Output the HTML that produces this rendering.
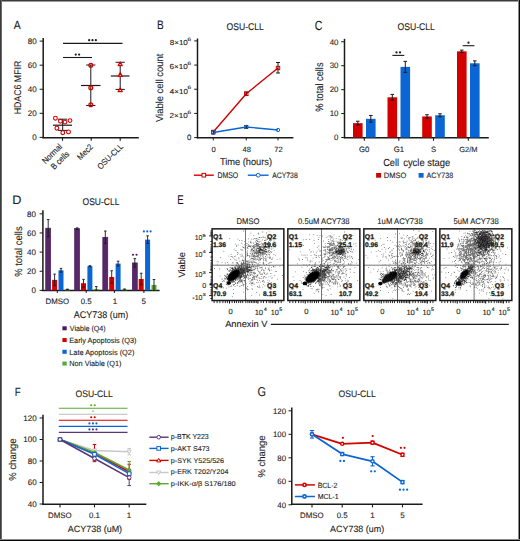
<!DOCTYPE html>
<html><head><meta charset="utf-8"><style>
html,body{margin:0;padding:0;background:#fff;}
svg{display:block;}
text{font-family:"Liberation Sans",sans-serif;text-rendering:geometricPrecision;}
</style></head><body>
<svg width="520" height="541" viewBox="0 0 520 541">
<defs><filter id="bl" x="-50%" y="-50%" width="200%" height="200%"><feGaussianBlur stdDeviation="0.7"/></filter></defs>
<rect x="0" y="0" width="520" height="541" fill="#fff"/>
<path fill="#000" fill-opacity="0.6" d="M237.4 263.0h0.8v0.8h-0.8zM264.3 276.3h0.8v0.8h-0.8zM257.0 275.0h0.8v0.8h-0.8zM256.9 264.5h0.8v0.8h-0.8zM261.6 269.2h0.8v0.8h-0.8zM262.0 274.0h0.8v0.8h-0.8zM232.4 267.9h0.8v0.8h-0.8zM263.4 272.0h0.8v0.8h-0.8zM248.1 277.4h0.8v0.8h-0.8zM247.8 271.3h0.8v0.8h-0.8zM253.1 275.8h0.8v0.8h-0.8zM267.3 272.8h0.8v0.8h-0.8zM270.9 286.0h0.8v0.8h-0.8zM269.3 280.4h0.8v0.8h-0.8zM253.4 275.7h0.8v0.8h-0.8zM250.7 269.3h0.8v0.8h-0.8zM251.4 269.9h0.8v0.8h-0.8zM268.5 276.4h0.8v0.8h-0.8zM247.6 260.5h0.8v0.8h-0.8zM251.6 271.7h0.8v0.8h-0.8zM241.2 267.7h0.8v0.8h-0.8zM229.6 282.9h0.8v0.8h-0.8zM251.4 295.2h0.8v0.8h-0.8zM251.8 273.7h0.8v0.8h-0.8zM266.5 273.6h0.8v0.8h-0.8zM253.8 271.7h0.8v0.8h-0.8zM246.0 287.6h0.8v0.8h-0.8zM262.1 286.7h0.8v0.8h-0.8zM248.6 275.6h0.8v0.8h-0.8zM243.3 283.8h0.8v0.8h-0.8zM238.2 281.5h0.8v0.8h-0.8zM263.1 284.2h0.8v0.8h-0.8zM242.7 284.9h0.8v0.8h-0.8zM245.0 270.1h0.8v0.8h-0.8zM238.9 286.0h0.8v0.8h-0.8zM268.6 267.6h0.8v0.8h-0.8zM244.5 273.4h0.8v0.8h-0.8zM277.2 278.7h0.8v0.8h-0.8zM246.7 261.7h0.8v0.8h-0.8zM245.4 285.2h0.8v0.8h-0.8zM270.8 269.8h0.8v0.8h-0.8zM245.2 272.0h0.8v0.8h-0.8zM233.2 285.0h0.8v0.8h-0.8zM241.2 284.9h0.8v0.8h-0.8zM235.0 267.6h0.8v0.8h-0.8zM255.0 268.4h0.8v0.8h-0.8zM259.9 273.7h0.8v0.8h-0.8zM240.4 281.6h0.8v0.8h-0.8zM260.5 258.5h0.8v0.8h-0.8zM270.4 275.8h0.8v0.8h-0.8zM259.7 259.1h0.8v0.8h-0.8zM244.9 273.3h0.8v0.8h-0.8zM262.9 261.7h0.8v0.8h-0.8zM243.3 260.4h0.8v0.8h-0.8zM249.7 277.9h0.8v0.8h-0.8zM235.2 272.9h0.8v0.8h-0.8zM257.2 286.5h0.8v0.8h-0.8zM258.7 271.4h0.8v0.8h-0.8zM240.3 269.4h0.8v0.8h-0.8zM245.5 277.1h0.8v0.8h-0.8zM251.6 288.0h0.8v0.8h-0.8zM255.0 266.0h0.8v0.8h-0.8zM267.5 279.8h0.8v0.8h-0.8zM253.1 269.0h0.8v0.8h-0.8zM233.4 269.8h0.8v0.8h-0.8zM261.2 267.1h0.8v0.8h-0.8zM238.9 278.5h0.8v0.8h-0.8zM254.5 279.2h0.8v0.8h-0.8zM258.7 284.8h0.8v0.8h-0.8zM243.7 283.9h0.8v0.8h-0.8zM242.2 281.9h0.8v0.8h-0.8zM253.9 276.5h0.8v0.8h-0.8zM261.8 273.2h0.8v0.8h-0.8zM263.2 279.9h0.8v0.8h-0.8zM253.5 270.2h0.8v0.8h-0.8zM244.6 271.9h0.8v0.8h-0.8zM250.1 275.0h0.8v0.8h-0.8zM281.9 275.1h0.8v0.8h-0.8zM259.8 266.9h0.8v0.8h-0.8zM245.0 273.5h0.8v0.8h-0.8zM254.0 266.4h0.8v0.8h-0.8zM268.2 267.9h0.8v0.8h-0.8zM262.9 254.8h0.8v0.8h-0.8zM252.0 277.0h0.8v0.8h-0.8zM254.0 279.3h0.8v0.8h-0.8zM254.9 275.7h0.8v0.8h-0.8zM233.2 272.3h0.8v0.8h-0.8zM228.7 283.5h0.8v0.8h-0.8zM255.2 272.8h0.8v0.8h-0.8zM243.9 271.6h0.8v0.8h-0.8zM270.6 285.5h0.8v0.8h-0.8zM251.5 285.0h0.8v0.8h-0.8zM236.2 262.2h0.8v0.8h-0.8zM247.3 268.8h0.8v0.8h-0.8zM246.5 277.2h0.8v0.8h-0.8zM282.3 264.8h0.8v0.8h-0.8zM252.6 276.9h0.8v0.8h-0.8zM251.8 282.2h0.8v0.8h-0.8zM269.9 262.3h0.8v0.8h-0.8zM253.7 272.5h0.8v0.8h-0.8zM255.7 262.3h0.8v0.8h-0.8zM234.5 259.5h0.8v0.8h-0.8zM257.4 275.5h0.8v0.8h-0.8zM252.8 256.2h0.8v0.8h-0.8zM248.4 269.5h0.8v0.8h-0.8zM238.0 269.9h0.8v0.8h-0.8zM259.1 278.0h0.8v0.8h-0.8zM251.9 278.9h0.8v0.8h-0.8zM246.1 276.4h0.8v0.8h-0.8zM252.5 279.1h0.8v0.8h-0.8zM251.4 273.8h0.8v0.8h-0.8zM250.8 270.0h0.8v0.8h-0.8zM274.4 275.3h0.8v0.8h-0.8zM256.4 292.1h0.8v0.8h-0.8zM266.1 260.4h0.8v0.8h-0.8zM259.1 280.3h0.8v0.8h-0.8zM270.9 282.1h0.8v0.8h-0.8zM259.8 264.4h0.8v0.8h-0.8zM243.4 278.4h0.8v0.8h-0.8zM257.1 266.0h0.8v0.8h-0.8zM248.3 272.3h0.8v0.8h-0.8zM252.7 277.4h0.8v0.8h-0.8zM249.2 265.6h0.8v0.8h-0.8zM264.5 285.4h0.8v0.8h-0.8zM251.0 283.1h0.8v0.8h-0.8zM256.5 279.3h0.8v0.8h-0.8zM256.9 268.1h0.8v0.8h-0.8zM257.8 281.9h0.8v0.8h-0.8zM243.1 291.7h0.8v0.8h-0.8zM273.0 285.8h0.8v0.8h-0.8zM272.0 277.5h0.8v0.8h-0.8zM248.7 270.7h0.8v0.8h-0.8zM244.0 277.1h0.8v0.8h-0.8zM251.8 280.2h0.8v0.8h-0.8zM231.9 296.2h0.8v0.8h-0.8zM274.9 271.0h0.8v0.8h-0.8zM258.9 277.5h0.8v0.8h-0.8zM254.8 272.8h0.8v0.8h-0.8zM250.9 268.6h0.8v0.8h-0.8zM253.9 274.4h0.8v0.8h-0.8zM255.3 267.6h0.8v0.8h-0.8zM252.5 275.2h0.8v0.8h-0.8zM258.1 265.5h0.8v0.8h-0.8zM256.3 281.9h0.8v0.8h-0.8zM258.1 271.0h0.8v0.8h-0.8zM247.2 273.8h0.8v0.8h-0.8zM259.4 285.9h0.8v0.8h-0.8zM250.5 270.1h0.8v0.8h-0.8zM255.9 275.9h0.8v0.8h-0.8zM243.0 270.5h0.8v0.8h-0.8zM251.1 280.3h0.8v0.8h-0.8zM240.2 268.8h0.8v0.8h-0.8zM257.1 264.5h0.8v0.8h-0.8zM253.2 277.4h0.8v0.8h-0.8zM251.0 267.0h0.8v0.8h-0.8zM251.5 272.3h0.8v0.8h-0.8zM255.5 267.7h0.8v0.8h-0.8zM263.0 260.0h0.8v0.8h-0.8zM250.3 275.2h0.8v0.8h-0.8zM261.7 268.5h0.8v0.8h-0.8zM257.6 269.5h0.8v0.8h-0.8zM259.5 287.3h0.8v0.8h-0.8zM248.1 279.0h0.8v0.8h-0.8zM242.8 284.0h0.8v0.8h-0.8zM264.2 273.2h0.8v0.8h-0.8zM240.8 279.8h0.8v0.8h-0.8zM263.6 281.6h0.8v0.8h-0.8zM260.2 259.2h0.8v0.8h-0.8zM245.3 287.1h0.8v0.8h-0.8zM239.8 285.7h0.8v0.8h-0.8zM270.9 277.8h0.8v0.8h-0.8zM263.3 270.4h0.8v0.8h-0.8zM239.8 276.0h0.8v0.8h-0.8zM250.1 274.8h0.8v0.8h-0.8zM259.1 272.6h0.8v0.8h-0.8zM254.0 277.9h0.8v0.8h-0.8zM252.0 289.3h0.8v0.8h-0.8zM256.5 274.8h0.8v0.8h-0.8zM250.0 270.3h0.8v0.8h-0.8zM265.5 273.9h0.8v0.8h-0.8zM241.3 272.2h0.8v0.8h-0.8zM250.7 271.6h0.8v0.8h-0.8zM262.9 264.0h0.8v0.8h-0.8zM257.0 275.2h0.8v0.8h-0.8zM240.3 277.1h0.8v0.8h-0.8zM251.2 278.9h0.8v0.8h-0.8zM247.6 277.9h0.8v0.8h-0.8zM235.4 269.0h0.8v0.8h-0.8zM259.9 281.8h0.8v0.8h-0.8zM252.0 270.2h0.8v0.8h-0.8zM262.9 256.7h0.8v0.8h-0.8zM244.1 281.4h0.8v0.8h-0.8zM258.6 265.7h0.8v0.8h-0.8zM233.2 289.3h0.8v0.8h-0.8zM253.6 267.6h0.8v0.8h-0.8zM252.6 281.8h0.8v0.8h-0.8zM226.2 287.7h0.8v0.8h-0.8zM259.5 257.4h0.8v0.8h-0.8zM259.8 259.7h0.8v0.8h-0.8zM263.5 276.2h0.8v0.8h-0.8zM274.6 266.5h0.8v0.8h-0.8zM252.1 283.1h0.8v0.8h-0.8zM245.7 270.3h0.8v0.8h-0.8zM248.4 274.9h0.8v0.8h-0.8zM241.3 280.4h0.8v0.8h-0.8zM257.5 274.5h0.8v0.8h-0.8zM269.1 269.6h0.8v0.8h-0.8zM265.2 268.5h0.8v0.8h-0.8zM259.7 258.5h0.8v0.8h-0.8zM254.1 273.2h0.8v0.8h-0.8zM247.1 270.9h0.8v0.8h-0.8zM248.6 269.8h0.8v0.8h-0.8zM230.2 273.7h0.8v0.8h-0.8zM246.6 271.6h0.8v0.8h-0.8zM241.5 275.5h0.8v0.8h-0.8zM259.9 271.6h0.8v0.8h-0.8zM247.2 286.3h0.8v0.8h-0.8zM261.9 280.5h0.8v0.8h-0.8zM263.7 270.4h0.8v0.8h-0.8zM250.8 283.8h0.8v0.8h-0.8zM246.6 274.8h0.8v0.8h-0.8zM255.9 277.2h0.8v0.8h-0.8zM249.3 283.0h0.8v0.8h-0.8zM250.3 280.8h0.8v0.8h-0.8zM262.8 278.3h0.8v0.8h-0.8zM259.4 264.6h0.8v0.8h-0.8zM239.0 272.1h0.8v0.8h-0.8zM256.9 285.9h0.8v0.8h-0.8zM239.9 279.2h0.8v0.8h-0.8zM243.6 270.5h0.8v0.8h-0.8zM249.3 280.7h0.8v0.8h-0.8zM254.2 283.8h0.8v0.8h-0.8zM242.2 283.4h0.8v0.8h-0.8zM261.4 273.9h0.8v0.8h-0.8zM256.9 269.7h0.8v0.8h-0.8zM241.2 273.4h0.8v0.8h-0.8zM245.7 298.5h0.8v0.8h-0.8zM247.2 288.6h0.8v0.8h-0.8zM254.1 277.0h0.8v0.8h-0.8zM259.5 267.6h0.8v0.8h-0.8zM261.3 276.3h0.8v0.8h-0.8zM236.9 282.0h0.8v0.8h-0.8zM257.6 277.5h0.8v0.8h-0.8zM267.9 269.1h0.8v0.8h-0.8zM257.2 279.9h0.8v0.8h-0.8zM243.1 285.7h0.8v0.8h-0.8zM237.6 267.0h0.8v0.8h-0.8zM257.3 265.5h0.8v0.8h-0.8zM250.9 262.1h0.8v0.8h-0.8zM252.8 265.9h0.8v0.8h-0.8zM262.0 239.4h0.8v0.8h-0.8zM262.7 247.6h0.8v0.8h-0.8zM260.0 248.9h0.8v0.8h-0.8zM260.5 240.8h0.8v0.8h-0.8zM241.6 249.6h0.8v0.8h-0.8zM253.0 246.4h0.8v0.8h-0.8zM262.6 236.4h0.8v0.8h-0.8zM254.3 245.4h0.8v0.8h-0.8zM252.2 251.5h0.8v0.8h-0.8zM258.6 244.0h0.8v0.8h-0.8zM252.7 254.6h0.8v0.8h-0.8zM255.0 253.2h0.8v0.8h-0.8zM262.7 237.0h0.8v0.8h-0.8zM252.0 249.4h0.8v0.8h-0.8zM262.0 254.4h0.8v0.8h-0.8zM265.2 256.1h0.8v0.8h-0.8zM257.0 248.0h0.8v0.8h-0.8zM265.0 246.6h0.8v0.8h-0.8zM267.0 239.0h0.8v0.8h-0.8zM264.2 248.2h0.8v0.8h-0.8zM245.8 255.7h0.8v0.8h-0.8zM261.8 249.5h0.8v0.8h-0.8zM252.1 246.3h0.8v0.8h-0.8zM270.2 244.0h0.8v0.8h-0.8zM235.3 243.8h0.8v0.8h-0.8zM251.2 248.5h0.8v0.8h-0.8zM256.8 243.4h0.8v0.8h-0.8zM253.7 256.2h0.8v0.8h-0.8zM249.5 262.1h0.8v0.8h-0.8zM255.8 242.2h0.8v0.8h-0.8zM265.1 253.0h0.8v0.8h-0.8zM252.3 254.2h0.8v0.8h-0.8zM246.7 243.3h0.8v0.8h-0.8zM267.5 247.7h0.8v0.8h-0.8zM250.5 252.7h0.8v0.8h-0.8zM266.0 249.2h0.8v0.8h-0.8zM247.0 247.1h0.8v0.8h-0.8zM262.5 254.3h0.8v0.8h-0.8zM272.6 247.7h0.8v0.8h-0.8zM256.2 249.1h0.8v0.8h-0.8zM268.0 243.2h0.8v0.8h-0.8zM268.7 231.5h0.8v0.8h-0.8zM265.2 245.0h0.8v0.8h-0.8zM262.8 253.8h0.8v0.8h-0.8zM251.3 248.8h0.8v0.8h-0.8zM261.3 253.2h0.8v0.8h-0.8zM253.1 242.9h0.8v0.8h-0.8zM246.1 265.9h0.8v0.8h-0.8zM258.3 247.9h0.8v0.8h-0.8zM249.1 255.4h0.8v0.8h-0.8zM255.9 258.7h0.8v0.8h-0.8zM265.6 249.5h0.8v0.8h-0.8zM264.7 242.1h0.8v0.8h-0.8zM257.3 245.6h0.8v0.8h-0.8zM250.7 249.5h0.8v0.8h-0.8zM258.6 258.7h0.8v0.8h-0.8zM236.1 245.0h0.8v0.8h-0.8zM253.2 246.3h0.8v0.8h-0.8zM262.6 252.0h0.8v0.8h-0.8zM259.8 246.3h0.8v0.8h-0.8zM263.1 251.7h0.8v0.8h-0.8zM246.7 247.6h0.8v0.8h-0.8zM250.0 241.7h0.8v0.8h-0.8zM260.6 249.7h0.8v0.8h-0.8zM260.4 243.7h0.8v0.8h-0.8zM258.2 243.4h0.8v0.8h-0.8zM262.3 253.8h0.8v0.8h-0.8zM271.9 257.6h0.8v0.8h-0.8zM254.0 246.4h0.8v0.8h-0.8zM253.0 251.3h0.8v0.8h-0.8zM273.5 254.0h0.8v0.8h-0.8zM244.2 241.2h0.8v0.8h-0.8zM250.6 252.7h0.8v0.8h-0.8zM259.6 251.3h0.8v0.8h-0.8zM272.1 244.0h0.8v0.8h-0.8zM253.7 262.1h0.8v0.8h-0.8zM262.0 244.3h0.8v0.8h-0.8zM245.4 239.4h0.8v0.8h-0.8zM242.5 249.8h0.8v0.8h-0.8zM259.9 255.8h0.8v0.8h-0.8zM258.6 244.8h0.8v0.8h-0.8zM254.4 261.7h0.8v0.8h-0.8zM247.2 250.5h0.8v0.8h-0.8zM259.8 253.4h0.8v0.8h-0.8zM256.8 252.6h0.8v0.8h-0.8zM265.3 248.4h0.8v0.8h-0.8zM256.4 248.1h0.8v0.8h-0.8zM252.8 248.0h0.8v0.8h-0.8zM257.5 250.7h0.8v0.8h-0.8zM269.0 257.9h0.8v0.8h-0.8zM256.5 253.3h0.8v0.8h-0.8zM261.7 254.3h0.8v0.8h-0.8zM259.8 251.1h0.8v0.8h-0.8zM256.3 244.3h0.8v0.8h-0.8zM265.7 257.8h0.8v0.8h-0.8zM264.2 252.2h0.8v0.8h-0.8zM261.5 246.4h0.8v0.8h-0.8zM247.1 253.7h0.8v0.8h-0.8zM261.0 245.7h0.8v0.8h-0.8zM252.8 257.7h0.8v0.8h-0.8zM247.0 260.8h0.8v0.8h-0.8zM264.1 264.8h0.8v0.8h-0.8zM254.6 249.2h0.8v0.8h-0.8zM256.1 250.4h0.8v0.8h-0.8zM258.1 244.5h0.8v0.8h-0.8zM267.1 244.2h0.8v0.8h-0.8zM256.0 253.0h0.8v0.8h-0.8zM255.8 246.5h0.8v0.8h-0.8zM262.1 247.0h0.8v0.8h-0.8zM250.9 248.7h0.8v0.8h-0.8zM258.1 260.4h0.8v0.8h-0.8zM251.9 255.7h0.8v0.8h-0.8zM254.1 247.0h0.8v0.8h-0.8zM257.3 251.1h0.8v0.8h-0.8zM265.6 260.7h0.8v0.8h-0.8zM255.1 258.0h0.8v0.8h-0.8zM266.6 254.6h0.8v0.8h-0.8zM254.3 255.2h0.8v0.8h-0.8zM258.8 251.6h0.8v0.8h-0.8zM257.7 253.7h0.8v0.8h-0.8zM267.4 256.7h0.8v0.8h-0.8zM258.2 255.8h0.8v0.8h-0.8zM269.8 243.3h0.8v0.8h-0.8zM269.9 240.7h0.8v0.8h-0.8zM263.4 253.2h0.8v0.8h-0.8zM270.0 251.2h0.8v0.8h-0.8zM256.2 244.2h0.8v0.8h-0.8zM250.8 254.3h0.8v0.8h-0.8zM257.9 244.7h0.8v0.8h-0.8zM263.3 244.4h0.8v0.8h-0.8zM256.5 246.4h0.8v0.8h-0.8zM271.2 258.9h0.8v0.8h-0.8zM258.5 239.1h0.8v0.8h-0.8zM261.5 249.8h0.8v0.8h-0.8zM262.0 253.0h0.8v0.8h-0.8zM257.4 255.4h0.8v0.8h-0.8zM265.5 250.7h0.8v0.8h-0.8zM256.8 246.2h0.8v0.8h-0.8zM264.4 242.2h0.8v0.8h-0.8zM258.5 244.5h0.8v0.8h-0.8zM249.8 253.3h0.8v0.8h-0.8zM259.4 249.6h0.8v0.8h-0.8zM265.7 239.6h0.8v0.8h-0.8zM259.1 251.2h0.8v0.8h-0.8zM265.4 242.3h0.8v0.8h-0.8zM264.6 250.8h0.8v0.8h-0.8zM269.1 256.8h0.8v0.8h-0.8zM263.4 263.3h0.8v0.8h-0.8zM259.6 246.6h0.8v0.8h-0.8zM257.2 243.2h0.8v0.8h-0.8zM259.4 237.1h0.8v0.8h-0.8zM259.0 252.1h0.8v0.8h-0.8zM266.5 247.1h0.8v0.8h-0.8zM269.3 245.1h0.8v0.8h-0.8zM258.7 237.1h0.8v0.8h-0.8zM254.3 244.2h0.8v0.8h-0.8zM269.8 252.7h0.8v0.8h-0.8zM252.1 252.7h0.8v0.8h-0.8zM262.9 247.9h0.8v0.8h-0.8zM259.8 247.4h0.8v0.8h-0.8zM255.9 238.1h0.8v0.8h-0.8zM259.0 257.5h0.8v0.8h-0.8zM269.4 247.6h0.8v0.8h-0.8zM254.5 248.0h0.8v0.8h-0.8zM265.7 251.6h0.8v0.8h-0.8zM255.6 251.6h0.8v0.8h-0.8zM258.2 252.6h0.8v0.8h-0.8zM256.8 240.0h0.8v0.8h-0.8zM260.0 254.2h0.8v0.8h-0.8zM252.0 248.7h0.8v0.8h-0.8zM265.6 247.0h0.8v0.8h-0.8zM255.2 262.2h0.8v0.8h-0.8zM265.3 255.9h0.8v0.8h-0.8zM253.1 259.7h0.8v0.8h-0.8zM248.3 246.1h0.8v0.8h-0.8zM264.6 257.8h0.8v0.8h-0.8zM253.3 245.1h0.8v0.8h-0.8zM260.9 237.2h0.8v0.8h-0.8zM264.0 252.9h0.8v0.8h-0.8zM256.6 252.7h0.8v0.8h-0.8zM264.9 251.3h0.8v0.8h-0.8zM263.2 258.9h0.8v0.8h-0.8zM256.4 250.4h0.8v0.8h-0.8zM256.0 255.9h0.8v0.8h-0.8zM256.8 252.3h0.8v0.8h-0.8zM260.5 249.8h0.8v0.8h-0.8zM271.2 248.8h0.8v0.8h-0.8zM269.2 254.6h0.8v0.8h-0.8zM268.5 248.3h0.8v0.8h-0.8zM265.9 254.1h0.8v0.8h-0.8zM255.4 251.0h0.8v0.8h-0.8zM258.7 249.1h0.8v0.8h-0.8zM268.4 244.8h0.8v0.8h-0.8zM248.2 238.4h0.8v0.8h-0.8zM256.5 245.3h0.8v0.8h-0.8zM259.7 252.9h0.8v0.8h-0.8zM271.5 251.3h0.8v0.8h-0.8zM262.7 244.7h0.8v0.8h-0.8zM263.5 257.9h0.8v0.8h-0.8zM268.7 237.1h0.8v0.8h-0.8zM265.6 259.3h0.8v0.8h-0.8zM265.2 240.0h0.8v0.8h-0.8zM257.5 253.0h0.8v0.8h-0.8zM262.4 244.3h0.8v0.8h-0.8zM253.6 255.4h0.8v0.8h-0.8zM250.6 258.3h0.8v0.8h-0.8zM259.7 251.2h0.8v0.8h-0.8zM250.6 245.6h0.8v0.8h-0.8zM264.2 240.1h0.8v0.8h-0.8zM273.6 240.6h0.8v0.8h-0.8zM251.4 249.6h0.8v0.8h-0.8zM262.8 253.9h0.8v0.8h-0.8zM257.1 248.1h0.8v0.8h-0.8zM258.0 245.8h0.8v0.8h-0.8zM242.2 255.4h0.8v0.8h-0.8zM261.3 250.3h0.8v0.8h-0.8zM255.4 250.9h0.8v0.8h-0.8zM259.5 248.9h0.8v0.8h-0.8zM267.0 238.6h0.8v0.8h-0.8zM261.3 242.7h0.8v0.8h-0.8zM257.5 258.7h0.8v0.8h-0.8zM252.3 248.7h0.8v0.8h-0.8zM255.6 255.3h0.8v0.8h-0.8zM253.0 238.8h0.8v0.8h-0.8zM263.1 247.1h0.8v0.8h-0.8zM257.5 256.1h0.8v0.8h-0.8zM253.6 247.0h0.8v0.8h-0.8zM260.6 251.9h0.8v0.8h-0.8zM256.1 255.8h0.8v0.8h-0.8zM274.7 246.8h0.8v0.8h-0.8zM272.2 236.2h0.8v0.8h-0.8zM269.1 247.2h0.8v0.8h-0.8zM260.5 247.2h0.8v0.8h-0.8zM255.3 241.4h0.8v0.8h-0.8zM256.9 257.4h0.8v0.8h-0.8zM267.3 247.2h0.8v0.8h-0.8zM256.1 245.0h0.8v0.8h-0.8zM251.5 260.6h0.8v0.8h-0.8zM264.1 250.1h0.8v0.8h-0.8zM256.3 243.0h0.8v0.8h-0.8zM268.4 254.2h0.8v0.8h-0.8zM253.2 255.5h0.8v0.8h-0.8zM252.2 253.4h0.8v0.8h-0.8zM253.1 246.8h0.8v0.8h-0.8zM262.9 252.0h0.8v0.8h-0.8zM266.4 244.1h0.8v0.8h-0.8zM270.2 257.7h0.8v0.8h-0.8zM259.5 252.3h0.8v0.8h-0.8zM254.4 248.4h0.8v0.8h-0.8zM250.7 249.9h0.8v0.8h-0.8zM260.9 257.7h0.8v0.8h-0.8zM266.0 254.4h0.8v0.8h-0.8zM257.2 247.9h0.8v0.8h-0.8zM257.3 250.7h0.8v0.8h-0.8zM246.6 254.2h0.8v0.8h-0.8zM249.1 246.1h0.8v0.8h-0.8zM259.7 246.1h0.8v0.8h-0.8zM270.8 248.7h0.8v0.8h-0.8zM270.2 256.7h0.8v0.8h-0.8zM256.3 251.9h0.8v0.8h-0.8zM268.3 247.3h0.8v0.8h-0.8zM260.2 245.9h0.8v0.8h-0.8zM260.0 247.1h0.8v0.8h-0.8zM260.2 255.6h0.8v0.8h-0.8zM269.0 250.2h0.8v0.8h-0.8zM261.0 254.7h0.8v0.8h-0.8zM257.7 242.7h0.8v0.8h-0.8zM267.1 243.5h0.8v0.8h-0.8zM265.9 243.3h0.8v0.8h-0.8zM271.9 242.8h0.8v0.8h-0.8zM265.3 258.7h0.8v0.8h-0.8zM253.1 258.6h0.8v0.8h-0.8zM254.1 238.3h0.8v0.8h-0.8zM264.5 253.7h0.8v0.8h-0.8zM258.2 233.6h0.8v0.8h-0.8zM259.2 247.4h0.8v0.8h-0.8zM257.1 247.5h0.8v0.8h-0.8zM247.6 245.8h0.8v0.8h-0.8zM271.7 259.0h0.8v0.8h-0.8zM257.2 244.9h0.8v0.8h-0.8zM262.3 256.0h0.8v0.8h-0.8zM264.5 242.1h0.8v0.8h-0.8zM260.7 250.2h0.8v0.8h-0.8zM269.3 256.8h0.8v0.8h-0.8zM263.1 256.9h0.8v0.8h-0.8zM256.9 258.9h0.8v0.8h-0.8zM256.7 251.8h0.8v0.8h-0.8zM265.8 243.6h0.8v0.8h-0.8zM254.9 238.4h0.8v0.8h-0.8zM260.7 249.0h0.8v0.8h-0.8zM257.4 252.5h0.8v0.8h-0.8zM245.4 249.2h0.8v0.8h-0.8zM260.2 247.7h0.8v0.8h-0.8zM264.9 260.3h0.8v0.8h-0.8zM256.6 243.5h0.8v0.8h-0.8zM255.5 249.9h0.8v0.8h-0.8zM263.5 244.0h0.8v0.8h-0.8zM266.3 243.0h0.8v0.8h-0.8zM265.2 252.0h0.8v0.8h-0.8zM262.7 262.8h0.8v0.8h-0.8zM257.8 248.3h0.8v0.8h-0.8zM262.8 254.7h0.8v0.8h-0.8zM250.6 251.1h0.8v0.8h-0.8zM254.6 253.3h0.8v0.8h-0.8zM268.8 249.7h0.8v0.8h-0.8zM258.9 250.5h0.8v0.8h-0.8zM239.7 254.2h0.8v0.8h-0.8zM263.4 250.4h0.8v0.8h-0.8zM256.9 244.8h0.8v0.8h-0.8zM258.4 256.9h0.8v0.8h-0.8zM258.9 257.8h0.8v0.8h-0.8zM242.3 246.5h0.8v0.8h-0.8zM261.4 249.3h0.8v0.8h-0.8zM248.4 245.2h0.8v0.8h-0.8zM268.0 241.3h0.8v0.8h-0.8zM252.9 242.5h0.8v0.8h-0.8zM255.9 253.4h0.8v0.8h-0.8zM263.6 236.7h0.8v0.8h-0.8zM269.4 245.7h0.8v0.8h-0.8zM255.6 259.8h0.8v0.8h-0.8zM259.1 241.6h0.8v0.8h-0.8zM255.3 244.8h0.8v0.8h-0.8zM252.8 247.3h0.8v0.8h-0.8zM265.5 251.5h0.8v0.8h-0.8zM250.3 266.7h0.8v0.8h-0.8zM252.9 250.1h0.8v0.8h-0.8zM259.8 254.1h0.8v0.8h-0.8zM257.4 252.2h0.8v0.8h-0.8zM273.8 249.9h0.8v0.8h-0.8zM252.3 251.4h0.8v0.8h-0.8zM254.2 247.0h0.8v0.8h-0.8zM260.9 251.5h0.8v0.8h-0.8zM257.7 254.6h0.8v0.8h-0.8zM258.3 241.2h0.8v0.8h-0.8zM265.5 247.1h0.8v0.8h-0.8zM267.8 245.3h0.8v0.8h-0.8zM263.4 251.3h0.8v0.8h-0.8zM241.5 240.0h0.8v0.8h-0.8zM252.1 258.1h0.8v0.8h-0.8zM246.9 255.1h0.8v0.8h-0.8zM266.9 252.4h0.8v0.8h-0.8zM264.1 246.3h0.8v0.8h-0.8zM259.5 250.8h0.8v0.8h-0.8zM262.4 253.8h0.8v0.8h-0.8zM258.2 245.0h0.8v0.8h-0.8zM255.8 251.9h0.8v0.8h-0.8zM248.4 241.5h0.8v0.8h-0.8zM256.8 245.9h0.8v0.8h-0.8zM257.8 232.7h0.8v0.8h-0.8zM257.3 247.8h0.8v0.8h-0.8zM264.8 237.0h0.8v0.8h-0.8zM257.5 252.3h0.8v0.8h-0.8zM262.9 256.8h0.8v0.8h-0.8zM266.7 242.8h0.8v0.8h-0.8zM263.9 247.3h0.8v0.8h-0.8zM254.2 258.9h0.8v0.8h-0.8zM255.4 244.0h0.8v0.8h-0.8zM256.9 244.0h0.8v0.8h-0.8zM266.4 251.7h0.8v0.8h-0.8zM269.0 251.9h0.8v0.8h-0.8zM255.5 255.9h0.8v0.8h-0.8zM255.2 246.5h0.8v0.8h-0.8zM258.5 249.6h0.8v0.8h-0.8zM267.6 245.6h0.8v0.8h-0.8zM262.0 249.2h0.8v0.8h-0.8zM251.1 242.5h0.8v0.8h-0.8zM258.1 251.9h0.8v0.8h-0.8zM261.8 252.3h0.8v0.8h-0.8zM259.9 246.5h0.8v0.8h-0.8zM262.5 243.1h0.8v0.8h-0.8zM250.5 247.3h0.8v0.8h-0.8zM250.0 246.1h0.8v0.8h-0.8zM254.6 245.9h0.8v0.8h-0.8zM259.3 244.3h0.8v0.8h-0.8zM256.7 238.6h0.8v0.8h-0.8zM260.6 243.8h0.8v0.8h-0.8zM262.3 231.6h0.8v0.8h-0.8zM254.2 250.9h0.8v0.8h-0.8zM243.1 247.1h0.8v0.8h-0.8zM260.2 250.0h0.8v0.8h-0.8zM227.0 261.9h0.8v0.8h-0.8zM252.4 245.7h0.8v0.8h-0.8zM261.6 258.2h0.8v0.8h-0.8zM250.4 252.8h0.8v0.8h-0.8zM258.6 260.2h0.8v0.8h-0.8zM267.7 265.0h0.8v0.8h-0.8zM240.6 255.8h0.8v0.8h-0.8zM264.3 253.9h0.8v0.8h-0.8zM256.0 265.9h0.8v0.8h-0.8zM252.1 261.7h0.8v0.8h-0.8zM252.2 248.6h0.8v0.8h-0.8zM268.8 257.0h0.8v0.8h-0.8zM240.5 249.1h0.8v0.8h-0.8zM255.6 244.1h0.8v0.8h-0.8zM234.6 285.9h0.8v0.8h-0.8zM270.4 273.1h0.8v0.8h-0.8zM271.2 266.9h0.8v0.8h-0.8zM224.0 275.0h0.8v0.8h-0.8zM269.3 265.5h0.8v0.8h-0.8zM219.8 275.7h0.8v0.8h-0.8zM271.2 252.2h0.8v0.8h-0.8zM252.1 269.4h0.8v0.8h-0.8zM248.8 273.7h0.8v0.8h-0.8zM251.4 268.2h0.8v0.8h-0.8zM251.4 238.8h0.8v0.8h-0.8zM254.4 276.6h0.8v0.8h-0.8zM267.7 282.1h0.8v0.8h-0.8zM258.7 250.8h0.8v0.8h-0.8zM250.4 232.8h0.8v0.8h-0.8zM247.2 271.2h0.8v0.8h-0.8zM216.6 261.5h0.8v0.8h-0.8zM262.9 276.9h0.8v0.8h-0.8zM235.7 250.0h0.8v0.8h-0.8zM221.0 245.0h0.8v0.8h-0.8zM258.4 287.0h0.8v0.8h-0.8zM232.3 277.6h0.8v0.8h-0.8zM256.7 252.1h0.8v0.8h-0.8zM249.1 261.8h0.8v0.8h-0.8zM265.3 277.4h0.8v0.8h-0.8zM258.1 263.7h0.8v0.8h-0.8zM247.2 253.3h0.8v0.8h-0.8zM231.0 285.4h0.8v0.8h-0.8zM243.2 230.6h0.8v0.8h-0.8zM254.2 258.4h0.8v0.8h-0.8zM252.8 283.5h0.8v0.8h-0.8zM248.4 255.2h0.8v0.8h-0.8zM238.5 258.5h0.8v0.8h-0.8zM243.3 261.6h0.8v0.8h-0.8zM236.8 285.1h0.8v0.8h-0.8zM263.5 270.0h0.8v0.8h-0.8zM261.2 270.0h0.8v0.8h-0.8zM260.6 278.1h0.8v0.8h-0.8zM265.8 277.2h0.8v0.8h-0.8zM242.3 258.8h0.8v0.8h-0.8zM238.7 271.9h0.8v0.8h-0.8zM263.0 252.5h0.8v0.8h-0.8zM259.2 294.6h0.8v0.8h-0.8zM269.4 243.6h0.8v0.8h-0.8zM248.7 267.5h0.8v0.8h-0.8zM249.5 264.1h0.8v0.8h-0.8zM268.5 263.3h0.8v0.8h-0.8zM233.0 268.6h0.8v0.8h-0.8zM248.6 260.4h0.8v0.8h-0.8zM241.3 240.0h0.8v0.8h-0.8zM230.7 254.0h0.8v0.8h-0.8zM268.0 243.0h0.8v0.8h-0.8zM238.8 266.1h0.8v0.8h-0.8zM238.1 267.8h0.8v0.8h-0.8zM242.6 263.0h0.8v0.8h-0.8zM251.7 258.8h0.8v0.8h-0.8zM221.6 238.8h0.8v0.8h-0.8zM249.5 278.1h0.8v0.8h-0.8zM241.6 266.1h0.8v0.8h-0.8zM252.6 265.4h0.8v0.8h-0.8zM265.6 238.4h0.8v0.8h-0.8zM254.4 256.4h0.8v0.8h-0.8zM245.2 247.2h0.8v0.8h-0.8zM237.8 244.8h0.8v0.8h-0.8zM233.0 293.1h0.8v0.8h-0.8zM276.6 259.0h0.8v0.8h-0.8zM261.7 245.5h0.8v0.8h-0.8zM252.3 278.5h0.8v0.8h-0.8zM249.4 245.2h0.8v0.8h-0.8zM246.3 245.2h0.8v0.8h-0.8zM228.4 255.7h0.8v0.8h-0.8zM243.9 247.8h0.8v0.8h-0.8zM236.3 246.2h0.8v0.8h-0.8zM253.8 277.9h0.8v0.8h-0.8zM246.8 289.4h0.8v0.8h-0.8zM224.9 262.6h0.8v0.8h-0.8zM232.1 256.7h0.8v0.8h-0.8zM251.7 266.5h0.8v0.8h-0.8zM267.7 251.3h0.8v0.8h-0.8zM230.7 256.3h0.8v0.8h-0.8zM254.7 249.3h0.8v0.8h-0.8zM264.0 281.8h0.8v0.8h-0.8zM227.9 263.8h0.8v0.8h-0.8zM266.0 232.6h0.8v0.8h-0.8zM253.3 255.8h0.8v0.8h-0.8zM227.9 276.8h0.8v0.8h-0.8zM253.5 252.3h0.8v0.8h-0.8zM257.0 267.6h0.8v0.8h-0.8zM262.1 266.8h0.8v0.8h-0.8zM256.5 242.8h0.8v0.8h-0.8zM243.5 260.6h0.8v0.8h-0.8zM244.2 244.5h0.8v0.8h-0.8zM221.7 262.2h0.8v0.8h-0.8zM250.6 250.9h0.8v0.8h-0.8zM243.6 246.7h0.8v0.8h-0.8zM238.4 257.5h0.8v0.8h-0.8zM240.1 268.1h0.8v0.8h-0.8zM247.9 260.7h0.8v0.8h-0.8zM256.4 276.2h0.8v0.8h-0.8zM259.5 262.0h0.8v0.8h-0.8zM247.6 247.9h0.8v0.8h-0.8zM244.8 268.2h0.8v0.8h-0.8zM253.6 253.6h0.8v0.8h-0.8zM229.3 237.9h0.8v0.8h-0.8zM255.1 272.9h0.8v0.8h-0.8zM255.9 240.1h0.8v0.8h-0.8zM246.8 261.9h0.8v0.8h-0.8zM235.8 263.6h0.8v0.8h-0.8zM247.0 247.5h0.8v0.8h-0.8zM230.7 269.9h0.8v0.8h-0.8zM255.7 246.7h0.8v0.8h-0.8zM234.3 271.0h0.8v0.8h-0.8zM259.4 254.7h0.8v0.8h-0.8zM274.9 254.9h0.8v0.8h-0.8zM233.6 273.7h0.8v0.8h-0.8zM247.2 263.6h0.8v0.8h-0.8zM250.7 245.2h0.8v0.8h-0.8zM231.6 256.2h0.8v0.8h-0.8zM272.0 245.2h0.8v0.8h-0.8zM271.3 261.9h0.8v0.8h-0.8zM232.8 262.5h0.8v0.8h-0.8zM258.9 246.6h0.8v0.8h-0.8zM216.9 263.7h0.8v0.8h-0.8zM232.8 264.9h0.8v0.8h-0.8zM220.3 256.9h0.8v0.8h-0.8zM237.5 238.7h0.8v0.8h-0.8zM246.3 261.2h0.8v0.8h-0.8zM241.4 242.8h0.8v0.8h-0.8zM253.4 235.0h0.8v0.8h-0.8zM258.4 265.5h0.8v0.8h-0.8zM276.2 270.9h0.8v0.8h-0.8zM255.6 262.4h0.8v0.8h-0.8zM250.5 240.8h0.8v0.8h-0.8zM272.9 266.0h0.8v0.8h-0.8zM245.6 243.3h0.8v0.8h-0.8zM273.2 266.1h0.8v0.8h-0.8zM231.7 268.0h0.8v0.8h-0.8zM279.6 258.5h0.8v0.8h-0.8zM256.3 253.2h0.8v0.8h-0.8zM240.3 273.4h0.8v0.8h-0.8zM248.2 269.6h0.8v0.8h-0.8zM245.4 268.8h0.8v0.8h-0.8zM263.0 245.0h0.8v0.8h-0.8zM233.4 257.8h0.8v0.8h-0.8zM263.0 262.6h0.8v0.8h-0.8zM269.4 240.1h0.8v0.8h-0.8zM257.8 250.4h0.8v0.8h-0.8zM251.7 263.2h0.8v0.8h-0.8zM235.0 255.7h0.8v0.8h-0.8zM232.0 262.5h0.8v0.8h-0.8zM236.9 252.1h0.8v0.8h-0.8zM253.5 250.0h0.8v0.8h-0.8zM267.9 250.2h0.8v0.8h-0.8zM263.3 262.7h0.8v0.8h-0.8zM234.0 255.9h0.8v0.8h-0.8zM237.1 253.9h0.8v0.8h-0.8zM245.9 283.5h0.8v0.8h-0.8zM243.6 280.1h0.8v0.8h-0.8zM257.0 241.1h0.8v0.8h-0.8zM214.2 268.1h0.8v0.8h-0.8zM219.2 268.6h0.8v0.8h-0.8zM266.1 264.1h0.8v0.8h-0.8zM246.9 255.4h0.8v0.8h-0.8zM254.1 254.7h0.8v0.8h-0.8zM241.8 253.8h0.8v0.8h-0.8zM268.2 250.4h0.8v0.8h-0.8zM256.0 243.2h0.8v0.8h-0.8zM239.1 240.2h0.8v0.8h-0.8zM247.0 268.1h0.8v0.8h-0.8zM254.8 252.2h0.8v0.8h-0.8zM259.6 254.1h0.8v0.8h-0.8zM255.9 262.6h0.8v0.8h-0.8zM229.9 269.3h0.8v0.8h-0.8zM248.4 289.3h0.8v0.8h-0.8zM246.5 251.4h0.8v0.8h-0.8zM273.2 266.4h0.8v0.8h-0.8zM279.5 265.8h0.8v0.8h-0.8zM246.9 268.7h0.8v0.8h-0.8zM237.9 252.8h0.8v0.8h-0.8zM241.5 255.8h0.8v0.8h-0.8zM262.2 252.3h0.8v0.8h-0.8zM255.1 252.1h0.8v0.8h-0.8zM246.9 261.1h0.8v0.8h-0.8zM233.4 272.6h0.8v0.8h-0.8zM253.4 276.2h0.8v0.8h-0.8zM265.0 267.5h0.8v0.8h-0.8zM247.8 244.1h0.8v0.8h-0.8zM246.7 252.6h0.8v0.8h-0.8zM254.0 252.6h0.8v0.8h-0.8zM268.3 252.5h0.8v0.8h-0.8zM246.4 271.4h0.8v0.8h-0.8zM250.1 242.4h0.8v0.8h-0.8zM256.5 256.2h0.8v0.8h-0.8zM218.3 261.5h0.8v0.8h-0.8zM233.8 248.8h0.8v0.8h-0.8zM257.6 262.9h0.8v0.8h-0.8zM245.6 288.2h0.8v0.8h-0.8zM256.6 250.6h0.8v0.8h-0.8zM253.8 257.2h0.8v0.8h-0.8zM216.1 237.5h0.8v0.8h-0.8zM228.6 286.8h0.8v0.8h-0.8zM247.3 255.1h0.8v0.8h-0.8zM241.4 272.1h0.8v0.8h-0.8zM250.5 281.9h0.8v0.8h-0.8zM262.3 281.1h0.8v0.8h-0.8zM248.3 263.9h0.8v0.8h-0.8zM243.4 256.6h0.8v0.8h-0.8zM223.4 251.0h0.8v0.8h-0.8zM235.4 250.0h0.8v0.8h-0.8zM268.9 262.4h0.8v0.8h-0.8zM269.0 270.4h0.8v0.8h-0.8zM264.3 272.4h0.8v0.8h-0.8zM240.8 269.7h0.8v0.8h-0.8zM245.1 251.7h0.8v0.8h-0.8zM268.5 288.1h0.8v0.8h-0.8zM235.0 282.3h0.8v0.8h-0.8zM262.9 247.4h0.8v0.8h-0.8zM254.3 263.9h0.8v0.8h-0.8zM255.9 254.0h0.8v0.8h-0.8zM230.3 259.3h0.8v0.8h-0.8zM263.4 269.4h0.8v0.8h-0.8zM260.3 273.7h0.8v0.8h-0.8z"/><path fill="#000" fill-opacity="0.75" d="M236.6 275.2h0.85v0.85h-0.85zM236.7 271.8h0.85v0.85h-0.85zM232.5 274.3h0.85v0.85h-0.85zM244.8 270.7h0.85v0.85h-0.85zM244.3 270.2h0.85v0.85h-0.85zM240.5 271.9h0.85v0.85h-0.85zM228.1 280.8h0.85v0.85h-0.85zM241.1 272.8h0.85v0.85h-0.85zM228.0 270.4h0.85v0.85h-0.85zM232.8 273.1h0.85v0.85h-0.85zM239.9 271.3h0.85v0.85h-0.85zM241.2 268.2h0.85v0.85h-0.85zM240.0 273.0h0.85v0.85h-0.85zM234.1 281.2h0.85v0.85h-0.85zM241.4 275.5h0.85v0.85h-0.85zM234.4 271.3h0.85v0.85h-0.85zM236.0 273.0h0.85v0.85h-0.85zM241.9 271.4h0.85v0.85h-0.85zM235.4 269.9h0.85v0.85h-0.85zM235.0 278.8h0.85v0.85h-0.85zM233.3 275.8h0.85v0.85h-0.85zM240.7 265.1h0.85v0.85h-0.85zM238.4 277.4h0.85v0.85h-0.85zM226.0 277.1h0.85v0.85h-0.85zM237.5 269.4h0.85v0.85h-0.85zM241.1 270.6h0.85v0.85h-0.85zM229.3 280.1h0.85v0.85h-0.85zM242.1 274.1h0.85v0.85h-0.85zM246.7 269.5h0.85v0.85h-0.85zM238.8 266.8h0.85v0.85h-0.85zM241.8 268.1h0.85v0.85h-0.85zM235.4 268.6h0.85v0.85h-0.85zM232.3 273.1h0.85v0.85h-0.85zM245.8 260.4h0.85v0.85h-0.85zM229.4 277.7h0.85v0.85h-0.85zM246.8 270.3h0.85v0.85h-0.85zM226.7 268.0h0.85v0.85h-0.85zM240.2 268.3h0.85v0.85h-0.85zM231.4 279.6h0.85v0.85h-0.85zM244.7 269.7h0.85v0.85h-0.85zM239.6 273.4h0.85v0.85h-0.85zM247.7 270.0h0.85v0.85h-0.85zM241.2 273.0h0.85v0.85h-0.85zM228.7 282.2h0.85v0.85h-0.85zM243.8 271.6h0.85v0.85h-0.85zM226.3 275.7h0.85v0.85h-0.85zM243.2 262.6h0.85v0.85h-0.85zM237.0 277.0h0.85v0.85h-0.85zM230.2 282.7h0.85v0.85h-0.85zM241.4 270.1h0.85v0.85h-0.85zM240.0 274.0h0.85v0.85h-0.85zM238.8 276.6h0.85v0.85h-0.85zM234.1 272.7h0.85v0.85h-0.85zM244.4 269.3h0.85v0.85h-0.85zM232.8 278.8h0.85v0.85h-0.85zM246.9 266.2h0.85v0.85h-0.85zM229.8 276.0h0.85v0.85h-0.85zM237.2 271.6h0.85v0.85h-0.85zM246.5 264.0h0.85v0.85h-0.85zM245.7 263.5h0.85v0.85h-0.85zM233.4 277.2h0.85v0.85h-0.85zM244.9 272.4h0.85v0.85h-0.85zM240.2 271.9h0.85v0.85h-0.85zM239.0 274.2h0.85v0.85h-0.85zM237.0 274.0h0.85v0.85h-0.85zM241.5 270.6h0.85v0.85h-0.85zM242.7 272.3h0.85v0.85h-0.85zM250.2 267.6h0.85v0.85h-0.85zM235.5 272.1h0.85v0.85h-0.85zM238.0 276.1h0.85v0.85h-0.85zM236.1 274.9h0.85v0.85h-0.85zM249.1 256.6h0.85v0.85h-0.85zM231.4 276.7h0.85v0.85h-0.85zM240.5 272.1h0.85v0.85h-0.85zM235.5 276.3h0.85v0.85h-0.85zM239.8 269.4h0.85v0.85h-0.85zM252.7 266.5h0.85v0.85h-0.85zM234.8 273.6h0.85v0.85h-0.85zM236.7 272.8h0.85v0.85h-0.85zM221.7 278.6h0.85v0.85h-0.85zM244.2 264.7h0.85v0.85h-0.85zM237.7 276.4h0.85v0.85h-0.85zM243.2 275.7h0.85v0.85h-0.85zM227.9 276.0h0.85v0.85h-0.85zM236.1 275.9h0.85v0.85h-0.85zM244.7 258.3h0.85v0.85h-0.85zM244.6 263.3h0.85v0.85h-0.85zM242.2 264.3h0.85v0.85h-0.85zM239.2 276.6h0.85v0.85h-0.85zM237.2 273.6h0.85v0.85h-0.85zM242.9 270.5h0.85v0.85h-0.85zM237.6 278.7h0.85v0.85h-0.85zM244.4 268.0h0.85v0.85h-0.85zM254.6 259.5h0.85v0.85h-0.85zM243.6 268.5h0.85v0.85h-0.85zM238.9 274.8h0.85v0.85h-0.85zM239.4 274.2h0.85v0.85h-0.85zM228.9 270.9h0.85v0.85h-0.85zM241.8 266.7h0.85v0.85h-0.85zM231.9 269.5h0.85v0.85h-0.85zM245.7 271.5h0.85v0.85h-0.85zM246.9 264.2h0.85v0.85h-0.85zM238.1 267.8h0.85v0.85h-0.85zM242.7 276.4h0.85v0.85h-0.85zM232.8 281.3h0.85v0.85h-0.85zM244.0 268.7h0.85v0.85h-0.85zM226.3 283.9h0.85v0.85h-0.85zM237.5 270.2h0.85v0.85h-0.85zM240.5 272.8h0.85v0.85h-0.85zM247.1 263.8h0.85v0.85h-0.85zM244.9 274.9h0.85v0.85h-0.85zM246.8 267.3h0.85v0.85h-0.85zM233.6 278.7h0.85v0.85h-0.85zM238.8 272.5h0.85v0.85h-0.85zM246.6 267.0h0.85v0.85h-0.85zM224.3 277.7h0.85v0.85h-0.85zM227.0 281.2h0.85v0.85h-0.85zM240.0 269.0h0.85v0.85h-0.85zM238.0 275.7h0.85v0.85h-0.85zM238.6 277.4h0.85v0.85h-0.85zM237.7 276.7h0.85v0.85h-0.85zM247.0 274.3h0.85v0.85h-0.85zM234.1 277.9h0.85v0.85h-0.85zM226.8 273.6h0.85v0.85h-0.85zM226.3 282.5h0.85v0.85h-0.85zM230.7 276.0h0.85v0.85h-0.85zM236.9 272.8h0.85v0.85h-0.85zM234.6 275.1h0.85v0.85h-0.85zM248.8 267.2h0.85v0.85h-0.85zM241.3 274.8h0.85v0.85h-0.85zM236.9 267.9h0.85v0.85h-0.85zM234.8 278.3h0.85v0.85h-0.85zM228.2 274.9h0.85v0.85h-0.85zM244.1 272.5h0.85v0.85h-0.85zM238.1 275.5h0.85v0.85h-0.85zM239.1 267.1h0.85v0.85h-0.85zM228.7 274.5h0.85v0.85h-0.85zM243.6 267.3h0.85v0.85h-0.85zM232.7 272.0h0.85v0.85h-0.85zM228.9 276.5h0.85v0.85h-0.85zM231.0 277.3h0.85v0.85h-0.85zM223.9 280.7h0.85v0.85h-0.85zM234.3 266.5h0.85v0.85h-0.85zM242.4 269.1h0.85v0.85h-0.85zM224.7 275.5h0.85v0.85h-0.85zM239.8 269.6h0.85v0.85h-0.85zM242.8 273.0h0.85v0.85h-0.85zM242.1 271.7h0.85v0.85h-0.85zM246.1 271.0h0.85v0.85h-0.85zM240.8 262.7h0.85v0.85h-0.85zM243.5 274.9h0.85v0.85h-0.85zM236.3 271.4h0.85v0.85h-0.85zM249.7 259.5h0.85v0.85h-0.85zM240.9 280.6h0.85v0.85h-0.85zM232.5 277.9h0.85v0.85h-0.85zM249.4 266.2h0.85v0.85h-0.85zM241.5 274.3h0.85v0.85h-0.85zM232.7 274.7h0.85v0.85h-0.85zM239.9 274.8h0.85v0.85h-0.85zM237.9 271.7h0.85v0.85h-0.85zM232.0 274.0h0.85v0.85h-0.85zM243.5 270.1h0.85v0.85h-0.85zM233.0 271.5h0.85v0.85h-0.85zM254.1 268.9h0.85v0.85h-0.85zM241.9 260.1h0.85v0.85h-0.85zM241.8 272.4h0.85v0.85h-0.85zM248.2 269.0h0.85v0.85h-0.85zM237.7 274.6h0.85v0.85h-0.85zM226.4 282.3h0.85v0.85h-0.85zM240.0 268.6h0.85v0.85h-0.85zM246.1 275.6h0.85v0.85h-0.85zM229.7 273.9h0.85v0.85h-0.85zM239.8 272.2h0.85v0.85h-0.85zM235.7 269.6h0.85v0.85h-0.85zM250.8 270.1h0.85v0.85h-0.85zM230.9 270.6h0.85v0.85h-0.85zM248.3 271.2h0.85v0.85h-0.85zM249.0 270.1h0.85v0.85h-0.85zM232.9 276.0h0.85v0.85h-0.85zM225.1 275.8h0.85v0.85h-0.85zM237.7 274.6h0.85v0.85h-0.85zM233.7 274.0h0.85v0.85h-0.85zM240.9 272.5h0.85v0.85h-0.85zM241.9 271.3h0.85v0.85h-0.85zM236.2 276.5h0.85v0.85h-0.85zM238.4 268.9h0.85v0.85h-0.85zM234.3 274.2h0.85v0.85h-0.85zM237.4 273.3h0.85v0.85h-0.85zM238.1 273.1h0.85v0.85h-0.85zM237.3 267.7h0.85v0.85h-0.85zM240.6 275.3h0.85v0.85h-0.85zM240.7 270.3h0.85v0.85h-0.85zM240.8 267.1h0.85v0.85h-0.85zM226.7 278.3h0.85v0.85h-0.85zM232.5 278.1h0.85v0.85h-0.85zM231.6 265.1h0.85v0.85h-0.85zM231.9 281.8h0.85v0.85h-0.85zM235.8 268.0h0.85v0.85h-0.85zM233.5 276.7h0.85v0.85h-0.85zM241.1 271.6h0.85v0.85h-0.85zM247.0 270.7h0.85v0.85h-0.85zM238.0 274.8h0.85v0.85h-0.85zM248.0 271.3h0.85v0.85h-0.85zM244.2 264.9h0.85v0.85h-0.85zM237.2 275.7h0.85v0.85h-0.85zM236.3 277.5h0.85v0.85h-0.85zM241.7 274.2h0.85v0.85h-0.85zM236.8 283.2h0.85v0.85h-0.85zM245.5 267.8h0.85v0.85h-0.85zM238.6 282.5h0.85v0.85h-0.85zM236.0 276.9h0.85v0.85h-0.85zM244.0 269.4h0.85v0.85h-0.85zM231.1 276.6h0.85v0.85h-0.85zM240.3 275.8h0.85v0.85h-0.85zM242.8 270.1h0.85v0.85h-0.85zM243.2 271.9h0.85v0.85h-0.85zM239.3 272.0h0.85v0.85h-0.85zM236.6 275.8h0.85v0.85h-0.85zM231.8 273.0h0.85v0.85h-0.85zM238.1 266.5h0.85v0.85h-0.85zM235.5 265.6h0.85v0.85h-0.85zM234.0 276.7h0.85v0.85h-0.85zM241.5 270.4h0.85v0.85h-0.85zM236.7 267.4h0.85v0.85h-0.85zM249.1 268.9h0.85v0.85h-0.85zM244.7 265.5h0.85v0.85h-0.85zM237.0 265.6h0.85v0.85h-0.85zM242.8 273.7h0.85v0.85h-0.85zM226.7 277.8h0.85v0.85h-0.85zM241.9 263.4h0.85v0.85h-0.85zM227.1 273.6h0.85v0.85h-0.85zM234.3 268.6h0.85v0.85h-0.85zM238.3 273.3h0.85v0.85h-0.85zM241.9 273.3h0.85v0.85h-0.85zM247.1 272.5h0.85v0.85h-0.85zM230.2 274.3h0.85v0.85h-0.85zM231.7 271.2h0.85v0.85h-0.85zM237.6 272.6h0.85v0.85h-0.85zM241.0 264.5h0.85v0.85h-0.85zM230.7 276.0h0.85v0.85h-0.85zM236.9 271.7h0.85v0.85h-0.85zM237.7 269.5h0.85v0.85h-0.85zM242.3 271.7h0.85v0.85h-0.85zM237.6 269.9h0.85v0.85h-0.85zM237.1 262.0h0.85v0.85h-0.85zM232.2 275.4h0.85v0.85h-0.85zM229.1 277.7h0.85v0.85h-0.85zM239.0 266.4h0.85v0.85h-0.85zM236.6 271.8h0.85v0.85h-0.85zM240.9 273.4h0.85v0.85h-0.85zM237.9 269.1h0.85v0.85h-0.85zM237.2 272.5h0.85v0.85h-0.85zM242.5 271.3h0.85v0.85h-0.85zM233.8 269.1h0.85v0.85h-0.85zM235.9 270.5h0.85v0.85h-0.85zM231.4 275.2h0.85v0.85h-0.85zM235.2 274.2h0.85v0.85h-0.85zM241.2 269.1h0.85v0.85h-0.85zM252.0 264.1h0.85v0.85h-0.85zM244.7 269.5h0.85v0.85h-0.85zM244.8 259.5h0.85v0.85h-0.85zM233.6 275.6h0.85v0.85h-0.85zM241.7 279.9h0.85v0.85h-0.85zM240.0 276.5h0.85v0.85h-0.85zM242.7 273.8h0.85v0.85h-0.85zM241.2 270.2h0.85v0.85h-0.85zM241.2 266.5h0.85v0.85h-0.85zM245.2 264.7h0.85v0.85h-0.85zM239.6 280.1h0.85v0.85h-0.85zM236.8 273.1h0.85v0.85h-0.85zM245.1 269.0h0.85v0.85h-0.85zM233.3 275.8h0.85v0.85h-0.85zM241.6 273.4h0.85v0.85h-0.85zM233.5 281.7h0.85v0.85h-0.85zM248.1 267.4h0.85v0.85h-0.85zM239.7 269.8h0.85v0.85h-0.85zM246.6 265.3h0.85v0.85h-0.85zM242.1 268.4h0.85v0.85h-0.85zM233.9 277.3h0.85v0.85h-0.85zM246.1 268.3h0.85v0.85h-0.85zM234.0 277.6h0.85v0.85h-0.85zM237.8 273.7h0.85v0.85h-0.85zM247.2 272.3h0.85v0.85h-0.85zM235.0 283.0h0.85v0.85h-0.85zM238.1 275.5h0.85v0.85h-0.85zM234.2 274.1h0.85v0.85h-0.85zM227.6 284.7h0.85v0.85h-0.85zM246.3 263.4h0.85v0.85h-0.85zM229.1 270.4h0.85v0.85h-0.85zM245.2 267.0h0.85v0.85h-0.85zM237.7 271.3h0.85v0.85h-0.85zM237.4 268.4h0.85v0.85h-0.85zM238.2 266.5h0.85v0.85h-0.85zM237.7 273.8h0.85v0.85h-0.85zM240.9 270.0h0.85v0.85h-0.85zM232.7 275.7h0.85v0.85h-0.85zM235.2 280.1h0.85v0.85h-0.85zM242.7 269.6h0.85v0.85h-0.85zM235.3 271.0h0.85v0.85h-0.85zM232.5 273.7h0.85v0.85h-0.85zM239.9 273.5h0.85v0.85h-0.85zM241.5 279.0h0.85v0.85h-0.85zM233.9 274.5h0.85v0.85h-0.85zM254.9 256.5h0.85v0.85h-0.85zM235.0 274.6h0.85v0.85h-0.85zM239.0 273.5h0.85v0.85h-0.85zM236.7 274.5h0.85v0.85h-0.85zM238.4 275.3h0.85v0.85h-0.85zM226.7 274.5h0.85v0.85h-0.85zM238.1 268.2h0.85v0.85h-0.85zM231.8 278.0h0.85v0.85h-0.85zM234.2 276.8h0.85v0.85h-0.85zM242.6 271.3h0.85v0.85h-0.85zM241.1 270.4h0.85v0.85h-0.85zM229.6 276.5h0.85v0.85h-0.85zM240.8 268.9h0.85v0.85h-0.85zM237.5 275.6h0.85v0.85h-0.85zM232.8 277.5h0.85v0.85h-0.85zM249.3 264.5h0.85v0.85h-0.85zM239.0 271.3h0.85v0.85h-0.85zM247.3 269.0h0.85v0.85h-0.85zM243.5 266.9h0.85v0.85h-0.85zM238.0 272.4h0.85v0.85h-0.85zM227.4 283.4h0.85v0.85h-0.85zM243.5 262.7h0.85v0.85h-0.85zM242.6 269.6h0.85v0.85h-0.85zM240.8 272.5h0.85v0.85h-0.85zM229.1 276.0h0.85v0.85h-0.85zM247.1 265.6h0.85v0.85h-0.85zM232.0 270.0h0.85v0.85h-0.85zM230.8 277.4h0.85v0.85h-0.85zM248.3 269.0h0.85v0.85h-0.85zM239.6 280.5h0.85v0.85h-0.85zM235.0 271.2h0.85v0.85h-0.85zM241.3 273.0h0.85v0.85h-0.85zM232.0 270.7h0.85v0.85h-0.85zM239.8 272.5h0.85v0.85h-0.85zM230.3 275.5h0.85v0.85h-0.85zM234.8 275.8h0.85v0.85h-0.85zM237.4 272.4h0.85v0.85h-0.85zM236.0 277.6h0.85v0.85h-0.85zM246.4 266.7h0.85v0.85h-0.85zM243.2 266.8h0.85v0.85h-0.85zM238.5 275.1h0.85v0.85h-0.85zM247.2 266.3h0.85v0.85h-0.85zM237.7 273.4h0.85v0.85h-0.85zM229.1 276.9h0.85v0.85h-0.85zM234.0 275.9h0.85v0.85h-0.85zM231.3 267.8h0.85v0.85h-0.85zM238.3 273.3h0.85v0.85h-0.85zM234.8 277.6h0.85v0.85h-0.85zM236.5 270.7h0.85v0.85h-0.85zM241.0 264.6h0.85v0.85h-0.85zM234.0 274.3h0.85v0.85h-0.85zM243.2 269.2h0.85v0.85h-0.85zM240.0 268.8h0.85v0.85h-0.85zM239.9 278.1h0.85v0.85h-0.85zM234.0 283.9h0.85v0.85h-0.85zM234.2 274.4h0.85v0.85h-0.85zM239.1 275.9h0.85v0.85h-0.85zM230.7 267.7h0.85v0.85h-0.85zM241.7 273.7h0.85v0.85h-0.85zM241.8 281.0h0.85v0.85h-0.85zM239.3 272.8h0.85v0.85h-0.85zM243.7 271.0h0.85v0.85h-0.85zM248.1 262.4h0.85v0.85h-0.85zM235.8 259.7h0.85v0.85h-0.85zM243.0 268.4h0.85v0.85h-0.85zM243.6 278.2h0.85v0.85h-0.85zM238.1 271.3h0.85v0.85h-0.85zM235.1 270.5h0.85v0.85h-0.85zM234.3 276.8h0.85v0.85h-0.85zM238.3 272.5h0.85v0.85h-0.85zM237.1 276.5h0.85v0.85h-0.85zM241.1 270.3h0.85v0.85h-0.85zM242.1 269.7h0.85v0.85h-0.85zM231.2 281.6h0.85v0.85h-0.85zM240.9 267.1h0.85v0.85h-0.85zM244.6 270.5h0.85v0.85h-0.85zM228.7 283.5h0.85v0.85h-0.85zM240.1 274.9h0.85v0.85h-0.85zM239.3 271.2h0.85v0.85h-0.85zM228.8 280.9h0.85v0.85h-0.85zM238.3 271.1h0.85v0.85h-0.85zM240.2 271.6h0.85v0.85h-0.85zM242.2 268.8h0.85v0.85h-0.85zM237.9 263.9h0.85v0.85h-0.85zM235.6 276.3h0.85v0.85h-0.85zM246.1 266.9h0.85v0.85h-0.85zM237.4 279.0h0.85v0.85h-0.85zM236.1 276.3h0.85v0.85h-0.85zM248.2 267.5h0.85v0.85h-0.85zM245.5 265.8h0.85v0.85h-0.85zM239.3 271.4h0.85v0.85h-0.85zM238.8 276.5h0.85v0.85h-0.85zM252.4 262.5h0.85v0.85h-0.85zM234.6 276.1h0.85v0.85h-0.85zM231.8 277.5h0.85v0.85h-0.85zM241.5 269.5h0.85v0.85h-0.85zM241.3 264.6h0.85v0.85h-0.85zM242.7 263.9h0.85v0.85h-0.85zM233.9 272.2h0.85v0.85h-0.85zM235.7 277.0h0.85v0.85h-0.85zM238.6 270.5h0.85v0.85h-0.85zM241.4 277.0h0.85v0.85h-0.85zM238.1 273.8h0.85v0.85h-0.85zM245.5 269.7h0.85v0.85h-0.85zM230.4 286.2h0.85v0.85h-0.85zM251.4 257.8h0.85v0.85h-0.85zM237.9 274.1h0.85v0.85h-0.85zM243.9 272.1h0.85v0.85h-0.85zM236.5 269.0h0.85v0.85h-0.85zM238.7 276.2h0.85v0.85h-0.85zM231.6 271.5h0.85v0.85h-0.85zM238.0 264.7h0.85v0.85h-0.85zM236.5 271.4h0.85v0.85h-0.85zM240.8 268.2h0.85v0.85h-0.85zM232.8 273.4h0.85v0.85h-0.85zM237.8 269.8h0.85v0.85h-0.85zM238.2 275.3h0.85v0.85h-0.85zM245.2 275.6h0.85v0.85h-0.85zM233.4 273.0h0.85v0.85h-0.85zM223.2 287.4h0.85v0.85h-0.85zM233.8 274.4h0.85v0.85h-0.85zM241.2 265.3h0.85v0.85h-0.85zM240.9 270.9h0.85v0.85h-0.85zM227.1 279.0h0.85v0.85h-0.85zM245.3 261.3h0.85v0.85h-0.85zM242.9 270.8h0.85v0.85h-0.85zM240.9 272.7h0.85v0.85h-0.85zM245.9 267.5h0.85v0.85h-0.85zM243.3 268.1h0.85v0.85h-0.85zM242.5 266.9h0.85v0.85h-0.85zM237.4 279.6h0.85v0.85h-0.85zM240.8 270.4h0.85v0.85h-0.85zM231.2 272.6h0.85v0.85h-0.85zM239.3 275.5h0.85v0.85h-0.85zM240.7 273.2h0.85v0.85h-0.85zM237.8 277.9h0.85v0.85h-0.85zM235.8 271.3h0.85v0.85h-0.85zM243.4 269.9h0.85v0.85h-0.85zM236.4 270.9h0.85v0.85h-0.85zM236.6 275.6h0.85v0.85h-0.85zM240.2 266.5h0.85v0.85h-0.85zM240.7 271.8h0.85v0.85h-0.85zM232.1 278.4h0.85v0.85h-0.85zM236.4 271.8h0.85v0.85h-0.85zM242.9 275.2h0.85v0.85h-0.85zM234.0 276.2h0.85v0.85h-0.85zM232.8 284.2h0.85v0.85h-0.85zM235.1 278.6h0.85v0.85h-0.85zM234.2 277.5h0.85v0.85h-0.85zM251.4 255.5h0.85v0.85h-0.85zM235.5 275.7h0.85v0.85h-0.85zM237.5 270.0h0.85v0.85h-0.85zM251.0 266.2h0.85v0.85h-0.85zM228.2 280.7h0.85v0.85h-0.85zM227.8 282.1h0.85v0.85h-0.85zM234.6 274.7h0.85v0.85h-0.85zM245.7 269.0h0.85v0.85h-0.85zM229.8 269.7h0.85v0.85h-0.85zM245.2 271.8h0.85v0.85h-0.85zM233.2 278.2h0.85v0.85h-0.85zM241.1 273.5h0.85v0.85h-0.85zM224.5 277.9h0.85v0.85h-0.85zM243.5 272.6h0.85v0.85h-0.85zM243.4 259.9h0.85v0.85h-0.85zM239.1 273.8h0.85v0.85h-0.85zM253.4 260.9h0.85v0.85h-0.85zM236.1 273.5h0.85v0.85h-0.85zM243.4 267.9h0.85v0.85h-0.85zM245.0 265.8h0.85v0.85h-0.85zM239.7 269.4h0.85v0.85h-0.85zM239.0 269.1h0.85v0.85h-0.85zM228.5 281.5h0.85v0.85h-0.85zM239.9 269.2h0.85v0.85h-0.85zM239.3 275.7h0.85v0.85h-0.85zM232.2 274.8h0.85v0.85h-0.85zM241.3 272.8h0.85v0.85h-0.85zM236.1 264.9h0.85v0.85h-0.85zM245.6 269.9h0.85v0.85h-0.85zM238.2 271.2h0.85v0.85h-0.85zM239.7 269.9h0.85v0.85h-0.85zM232.0 272.5h0.85v0.85h-0.85zM234.5 271.7h0.85v0.85h-0.85zM231.1 278.4h0.85v0.85h-0.85zM230.2 278.9h0.85v0.85h-0.85zM232.0 276.8h0.85v0.85h-0.85zM246.3 269.0h0.85v0.85h-0.85zM233.7 274.7h0.85v0.85h-0.85zM239.0 265.0h0.85v0.85h-0.85zM234.5 274.8h0.85v0.85h-0.85zM235.3 274.1h0.85v0.85h-0.85zM242.5 273.2h0.85v0.85h-0.85zM243.5 272.0h0.85v0.85h-0.85zM236.4 273.1h0.85v0.85h-0.85zM236.5 271.9h0.85v0.85h-0.85zM237.0 266.0h0.85v0.85h-0.85zM236.1 273.3h0.85v0.85h-0.85zM232.3 275.2h0.85v0.85h-0.85zM241.2 270.1h0.85v0.85h-0.85zM250.6 255.7h0.85v0.85h-0.85zM236.9 265.7h0.85v0.85h-0.85zM244.0 280.0h0.85v0.85h-0.85zM223.1 280.4h0.85v0.85h-0.85zM241.2 269.6h0.85v0.85h-0.85zM241.4 261.7h0.85v0.85h-0.85zM243.2 271.3h0.85v0.85h-0.85zM238.2 269.9h0.85v0.85h-0.85zM241.9 268.5h0.85v0.85h-0.85zM239.4 269.6h0.85v0.85h-0.85zM224.6 279.0h0.85v0.85h-0.85zM239.3 274.8h0.85v0.85h-0.85zM232.8 274.8h0.85v0.85h-0.85zM241.8 271.1h0.85v0.85h-0.85zM245.6 276.6h0.85v0.85h-0.85zM232.6 267.4h0.85v0.85h-0.85zM243.2 275.9h0.85v0.85h-0.85zM243.6 272.8h0.85v0.85h-0.85zM234.4 271.4h0.85v0.85h-0.85zM243.4 266.0h0.85v0.85h-0.85zM227.2 273.8h0.85v0.85h-0.85zM253.1 272.6h0.85v0.85h-0.85zM234.0 271.5h0.85v0.85h-0.85zM239.5 268.7h0.85v0.85h-0.85zM246.0 268.1h0.85v0.85h-0.85zM231.6 280.8h0.85v0.85h-0.85zM234.6 275.0h0.85v0.85h-0.85zM238.0 271.1h0.85v0.85h-0.85zM240.0 268.6h0.85v0.85h-0.85zM227.0 269.1h0.85v0.85h-0.85zM230.5 273.1h0.85v0.85h-0.85zM238.0 272.6h0.85v0.85h-0.85zM241.4 271.2h0.85v0.85h-0.85zM233.3 271.9h0.85v0.85h-0.85zM225.4 278.0h0.85v0.85h-0.85zM241.0 273.0h0.85v0.85h-0.85zM237.4 272.0h0.85v0.85h-0.85zM243.7 269.6h0.85v0.85h-0.85zM242.5 272.5h0.85v0.85h-0.85zM239.4 276.9h0.85v0.85h-0.85zM234.7 272.6h0.85v0.85h-0.85zM233.3 271.6h0.85v0.85h-0.85zM247.4 274.7h0.85v0.85h-0.85zM238.2 274.6h0.85v0.85h-0.85zM245.2 272.1h0.85v0.85h-0.85zM245.3 263.7h0.85v0.85h-0.85zM234.3 276.1h0.85v0.85h-0.85zM246.7 268.5h0.85v0.85h-0.85zM232.9 273.5h0.85v0.85h-0.85zM234.1 270.9h0.85v0.85h-0.85zM247.1 265.3h0.85v0.85h-0.85zM238.2 280.9h0.85v0.85h-0.85zM245.2 270.1h0.85v0.85h-0.85zM234.4 275.8h0.85v0.85h-0.85zM247.8 270.0h0.85v0.85h-0.85zM245.7 269.0h0.85v0.85h-0.85zM241.2 270.0h0.85v0.85h-0.85zM240.7 276.3h0.85v0.85h-0.85zM229.5 276.4h0.85v0.85h-0.85zM239.5 269.3h0.85v0.85h-0.85zM236.3 276.4h0.85v0.85h-0.85zM250.1 268.9h0.85v0.85h-0.85zM240.1 265.2h0.85v0.85h-0.85zM249.7 266.9h0.85v0.85h-0.85zM237.9 268.0h0.85v0.85h-0.85zM237.8 268.1h0.85v0.85h-0.85zM238.5 274.0h0.85v0.85h-0.85zM238.3 273.4h0.85v0.85h-0.85zM233.0 280.6h0.85v0.85h-0.85zM234.2 267.0h0.85v0.85h-0.85zM237.0 269.9h0.85v0.85h-0.85zM232.0 274.0h0.85v0.85h-0.85zM239.8 266.7h0.85v0.85h-0.85zM237.3 278.5h0.85v0.85h-0.85zM242.2 269.7h0.85v0.85h-0.85zM238.9 271.5h0.85v0.85h-0.85zM237.8 275.4h0.85v0.85h-0.85zM237.5 263.0h0.85v0.85h-0.85zM238.0 268.9h0.85v0.85h-0.85zM242.0 268.0h0.85v0.85h-0.85zM239.0 280.6h0.85v0.85h-0.85zM231.8 271.0h0.85v0.85h-0.85zM229.6 267.0h0.85v0.85h-0.85zM226.8 279.4h0.85v0.85h-0.85zM234.3 266.8h0.85v0.85h-0.85zM229.2 279.3h0.85v0.85h-0.85zM233.4 273.2h0.85v0.85h-0.85zM240.1 276.8h0.85v0.85h-0.85zM249.7 270.7h0.85v0.85h-0.85zM239.0 272.7h0.85v0.85h-0.85zM248.9 272.7h0.85v0.85h-0.85zM236.2 275.1h0.85v0.85h-0.85zM239.8 271.7h0.85v0.85h-0.85zM235.1 268.5h0.85v0.85h-0.85zM234.9 267.8h0.85v0.85h-0.85zM245.4 270.8h0.85v0.85h-0.85zM230.9 281.6h0.85v0.85h-0.85zM243.5 262.0h0.85v0.85h-0.85zM249.1 270.1h0.85v0.85h-0.85zM250.5 261.2h0.85v0.85h-0.85zM241.3 272.5h0.85v0.85h-0.85zM239.3 272.4h0.85v0.85h-0.85zM244.4 263.2h0.85v0.85h-0.85zM230.6 270.5h0.85v0.85h-0.85zM234.8 271.6h0.85v0.85h-0.85zM240.3 272.3h0.85v0.85h-0.85zM238.3 269.5h0.85v0.85h-0.85zM235.4 277.5h0.85v0.85h-0.85zM242.7 270.5h0.85v0.85h-0.85zM236.2 279.5h0.85v0.85h-0.85zM234.5 276.7h0.85v0.85h-0.85zM245.0 267.8h0.85v0.85h-0.85zM243.1 265.4h0.85v0.85h-0.85zM244.2 270.1h0.85v0.85h-0.85zM228.6 279.8h0.85v0.85h-0.85zM232.7 280.2h0.85v0.85h-0.85zM234.0 273.7h0.85v0.85h-0.85zM239.8 270.2h0.85v0.85h-0.85zM239.7 269.4h0.85v0.85h-0.85zM242.1 270.4h0.85v0.85h-0.85zM239.4 260.7h0.85v0.85h-0.85zM245.1 269.0h0.85v0.85h-0.85zM227.4 278.1h0.85v0.85h-0.85zM240.9 275.2h0.85v0.85h-0.85zM231.6 281.8h0.85v0.85h-0.85zM237.1 282.4h0.85v0.85h-0.85zM237.2 275.5h0.85v0.85h-0.85zM235.9 269.0h0.85v0.85h-0.85zM244.7 272.7h0.85v0.85h-0.85zM247.3 271.2h0.85v0.85h-0.85zM234.7 267.4h0.85v0.85h-0.85zM234.2 271.6h0.85v0.85h-0.85zM233.2 277.1h0.85v0.85h-0.85zM240.1 270.3h0.85v0.85h-0.85zM239.1 271.2h0.85v0.85h-0.85zM239.4 274.7h0.85v0.85h-0.85zM243.9 266.7h0.85v0.85h-0.85zM229.1 282.6h0.85v0.85h-0.85zM238.8 276.4h0.85v0.85h-0.85zM228.2 276.0h0.85v0.85h-0.85zM238.3 266.5h0.85v0.85h-0.85zM235.0 276.8h0.85v0.85h-0.85zM244.6 275.5h0.85v0.85h-0.85zM232.9 269.3h0.85v0.85h-0.85zM241.2 274.6h0.85v0.85h-0.85zM239.3 266.6h0.85v0.85h-0.85zM242.8 273.2h0.85v0.85h-0.85zM241.4 268.7h0.85v0.85h-0.85zM239.9 274.6h0.85v0.85h-0.85zM234.7 266.7h0.85v0.85h-0.85zM240.1 273.3h0.85v0.85h-0.85zM238.2 275.9h0.85v0.85h-0.85zM234.6 273.8h0.85v0.85h-0.85zM236.3 275.6h0.85v0.85h-0.85zM247.7 266.6h0.85v0.85h-0.85zM250.4 272.3h0.85v0.85h-0.85zM242.8 272.3h0.85v0.85h-0.85zM248.7 266.3h0.85v0.85h-0.85zM237.4 268.4h0.85v0.85h-0.85zM240.9 276.3h0.85v0.85h-0.85zM241.3 272.4h0.85v0.85h-0.85zM236.9 273.6h0.85v0.85h-0.85zM229.5 280.8h0.85v0.85h-0.85zM235.6 269.2h0.85v0.85h-0.85zM233.6 271.3h0.85v0.85h-0.85zM243.2 274.0h0.85v0.85h-0.85zM230.0 280.1h0.85v0.85h-0.85zM243.4 267.4h0.85v0.85h-0.85zM229.2 273.8h0.85v0.85h-0.85zM234.3 275.6h0.85v0.85h-0.85zM236.0 265.3h0.85v0.85h-0.85zM239.5 265.5h0.85v0.85h-0.85zM243.5 264.8h0.85v0.85h-0.85zM233.9 271.0h0.85v0.85h-0.85zM234.8 279.2h0.85v0.85h-0.85zM243.2 272.2h0.85v0.85h-0.85zM240.0 265.2h0.85v0.85h-0.85zM235.0 271.7h0.85v0.85h-0.85zM232.2 277.3h0.85v0.85h-0.85zM233.7 271.7h0.85v0.85h-0.85zM231.8 267.3h0.85v0.85h-0.85zM241.7 275.9h0.85v0.85h-0.85zM239.1 267.9h0.85v0.85h-0.85zM221.9 281.2h0.85v0.85h-0.85zM245.4 269.9h0.85v0.85h-0.85zM243.7 275.5h0.85v0.85h-0.85zM244.9 267.2h0.85v0.85h-0.85zM244.4 272.3h0.85v0.85h-0.85zM228.9 275.3h0.85v0.85h-0.85zM229.6 276.2h0.85v0.85h-0.85zM241.6 266.3h0.85v0.85h-0.85zM225.8 283.7h0.85v0.85h-0.85zM240.4 277.1h0.85v0.85h-0.85zM230.2 280.6h0.85v0.85h-0.85zM250.5 274.2h0.85v0.85h-0.85zM236.8 274.1h0.85v0.85h-0.85zM237.2 276.8h0.85v0.85h-0.85zM244.3 269.6h0.85v0.85h-0.85zM229.9 279.4h0.85v0.85h-0.85zM235.3 276.3h0.85v0.85h-0.85zM239.7 278.1h0.85v0.85h-0.85zM244.9 267.1h0.85v0.85h-0.85zM240.2 278.4h0.85v0.85h-0.85zM234.9 275.7h0.85v0.85h-0.85zM245.2 273.8h0.85v0.85h-0.85zM241.2 265.5h0.85v0.85h-0.85zM230.5 277.1h0.85v0.85h-0.85zM240.4 281.4h0.85v0.85h-0.85zM232.9 279.5h0.85v0.85h-0.85zM242.7 263.4h0.85v0.85h-0.85zM233.2 275.5h0.85v0.85h-0.85zM235.1 273.2h0.85v0.85h-0.85zM240.9 267.7h0.85v0.85h-0.85zM240.9 268.4h0.85v0.85h-0.85zM234.8 276.1h0.85v0.85h-0.85zM234.7 275.2h0.85v0.85h-0.85zM247.7 267.7h0.85v0.85h-0.85zM237.2 275.7h0.85v0.85h-0.85zM235.9 277.8h0.85v0.85h-0.85zM230.4 278.7h0.85v0.85h-0.85zM235.0 270.7h0.85v0.85h-0.85zM248.7 263.6h0.85v0.85h-0.85zM248.6 269.7h0.85v0.85h-0.85zM246.8 264.1h0.85v0.85h-0.85zM245.3 274.6h0.85v0.85h-0.85zM237.4 272.2h0.85v0.85h-0.85zM252.8 265.7h0.85v0.85h-0.85zM235.6 271.1h0.85v0.85h-0.85zM240.8 272.3h0.85v0.85h-0.85zM239.2 278.7h0.85v0.85h-0.85zM236.1 275.2h0.85v0.85h-0.85zM246.9 264.0h0.85v0.85h-0.85zM244.3 276.6h0.85v0.85h-0.85zM230.0 272.0h0.85v0.85h-0.85zM231.9 268.1h0.85v0.85h-0.85zM240.8 263.6h0.85v0.85h-0.85zM241.1 276.7h0.85v0.85h-0.85zM228.4 275.9h0.85v0.85h-0.85zM226.6 281.2h0.85v0.85h-0.85zM233.7 273.5h0.85v0.85h-0.85zM238.4 274.4h0.85v0.85h-0.85zM236.0 273.5h0.85v0.85h-0.85zM234.8 274.4h0.85v0.85h-0.85zM231.1 276.1h0.85v0.85h-0.85zM226.5 276.2h0.85v0.85h-0.85zM249.6 266.9h0.85v0.85h-0.85zM230.5 277.2h0.85v0.85h-0.85zM232.3 268.7h0.85v0.85h-0.85zM233.7 277.5h0.85v0.85h-0.85zM262.8 250.2h0.85v0.85h-0.85zM258.8 248.2h0.85v0.85h-0.85zM265.6 250.8h0.85v0.85h-0.85zM258.7 246.1h0.85v0.85h-0.85zM257.5 255.3h0.85v0.85h-0.85zM258.2 250.2h0.85v0.85h-0.85zM262.2 250.0h0.85v0.85h-0.85zM260.8 247.6h0.85v0.85h-0.85zM258.4 253.7h0.85v0.85h-0.85zM259.3 252.0h0.85v0.85h-0.85zM256.5 249.8h0.85v0.85h-0.85zM262.4 252.4h0.85v0.85h-0.85zM258.2 251.5h0.85v0.85h-0.85zM262.8 248.9h0.85v0.85h-0.85zM263.0 248.6h0.85v0.85h-0.85zM259.2 250.3h0.85v0.85h-0.85zM253.5 250.1h0.85v0.85h-0.85zM258.6 247.4h0.85v0.85h-0.85zM260.3 251.9h0.85v0.85h-0.85zM260.4 252.9h0.85v0.85h-0.85zM258.1 247.7h0.85v0.85h-0.85zM266.3 251.1h0.85v0.85h-0.85zM264.4 248.7h0.85v0.85h-0.85zM264.0 250.9h0.85v0.85h-0.85zM263.5 250.4h0.85v0.85h-0.85zM265.2 249.1h0.85v0.85h-0.85zM258.7 247.4h0.85v0.85h-0.85zM265.1 248.9h0.85v0.85h-0.85zM258.5 248.5h0.85v0.85h-0.85zM260.3 247.8h0.85v0.85h-0.85zM260.7 249.1h0.85v0.85h-0.85zM259.9 248.4h0.85v0.85h-0.85zM261.7 249.4h0.85v0.85h-0.85zM261.9 250.8h0.85v0.85h-0.85zM262.6 246.0h0.85v0.85h-0.85zM260.0 248.8h0.85v0.85h-0.85zM263.9 247.2h0.85v0.85h-0.85zM259.5 249.8h0.85v0.85h-0.85zM260.6 252.3h0.85v0.85h-0.85zM260.3 252.3h0.85v0.85h-0.85z"/><ellipse cx="233.6" cy="275.4" rx="7.5" ry="4.2" transform="rotate(-42 233.6 275.4)" fill="#000" fill-opacity="1.0" filter="url(#bl)"/><ellipse cx="228.9" cy="283.1" rx="2.1" ry="1.8" transform="rotate(0 228.9 283.1)" fill="#000" fill-opacity="1.0" filter="url(#bl)"/><line x1="214.1" y1="300.5" x2="214.1" y2="303.1" stroke="#111" stroke-width="0.9"/><line x1="217.1" y1="300.5" x2="217.1" y2="303.1" stroke="#111" stroke-width="0.9"/><line x1="219.9" y1="300.5" x2="219.9" y2="303.1" stroke="#111" stroke-width="0.9"/><line x1="222.9" y1="300.5" x2="222.9" y2="303.1" stroke="#111" stroke-width="0.9"/><line x1="225.29999999999998" y1="300.5" x2="225.29999999999998" y2="303.1" stroke="#111" stroke-width="0.9"/><line x1="227.4" y1="300.5" x2="227.4" y2="303.1" stroke="#111" stroke-width="0.9"/><line x1="232.1" y1="300.5" x2="232.1" y2="303.1" stroke="#111" stroke-width="0.9"/><line x1="234.5" y1="300.5" x2="234.5" y2="303.1" stroke="#111" stroke-width="0.9"/><line x1="236.4" y1="300.5" x2="236.4" y2="303.1" stroke="#111" stroke-width="0.9"/><line x1="238.7" y1="300.5" x2="238.7" y2="303.1" stroke="#111" stroke-width="0.9"/><line x1="240.7" y1="300.5" x2="240.7" y2="303.1" stroke="#111" stroke-width="0.9"/><line x1="242.7" y1="300.5" x2="242.7" y2="303.1" stroke="#111" stroke-width="0.9"/><line x1="245.8" y1="300.5" x2="245.8" y2="303.1" stroke="#111" stroke-width="0.9"/><line x1="247.89999999999998" y1="300.5" x2="247.89999999999998" y2="303.1" stroke="#111" stroke-width="0.9"/><line x1="249.7" y1="300.5" x2="249.7" y2="303.1" stroke="#111" stroke-width="0.9"/><line x1="251.39999999999998" y1="300.5" x2="251.39999999999998" y2="303.1" stroke="#111" stroke-width="0.9"/><line x1="253.1" y1="300.5" x2="253.1" y2="303.1" stroke="#111" stroke-width="0.9"/><line x1="254.7" y1="300.5" x2="254.7" y2="303.1" stroke="#111" stroke-width="0.9"/><line x1="256.3" y1="300.5" x2="256.3" y2="303.1" stroke="#111" stroke-width="0.9"/><line x1="261.1" y1="300.5" x2="261.1" y2="303.1" stroke="#111" stroke-width="0.9"/><line x1="263.5" y1="300.5" x2="263.5" y2="303.1" stroke="#111" stroke-width="0.9"/><line x1="266.5" y1="300.5" x2="266.5" y2="303.1" stroke="#111" stroke-width="0.9"/><line x1="269.1" y1="300.5" x2="269.1" y2="303.1" stroke="#111" stroke-width="0.9"/><line x1="270.9" y1="300.5" x2="270.9" y2="303.1" stroke="#111" stroke-width="0.9"/><line x1="272.6" y1="300.5" x2="272.6" y2="303.1" stroke="#111" stroke-width="0.9"/><line x1="274.1" y1="300.5" x2="274.1" y2="303.1" stroke="#111" stroke-width="0.9"/><line x1="278.6" y1="300.5" x2="278.6" y2="303.1" stroke="#111" stroke-width="0.9"/><line x1="281.2" y1="300.5" x2="281.2" y2="303.1" stroke="#111" stroke-width="0.9"/><line x1="229.5" y1="300.5" x2="229.5" y2="303.5" stroke="#111" stroke-width="1.1"/><line x1="257.9" y1="300.5" x2="257.9" y2="303.5" stroke="#111" stroke-width="1.1"/><line x1="275.6" y1="300.5" x2="275.6" y2="303.5" stroke="#111" stroke-width="1.1"/><path fill="#000" fill-opacity="0.6" d="M316.7 289.8h0.8v0.8h-0.8zM330.4 277.2h0.8v0.8h-0.8zM310.6 278.6h0.8v0.8h-0.8zM348.0 263.0h0.8v0.8h-0.8zM309.0 278.0h0.8v0.8h-0.8zM325.2 275.2h0.8v0.8h-0.8zM318.8 268.5h0.8v0.8h-0.8zM319.0 281.8h0.8v0.8h-0.8zM329.4 281.4h0.8v0.8h-0.8zM320.4 281.3h0.8v0.8h-0.8zM326.0 277.1h0.8v0.8h-0.8zM338.1 274.8h0.8v0.8h-0.8zM326.8 265.2h0.8v0.8h-0.8zM330.4 281.0h0.8v0.8h-0.8zM324.3 276.3h0.8v0.8h-0.8zM314.3 269.3h0.8v0.8h-0.8zM333.4 284.0h0.8v0.8h-0.8zM327.1 265.1h0.8v0.8h-0.8zM326.5 265.9h0.8v0.8h-0.8zM327.4 289.2h0.8v0.8h-0.8zM332.5 274.4h0.8v0.8h-0.8zM339.0 271.9h0.8v0.8h-0.8zM332.8 276.7h0.8v0.8h-0.8zM333.8 265.4h0.8v0.8h-0.8zM336.1 280.8h0.8v0.8h-0.8zM309.7 260.7h0.8v0.8h-0.8zM321.9 287.1h0.8v0.8h-0.8zM330.0 280.4h0.8v0.8h-0.8zM334.7 281.1h0.8v0.8h-0.8zM324.2 272.8h0.8v0.8h-0.8zM333.2 279.4h0.8v0.8h-0.8zM334.9 277.3h0.8v0.8h-0.8zM325.6 284.0h0.8v0.8h-0.8zM334.0 282.4h0.8v0.8h-0.8zM307.4 286.2h0.8v0.8h-0.8zM308.3 280.6h0.8v0.8h-0.8zM324.0 277.6h0.8v0.8h-0.8zM325.6 274.4h0.8v0.8h-0.8zM331.6 277.9h0.8v0.8h-0.8zM322.8 259.9h0.8v0.8h-0.8zM322.9 280.6h0.8v0.8h-0.8zM322.4 279.9h0.8v0.8h-0.8zM326.6 270.0h0.8v0.8h-0.8zM340.2 285.4h0.8v0.8h-0.8zM328.9 275.7h0.8v0.8h-0.8zM338.4 265.5h0.8v0.8h-0.8zM322.1 284.7h0.8v0.8h-0.8zM337.8 271.3h0.8v0.8h-0.8zM322.9 279.3h0.8v0.8h-0.8zM317.3 274.4h0.8v0.8h-0.8zM327.8 259.5h0.8v0.8h-0.8zM335.1 280.2h0.8v0.8h-0.8zM339.3 264.6h0.8v0.8h-0.8zM318.4 272.1h0.8v0.8h-0.8zM318.2 291.6h0.8v0.8h-0.8zM321.2 275.1h0.8v0.8h-0.8zM331.7 278.7h0.8v0.8h-0.8zM342.8 266.4h0.8v0.8h-0.8zM337.7 275.6h0.8v0.8h-0.8zM319.4 278.5h0.8v0.8h-0.8zM317.4 288.8h0.8v0.8h-0.8zM323.3 283.7h0.8v0.8h-0.8zM341.5 269.8h0.8v0.8h-0.8zM321.8 278.0h0.8v0.8h-0.8zM320.5 283.4h0.8v0.8h-0.8zM331.4 270.4h0.8v0.8h-0.8zM323.7 281.7h0.8v0.8h-0.8zM316.9 289.4h0.8v0.8h-0.8zM322.8 275.6h0.8v0.8h-0.8zM321.6 288.2h0.8v0.8h-0.8zM337.2 283.6h0.8v0.8h-0.8zM335.7 275.6h0.8v0.8h-0.8zM345.0 278.0h0.8v0.8h-0.8zM333.8 279.2h0.8v0.8h-0.8zM336.4 276.7h0.8v0.8h-0.8zM328.4 265.2h0.8v0.8h-0.8zM348.3 264.1h0.8v0.8h-0.8zM310.6 274.0h0.8v0.8h-0.8zM347.2 281.5h0.8v0.8h-0.8zM324.5 278.5h0.8v0.8h-0.8zM329.6 262.3h0.8v0.8h-0.8zM326.9 278.3h0.8v0.8h-0.8zM340.4 266.0h0.8v0.8h-0.8zM309.6 268.2h0.8v0.8h-0.8zM332.8 275.9h0.8v0.8h-0.8zM331.2 276.7h0.8v0.8h-0.8zM326.6 267.0h0.8v0.8h-0.8zM333.9 277.9h0.8v0.8h-0.8zM335.0 283.6h0.8v0.8h-0.8zM318.7 261.6h0.8v0.8h-0.8zM313.8 293.0h0.8v0.8h-0.8zM321.6 279.9h0.8v0.8h-0.8zM329.7 280.9h0.8v0.8h-0.8zM328.3 272.0h0.8v0.8h-0.8zM332.1 279.1h0.8v0.8h-0.8zM321.1 286.2h0.8v0.8h-0.8zM340.2 277.3h0.8v0.8h-0.8zM328.9 274.4h0.8v0.8h-0.8zM315.1 282.6h0.8v0.8h-0.8zM321.1 273.8h0.8v0.8h-0.8zM338.8 268.1h0.8v0.8h-0.8zM325.2 282.5h0.8v0.8h-0.8zM346.6 268.5h0.8v0.8h-0.8zM339.8 269.8h0.8v0.8h-0.8zM333.3 278.6h0.8v0.8h-0.8zM319.6 284.5h0.8v0.8h-0.8zM346.0 273.7h0.8v0.8h-0.8zM332.3 267.4h0.8v0.8h-0.8zM345.9 273.8h0.8v0.8h-0.8zM318.4 282.9h0.8v0.8h-0.8zM316.7 273.2h0.8v0.8h-0.8zM310.7 288.3h0.8v0.8h-0.8zM349.7 268.4h0.8v0.8h-0.8zM324.0 272.8h0.8v0.8h-0.8zM324.8 280.4h0.8v0.8h-0.8zM343.0 266.9h0.8v0.8h-0.8zM333.8 262.9h0.8v0.8h-0.8zM343.6 273.1h0.8v0.8h-0.8zM323.5 287.3h0.8v0.8h-0.8zM328.9 285.4h0.8v0.8h-0.8zM339.5 285.7h0.8v0.8h-0.8zM322.6 277.4h0.8v0.8h-0.8zM333.2 274.0h0.8v0.8h-0.8zM343.6 268.8h0.8v0.8h-0.8zM338.9 283.8h0.8v0.8h-0.8zM312.3 271.9h0.8v0.8h-0.8zM321.7 273.4h0.8v0.8h-0.8zM333.4 274.1h0.8v0.8h-0.8zM330.6 272.6h0.8v0.8h-0.8zM329.1 279.3h0.8v0.8h-0.8zM336.6 269.4h0.8v0.8h-0.8zM328.8 270.8h0.8v0.8h-0.8zM328.2 266.3h0.8v0.8h-0.8zM338.4 279.1h0.8v0.8h-0.8zM328.7 271.3h0.8v0.8h-0.8zM325.7 271.9h0.8v0.8h-0.8zM316.0 289.2h0.8v0.8h-0.8zM319.3 281.5h0.8v0.8h-0.8zM335.3 264.2h0.8v0.8h-0.8zM312.6 282.3h0.8v0.8h-0.8zM311.9 288.4h0.8v0.8h-0.8zM325.4 277.1h0.8v0.8h-0.8zM329.8 272.0h0.8v0.8h-0.8zM328.6 274.0h0.8v0.8h-0.8zM341.1 273.5h0.8v0.8h-0.8zM329.6 272.3h0.8v0.8h-0.8zM324.1 271.7h0.8v0.8h-0.8zM329.9 288.4h0.8v0.8h-0.8zM339.9 275.9h0.8v0.8h-0.8zM344.9 280.5h0.8v0.8h-0.8zM331.7 274.4h0.8v0.8h-0.8zM320.0 279.1h0.8v0.8h-0.8zM327.0 265.4h0.8v0.8h-0.8zM318.3 290.9h0.8v0.8h-0.8zM331.8 279.0h0.8v0.8h-0.8zM331.6 272.4h0.8v0.8h-0.8zM334.0 282.6h0.8v0.8h-0.8zM327.1 279.8h0.8v0.8h-0.8zM339.1 271.1h0.8v0.8h-0.8zM331.4 270.5h0.8v0.8h-0.8zM335.3 272.5h0.8v0.8h-0.8zM340.2 269.0h0.8v0.8h-0.8zM345.1 271.4h0.8v0.8h-0.8zM322.3 270.8h0.8v0.8h-0.8zM335.8 269.0h0.8v0.8h-0.8zM346.1 282.1h0.8v0.8h-0.8zM334.5 265.4h0.8v0.8h-0.8zM329.6 270.9h0.8v0.8h-0.8zM313.5 281.3h0.8v0.8h-0.8zM349.7 269.1h0.8v0.8h-0.8zM337.1 283.5h0.8v0.8h-0.8zM321.2 274.9h0.8v0.8h-0.8zM332.3 278.7h0.8v0.8h-0.8zM319.5 278.9h0.8v0.8h-0.8zM328.9 282.5h0.8v0.8h-0.8zM315.5 274.2h0.8v0.8h-0.8zM325.3 274.4h0.8v0.8h-0.8zM336.4 270.5h0.8v0.8h-0.8zM354.5 267.2h0.8v0.8h-0.8zM337.4 281.7h0.8v0.8h-0.8zM338.5 273.1h0.8v0.8h-0.8zM322.4 275.3h0.8v0.8h-0.8zM335.8 275.7h0.8v0.8h-0.8zM335.1 279.0h0.8v0.8h-0.8zM321.9 270.7h0.8v0.8h-0.8zM342.8 270.5h0.8v0.8h-0.8zM315.6 290.8h0.8v0.8h-0.8zM322.3 270.6h0.8v0.8h-0.8zM338.6 266.7h0.8v0.8h-0.8zM322.0 284.3h0.8v0.8h-0.8zM322.5 294.2h0.8v0.8h-0.8zM330.7 294.1h0.8v0.8h-0.8zM331.0 276.0h0.8v0.8h-0.8zM324.1 275.2h0.8v0.8h-0.8zM325.3 276.4h0.8v0.8h-0.8zM336.8 266.1h0.8v0.8h-0.8zM321.6 262.8h0.8v0.8h-0.8zM343.4 273.2h0.8v0.8h-0.8zM329.7 275.5h0.8v0.8h-0.8zM338.9 276.6h0.8v0.8h-0.8zM337.5 273.5h0.8v0.8h-0.8zM328.8 275.6h0.8v0.8h-0.8zM313.1 285.9h0.8v0.8h-0.8zM315.6 271.2h0.8v0.8h-0.8zM335.9 275.3h0.8v0.8h-0.8zM337.2 286.4h0.8v0.8h-0.8zM346.6 282.7h0.8v0.8h-0.8zM327.8 290.2h0.8v0.8h-0.8zM321.9 276.5h0.8v0.8h-0.8zM338.8 273.0h0.8v0.8h-0.8zM328.8 273.6h0.8v0.8h-0.8zM342.1 257.0h0.8v0.8h-0.8zM341.3 281.3h0.8v0.8h-0.8zM329.2 279.8h0.8v0.8h-0.8zM321.1 284.8h0.8v0.8h-0.8zM357.4 265.3h0.8v0.8h-0.8zM342.4 273.5h0.8v0.8h-0.8zM326.8 273.0h0.8v0.8h-0.8zM328.1 267.5h0.8v0.8h-0.8zM317.6 289.2h0.8v0.8h-0.8zM329.7 279.7h0.8v0.8h-0.8zM332.6 278.7h0.8v0.8h-0.8zM316.1 271.5h0.8v0.8h-0.8zM335.5 281.8h0.8v0.8h-0.8zM319.5 273.5h0.8v0.8h-0.8zM320.2 281.8h0.8v0.8h-0.8zM332.9 275.6h0.8v0.8h-0.8zM324.0 279.1h0.8v0.8h-0.8zM330.1 270.7h0.8v0.8h-0.8zM332.8 270.8h0.8v0.8h-0.8zM338.4 278.8h0.8v0.8h-0.8zM323.7 280.8h0.8v0.8h-0.8zM330.5 270.9h0.8v0.8h-0.8zM321.6 265.7h0.8v0.8h-0.8zM319.7 279.8h0.8v0.8h-0.8zM340.7 269.9h0.8v0.8h-0.8zM331.3 278.0h0.8v0.8h-0.8zM336.9 277.8h0.8v0.8h-0.8zM340.9 279.4h0.8v0.8h-0.8zM323.0 279.6h0.8v0.8h-0.8zM308.8 277.9h0.8v0.8h-0.8zM330.0 279.8h0.8v0.8h-0.8zM327.1 282.0h0.8v0.8h-0.8zM341.7 268.2h0.8v0.8h-0.8zM325.0 278.4h0.8v0.8h-0.8zM334.3 276.2h0.8v0.8h-0.8zM337.3 266.6h0.8v0.8h-0.8zM336.8 282.8h0.8v0.8h-0.8zM339.8 277.2h0.8v0.8h-0.8zM327.7 278.9h0.8v0.8h-0.8zM329.2 265.1h0.8v0.8h-0.8zM324.4 276.4h0.8v0.8h-0.8zM325.2 270.2h0.8v0.8h-0.8zM327.8 273.6h0.8v0.8h-0.8zM330.5 275.4h0.8v0.8h-0.8zM331.4 282.4h0.8v0.8h-0.8zM331.1 278.4h0.8v0.8h-0.8zM318.8 257.3h0.8v0.8h-0.8zM326.2 281.1h0.8v0.8h-0.8zM326.8 272.1h0.8v0.8h-0.8zM318.7 283.7h0.8v0.8h-0.8zM325.1 278.3h0.8v0.8h-0.8zM340.0 277.9h0.8v0.8h-0.8zM350.0 271.8h0.8v0.8h-0.8zM338.5 279.3h0.8v0.8h-0.8zM324.0 277.1h0.8v0.8h-0.8zM324.8 269.6h0.8v0.8h-0.8zM332.5 270.1h0.8v0.8h-0.8zM345.0 268.4h0.8v0.8h-0.8zM325.0 277.2h0.8v0.8h-0.8zM325.2 276.9h0.8v0.8h-0.8zM324.4 266.9h0.8v0.8h-0.8zM308.1 270.4h0.8v0.8h-0.8zM343.5 276.8h0.8v0.8h-0.8zM331.2 272.4h0.8v0.8h-0.8zM328.5 278.1h0.8v0.8h-0.8zM317.3 272.3h0.8v0.8h-0.8zM321.8 285.7h0.8v0.8h-0.8zM320.3 285.4h0.8v0.8h-0.8zM325.7 295.2h0.8v0.8h-0.8zM329.1 276.2h0.8v0.8h-0.8zM342.0 280.0h0.8v0.8h-0.8zM338.3 267.2h0.8v0.8h-0.8zM340.1 285.8h0.8v0.8h-0.8zM328.9 272.7h0.8v0.8h-0.8zM320.0 284.4h0.8v0.8h-0.8zM332.5 275.5h0.8v0.8h-0.8zM318.7 288.7h0.8v0.8h-0.8zM337.7 274.5h0.8v0.8h-0.8zM343.1 267.3h0.8v0.8h-0.8zM337.8 267.8h0.8v0.8h-0.8zM342.5 272.0h0.8v0.8h-0.8zM340.9 271.3h0.8v0.8h-0.8zM333.4 283.1h0.8v0.8h-0.8zM321.7 277.8h0.8v0.8h-0.8zM322.3 282.9h0.8v0.8h-0.8zM324.4 274.1h0.8v0.8h-0.8zM328.0 284.1h0.8v0.8h-0.8zM329.0 250.0h0.8v0.8h-0.8zM333.9 246.9h0.8v0.8h-0.8zM330.7 249.2h0.8v0.8h-0.8zM337.6 240.9h0.8v0.8h-0.8zM337.9 243.0h0.8v0.8h-0.8zM336.4 263.8h0.8v0.8h-0.8zM329.5 249.8h0.8v0.8h-0.8zM334.5 256.0h0.8v0.8h-0.8zM332.9 239.4h0.8v0.8h-0.8zM325.0 251.2h0.8v0.8h-0.8zM338.0 256.6h0.8v0.8h-0.8zM332.5 254.1h0.8v0.8h-0.8zM328.8 257.9h0.8v0.8h-0.8zM335.8 246.1h0.8v0.8h-0.8zM337.5 260.6h0.8v0.8h-0.8zM330.3 242.7h0.8v0.8h-0.8zM329.1 243.2h0.8v0.8h-0.8zM335.9 252.3h0.8v0.8h-0.8zM335.1 251.3h0.8v0.8h-0.8zM344.5 248.4h0.8v0.8h-0.8zM327.5 236.4h0.8v0.8h-0.8zM337.9 246.1h0.8v0.8h-0.8zM334.5 252.6h0.8v0.8h-0.8zM339.5 240.7h0.8v0.8h-0.8zM329.5 250.6h0.8v0.8h-0.8zM335.2 257.0h0.8v0.8h-0.8zM332.7 237.8h0.8v0.8h-0.8zM344.4 240.3h0.8v0.8h-0.8zM329.5 252.5h0.8v0.8h-0.8zM328.8 265.1h0.8v0.8h-0.8zM337.9 253.4h0.8v0.8h-0.8zM333.2 263.5h0.8v0.8h-0.8zM340.0 245.8h0.8v0.8h-0.8zM345.0 240.0h0.8v0.8h-0.8zM332.1 251.9h0.8v0.8h-0.8zM337.2 244.4h0.8v0.8h-0.8zM347.3 259.0h0.8v0.8h-0.8zM329.7 252.4h0.8v0.8h-0.8zM331.8 247.6h0.8v0.8h-0.8zM343.2 250.9h0.8v0.8h-0.8zM335.5 250.8h0.8v0.8h-0.8zM328.0 257.5h0.8v0.8h-0.8zM331.0 258.0h0.8v0.8h-0.8zM333.0 247.4h0.8v0.8h-0.8zM346.6 251.3h0.8v0.8h-0.8zM331.8 246.9h0.8v0.8h-0.8zM340.5 261.4h0.8v0.8h-0.8zM340.5 247.8h0.8v0.8h-0.8zM328.4 246.1h0.8v0.8h-0.8zM335.4 251.6h0.8v0.8h-0.8zM331.7 257.8h0.8v0.8h-0.8zM329.5 245.9h0.8v0.8h-0.8zM339.7 253.0h0.8v0.8h-0.8zM333.5 255.9h0.8v0.8h-0.8zM326.4 260.0h0.8v0.8h-0.8zM351.6 261.9h0.8v0.8h-0.8zM337.1 262.0h0.8v0.8h-0.8zM336.6 258.1h0.8v0.8h-0.8zM334.9 251.3h0.8v0.8h-0.8zM339.9 239.7h0.8v0.8h-0.8zM334.8 260.5h0.8v0.8h-0.8zM315.8 252.5h0.8v0.8h-0.8zM342.7 252.1h0.8v0.8h-0.8zM337.6 258.5h0.8v0.8h-0.8zM338.6 238.8h0.8v0.8h-0.8zM329.6 248.4h0.8v0.8h-0.8zM337.3 247.5h0.8v0.8h-0.8zM335.5 260.2h0.8v0.8h-0.8zM315.7 257.1h0.8v0.8h-0.8zM342.8 253.8h0.8v0.8h-0.8zM336.4 250.5h0.8v0.8h-0.8zM338.8 251.6h0.8v0.8h-0.8zM331.2 254.8h0.8v0.8h-0.8zM330.5 249.9h0.8v0.8h-0.8zM333.7 243.2h0.8v0.8h-0.8zM340.5 249.7h0.8v0.8h-0.8zM328.1 249.7h0.8v0.8h-0.8zM326.6 258.7h0.8v0.8h-0.8zM339.9 262.1h0.8v0.8h-0.8zM332.3 254.4h0.8v0.8h-0.8zM329.5 245.0h0.8v0.8h-0.8zM335.6 252.6h0.8v0.8h-0.8zM342.7 248.6h0.8v0.8h-0.8zM344.0 255.9h0.8v0.8h-0.8zM330.1 249.1h0.8v0.8h-0.8zM329.9 260.4h0.8v0.8h-0.8zM332.4 255.4h0.8v0.8h-0.8zM342.6 248.6h0.8v0.8h-0.8zM332.9 252.2h0.8v0.8h-0.8zM330.8 242.6h0.8v0.8h-0.8zM329.5 252.2h0.8v0.8h-0.8zM337.6 260.7h0.8v0.8h-0.8zM323.5 253.2h0.8v0.8h-0.8zM328.2 257.1h0.8v0.8h-0.8zM341.1 250.9h0.8v0.8h-0.8zM346.5 247.9h0.8v0.8h-0.8zM332.6 243.9h0.8v0.8h-0.8zM331.7 250.8h0.8v0.8h-0.8zM340.9 257.8h0.8v0.8h-0.8zM334.4 245.8h0.8v0.8h-0.8zM333.9 247.6h0.8v0.8h-0.8zM333.0 247.7h0.8v0.8h-0.8zM330.2 249.8h0.8v0.8h-0.8zM332.7 249.1h0.8v0.8h-0.8zM326.6 251.0h0.8v0.8h-0.8zM340.2 254.0h0.8v0.8h-0.8zM332.4 243.4h0.8v0.8h-0.8zM327.2 243.2h0.8v0.8h-0.8zM331.8 248.3h0.8v0.8h-0.8zM323.9 254.1h0.8v0.8h-0.8zM325.6 246.1h0.8v0.8h-0.8zM331.2 255.1h0.8v0.8h-0.8zM349.0 248.0h0.8v0.8h-0.8zM334.3 247.8h0.8v0.8h-0.8zM334.9 249.1h0.8v0.8h-0.8zM353.4 243.7h0.8v0.8h-0.8zM335.5 245.5h0.8v0.8h-0.8zM338.7 247.1h0.8v0.8h-0.8zM340.2 243.7h0.8v0.8h-0.8zM350.9 251.4h0.8v0.8h-0.8zM324.0 254.3h0.8v0.8h-0.8zM333.0 243.3h0.8v0.8h-0.8zM339.3 247.1h0.8v0.8h-0.8zM341.4 246.9h0.8v0.8h-0.8zM342.5 251.0h0.8v0.8h-0.8zM338.7 251.1h0.8v0.8h-0.8zM333.7 248.0h0.8v0.8h-0.8zM339.4 254.4h0.8v0.8h-0.8zM333.4 263.4h0.8v0.8h-0.8zM348.0 243.4h0.8v0.8h-0.8zM343.8 249.7h0.8v0.8h-0.8zM337.9 245.5h0.8v0.8h-0.8zM347.7 245.3h0.8v0.8h-0.8zM335.7 245.9h0.8v0.8h-0.8zM349.6 257.6h0.8v0.8h-0.8zM327.1 247.5h0.8v0.8h-0.8zM338.8 247.6h0.8v0.8h-0.8zM333.8 243.8h0.8v0.8h-0.8zM338.0 243.7h0.8v0.8h-0.8zM342.0 264.3h0.8v0.8h-0.8zM334.0 259.9h0.8v0.8h-0.8zM338.8 246.2h0.8v0.8h-0.8zM333.9 244.5h0.8v0.8h-0.8zM337.0 254.3h0.8v0.8h-0.8zM342.7 248.5h0.8v0.8h-0.8zM328.0 249.7h0.8v0.8h-0.8zM347.8 251.8h0.8v0.8h-0.8zM335.8 237.9h0.8v0.8h-0.8zM333.3 253.4h0.8v0.8h-0.8zM329.7 258.1h0.8v0.8h-0.8zM332.3 245.0h0.8v0.8h-0.8zM332.2 249.6h0.8v0.8h-0.8zM343.1 246.8h0.8v0.8h-0.8zM324.0 249.7h0.8v0.8h-0.8zM339.9 259.2h0.8v0.8h-0.8zM328.5 258.9h0.8v0.8h-0.8zM340.9 252.8h0.8v0.8h-0.8zM331.0 245.0h0.8v0.8h-0.8zM329.7 255.7h0.8v0.8h-0.8zM337.8 256.5h0.8v0.8h-0.8zM348.8 250.3h0.8v0.8h-0.8zM335.9 261.5h0.8v0.8h-0.8zM327.3 247.5h0.8v0.8h-0.8zM333.7 247.9h0.8v0.8h-0.8zM337.2 245.2h0.8v0.8h-0.8zM344.3 242.1h0.8v0.8h-0.8zM330.6 240.2h0.8v0.8h-0.8zM326.6 253.6h0.8v0.8h-0.8zM340.6 249.0h0.8v0.8h-0.8zM342.1 253.8h0.8v0.8h-0.8zM332.3 249.9h0.8v0.8h-0.8zM338.8 262.0h0.8v0.8h-0.8zM333.2 252.4h0.8v0.8h-0.8zM340.0 257.3h0.8v0.8h-0.8zM339.2 256.5h0.8v0.8h-0.8zM328.9 248.6h0.8v0.8h-0.8zM322.9 249.9h0.8v0.8h-0.8zM352.3 251.6h0.8v0.8h-0.8zM336.9 251.7h0.8v0.8h-0.8zM337.3 242.4h0.8v0.8h-0.8zM331.5 249.2h0.8v0.8h-0.8zM337.4 245.1h0.8v0.8h-0.8zM335.5 245.9h0.8v0.8h-0.8zM327.2 246.3h0.8v0.8h-0.8zM330.7 255.1h0.8v0.8h-0.8zM345.5 253.6h0.8v0.8h-0.8zM334.8 246.9h0.8v0.8h-0.8zM325.4 247.1h0.8v0.8h-0.8zM347.0 257.0h0.8v0.8h-0.8zM337.8 248.7h0.8v0.8h-0.8zM336.3 252.7h0.8v0.8h-0.8zM336.2 252.7h0.8v0.8h-0.8zM330.9 250.5h0.8v0.8h-0.8zM333.8 256.5h0.8v0.8h-0.8zM327.7 257.8h0.8v0.8h-0.8zM335.7 247.2h0.8v0.8h-0.8zM336.4 250.9h0.8v0.8h-0.8zM334.6 252.7h0.8v0.8h-0.8zM332.3 240.3h0.8v0.8h-0.8zM341.0 250.0h0.8v0.8h-0.8zM347.7 252.5h0.8v0.8h-0.8zM322.5 257.5h0.8v0.8h-0.8zM331.5 253.4h0.8v0.8h-0.8zM351.5 256.6h0.8v0.8h-0.8zM328.7 249.7h0.8v0.8h-0.8zM325.2 254.1h0.8v0.8h-0.8zM340.1 244.2h0.8v0.8h-0.8zM339.4 255.7h0.8v0.8h-0.8zM341.8 246.3h0.8v0.8h-0.8zM331.5 243.6h0.8v0.8h-0.8zM327.4 252.0h0.8v0.8h-0.8zM336.5 257.8h0.8v0.8h-0.8zM338.1 248.3h0.8v0.8h-0.8zM326.4 259.2h0.8v0.8h-0.8zM337.4 250.0h0.8v0.8h-0.8zM329.3 244.1h0.8v0.8h-0.8zM340.6 244.5h0.8v0.8h-0.8zM340.3 253.9h0.8v0.8h-0.8zM333.6 240.7h0.8v0.8h-0.8zM339.1 258.4h0.8v0.8h-0.8zM330.6 242.8h0.8v0.8h-0.8zM343.7 251.0h0.8v0.8h-0.8zM332.0 257.4h0.8v0.8h-0.8zM334.3 252.8h0.8v0.8h-0.8zM333.5 245.8h0.8v0.8h-0.8zM337.8 245.2h0.8v0.8h-0.8zM324.1 247.1h0.8v0.8h-0.8zM344.7 256.6h0.8v0.8h-0.8zM351.2 256.0h0.8v0.8h-0.8zM347.3 251.7h0.8v0.8h-0.8zM333.3 252.9h0.8v0.8h-0.8zM329.7 254.5h0.8v0.8h-0.8zM333.2 251.7h0.8v0.8h-0.8zM330.4 249.4h0.8v0.8h-0.8zM343.0 248.9h0.8v0.8h-0.8zM331.6 251.9h0.8v0.8h-0.8zM342.3 249.1h0.8v0.8h-0.8zM328.2 241.1h0.8v0.8h-0.8zM327.1 256.4h0.8v0.8h-0.8zM335.6 253.0h0.8v0.8h-0.8zM343.6 251.9h0.8v0.8h-0.8zM339.6 247.3h0.8v0.8h-0.8zM325.2 253.9h0.8v0.8h-0.8zM335.6 253.6h0.8v0.8h-0.8zM328.9 249.4h0.8v0.8h-0.8zM350.1 245.3h0.8v0.8h-0.8zM336.9 257.8h0.8v0.8h-0.8zM334.7 250.9h0.8v0.8h-0.8zM321.6 254.7h0.8v0.8h-0.8zM333.2 257.7h0.8v0.8h-0.8zM335.6 248.1h0.8v0.8h-0.8zM339.2 248.8h0.8v0.8h-0.8zM332.7 259.2h0.8v0.8h-0.8zM343.0 250.9h0.8v0.8h-0.8zM341.8 255.0h0.8v0.8h-0.8zM340.2 250.5h0.8v0.8h-0.8zM336.7 252.6h0.8v0.8h-0.8zM340.1 252.3h0.8v0.8h-0.8zM332.5 249.8h0.8v0.8h-0.8zM339.4 244.5h0.8v0.8h-0.8zM336.2 254.6h0.8v0.8h-0.8zM337.4 248.6h0.8v0.8h-0.8zM336.1 247.4h0.8v0.8h-0.8zM343.0 248.1h0.8v0.8h-0.8zM324.8 243.3h0.8v0.8h-0.8zM338.3 251.4h0.8v0.8h-0.8zM333.0 242.7h0.8v0.8h-0.8zM335.2 245.4h0.8v0.8h-0.8zM331.8 250.2h0.8v0.8h-0.8zM331.0 252.0h0.8v0.8h-0.8zM331.2 247.6h0.8v0.8h-0.8zM334.7 258.7h0.8v0.8h-0.8zM347.1 255.7h0.8v0.8h-0.8zM331.2 250.3h0.8v0.8h-0.8zM342.5 254.9h0.8v0.8h-0.8zM325.1 249.9h0.8v0.8h-0.8zM331.2 254.6h0.8v0.8h-0.8zM340.6 247.2h0.8v0.8h-0.8zM350.9 248.6h0.8v0.8h-0.8zM353.0 249.3h0.8v0.8h-0.8zM335.7 261.1h0.8v0.8h-0.8zM332.6 247.5h0.8v0.8h-0.8zM346.4 250.0h0.8v0.8h-0.8zM339.5 243.0h0.8v0.8h-0.8zM348.5 255.9h0.8v0.8h-0.8zM338.7 254.3h0.8v0.8h-0.8zM332.8 247.5h0.8v0.8h-0.8zM325.5 252.4h0.8v0.8h-0.8zM344.7 255.2h0.8v0.8h-0.8zM342.6 254.3h0.8v0.8h-0.8zM329.9 242.8h0.8v0.8h-0.8zM340.6 251.2h0.8v0.8h-0.8zM343.0 248.7h0.8v0.8h-0.8zM330.2 252.8h0.8v0.8h-0.8zM332.4 240.9h0.8v0.8h-0.8zM332.1 245.2h0.8v0.8h-0.8zM328.6 247.1h0.8v0.8h-0.8zM342.8 263.7h0.8v0.8h-0.8zM348.1 247.9h0.8v0.8h-0.8zM344.1 249.8h0.8v0.8h-0.8zM339.0 246.4h0.8v0.8h-0.8zM335.7 240.7h0.8v0.8h-0.8zM348.5 245.9h0.8v0.8h-0.8zM340.3 246.9h0.8v0.8h-0.8zM338.1 243.5h0.8v0.8h-0.8zM333.7 255.5h0.8v0.8h-0.8zM340.3 239.1h0.8v0.8h-0.8zM342.1 242.8h0.8v0.8h-0.8zM338.2 253.2h0.8v0.8h-0.8zM331.9 248.4h0.8v0.8h-0.8zM334.6 252.5h0.8v0.8h-0.8zM342.5 258.0h0.8v0.8h-0.8zM338.5 261.6h0.8v0.8h-0.8zM329.8 260.4h0.8v0.8h-0.8zM334.5 254.6h0.8v0.8h-0.8zM335.4 250.7h0.8v0.8h-0.8zM330.0 252.5h0.8v0.8h-0.8zM350.1 251.1h0.8v0.8h-0.8zM336.1 250.3h0.8v0.8h-0.8zM341.1 249.1h0.8v0.8h-0.8zM336.2 251.5h0.8v0.8h-0.8zM345.2 255.7h0.8v0.8h-0.8zM329.0 246.6h0.8v0.8h-0.8zM336.4 255.1h0.8v0.8h-0.8zM342.9 249.1h0.8v0.8h-0.8zM350.8 249.3h0.8v0.8h-0.8zM345.9 258.4h0.8v0.8h-0.8zM347.2 251.4h0.8v0.8h-0.8zM340.2 241.5h0.8v0.8h-0.8zM324.1 246.8h0.8v0.8h-0.8zM341.2 256.3h0.8v0.8h-0.8zM335.5 256.2h0.8v0.8h-0.8zM340.2 258.9h0.8v0.8h-0.8zM325.3 245.5h0.8v0.8h-0.8zM329.7 244.3h0.8v0.8h-0.8zM347.5 245.0h0.8v0.8h-0.8zM330.6 248.0h0.8v0.8h-0.8zM342.3 247.6h0.8v0.8h-0.8zM341.3 253.4h0.8v0.8h-0.8zM331.9 236.8h0.8v0.8h-0.8zM330.0 243.1h0.8v0.8h-0.8zM347.5 246.2h0.8v0.8h-0.8zM328.9 252.4h0.8v0.8h-0.8zM336.6 244.9h0.8v0.8h-0.8zM343.8 255.5h0.8v0.8h-0.8zM338.2 245.9h0.8v0.8h-0.8zM330.3 238.6h0.8v0.8h-0.8zM338.9 252.5h0.8v0.8h-0.8zM329.9 250.4h0.8v0.8h-0.8zM324.5 253.7h0.8v0.8h-0.8zM333.3 247.4h0.8v0.8h-0.8zM340.5 249.5h0.8v0.8h-0.8zM343.1 253.2h0.8v0.8h-0.8zM344.2 250.9h0.8v0.8h-0.8zM321.4 258.0h0.8v0.8h-0.8zM324.6 256.2h0.8v0.8h-0.8zM338.0 242.3h0.8v0.8h-0.8zM336.7 255.3h0.8v0.8h-0.8zM329.2 250.5h0.8v0.8h-0.8zM331.2 244.5h0.8v0.8h-0.8zM332.0 257.5h0.8v0.8h-0.8zM341.0 250.1h0.8v0.8h-0.8zM335.7 251.0h0.8v0.8h-0.8zM338.2 251.3h0.8v0.8h-0.8zM324.5 255.5h0.8v0.8h-0.8zM330.4 235.4h0.8v0.8h-0.8zM341.1 243.3h0.8v0.8h-0.8zM335.3 249.7h0.8v0.8h-0.8zM332.2 253.3h0.8v0.8h-0.8zM334.4 248.6h0.8v0.8h-0.8zM329.7 248.6h0.8v0.8h-0.8zM329.1 250.5h0.8v0.8h-0.8zM345.3 256.0h0.8v0.8h-0.8zM339.2 242.4h0.8v0.8h-0.8zM343.3 255.5h0.8v0.8h-0.8zM350.4 237.4h0.8v0.8h-0.8zM336.4 248.3h0.8v0.8h-0.8zM343.7 244.0h0.8v0.8h-0.8zM333.6 263.5h0.8v0.8h-0.8zM343.1 238.8h0.8v0.8h-0.8zM336.4 258.0h0.8v0.8h-0.8zM332.0 253.6h0.8v0.8h-0.8zM336.9 241.9h0.8v0.8h-0.8zM331.9 256.7h0.8v0.8h-0.8zM344.4 246.8h0.8v0.8h-0.8zM344.0 246.1h0.8v0.8h-0.8zM338.0 250.1h0.8v0.8h-0.8zM327.7 252.0h0.8v0.8h-0.8zM333.6 234.5h0.8v0.8h-0.8zM330.5 245.4h0.8v0.8h-0.8zM330.5 244.6h0.8v0.8h-0.8zM331.5 236.2h0.8v0.8h-0.8zM342.4 250.6h0.8v0.8h-0.8zM338.0 248.7h0.8v0.8h-0.8zM336.7 248.7h0.8v0.8h-0.8zM328.7 241.5h0.8v0.8h-0.8zM336.8 256.0h0.8v0.8h-0.8zM337.9 259.4h0.8v0.8h-0.8zM326.9 248.7h0.8v0.8h-0.8zM332.0 257.2h0.8v0.8h-0.8zM347.9 247.2h0.8v0.8h-0.8zM341.3 248.8h0.8v0.8h-0.8zM329.4 249.6h0.8v0.8h-0.8zM329.1 259.1h0.8v0.8h-0.8zM340.3 257.0h0.8v0.8h-0.8zM338.7 236.3h0.8v0.8h-0.8zM341.8 250.7h0.8v0.8h-0.8zM319.8 250.8h0.8v0.8h-0.8zM343.2 260.0h0.8v0.8h-0.8zM329.2 254.7h0.8v0.8h-0.8zM338.5 249.2h0.8v0.8h-0.8zM334.3 253.2h0.8v0.8h-0.8zM340.2 254.0h0.8v0.8h-0.8zM333.4 242.6h0.8v0.8h-0.8zM345.3 257.6h0.8v0.8h-0.8zM332.4 250.0h0.8v0.8h-0.8zM341.8 240.1h0.8v0.8h-0.8zM339.7 264.1h0.8v0.8h-0.8zM338.1 246.1h0.8v0.8h-0.8zM358.0 259.0h0.8v0.8h-0.8zM329.2 253.2h0.8v0.8h-0.8zM328.7 234.9h0.8v0.8h-0.8zM305.7 239.1h0.8v0.8h-0.8zM340.0 257.7h0.8v0.8h-0.8zM344.0 231.6h0.8v0.8h-0.8zM316.4 278.4h0.8v0.8h-0.8zM313.4 233.9h0.8v0.8h-0.8zM314.1 254.3h0.8v0.8h-0.8zM325.6 276.4h0.8v0.8h-0.8zM346.8 279.7h0.8v0.8h-0.8zM335.0 252.2h0.8v0.8h-0.8zM318.1 239.1h0.8v0.8h-0.8zM345.9 275.7h0.8v0.8h-0.8zM327.3 246.9h0.8v0.8h-0.8zM336.5 265.4h0.8v0.8h-0.8zM328.3 243.3h0.8v0.8h-0.8zM329.6 251.3h0.8v0.8h-0.8zM337.5 266.9h0.8v0.8h-0.8zM332.8 253.1h0.8v0.8h-0.8zM349.8 269.3h0.8v0.8h-0.8zM345.8 270.1h0.8v0.8h-0.8zM336.3 264.1h0.8v0.8h-0.8zM309.0 234.5h0.8v0.8h-0.8zM311.1 267.1h0.8v0.8h-0.8zM340.2 261.3h0.8v0.8h-0.8zM327.3 283.5h0.8v0.8h-0.8zM319.6 234.9h0.8v0.8h-0.8zM301.5 254.6h0.8v0.8h-0.8zM336.9 268.7h0.8v0.8h-0.8zM322.4 269.8h0.8v0.8h-0.8zM325.1 249.2h0.8v0.8h-0.8zM319.9 269.0h0.8v0.8h-0.8zM340.8 243.8h0.8v0.8h-0.8zM310.3 260.5h0.8v0.8h-0.8zM306.2 264.5h0.8v0.8h-0.8zM333.8 250.7h0.8v0.8h-0.8zM325.4 265.4h0.8v0.8h-0.8zM298.5 258.6h0.8v0.8h-0.8zM335.3 271.3h0.8v0.8h-0.8zM344.1 257.9h0.8v0.8h-0.8zM303.2 276.9h0.8v0.8h-0.8zM338.0 250.3h0.8v0.8h-0.8zM342.1 272.8h0.8v0.8h-0.8zM318.5 248.7h0.8v0.8h-0.8zM312.7 257.8h0.8v0.8h-0.8zM308.9 264.1h0.8v0.8h-0.8zM355.5 242.9h0.8v0.8h-0.8zM342.2 251.7h0.8v0.8h-0.8zM334.4 257.2h0.8v0.8h-0.8zM346.0 249.3h0.8v0.8h-0.8zM337.3 248.5h0.8v0.8h-0.8zM329.4 258.7h0.8v0.8h-0.8zM342.9 237.7h0.8v0.8h-0.8zM304.7 277.5h0.8v0.8h-0.8zM331.9 281.6h0.8v0.8h-0.8zM309.7 261.7h0.8v0.8h-0.8zM335.3 282.6h0.8v0.8h-0.8zM325.0 252.8h0.8v0.8h-0.8zM337.1 257.5h0.8v0.8h-0.8zM314.1 269.1h0.8v0.8h-0.8zM296.0 245.2h0.8v0.8h-0.8zM347.2 252.2h0.8v0.8h-0.8zM320.8 263.8h0.8v0.8h-0.8zM343.4 265.9h0.8v0.8h-0.8zM310.8 251.2h0.8v0.8h-0.8zM342.3 257.3h0.8v0.8h-0.8zM316.0 270.6h0.8v0.8h-0.8zM343.7 288.1h0.8v0.8h-0.8zM309.0 249.4h0.8v0.8h-0.8zM315.0 263.6h0.8v0.8h-0.8zM318.4 273.8h0.8v0.8h-0.8zM315.8 255.2h0.8v0.8h-0.8zM334.7 261.6h0.8v0.8h-0.8zM310.0 279.0h0.8v0.8h-0.8zM334.9 252.3h0.8v0.8h-0.8zM329.1 244.0h0.8v0.8h-0.8zM306.7 254.8h0.8v0.8h-0.8zM331.6 260.2h0.8v0.8h-0.8zM313.7 240.3h0.8v0.8h-0.8zM299.6 280.3h0.8v0.8h-0.8zM331.6 248.1h0.8v0.8h-0.8zM344.4 266.1h0.8v0.8h-0.8zM319.4 250.6h0.8v0.8h-0.8zM343.6 263.3h0.8v0.8h-0.8zM351.4 263.7h0.8v0.8h-0.8zM316.7 250.8h0.8v0.8h-0.8zM314.9 262.3h0.8v0.8h-0.8zM329.8 267.0h0.8v0.8h-0.8zM332.9 244.8h0.8v0.8h-0.8zM322.7 246.2h0.8v0.8h-0.8zM333.4 241.2h0.8v0.8h-0.8zM316.8 247.3h0.8v0.8h-0.8zM316.2 255.4h0.8v0.8h-0.8zM349.4 255.4h0.8v0.8h-0.8zM303.5 254.8h0.8v0.8h-0.8zM337.5 266.3h0.8v0.8h-0.8zM329.6 285.6h0.8v0.8h-0.8zM343.1 260.1h0.8v0.8h-0.8zM344.8 240.9h0.8v0.8h-0.8zM323.2 247.2h0.8v0.8h-0.8zM328.6 280.6h0.8v0.8h-0.8zM318.1 280.2h0.8v0.8h-0.8zM309.9 278.0h0.8v0.8h-0.8zM299.5 247.5h0.8v0.8h-0.8zM341.4 257.6h0.8v0.8h-0.8zM328.1 258.7h0.8v0.8h-0.8zM328.7 256.5h0.8v0.8h-0.8zM310.6 255.0h0.8v0.8h-0.8zM327.6 246.8h0.8v0.8h-0.8zM333.1 282.5h0.8v0.8h-0.8zM300.3 251.5h0.8v0.8h-0.8zM321.5 259.1h0.8v0.8h-0.8zM327.3 249.1h0.8v0.8h-0.8zM325.3 258.9h0.8v0.8h-0.8zM324.5 279.5h0.8v0.8h-0.8zM327.9 239.0h0.8v0.8h-0.8zM301.5 266.8h0.8v0.8h-0.8zM320.5 250.5h0.8v0.8h-0.8zM304.8 254.7h0.8v0.8h-0.8zM324.4 249.6h0.8v0.8h-0.8zM320.4 270.8h0.8v0.8h-0.8zM338.1 266.2h0.8v0.8h-0.8zM323.2 240.6h0.8v0.8h-0.8zM337.9 278.9h0.8v0.8h-0.8zM345.7 274.5h0.8v0.8h-0.8zM330.2 263.9h0.8v0.8h-0.8zM325.6 275.7h0.8v0.8h-0.8zM321.7 287.7h0.8v0.8h-0.8zM337.9 254.5h0.8v0.8h-0.8zM325.8 237.3h0.8v0.8h-0.8zM314.5 254.8h0.8v0.8h-0.8zM340.1 259.9h0.8v0.8h-0.8zM321.3 267.3h0.8v0.8h-0.8zM294.9 271.5h0.8v0.8h-0.8zM355.9 262.8h0.8v0.8h-0.8zM324.9 261.0h0.8v0.8h-0.8zM336.2 252.3h0.8v0.8h-0.8zM327.7 265.6h0.8v0.8h-0.8zM320.4 264.1h0.8v0.8h-0.8zM331.0 268.5h0.8v0.8h-0.8zM310.5 251.7h0.8v0.8h-0.8zM319.2 274.9h0.8v0.8h-0.8zM329.7 236.6h0.8v0.8h-0.8zM306.0 284.9h0.8v0.8h-0.8zM331.1 241.5h0.8v0.8h-0.8zM311.7 260.8h0.8v0.8h-0.8zM348.0 280.6h0.8v0.8h-0.8zM320.2 254.8h0.8v0.8h-0.8zM355.7 245.7h0.8v0.8h-0.8zM350.1 263.4h0.8v0.8h-0.8zM327.3 276.1h0.8v0.8h-0.8zM333.4 247.6h0.8v0.8h-0.8zM302.2 259.1h0.8v0.8h-0.8zM333.8 277.2h0.8v0.8h-0.8zM335.5 279.2h0.8v0.8h-0.8zM338.2 261.7h0.8v0.8h-0.8zM332.6 264.2h0.8v0.8h-0.8zM316.1 257.3h0.8v0.8h-0.8zM327.8 252.8h0.8v0.8h-0.8zM303.1 239.4h0.8v0.8h-0.8zM333.7 265.9h0.8v0.8h-0.8zM327.5 243.1h0.8v0.8h-0.8zM339.1 253.6h0.8v0.8h-0.8zM293.6 279.9h0.8v0.8h-0.8zM302.7 289.2h0.8v0.8h-0.8zM334.1 252.9h0.8v0.8h-0.8zM289.3 249.4h0.8v0.8h-0.8zM348.9 277.1h0.8v0.8h-0.8zM329.9 235.8h0.8v0.8h-0.8zM319.9 255.0h0.8v0.8h-0.8zM333.0 257.2h0.8v0.8h-0.8zM331.2 236.9h0.8v0.8h-0.8zM315.9 278.2h0.8v0.8h-0.8zM303.3 271.3h0.8v0.8h-0.8zM304.3 275.6h0.8v0.8h-0.8zM297.0 263.4h0.8v0.8h-0.8zM319.5 275.5h0.8v0.8h-0.8zM344.2 261.4h0.8v0.8h-0.8zM353.7 272.1h0.8v0.8h-0.8zM318.4 245.6h0.8v0.8h-0.8zM332.2 257.3h0.8v0.8h-0.8zM318.5 237.2h0.8v0.8h-0.8zM323.6 257.3h0.8v0.8h-0.8zM341.1 251.9h0.8v0.8h-0.8zM301.6 244.4h0.8v0.8h-0.8zM325.2 262.2h0.8v0.8h-0.8zM337.1 253.7h0.8v0.8h-0.8zM334.2 260.8h0.8v0.8h-0.8zM352.1 258.1h0.8v0.8h-0.8zM328.1 266.5h0.8v0.8h-0.8zM344.8 246.4h0.8v0.8h-0.8zM318.5 255.2h0.8v0.8h-0.8zM292.7 276.4h0.8v0.8h-0.8zM342.5 259.2h0.8v0.8h-0.8zM357.3 280.0h0.8v0.8h-0.8zM339.9 239.8h0.8v0.8h-0.8zM349.7 264.5h0.8v0.8h-0.8zM307.3 259.6h0.8v0.8h-0.8zM337.6 272.1h0.8v0.8h-0.8zM328.6 251.8h0.8v0.8h-0.8zM337.7 248.6h0.8v0.8h-0.8zM324.7 269.1h0.8v0.8h-0.8zM303.5 263.9h0.8v0.8h-0.8zM295.4 246.3h0.8v0.8h-0.8zM306.7 257.6h0.8v0.8h-0.8zM337.0 258.2h0.8v0.8h-0.8zM340.1 260.2h0.8v0.8h-0.8zM322.7 265.5h0.8v0.8h-0.8zM322.2 260.7h0.8v0.8h-0.8zM342.0 251.2h0.8v0.8h-0.8zM343.8 243.9h0.8v0.8h-0.8zM322.4 235.4h0.8v0.8h-0.8zM317.6 280.3h0.8v0.8h-0.8zM331.4 276.0h0.8v0.8h-0.8zM303.0 245.2h0.8v0.8h-0.8zM333.1 270.0h0.8v0.8h-0.8zM338.9 236.3h0.8v0.8h-0.8zM333.8 257.9h0.8v0.8h-0.8zM327.7 265.3h0.8v0.8h-0.8zM321.5 236.0h0.8v0.8h-0.8zM309.2 239.3h0.8v0.8h-0.8zM305.4 257.0h0.8v0.8h-0.8zM346.2 249.2h0.8v0.8h-0.8zM314.0 243.3h0.8v0.8h-0.8zM299.0 259.8h0.8v0.8h-0.8zM318.3 255.6h0.8v0.8h-0.8zM310.9 265.4h0.8v0.8h-0.8zM307.2 266.3h0.8v0.8h-0.8zM315.6 269.5h0.8v0.8h-0.8zM312.0 264.8h0.8v0.8h-0.8zM332.7 257.8h0.8v0.8h-0.8zM351.3 261.2h0.8v0.8h-0.8zM312.0 268.2h0.8v0.8h-0.8zM313.0 251.5h0.8v0.8h-0.8zM326.0 261.3h0.8v0.8h-0.8zM352.4 235.3h0.8v0.8h-0.8zM321.8 274.1h0.8v0.8h-0.8zM323.4 263.2h0.8v0.8h-0.8zM349.6 242.2h0.8v0.8h-0.8zM326.5 269.6h0.8v0.8h-0.8zM316.7 235.2h0.8v0.8h-0.8z"/><path fill="#000" fill-opacity="0.75" d="M312.6 275.8h0.85v0.85h-0.85zM319.7 276.9h0.85v0.85h-0.85zM318.7 275.5h0.85v0.85h-0.85zM318.6 281.4h0.85v0.85h-0.85zM306.3 278.5h0.85v0.85h-0.85zM331.0 269.4h0.85v0.85h-0.85zM308.1 278.3h0.85v0.85h-0.85zM310.3 274.4h0.85v0.85h-0.85zM319.0 279.8h0.85v0.85h-0.85zM320.3 275.4h0.85v0.85h-0.85zM323.2 272.4h0.85v0.85h-0.85zM313.3 275.3h0.85v0.85h-0.85zM319.6 272.1h0.85v0.85h-0.85zM314.3 273.9h0.85v0.85h-0.85zM309.9 273.3h0.85v0.85h-0.85zM317.4 272.7h0.85v0.85h-0.85zM318.0 279.0h0.85v0.85h-0.85zM319.4 273.1h0.85v0.85h-0.85zM311.6 272.3h0.85v0.85h-0.85zM319.8 269.8h0.85v0.85h-0.85zM320.1 268.9h0.85v0.85h-0.85zM318.6 273.3h0.85v0.85h-0.85zM323.1 270.2h0.85v0.85h-0.85zM315.9 275.6h0.85v0.85h-0.85zM318.1 280.1h0.85v0.85h-0.85zM316.5 272.4h0.85v0.85h-0.85zM316.2 276.3h0.85v0.85h-0.85zM319.1 275.9h0.85v0.85h-0.85zM310.5 286.1h0.85v0.85h-0.85zM327.6 269.7h0.85v0.85h-0.85zM311.5 277.0h0.85v0.85h-0.85zM320.0 264.6h0.85v0.85h-0.85zM317.9 268.3h0.85v0.85h-0.85zM320.3 278.0h0.85v0.85h-0.85zM323.3 266.0h0.85v0.85h-0.85zM325.2 274.3h0.85v0.85h-0.85zM315.9 276.5h0.85v0.85h-0.85zM325.9 269.3h0.85v0.85h-0.85zM317.8 271.8h0.85v0.85h-0.85zM324.0 263.3h0.85v0.85h-0.85zM325.4 267.1h0.85v0.85h-0.85zM322.8 265.7h0.85v0.85h-0.85zM312.9 273.6h0.85v0.85h-0.85zM322.2 266.0h0.85v0.85h-0.85zM321.0 270.2h0.85v0.85h-0.85zM324.4 270.0h0.85v0.85h-0.85zM320.4 272.2h0.85v0.85h-0.85zM327.3 268.6h0.85v0.85h-0.85zM317.7 281.3h0.85v0.85h-0.85zM318.3 276.3h0.85v0.85h-0.85zM313.9 276.2h0.85v0.85h-0.85zM305.8 279.2h0.85v0.85h-0.85zM314.4 269.6h0.85v0.85h-0.85zM310.4 281.2h0.85v0.85h-0.85zM320.1 267.2h0.85v0.85h-0.85zM327.4 267.3h0.85v0.85h-0.85zM315.9 275.6h0.85v0.85h-0.85zM311.8 270.2h0.85v0.85h-0.85zM313.9 279.9h0.85v0.85h-0.85zM322.9 265.9h0.85v0.85h-0.85zM324.2 271.4h0.85v0.85h-0.85zM320.5 273.0h0.85v0.85h-0.85zM320.0 269.2h0.85v0.85h-0.85zM313.0 273.2h0.85v0.85h-0.85zM315.9 277.0h0.85v0.85h-0.85zM311.4 282.5h0.85v0.85h-0.85zM314.5 273.0h0.85v0.85h-0.85zM321.6 274.0h0.85v0.85h-0.85zM316.1 270.6h0.85v0.85h-0.85zM312.6 270.0h0.85v0.85h-0.85zM323.9 275.4h0.85v0.85h-0.85zM327.7 271.7h0.85v0.85h-0.85zM319.6 276.0h0.85v0.85h-0.85zM322.9 270.8h0.85v0.85h-0.85zM319.7 281.2h0.85v0.85h-0.85zM308.9 272.2h0.85v0.85h-0.85zM312.8 278.8h0.85v0.85h-0.85zM324.1 270.0h0.85v0.85h-0.85zM321.4 272.2h0.85v0.85h-0.85zM319.4 271.2h0.85v0.85h-0.85zM317.7 273.9h0.85v0.85h-0.85zM323.8 279.8h0.85v0.85h-0.85zM308.2 279.8h0.85v0.85h-0.85zM317.8 277.5h0.85v0.85h-0.85zM323.5 274.5h0.85v0.85h-0.85zM322.1 268.5h0.85v0.85h-0.85zM308.8 283.8h0.85v0.85h-0.85zM324.3 267.7h0.85v0.85h-0.85zM324.7 273.6h0.85v0.85h-0.85zM304.9 282.5h0.85v0.85h-0.85zM312.6 280.4h0.85v0.85h-0.85zM314.2 272.5h0.85v0.85h-0.85zM309.7 276.4h0.85v0.85h-0.85zM323.2 269.1h0.85v0.85h-0.85zM308.0 285.9h0.85v0.85h-0.85zM327.6 272.4h0.85v0.85h-0.85zM315.0 270.5h0.85v0.85h-0.85zM309.2 279.5h0.85v0.85h-0.85zM324.7 267.1h0.85v0.85h-0.85zM317.8 272.8h0.85v0.85h-0.85zM316.5 276.3h0.85v0.85h-0.85zM328.9 266.9h0.85v0.85h-0.85zM322.4 276.1h0.85v0.85h-0.85zM316.3 273.9h0.85v0.85h-0.85zM310.7 280.8h0.85v0.85h-0.85zM315.0 272.5h0.85v0.85h-0.85zM318.2 270.5h0.85v0.85h-0.85zM312.3 275.0h0.85v0.85h-0.85zM325.7 269.9h0.85v0.85h-0.85zM320.6 267.2h0.85v0.85h-0.85zM307.5 284.9h0.85v0.85h-0.85zM315.7 268.9h0.85v0.85h-0.85zM317.3 276.4h0.85v0.85h-0.85zM308.7 274.3h0.85v0.85h-0.85zM319.2 269.8h0.85v0.85h-0.85zM322.1 275.7h0.85v0.85h-0.85zM320.2 271.3h0.85v0.85h-0.85zM317.6 271.6h0.85v0.85h-0.85zM317.2 275.3h0.85v0.85h-0.85zM316.3 278.2h0.85v0.85h-0.85zM331.6 266.2h0.85v0.85h-0.85zM319.7 276.2h0.85v0.85h-0.85zM321.3 271.6h0.85v0.85h-0.85zM315.3 278.7h0.85v0.85h-0.85zM321.2 274.4h0.85v0.85h-0.85zM313.6 278.0h0.85v0.85h-0.85zM322.1 271.4h0.85v0.85h-0.85zM321.3 280.6h0.85v0.85h-0.85zM307.9 280.2h0.85v0.85h-0.85zM311.6 271.3h0.85v0.85h-0.85zM316.6 276.4h0.85v0.85h-0.85zM318.1 269.3h0.85v0.85h-0.85zM310.2 274.9h0.85v0.85h-0.85zM317.9 270.7h0.85v0.85h-0.85zM309.9 283.7h0.85v0.85h-0.85zM313.4 275.1h0.85v0.85h-0.85zM314.9 272.8h0.85v0.85h-0.85zM318.1 272.6h0.85v0.85h-0.85zM321.1 268.0h0.85v0.85h-0.85zM309.9 284.4h0.85v0.85h-0.85zM317.5 276.9h0.85v0.85h-0.85zM324.1 273.4h0.85v0.85h-0.85zM318.0 267.9h0.85v0.85h-0.85zM309.3 281.0h0.85v0.85h-0.85zM321.5 274.5h0.85v0.85h-0.85zM309.0 269.4h0.85v0.85h-0.85zM312.2 271.7h0.85v0.85h-0.85zM318.7 269.6h0.85v0.85h-0.85zM326.3 268.1h0.85v0.85h-0.85zM314.9 278.3h0.85v0.85h-0.85zM319.6 269.7h0.85v0.85h-0.85zM322.2 279.3h0.85v0.85h-0.85zM311.3 275.6h0.85v0.85h-0.85zM312.1 268.9h0.85v0.85h-0.85zM321.2 275.1h0.85v0.85h-0.85zM323.0 273.3h0.85v0.85h-0.85zM307.1 278.1h0.85v0.85h-0.85zM314.3 270.9h0.85v0.85h-0.85zM311.9 279.2h0.85v0.85h-0.85zM316.3 281.9h0.85v0.85h-0.85zM320.4 265.6h0.85v0.85h-0.85zM322.6 276.6h0.85v0.85h-0.85zM318.0 269.2h0.85v0.85h-0.85zM327.3 265.0h0.85v0.85h-0.85zM317.4 266.8h0.85v0.85h-0.85zM311.1 270.2h0.85v0.85h-0.85zM323.7 275.9h0.85v0.85h-0.85zM315.7 269.6h0.85v0.85h-0.85zM317.5 275.4h0.85v0.85h-0.85zM309.7 272.8h0.85v0.85h-0.85zM317.3 276.7h0.85v0.85h-0.85zM318.2 275.4h0.85v0.85h-0.85zM311.2 267.1h0.85v0.85h-0.85zM319.5 269.7h0.85v0.85h-0.85zM317.2 272.7h0.85v0.85h-0.85zM320.4 269.9h0.85v0.85h-0.85zM325.6 270.8h0.85v0.85h-0.85zM320.7 275.1h0.85v0.85h-0.85zM323.4 273.1h0.85v0.85h-0.85zM308.5 275.3h0.85v0.85h-0.85zM327.8 271.6h0.85v0.85h-0.85zM320.9 274.4h0.85v0.85h-0.85zM314.4 272.7h0.85v0.85h-0.85zM314.4 279.7h0.85v0.85h-0.85zM319.8 279.8h0.85v0.85h-0.85zM320.5 280.0h0.85v0.85h-0.85zM320.3 268.3h0.85v0.85h-0.85zM327.2 271.3h0.85v0.85h-0.85zM324.3 272.0h0.85v0.85h-0.85zM316.1 275.2h0.85v0.85h-0.85zM311.8 271.8h0.85v0.85h-0.85zM313.1 273.8h0.85v0.85h-0.85zM310.5 276.4h0.85v0.85h-0.85zM319.5 280.9h0.85v0.85h-0.85zM327.8 269.6h0.85v0.85h-0.85zM322.6 271.1h0.85v0.85h-0.85zM320.0 272.9h0.85v0.85h-0.85zM314.9 275.3h0.85v0.85h-0.85zM309.9 278.8h0.85v0.85h-0.85zM316.3 270.3h0.85v0.85h-0.85zM315.9 276.8h0.85v0.85h-0.85zM314.2 277.2h0.85v0.85h-0.85zM320.9 278.6h0.85v0.85h-0.85zM312.0 275.8h0.85v0.85h-0.85zM320.6 278.5h0.85v0.85h-0.85zM319.3 276.2h0.85v0.85h-0.85zM309.9 274.9h0.85v0.85h-0.85zM326.8 269.1h0.85v0.85h-0.85zM329.6 266.3h0.85v0.85h-0.85zM316.3 268.3h0.85v0.85h-0.85zM321.3 273.5h0.85v0.85h-0.85zM328.8 270.0h0.85v0.85h-0.85zM316.5 269.0h0.85v0.85h-0.85zM317.4 277.7h0.85v0.85h-0.85zM321.9 276.9h0.85v0.85h-0.85zM322.5 271.8h0.85v0.85h-0.85zM321.1 273.2h0.85v0.85h-0.85zM310.6 283.4h0.85v0.85h-0.85zM319.9 269.0h0.85v0.85h-0.85zM319.9 274.1h0.85v0.85h-0.85zM323.3 277.2h0.85v0.85h-0.85zM301.3 282.7h0.85v0.85h-0.85zM326.2 266.8h0.85v0.85h-0.85zM307.7 279.1h0.85v0.85h-0.85zM319.7 274.5h0.85v0.85h-0.85zM311.8 274.5h0.85v0.85h-0.85zM318.9 276.3h0.85v0.85h-0.85zM329.8 270.1h0.85v0.85h-0.85zM314.6 266.1h0.85v0.85h-0.85zM323.7 270.9h0.85v0.85h-0.85zM317.3 270.3h0.85v0.85h-0.85zM321.9 265.3h0.85v0.85h-0.85zM318.4 274.1h0.85v0.85h-0.85zM319.5 278.2h0.85v0.85h-0.85zM317.3 274.4h0.85v0.85h-0.85zM322.5 265.9h0.85v0.85h-0.85zM316.3 274.8h0.85v0.85h-0.85zM323.1 268.6h0.85v0.85h-0.85zM322.2 273.5h0.85v0.85h-0.85zM309.7 271.4h0.85v0.85h-0.85zM310.0 277.6h0.85v0.85h-0.85zM319.0 276.2h0.85v0.85h-0.85zM322.3 269.9h0.85v0.85h-0.85zM323.7 274.6h0.85v0.85h-0.85zM320.4 274.7h0.85v0.85h-0.85zM310.8 278.1h0.85v0.85h-0.85zM312.2 271.5h0.85v0.85h-0.85zM315.9 275.2h0.85v0.85h-0.85zM317.6 272.7h0.85v0.85h-0.85zM312.4 276.8h0.85v0.85h-0.85zM313.8 270.1h0.85v0.85h-0.85zM318.4 279.3h0.85v0.85h-0.85zM315.6 270.6h0.85v0.85h-0.85zM325.4 277.4h0.85v0.85h-0.85zM316.2 273.7h0.85v0.85h-0.85zM319.0 284.8h0.85v0.85h-0.85zM318.6 277.4h0.85v0.85h-0.85zM320.3 265.8h0.85v0.85h-0.85zM311.8 271.5h0.85v0.85h-0.85zM320.2 273.3h0.85v0.85h-0.85zM327.6 268.8h0.85v0.85h-0.85zM319.5 273.5h0.85v0.85h-0.85zM318.6 282.5h0.85v0.85h-0.85zM319.4 278.9h0.85v0.85h-0.85zM325.0 268.6h0.85v0.85h-0.85zM321.6 270.8h0.85v0.85h-0.85zM318.5 274.2h0.85v0.85h-0.85zM318.0 272.0h0.85v0.85h-0.85zM326.4 269.3h0.85v0.85h-0.85zM321.7 278.8h0.85v0.85h-0.85zM321.3 276.4h0.85v0.85h-0.85zM325.5 275.0h0.85v0.85h-0.85zM327.3 264.4h0.85v0.85h-0.85zM328.6 269.6h0.85v0.85h-0.85zM308.3 275.3h0.85v0.85h-0.85zM310.2 276.9h0.85v0.85h-0.85zM309.7 273.3h0.85v0.85h-0.85zM319.5 273.8h0.85v0.85h-0.85zM313.5 274.7h0.85v0.85h-0.85zM317.3 274.4h0.85v0.85h-0.85zM317.8 273.0h0.85v0.85h-0.85zM322.7 265.6h0.85v0.85h-0.85zM315.1 275.5h0.85v0.85h-0.85zM315.6 272.6h0.85v0.85h-0.85zM315.4 275.6h0.85v0.85h-0.85zM324.7 270.3h0.85v0.85h-0.85zM316.4 275.8h0.85v0.85h-0.85zM316.5 266.9h0.85v0.85h-0.85zM319.3 271.8h0.85v0.85h-0.85zM314.7 277.6h0.85v0.85h-0.85zM318.1 271.6h0.85v0.85h-0.85zM305.9 272.0h0.85v0.85h-0.85zM317.9 273.4h0.85v0.85h-0.85zM320.3 273.7h0.85v0.85h-0.85zM315.2 270.0h0.85v0.85h-0.85zM311.8 275.8h0.85v0.85h-0.85zM311.5 279.4h0.85v0.85h-0.85zM310.6 269.9h0.85v0.85h-0.85zM316.8 267.4h0.85v0.85h-0.85zM326.8 266.3h0.85v0.85h-0.85zM317.6 273.0h0.85v0.85h-0.85zM313.3 268.8h0.85v0.85h-0.85zM307.6 281.4h0.85v0.85h-0.85zM323.5 280.0h0.85v0.85h-0.85zM309.8 279.3h0.85v0.85h-0.85zM317.8 277.2h0.85v0.85h-0.85zM315.0 277.8h0.85v0.85h-0.85zM322.8 274.2h0.85v0.85h-0.85zM325.8 269.9h0.85v0.85h-0.85zM326.3 267.6h0.85v0.85h-0.85zM327.0 259.4h0.85v0.85h-0.85zM317.9 270.7h0.85v0.85h-0.85zM317.9 277.9h0.85v0.85h-0.85zM321.8 272.6h0.85v0.85h-0.85zM327.2 264.3h0.85v0.85h-0.85zM313.4 281.6h0.85v0.85h-0.85zM319.7 265.0h0.85v0.85h-0.85zM319.7 268.5h0.85v0.85h-0.85zM326.0 275.0h0.85v0.85h-0.85zM314.8 280.1h0.85v0.85h-0.85zM313.3 279.3h0.85v0.85h-0.85zM321.0 272.1h0.85v0.85h-0.85zM310.0 276.0h0.85v0.85h-0.85zM305.3 276.8h0.85v0.85h-0.85zM307.7 282.8h0.85v0.85h-0.85zM312.5 266.5h0.85v0.85h-0.85zM321.1 274.0h0.85v0.85h-0.85zM315.1 283.2h0.85v0.85h-0.85zM322.1 272.4h0.85v0.85h-0.85zM314.3 263.8h0.85v0.85h-0.85zM320.5 276.5h0.85v0.85h-0.85zM314.6 269.7h0.85v0.85h-0.85zM317.6 267.4h0.85v0.85h-0.85zM317.9 276.8h0.85v0.85h-0.85zM326.2 271.5h0.85v0.85h-0.85zM318.9 276.3h0.85v0.85h-0.85zM325.5 269.5h0.85v0.85h-0.85zM311.1 273.5h0.85v0.85h-0.85zM310.9 273.2h0.85v0.85h-0.85zM317.2 275.5h0.85v0.85h-0.85zM318.7 273.8h0.85v0.85h-0.85zM315.9 276.3h0.85v0.85h-0.85zM322.7 274.8h0.85v0.85h-0.85zM326.1 269.4h0.85v0.85h-0.85zM316.5 281.0h0.85v0.85h-0.85zM319.0 275.0h0.85v0.85h-0.85zM316.0 278.4h0.85v0.85h-0.85zM315.6 270.8h0.85v0.85h-0.85zM317.5 272.3h0.85v0.85h-0.85zM322.4 270.5h0.85v0.85h-0.85zM318.5 272.7h0.85v0.85h-0.85zM319.7 270.6h0.85v0.85h-0.85zM323.9 265.8h0.85v0.85h-0.85zM315.7 272.0h0.85v0.85h-0.85zM321.4 272.5h0.85v0.85h-0.85zM320.5 271.5h0.85v0.85h-0.85zM313.9 271.1h0.85v0.85h-0.85zM316.0 272.5h0.85v0.85h-0.85zM319.4 274.6h0.85v0.85h-0.85zM323.2 271.2h0.85v0.85h-0.85zM313.7 271.4h0.85v0.85h-0.85zM318.2 275.1h0.85v0.85h-0.85zM328.6 270.2h0.85v0.85h-0.85zM327.5 277.2h0.85v0.85h-0.85zM312.1 280.9h0.85v0.85h-0.85zM324.1 276.5h0.85v0.85h-0.85zM317.8 277.6h0.85v0.85h-0.85zM315.2 274.7h0.85v0.85h-0.85zM318.0 280.8h0.85v0.85h-0.85zM316.7 278.1h0.85v0.85h-0.85zM318.2 270.9h0.85v0.85h-0.85zM319.2 275.9h0.85v0.85h-0.85zM313.9 277.9h0.85v0.85h-0.85zM313.9 272.0h0.85v0.85h-0.85zM319.1 272.4h0.85v0.85h-0.85zM312.4 269.7h0.85v0.85h-0.85zM318.0 274.7h0.85v0.85h-0.85zM315.3 275.6h0.85v0.85h-0.85zM309.5 278.8h0.85v0.85h-0.85zM320.1 274.0h0.85v0.85h-0.85zM314.5 275.5h0.85v0.85h-0.85zM318.6 277.7h0.85v0.85h-0.85zM319.4 274.2h0.85v0.85h-0.85zM313.9 278.8h0.85v0.85h-0.85zM324.3 269.3h0.85v0.85h-0.85zM321.4 273.6h0.85v0.85h-0.85zM317.6 268.9h0.85v0.85h-0.85zM327.5 262.6h0.85v0.85h-0.85zM319.5 271.7h0.85v0.85h-0.85zM324.1 269.6h0.85v0.85h-0.85zM318.1 276.1h0.85v0.85h-0.85zM320.4 270.8h0.85v0.85h-0.85zM321.6 273.8h0.85v0.85h-0.85zM323.3 269.6h0.85v0.85h-0.85zM317.6 272.4h0.85v0.85h-0.85zM313.2 276.7h0.85v0.85h-0.85zM320.1 278.5h0.85v0.85h-0.85zM316.1 276.1h0.85v0.85h-0.85zM324.1 270.8h0.85v0.85h-0.85zM318.2 274.2h0.85v0.85h-0.85zM314.1 271.6h0.85v0.85h-0.85zM324.0 272.0h0.85v0.85h-0.85zM317.4 269.2h0.85v0.85h-0.85zM318.5 278.1h0.85v0.85h-0.85zM311.5 273.0h0.85v0.85h-0.85zM323.9 276.9h0.85v0.85h-0.85zM326.4 268.2h0.85v0.85h-0.85zM321.1 269.6h0.85v0.85h-0.85zM320.7 271.3h0.85v0.85h-0.85zM318.9 278.6h0.85v0.85h-0.85zM319.7 272.2h0.85v0.85h-0.85zM318.2 274.8h0.85v0.85h-0.85zM315.0 275.8h0.85v0.85h-0.85zM321.1 278.6h0.85v0.85h-0.85zM306.6 273.9h0.85v0.85h-0.85zM311.1 280.0h0.85v0.85h-0.85zM331.2 269.1h0.85v0.85h-0.85zM318.5 278.0h0.85v0.85h-0.85zM304.5 278.6h0.85v0.85h-0.85zM300.8 281.4h0.85v0.85h-0.85zM315.1 273.1h0.85v0.85h-0.85zM319.7 270.8h0.85v0.85h-0.85zM323.9 271.4h0.85v0.85h-0.85zM319.9 282.8h0.85v0.85h-0.85zM315.4 278.4h0.85v0.85h-0.85zM313.3 280.5h0.85v0.85h-0.85zM323.1 272.2h0.85v0.85h-0.85zM323.3 277.9h0.85v0.85h-0.85zM325.4 270.8h0.85v0.85h-0.85zM317.6 278.3h0.85v0.85h-0.85zM309.8 274.8h0.85v0.85h-0.85zM320.5 275.0h0.85v0.85h-0.85zM328.0 276.5h0.85v0.85h-0.85zM319.6 274.8h0.85v0.85h-0.85zM310.7 276.1h0.85v0.85h-0.85zM319.3 272.4h0.85v0.85h-0.85zM318.2 276.1h0.85v0.85h-0.85zM312.7 273.8h0.85v0.85h-0.85zM308.2 282.2h0.85v0.85h-0.85zM312.1 269.6h0.85v0.85h-0.85zM322.0 271.3h0.85v0.85h-0.85zM323.1 270.3h0.85v0.85h-0.85zM329.4 271.9h0.85v0.85h-0.85zM318.7 274.0h0.85v0.85h-0.85zM316.7 277.4h0.85v0.85h-0.85zM328.7 267.8h0.85v0.85h-0.85zM311.9 278.6h0.85v0.85h-0.85zM323.7 265.7h0.85v0.85h-0.85zM314.1 271.5h0.85v0.85h-0.85zM320.9 274.5h0.85v0.85h-0.85zM313.9 271.1h0.85v0.85h-0.85zM321.6 264.4h0.85v0.85h-0.85zM321.3 271.8h0.85v0.85h-0.85zM328.3 273.4h0.85v0.85h-0.85zM314.7 274.1h0.85v0.85h-0.85zM316.3 271.7h0.85v0.85h-0.85zM318.3 277.4h0.85v0.85h-0.85zM309.7 276.3h0.85v0.85h-0.85zM325.9 273.4h0.85v0.85h-0.85zM313.4 272.6h0.85v0.85h-0.85zM313.2 269.6h0.85v0.85h-0.85zM324.1 271.6h0.85v0.85h-0.85zM314.1 269.9h0.85v0.85h-0.85zM315.8 272.7h0.85v0.85h-0.85zM327.2 268.3h0.85v0.85h-0.85zM318.5 277.7h0.85v0.85h-0.85zM321.5 271.7h0.85v0.85h-0.85zM306.0 284.1h0.85v0.85h-0.85zM321.1 270.9h0.85v0.85h-0.85zM317.4 270.4h0.85v0.85h-0.85zM313.0 270.2h0.85v0.85h-0.85zM320.6 274.7h0.85v0.85h-0.85zM318.8 276.5h0.85v0.85h-0.85zM320.7 273.1h0.85v0.85h-0.85zM313.1 278.1h0.85v0.85h-0.85zM324.3 273.6h0.85v0.85h-0.85zM324.6 269.3h0.85v0.85h-0.85zM312.6 280.8h0.85v0.85h-0.85zM314.7 276.1h0.85v0.85h-0.85zM316.8 274.4h0.85v0.85h-0.85zM316.4 272.4h0.85v0.85h-0.85zM308.2 285.1h0.85v0.85h-0.85zM318.9 266.0h0.85v0.85h-0.85zM313.0 271.5h0.85v0.85h-0.85zM313.8 265.7h0.85v0.85h-0.85zM321.0 278.8h0.85v0.85h-0.85zM316.5 277.2h0.85v0.85h-0.85zM321.1 267.8h0.85v0.85h-0.85zM324.4 264.7h0.85v0.85h-0.85zM314.7 273.7h0.85v0.85h-0.85zM324.6 271.5h0.85v0.85h-0.85zM317.2 271.1h0.85v0.85h-0.85zM318.3 273.8h0.85v0.85h-0.85zM321.8 277.6h0.85v0.85h-0.85zM321.8 272.3h0.85v0.85h-0.85zM317.0 280.3h0.85v0.85h-0.85zM318.9 273.3h0.85v0.85h-0.85zM327.5 275.9h0.85v0.85h-0.85zM320.9 272.2h0.85v0.85h-0.85zM314.4 279.3h0.85v0.85h-0.85zM315.4 278.5h0.85v0.85h-0.85zM313.6 276.0h0.85v0.85h-0.85zM320.0 273.5h0.85v0.85h-0.85zM319.1 274.8h0.85v0.85h-0.85zM311.8 272.1h0.85v0.85h-0.85zM317.1 281.1h0.85v0.85h-0.85zM317.2 270.6h0.85v0.85h-0.85zM314.3 275.4h0.85v0.85h-0.85zM324.2 269.1h0.85v0.85h-0.85zM320.9 273.3h0.85v0.85h-0.85zM315.9 271.0h0.85v0.85h-0.85zM317.0 271.4h0.85v0.85h-0.85zM320.7 266.0h0.85v0.85h-0.85zM323.9 274.3h0.85v0.85h-0.85zM321.0 278.3h0.85v0.85h-0.85zM321.1 266.0h0.85v0.85h-0.85zM318.1 275.4h0.85v0.85h-0.85zM314.2 271.0h0.85v0.85h-0.85zM320.2 274.8h0.85v0.85h-0.85zM315.6 273.9h0.85v0.85h-0.85zM315.1 272.8h0.85v0.85h-0.85zM317.5 278.1h0.85v0.85h-0.85zM309.2 276.1h0.85v0.85h-0.85zM326.5 271.5h0.85v0.85h-0.85zM318.7 276.7h0.85v0.85h-0.85zM312.5 271.5h0.85v0.85h-0.85zM308.9 272.0h0.85v0.85h-0.85zM319.2 276.5h0.85v0.85h-0.85zM315.6 272.2h0.85v0.85h-0.85zM320.0 275.3h0.85v0.85h-0.85zM319.2 266.1h0.85v0.85h-0.85zM314.9 265.4h0.85v0.85h-0.85zM319.2 270.1h0.85v0.85h-0.85zM314.3 281.0h0.85v0.85h-0.85zM324.9 272.8h0.85v0.85h-0.85zM319.3 273.9h0.85v0.85h-0.85zM314.7 274.9h0.85v0.85h-0.85zM328.1 266.3h0.85v0.85h-0.85zM314.3 275.9h0.85v0.85h-0.85zM322.6 275.1h0.85v0.85h-0.85zM312.7 275.5h0.85v0.85h-0.85zM316.4 269.8h0.85v0.85h-0.85zM318.3 271.9h0.85v0.85h-0.85zM322.8 273.5h0.85v0.85h-0.85zM313.7 275.9h0.85v0.85h-0.85zM315.9 272.2h0.85v0.85h-0.85zM315.2 278.9h0.85v0.85h-0.85zM315.6 268.3h0.85v0.85h-0.85zM313.7 278.6h0.85v0.85h-0.85zM329.4 265.1h0.85v0.85h-0.85zM339.0 250.4h0.85v0.85h-0.85zM336.4 251.4h0.85v0.85h-0.85zM339.7 251.3h0.85v0.85h-0.85zM345.3 250.5h0.85v0.85h-0.85zM341.8 252.1h0.85v0.85h-0.85zM338.3 250.0h0.85v0.85h-0.85zM343.6 251.9h0.85v0.85h-0.85zM340.2 249.3h0.85v0.85h-0.85zM342.0 251.6h0.85v0.85h-0.85zM345.2 253.0h0.85v0.85h-0.85zM341.8 251.2h0.85v0.85h-0.85zM340.0 250.0h0.85v0.85h-0.85zM340.6 251.2h0.85v0.85h-0.85zM341.4 252.4h0.85v0.85h-0.85zM340.6 250.1h0.85v0.85h-0.85zM341.8 253.1h0.85v0.85h-0.85zM337.8 251.5h0.85v0.85h-0.85zM341.2 251.6h0.85v0.85h-0.85zM341.1 250.7h0.85v0.85h-0.85zM339.6 253.3h0.85v0.85h-0.85zM344.1 248.8h0.85v0.85h-0.85zM333.7 251.5h0.85v0.85h-0.85zM338.2 250.1h0.85v0.85h-0.85zM336.0 251.4h0.85v0.85h-0.85zM339.7 250.1h0.85v0.85h-0.85zM342.0 254.4h0.85v0.85h-0.85zM343.4 252.6h0.85v0.85h-0.85zM338.9 251.8h0.85v0.85h-0.85zM339.8 252.5h0.85v0.85h-0.85zM341.3 250.8h0.85v0.85h-0.85zM341.2 249.8h0.85v0.85h-0.85zM341.8 253.0h0.85v0.85h-0.85zM339.0 251.7h0.85v0.85h-0.85zM335.8 252.2h0.85v0.85h-0.85zM342.0 249.4h0.85v0.85h-0.85zM344.1 251.0h0.85v0.85h-0.85zM335.6 248.9h0.85v0.85h-0.85zM342.0 250.5h0.85v0.85h-0.85zM342.5 248.6h0.85v0.85h-0.85zM339.6 252.3h0.85v0.85h-0.85zM338.2 251.8h0.85v0.85h-0.85zM339.0 251.4h0.85v0.85h-0.85zM340.6 254.1h0.85v0.85h-0.85zM336.8 252.0h0.85v0.85h-0.85zM343.0 249.2h0.85v0.85h-0.85zM340.0 254.2h0.85v0.85h-0.85zM342.4 246.5h0.85v0.85h-0.85zM339.3 248.4h0.85v0.85h-0.85zM340.6 249.8h0.85v0.85h-0.85zM338.5 249.6h0.85v0.85h-0.85zM340.6 250.2h0.85v0.85h-0.85zM337.7 250.5h0.85v0.85h-0.85zM340.8 249.6h0.85v0.85h-0.85zM342.5 248.4h0.85v0.85h-0.85zM340.8 250.3h0.85v0.85h-0.85zM343.7 249.9h0.85v0.85h-0.85zM338.2 248.9h0.85v0.85h-0.85zM344.7 251.8h0.85v0.85h-0.85zM337.2 250.4h0.85v0.85h-0.85zM337.5 253.1h0.85v0.85h-0.85zM340.9 247.9h0.85v0.85h-0.85zM340.4 252.2h0.85v0.85h-0.85zM339.9 251.5h0.85v0.85h-0.85zM339.6 251.2h0.85v0.85h-0.85zM340.4 249.8h0.85v0.85h-0.85zM340.7 251.1h0.85v0.85h-0.85zM339.8 249.9h0.85v0.85h-0.85zM337.4 251.2h0.85v0.85h-0.85zM341.9 247.3h0.85v0.85h-0.85zM338.6 252.8h0.85v0.85h-0.85zM342.1 249.8h0.85v0.85h-0.85zM343.1 249.4h0.85v0.85h-0.85zM337.9 253.7h0.85v0.85h-0.85zM338.8 250.5h0.85v0.85h-0.85zM335.8 249.4h0.85v0.85h-0.85zM337.0 250.6h0.85v0.85h-0.85zM335.4 252.4h0.85v0.85h-0.85zM339.0 250.0h0.85v0.85h-0.85zM338.3 251.9h0.85v0.85h-0.85zM343.6 250.3h0.85v0.85h-0.85zM343.8 253.2h0.85v0.85h-0.85zM343.1 251.3h0.85v0.85h-0.85zM336.2 251.8h0.85v0.85h-0.85zM338.9 251.1h0.85v0.85h-0.85zM335.3 250.4h0.85v0.85h-0.85zM340.4 249.5h0.85v0.85h-0.85zM340.6 253.3h0.85v0.85h-0.85zM340.4 249.9h0.85v0.85h-0.85zM345.6 247.7h0.85v0.85h-0.85zM337.6 251.4h0.85v0.85h-0.85zM338.4 247.5h0.85v0.85h-0.85zM340.5 252.1h0.85v0.85h-0.85zM337.9 253.0h0.85v0.85h-0.85zM341.1 252.6h0.85v0.85h-0.85zM336.1 250.8h0.85v0.85h-0.85zM343.7 253.8h0.85v0.85h-0.85zM343.1 250.8h0.85v0.85h-0.85zM340.3 249.9h0.85v0.85h-0.85zM342.5 249.8h0.85v0.85h-0.85zM340.2 247.8h0.85v0.85h-0.85z"/><ellipse cx="312.4" cy="277.1" rx="8" ry="4.3" transform="rotate(-36 312.4 277.1)" fill="#000" fill-opacity="1.0" filter="url(#bl)"/><ellipse cx="304.9" cy="283.4" rx="2.3" ry="1.9" transform="rotate(0 304.9 283.4)" fill="#000" fill-opacity="1.0" filter="url(#bl)"/><line x1="289.85" y1="300.5" x2="289.85" y2="303.1" stroke="#111" stroke-width="0.9"/><line x1="292.85" y1="300.5" x2="292.85" y2="303.1" stroke="#111" stroke-width="0.9"/><line x1="295.65000000000003" y1="300.5" x2="295.65000000000003" y2="303.1" stroke="#111" stroke-width="0.9"/><line x1="298.65000000000003" y1="300.5" x2="298.65000000000003" y2="303.1" stroke="#111" stroke-width="0.9"/><line x1="301.05" y1="300.5" x2="301.05" y2="303.1" stroke="#111" stroke-width="0.9"/><line x1="303.15000000000003" y1="300.5" x2="303.15000000000003" y2="303.1" stroke="#111" stroke-width="0.9"/><line x1="307.85" y1="300.5" x2="307.85" y2="303.1" stroke="#111" stroke-width="0.9"/><line x1="310.25" y1="300.5" x2="310.25" y2="303.1" stroke="#111" stroke-width="0.9"/><line x1="312.15000000000003" y1="300.5" x2="312.15000000000003" y2="303.1" stroke="#111" stroke-width="0.9"/><line x1="314.45000000000005" y1="300.5" x2="314.45000000000005" y2="303.1" stroke="#111" stroke-width="0.9"/><line x1="316.45000000000005" y1="300.5" x2="316.45000000000005" y2="303.1" stroke="#111" stroke-width="0.9"/><line x1="318.45000000000005" y1="300.5" x2="318.45000000000005" y2="303.1" stroke="#111" stroke-width="0.9"/><line x1="321.55" y1="300.5" x2="321.55" y2="303.1" stroke="#111" stroke-width="0.9"/><line x1="323.65000000000003" y1="300.5" x2="323.65000000000003" y2="303.1" stroke="#111" stroke-width="0.9"/><line x1="325.45000000000005" y1="300.5" x2="325.45000000000005" y2="303.1" stroke="#111" stroke-width="0.9"/><line x1="327.15000000000003" y1="300.5" x2="327.15000000000003" y2="303.1" stroke="#111" stroke-width="0.9"/><line x1="328.85" y1="300.5" x2="328.85" y2="303.1" stroke="#111" stroke-width="0.9"/><line x1="330.45000000000005" y1="300.5" x2="330.45000000000005" y2="303.1" stroke="#111" stroke-width="0.9"/><line x1="332.05" y1="300.5" x2="332.05" y2="303.1" stroke="#111" stroke-width="0.9"/><line x1="336.85" y1="300.5" x2="336.85" y2="303.1" stroke="#111" stroke-width="0.9"/><line x1="339.25" y1="300.5" x2="339.25" y2="303.1" stroke="#111" stroke-width="0.9"/><line x1="342.25" y1="300.5" x2="342.25" y2="303.1" stroke="#111" stroke-width="0.9"/><line x1="344.85" y1="300.5" x2="344.85" y2="303.1" stroke="#111" stroke-width="0.9"/><line x1="346.65000000000003" y1="300.5" x2="346.65000000000003" y2="303.1" stroke="#111" stroke-width="0.9"/><line x1="348.35" y1="300.5" x2="348.35" y2="303.1" stroke="#111" stroke-width="0.9"/><line x1="349.85" y1="300.5" x2="349.85" y2="303.1" stroke="#111" stroke-width="0.9"/><line x1="354.35" y1="300.5" x2="354.35" y2="303.1" stroke="#111" stroke-width="0.9"/><line x1="356.95000000000005" y1="300.5" x2="356.95000000000005" y2="303.1" stroke="#111" stroke-width="0.9"/><line x1="305.25" y1="300.5" x2="305.25" y2="303.5" stroke="#111" stroke-width="1.1"/><line x1="333.65000000000003" y1="300.5" x2="333.65000000000003" y2="303.5" stroke="#111" stroke-width="1.1"/><line x1="351.35" y1="300.5" x2="351.35" y2="303.5" stroke="#111" stroke-width="1.1"/><path fill="#000" fill-opacity="0.6" d="M394.8 286.3h0.8v0.8h-0.8zM401.8 270.8h0.8v0.8h-0.8zM410.6 275.4h0.8v0.8h-0.8zM420.0 275.9h0.8v0.8h-0.8zM424.6 282.2h0.8v0.8h-0.8zM426.4 281.8h0.8v0.8h-0.8zM409.7 280.4h0.8v0.8h-0.8zM409.2 266.5h0.8v0.8h-0.8zM397.5 283.4h0.8v0.8h-0.8zM385.8 274.6h0.8v0.8h-0.8zM396.4 278.2h0.8v0.8h-0.8zM398.8 279.9h0.8v0.8h-0.8zM407.1 274.0h0.8v0.8h-0.8zM400.7 263.3h0.8v0.8h-0.8zM409.7 268.2h0.8v0.8h-0.8zM406.1 279.7h0.8v0.8h-0.8zM419.3 280.1h0.8v0.8h-0.8zM423.5 265.4h0.8v0.8h-0.8zM415.6 286.3h0.8v0.8h-0.8zM412.9 268.9h0.8v0.8h-0.8zM412.9 272.9h0.8v0.8h-0.8zM402.7 284.8h0.8v0.8h-0.8zM407.3 269.7h0.8v0.8h-0.8zM402.4 290.8h0.8v0.8h-0.8zM400.7 282.5h0.8v0.8h-0.8zM410.7 284.4h0.8v0.8h-0.8zM406.3 271.0h0.8v0.8h-0.8zM402.7 270.9h0.8v0.8h-0.8zM434.4 274.6h0.8v0.8h-0.8zM405.9 285.6h0.8v0.8h-0.8zM415.4 274.7h0.8v0.8h-0.8zM415.1 277.8h0.8v0.8h-0.8zM420.0 286.3h0.8v0.8h-0.8zM405.9 277.0h0.8v0.8h-0.8zM407.2 285.2h0.8v0.8h-0.8zM412.8 281.5h0.8v0.8h-0.8zM417.8 271.4h0.8v0.8h-0.8zM410.3 285.9h0.8v0.8h-0.8zM418.0 281.0h0.8v0.8h-0.8zM406.3 274.8h0.8v0.8h-0.8zM400.6 276.2h0.8v0.8h-0.8zM408.4 267.4h0.8v0.8h-0.8zM420.4 270.2h0.8v0.8h-0.8zM411.5 280.5h0.8v0.8h-0.8zM403.6 265.6h0.8v0.8h-0.8zM418.4 278.2h0.8v0.8h-0.8zM406.5 284.7h0.8v0.8h-0.8zM417.8 269.3h0.8v0.8h-0.8zM408.2 265.3h0.8v0.8h-0.8zM406.4 286.6h0.8v0.8h-0.8zM400.8 283.5h0.8v0.8h-0.8zM394.3 277.0h0.8v0.8h-0.8zM418.2 286.9h0.8v0.8h-0.8zM413.4 281.2h0.8v0.8h-0.8zM425.8 258.3h0.8v0.8h-0.8zM392.3 291.7h0.8v0.8h-0.8zM433.1 277.4h0.8v0.8h-0.8zM409.7 278.5h0.8v0.8h-0.8zM409.3 272.7h0.8v0.8h-0.8zM408.9 276.0h0.8v0.8h-0.8zM415.5 280.4h0.8v0.8h-0.8zM418.6 279.4h0.8v0.8h-0.8zM399.6 287.4h0.8v0.8h-0.8zM383.0 281.3h0.8v0.8h-0.8zM412.2 272.9h0.8v0.8h-0.8zM427.3 267.0h0.8v0.8h-0.8zM397.6 275.1h0.8v0.8h-0.8zM413.1 281.5h0.8v0.8h-0.8zM410.1 281.1h0.8v0.8h-0.8zM402.2 273.8h0.8v0.8h-0.8zM410.3 267.8h0.8v0.8h-0.8zM410.8 274.0h0.8v0.8h-0.8zM415.7 269.2h0.8v0.8h-0.8zM403.9 273.8h0.8v0.8h-0.8zM405.5 270.7h0.8v0.8h-0.8zM406.5 268.2h0.8v0.8h-0.8zM414.2 280.6h0.8v0.8h-0.8zM408.9 275.6h0.8v0.8h-0.8zM400.4 271.7h0.8v0.8h-0.8zM406.9 271.1h0.8v0.8h-0.8zM397.6 279.6h0.8v0.8h-0.8zM408.8 274.2h0.8v0.8h-0.8zM401.1 277.6h0.8v0.8h-0.8zM402.3 274.9h0.8v0.8h-0.8zM410.8 281.4h0.8v0.8h-0.8zM416.4 271.8h0.8v0.8h-0.8zM420.7 267.5h0.8v0.8h-0.8zM407.3 285.7h0.8v0.8h-0.8zM432.1 274.5h0.8v0.8h-0.8zM405.5 274.9h0.8v0.8h-0.8zM397.2 277.5h0.8v0.8h-0.8zM404.9 272.4h0.8v0.8h-0.8zM420.6 270.1h0.8v0.8h-0.8zM425.4 280.1h0.8v0.8h-0.8zM415.2 272.1h0.8v0.8h-0.8zM404.1 264.3h0.8v0.8h-0.8zM411.7 274.7h0.8v0.8h-0.8zM412.8 271.9h0.8v0.8h-0.8zM413.7 266.3h0.8v0.8h-0.8zM387.8 283.0h0.8v0.8h-0.8zM419.4 254.5h0.8v0.8h-0.8zM421.5 272.8h0.8v0.8h-0.8zM407.4 266.9h0.8v0.8h-0.8zM399.3 282.9h0.8v0.8h-0.8zM401.9 277.6h0.8v0.8h-0.8zM407.5 290.2h0.8v0.8h-0.8zM417.6 266.9h0.8v0.8h-0.8zM404.4 269.9h0.8v0.8h-0.8zM395.6 274.2h0.8v0.8h-0.8zM419.7 275.7h0.8v0.8h-0.8zM415.5 275.0h0.8v0.8h-0.8zM404.9 278.0h0.8v0.8h-0.8zM408.3 289.7h0.8v0.8h-0.8zM426.4 276.9h0.8v0.8h-0.8zM414.8 262.8h0.8v0.8h-0.8zM407.8 292.9h0.8v0.8h-0.8zM401.3 283.3h0.8v0.8h-0.8zM420.8 272.6h0.8v0.8h-0.8zM406.8 274.1h0.8v0.8h-0.8zM416.7 275.9h0.8v0.8h-0.8zM423.5 282.7h0.8v0.8h-0.8zM408.9 294.1h0.8v0.8h-0.8zM406.0 273.2h0.8v0.8h-0.8zM406.7 271.3h0.8v0.8h-0.8zM404.9 276.9h0.8v0.8h-0.8zM417.6 265.2h0.8v0.8h-0.8zM395.5 273.6h0.8v0.8h-0.8zM406.1 280.3h0.8v0.8h-0.8zM401.4 287.9h0.8v0.8h-0.8zM403.9 276.1h0.8v0.8h-0.8zM409.5 284.5h0.8v0.8h-0.8zM411.9 276.6h0.8v0.8h-0.8zM403.8 278.7h0.8v0.8h-0.8zM412.9 274.0h0.8v0.8h-0.8zM408.8 264.7h0.8v0.8h-0.8zM403.9 285.4h0.8v0.8h-0.8zM422.7 274.4h0.8v0.8h-0.8zM388.1 291.9h0.8v0.8h-0.8zM407.3 294.1h0.8v0.8h-0.8zM405.0 284.1h0.8v0.8h-0.8zM403.0 286.8h0.8v0.8h-0.8zM420.1 268.2h0.8v0.8h-0.8zM421.5 294.1h0.8v0.8h-0.8zM406.8 269.1h0.8v0.8h-0.8zM411.6 273.8h0.8v0.8h-0.8zM394.5 271.9h0.8v0.8h-0.8zM411.3 266.4h0.8v0.8h-0.8zM419.4 278.4h0.8v0.8h-0.8zM407.2 286.4h0.8v0.8h-0.8zM400.1 282.6h0.8v0.8h-0.8zM395.9 276.5h0.8v0.8h-0.8zM415.1 272.4h0.8v0.8h-0.8zM407.9 281.3h0.8v0.8h-0.8zM423.6 283.4h0.8v0.8h-0.8zM413.4 274.5h0.8v0.8h-0.8zM395.0 290.2h0.8v0.8h-0.8zM427.0 260.0h0.8v0.8h-0.8zM417.3 275.4h0.8v0.8h-0.8zM415.8 278.0h0.8v0.8h-0.8zM407.1 277.1h0.8v0.8h-0.8zM408.6 284.6h0.8v0.8h-0.8zM406.4 273.6h0.8v0.8h-0.8zM415.3 280.2h0.8v0.8h-0.8zM413.1 278.1h0.8v0.8h-0.8zM423.1 282.3h0.8v0.8h-0.8zM411.0 275.2h0.8v0.8h-0.8zM415.3 263.5h0.8v0.8h-0.8zM403.9 272.8h0.8v0.8h-0.8zM410.6 274.0h0.8v0.8h-0.8zM432.7 278.4h0.8v0.8h-0.8zM412.8 291.3h0.8v0.8h-0.8zM408.9 274.7h0.8v0.8h-0.8zM420.8 280.7h0.8v0.8h-0.8zM417.9 283.7h0.8v0.8h-0.8zM405.5 272.9h0.8v0.8h-0.8zM402.0 278.5h0.8v0.8h-0.8zM418.6 268.5h0.8v0.8h-0.8zM403.8 268.6h0.8v0.8h-0.8zM428.2 279.5h0.8v0.8h-0.8zM411.1 268.4h0.8v0.8h-0.8zM399.0 273.9h0.8v0.8h-0.8zM409.3 268.3h0.8v0.8h-0.8zM406.8 285.3h0.8v0.8h-0.8zM409.1 277.5h0.8v0.8h-0.8zM388.8 277.8h0.8v0.8h-0.8zM407.5 272.4h0.8v0.8h-0.8zM395.6 278.2h0.8v0.8h-0.8zM399.1 274.6h0.8v0.8h-0.8zM393.6 278.4h0.8v0.8h-0.8zM417.7 270.0h0.8v0.8h-0.8zM412.1 266.3h0.8v0.8h-0.8zM414.5 279.7h0.8v0.8h-0.8zM405.2 283.3h0.8v0.8h-0.8zM400.5 278.3h0.8v0.8h-0.8zM425.1 274.4h0.8v0.8h-0.8zM398.1 286.1h0.8v0.8h-0.8zM414.1 274.3h0.8v0.8h-0.8zM391.5 266.7h0.8v0.8h-0.8zM394.3 288.8h0.8v0.8h-0.8zM411.8 270.8h0.8v0.8h-0.8zM420.0 285.1h0.8v0.8h-0.8zM400.8 281.2h0.8v0.8h-0.8zM393.1 281.5h0.8v0.8h-0.8zM426.4 265.0h0.8v0.8h-0.8zM409.5 272.5h0.8v0.8h-0.8zM408.0 277.6h0.8v0.8h-0.8zM411.6 282.4h0.8v0.8h-0.8zM413.9 283.1h0.8v0.8h-0.8zM418.7 282.8h0.8v0.8h-0.8zM402.5 280.5h0.8v0.8h-0.8zM405.4 271.7h0.8v0.8h-0.8zM427.7 276.2h0.8v0.8h-0.8zM409.4 262.7h0.8v0.8h-0.8zM406.7 282.3h0.8v0.8h-0.8zM407.0 273.5h0.8v0.8h-0.8zM423.1 272.8h0.8v0.8h-0.8zM405.7 276.6h0.8v0.8h-0.8zM406.7 284.2h0.8v0.8h-0.8zM414.4 275.6h0.8v0.8h-0.8zM405.5 275.8h0.8v0.8h-0.8zM425.2 272.5h0.8v0.8h-0.8zM415.2 265.4h0.8v0.8h-0.8zM412.0 281.0h0.8v0.8h-0.8zM421.1 277.3h0.8v0.8h-0.8zM414.5 278.2h0.8v0.8h-0.8zM419.2 289.1h0.8v0.8h-0.8zM410.9 271.1h0.8v0.8h-0.8zM414.6 275.3h0.8v0.8h-0.8zM415.1 281.2h0.8v0.8h-0.8zM410.4 273.7h0.8v0.8h-0.8zM411.9 268.1h0.8v0.8h-0.8zM411.6 270.5h0.8v0.8h-0.8zM413.3 277.1h0.8v0.8h-0.8zM406.9 269.1h0.8v0.8h-0.8zM409.4 272.2h0.8v0.8h-0.8zM407.6 281.7h0.8v0.8h-0.8zM418.1 266.9h0.8v0.8h-0.8zM417.9 284.7h0.8v0.8h-0.8zM419.7 277.2h0.8v0.8h-0.8zM408.1 288.6h0.8v0.8h-0.8zM405.9 267.1h0.8v0.8h-0.8zM409.8 278.6h0.8v0.8h-0.8zM399.0 270.1h0.8v0.8h-0.8zM427.9 274.9h0.8v0.8h-0.8zM416.4 271.9h0.8v0.8h-0.8zM394.4 277.7h0.8v0.8h-0.8zM421.8 270.6h0.8v0.8h-0.8zM391.8 278.1h0.8v0.8h-0.8zM406.3 277.3h0.8v0.8h-0.8zM399.0 276.2h0.8v0.8h-0.8zM403.7 283.5h0.8v0.8h-0.8zM410.4 282.5h0.8v0.8h-0.8zM408.5 262.6h0.8v0.8h-0.8zM390.2 283.0h0.8v0.8h-0.8zM417.3 281.5h0.8v0.8h-0.8zM408.2 265.0h0.8v0.8h-0.8zM404.2 280.2h0.8v0.8h-0.8zM422.1 272.7h0.8v0.8h-0.8zM403.6 272.4h0.8v0.8h-0.8zM418.7 281.3h0.8v0.8h-0.8zM391.5 287.4h0.8v0.8h-0.8zM400.1 268.2h0.8v0.8h-0.8zM393.7 274.1h0.8v0.8h-0.8zM431.1 290.8h0.8v0.8h-0.8zM397.1 274.0h0.8v0.8h-0.8zM410.5 279.4h0.8v0.8h-0.8zM404.4 266.9h0.8v0.8h-0.8zM405.0 272.8h0.8v0.8h-0.8zM391.8 280.2h0.8v0.8h-0.8zM394.9 267.2h0.8v0.8h-0.8zM423.5 281.1h0.8v0.8h-0.8zM422.8 275.7h0.8v0.8h-0.8zM405.0 276.8h0.8v0.8h-0.8zM395.9 283.6h0.8v0.8h-0.8zM411.5 274.4h0.8v0.8h-0.8zM391.1 278.6h0.8v0.8h-0.8zM424.5 284.4h0.8v0.8h-0.8zM417.3 273.3h0.8v0.8h-0.8zM410.3 280.4h0.8v0.8h-0.8zM410.8 283.6h0.8v0.8h-0.8zM402.6 262.2h0.8v0.8h-0.8zM385.8 274.0h0.8v0.8h-0.8zM395.7 283.1h0.8v0.8h-0.8zM419.3 275.4h0.8v0.8h-0.8zM414.1 276.6h0.8v0.8h-0.8zM410.6 273.4h0.8v0.8h-0.8zM405.1 285.4h0.8v0.8h-0.8zM406.4 276.9h0.8v0.8h-0.8zM420.4 281.8h0.8v0.8h-0.8zM405.2 279.1h0.8v0.8h-0.8zM399.3 279.1h0.8v0.8h-0.8zM412.0 276.4h0.8v0.8h-0.8zM410.5 279.1h0.8v0.8h-0.8zM384.7 274.7h0.8v0.8h-0.8zM409.7 273.4h0.8v0.8h-0.8zM399.7 276.5h0.8v0.8h-0.8zM424.4 273.2h0.8v0.8h-0.8zM402.7 274.5h0.8v0.8h-0.8zM397.6 281.7h0.8v0.8h-0.8zM399.5 284.3h0.8v0.8h-0.8zM417.7 279.5h0.8v0.8h-0.8zM418.9 274.9h0.8v0.8h-0.8zM392.1 278.8h0.8v0.8h-0.8zM415.1 265.6h0.8v0.8h-0.8zM397.3 285.8h0.8v0.8h-0.8zM413.2 285.3h0.8v0.8h-0.8zM415.4 276.4h0.8v0.8h-0.8zM413.1 282.0h0.8v0.8h-0.8zM408.7 275.5h0.8v0.8h-0.8zM412.0 274.3h0.8v0.8h-0.8zM432.1 268.5h0.8v0.8h-0.8zM394.4 270.2h0.8v0.8h-0.8zM419.0 272.7h0.8v0.8h-0.8zM410.5 275.2h0.8v0.8h-0.8zM411.6 266.7h0.8v0.8h-0.8zM409.8 272.9h0.8v0.8h-0.8zM419.4 279.5h0.8v0.8h-0.8zM396.9 272.0h0.8v0.8h-0.8zM414.4 284.1h0.8v0.8h-0.8zM416.3 274.8h0.8v0.8h-0.8zM419.6 259.5h0.8v0.8h-0.8zM403.8 271.0h0.8v0.8h-0.8zM399.1 282.0h0.8v0.8h-0.8zM411.6 278.4h0.8v0.8h-0.8zM407.7 281.2h0.8v0.8h-0.8zM416.5 271.9h0.8v0.8h-0.8zM418.0 269.3h0.8v0.8h-0.8zM425.9 265.7h0.8v0.8h-0.8zM406.2 270.0h0.8v0.8h-0.8zM409.4 285.6h0.8v0.8h-0.8zM401.8 289.8h0.8v0.8h-0.8zM422.6 277.5h0.8v0.8h-0.8zM403.3 283.7h0.8v0.8h-0.8zM381.4 275.6h0.8v0.8h-0.8zM418.2 275.3h0.8v0.8h-0.8zM432.9 268.9h0.8v0.8h-0.8zM396.1 277.2h0.8v0.8h-0.8zM414.6 287.5h0.8v0.8h-0.8zM392.0 280.3h0.8v0.8h-0.8zM421.2 270.6h0.8v0.8h-0.8zM404.6 269.3h0.8v0.8h-0.8zM416.4 281.4h0.8v0.8h-0.8zM414.7 277.7h0.8v0.8h-0.8zM418.6 274.7h0.8v0.8h-0.8zM415.9 281.4h0.8v0.8h-0.8zM421.6 278.5h0.8v0.8h-0.8zM409.8 281.5h0.8v0.8h-0.8zM394.0 267.1h0.8v0.8h-0.8zM424.6 275.6h0.8v0.8h-0.8zM398.8 274.4h0.8v0.8h-0.8zM407.5 277.5h0.8v0.8h-0.8zM401.6 284.6h0.8v0.8h-0.8zM392.5 298.0h0.8v0.8h-0.8zM398.5 289.5h0.8v0.8h-0.8zM415.5 264.6h0.8v0.8h-0.8zM397.1 278.9h0.8v0.8h-0.8zM411.6 273.6h0.8v0.8h-0.8zM409.1 277.9h0.8v0.8h-0.8zM397.9 278.8h0.8v0.8h-0.8zM431.1 269.4h0.8v0.8h-0.8zM399.1 282.7h0.8v0.8h-0.8zM422.1 282.0h0.8v0.8h-0.8zM402.8 277.2h0.8v0.8h-0.8zM411.0 275.1h0.8v0.8h-0.8zM412.9 283.6h0.8v0.8h-0.8zM414.3 276.0h0.8v0.8h-0.8zM407.0 289.2h0.8v0.8h-0.8zM397.0 292.0h0.8v0.8h-0.8zM416.2 276.4h0.8v0.8h-0.8zM401.7 290.2h0.8v0.8h-0.8zM420.8 281.3h0.8v0.8h-0.8zM429.3 261.9h0.8v0.8h-0.8zM410.0 274.6h0.8v0.8h-0.8zM401.9 278.3h0.8v0.8h-0.8zM414.2 279.6h0.8v0.8h-0.8zM407.6 268.1h0.8v0.8h-0.8zM414.4 280.2h0.8v0.8h-0.8zM429.7 280.2h0.8v0.8h-0.8zM409.1 269.1h0.8v0.8h-0.8zM410.9 281.6h0.8v0.8h-0.8zM413.9 285.1h0.8v0.8h-0.8zM398.9 273.6h0.8v0.8h-0.8zM410.7 268.3h0.8v0.8h-0.8zM403.0 287.0h0.8v0.8h-0.8zM411.9 275.7h0.8v0.8h-0.8zM403.4 277.9h0.8v0.8h-0.8zM408.7 269.6h0.8v0.8h-0.8zM416.7 267.1h0.8v0.8h-0.8zM421.6 272.8h0.8v0.8h-0.8zM386.5 269.5h0.8v0.8h-0.8zM411.8 270.5h0.8v0.8h-0.8zM426.8 283.7h0.8v0.8h-0.8zM429.7 280.0h0.8v0.8h-0.8zM422.3 270.9h0.8v0.8h-0.8zM421.8 272.1h0.8v0.8h-0.8zM408.5 267.7h0.8v0.8h-0.8zM409.5 279.5h0.8v0.8h-0.8zM408.4 269.4h0.8v0.8h-0.8zM417.9 281.8h0.8v0.8h-0.8zM415.4 256.8h0.8v0.8h-0.8zM423.9 244.5h0.8v0.8h-0.8zM415.8 238.5h0.8v0.8h-0.8zM407.9 254.3h0.8v0.8h-0.8zM409.1 254.1h0.8v0.8h-0.8zM418.9 237.0h0.8v0.8h-0.8zM412.2 261.9h0.8v0.8h-0.8zM416.2 252.2h0.8v0.8h-0.8zM410.5 240.2h0.8v0.8h-0.8zM403.4 271.3h0.8v0.8h-0.8zM414.6 245.3h0.8v0.8h-0.8zM416.9 237.9h0.8v0.8h-0.8zM427.2 263.3h0.8v0.8h-0.8zM410.1 253.6h0.8v0.8h-0.8zM408.9 257.3h0.8v0.8h-0.8zM409.4 250.4h0.8v0.8h-0.8zM426.4 255.0h0.8v0.8h-0.8zM413.5 240.8h0.8v0.8h-0.8zM403.4 259.7h0.8v0.8h-0.8zM420.1 251.7h0.8v0.8h-0.8zM426.1 252.4h0.8v0.8h-0.8zM410.3 250.6h0.8v0.8h-0.8zM415.3 251.3h0.8v0.8h-0.8zM418.2 249.6h0.8v0.8h-0.8zM410.6 244.4h0.8v0.8h-0.8zM401.1 248.1h0.8v0.8h-0.8zM403.9 238.4h0.8v0.8h-0.8zM408.6 237.2h0.8v0.8h-0.8zM427.0 260.0h0.8v0.8h-0.8zM408.3 265.6h0.8v0.8h-0.8zM421.3 233.7h0.8v0.8h-0.8zM416.2 244.4h0.8v0.8h-0.8zM402.1 249.5h0.8v0.8h-0.8zM425.3 254.5h0.8v0.8h-0.8zM404.4 246.7h0.8v0.8h-0.8zM410.0 259.4h0.8v0.8h-0.8zM415.3 244.5h0.8v0.8h-0.8zM408.7 237.6h0.8v0.8h-0.8zM409.3 257.6h0.8v0.8h-0.8zM400.7 252.7h0.8v0.8h-0.8zM415.1 257.1h0.8v0.8h-0.8zM406.9 257.7h0.8v0.8h-0.8zM428.5 267.4h0.8v0.8h-0.8zM403.0 251.1h0.8v0.8h-0.8zM414.3 252.2h0.8v0.8h-0.8zM408.1 257.4h0.8v0.8h-0.8zM408.4 247.3h0.8v0.8h-0.8zM421.9 252.3h0.8v0.8h-0.8zM409.9 260.0h0.8v0.8h-0.8zM420.2 258.5h0.8v0.8h-0.8zM414.6 260.3h0.8v0.8h-0.8zM412.3 243.5h0.8v0.8h-0.8zM416.0 241.6h0.8v0.8h-0.8zM426.1 256.5h0.8v0.8h-0.8zM402.5 252.5h0.8v0.8h-0.8zM422.8 248.8h0.8v0.8h-0.8zM419.4 247.3h0.8v0.8h-0.8zM415.5 250.8h0.8v0.8h-0.8zM419.9 244.6h0.8v0.8h-0.8zM406.9 253.7h0.8v0.8h-0.8zM411.9 255.0h0.8v0.8h-0.8zM412.0 242.2h0.8v0.8h-0.8zM421.9 253.2h0.8v0.8h-0.8zM421.9 249.0h0.8v0.8h-0.8zM413.1 260.2h0.8v0.8h-0.8zM402.4 263.5h0.8v0.8h-0.8zM420.1 251.0h0.8v0.8h-0.8zM416.7 255.6h0.8v0.8h-0.8zM409.8 253.3h0.8v0.8h-0.8zM408.3 238.4h0.8v0.8h-0.8zM417.6 252.0h0.8v0.8h-0.8zM421.2 255.3h0.8v0.8h-0.8zM421.6 256.9h0.8v0.8h-0.8zM407.5 259.9h0.8v0.8h-0.8zM405.9 256.2h0.8v0.8h-0.8zM423.4 258.4h0.8v0.8h-0.8zM428.3 241.6h0.8v0.8h-0.8zM419.0 254.6h0.8v0.8h-0.8zM426.0 245.1h0.8v0.8h-0.8zM416.2 248.7h0.8v0.8h-0.8zM414.7 250.3h0.8v0.8h-0.8zM414.8 238.9h0.8v0.8h-0.8zM415.7 251.8h0.8v0.8h-0.8zM410.4 246.8h0.8v0.8h-0.8zM409.0 262.6h0.8v0.8h-0.8zM423.4 250.0h0.8v0.8h-0.8zM420.8 274.5h0.8v0.8h-0.8zM408.2 254.7h0.8v0.8h-0.8zM411.2 261.8h0.8v0.8h-0.8zM424.9 250.5h0.8v0.8h-0.8zM420.9 245.8h0.8v0.8h-0.8zM403.2 257.3h0.8v0.8h-0.8zM429.1 249.2h0.8v0.8h-0.8zM411.7 238.8h0.8v0.8h-0.8zM433.3 242.9h0.8v0.8h-0.8zM408.2 250.0h0.8v0.8h-0.8zM425.7 251.7h0.8v0.8h-0.8zM415.8 251.5h0.8v0.8h-0.8zM422.8 251.1h0.8v0.8h-0.8zM417.2 250.8h0.8v0.8h-0.8zM407.0 260.8h0.8v0.8h-0.8zM410.4 242.1h0.8v0.8h-0.8zM412.5 251.6h0.8v0.8h-0.8zM422.6 241.0h0.8v0.8h-0.8zM405.8 252.6h0.8v0.8h-0.8zM419.1 243.6h0.8v0.8h-0.8zM406.8 252.6h0.8v0.8h-0.8zM414.8 240.0h0.8v0.8h-0.8zM408.9 261.8h0.8v0.8h-0.8zM407.5 258.7h0.8v0.8h-0.8zM403.6 261.8h0.8v0.8h-0.8zM428.9 246.9h0.8v0.8h-0.8zM410.5 255.8h0.8v0.8h-0.8zM406.0 255.2h0.8v0.8h-0.8zM425.8 253.2h0.8v0.8h-0.8zM418.6 250.2h0.8v0.8h-0.8zM424.0 245.6h0.8v0.8h-0.8zM428.8 251.2h0.8v0.8h-0.8zM413.3 239.9h0.8v0.8h-0.8zM412.4 253.0h0.8v0.8h-0.8zM426.0 240.0h0.8v0.8h-0.8zM414.9 246.5h0.8v0.8h-0.8zM406.3 251.4h0.8v0.8h-0.8zM409.9 257.5h0.8v0.8h-0.8zM394.3 256.5h0.8v0.8h-0.8zM400.7 237.6h0.8v0.8h-0.8zM420.1 249.0h0.8v0.8h-0.8zM417.0 244.6h0.8v0.8h-0.8zM407.5 246.2h0.8v0.8h-0.8zM415.5 245.4h0.8v0.8h-0.8zM412.6 245.3h0.8v0.8h-0.8zM417.8 243.4h0.8v0.8h-0.8zM399.2 232.9h0.8v0.8h-0.8zM415.8 252.0h0.8v0.8h-0.8zM423.7 246.1h0.8v0.8h-0.8zM406.8 240.9h0.8v0.8h-0.8zM422.1 247.0h0.8v0.8h-0.8zM423.9 250.8h0.8v0.8h-0.8zM413.7 238.3h0.8v0.8h-0.8zM410.5 256.9h0.8v0.8h-0.8zM411.1 256.1h0.8v0.8h-0.8zM402.7 258.5h0.8v0.8h-0.8zM418.5 242.7h0.8v0.8h-0.8zM411.7 246.7h0.8v0.8h-0.8zM417.4 237.2h0.8v0.8h-0.8zM409.0 256.9h0.8v0.8h-0.8zM417.1 256.6h0.8v0.8h-0.8zM422.8 243.3h0.8v0.8h-0.8zM405.1 254.6h0.8v0.8h-0.8zM416.2 251.9h0.8v0.8h-0.8zM409.4 258.5h0.8v0.8h-0.8zM419.9 259.4h0.8v0.8h-0.8zM413.1 256.2h0.8v0.8h-0.8zM415.5 244.7h0.8v0.8h-0.8zM415.3 239.7h0.8v0.8h-0.8zM414.5 252.6h0.8v0.8h-0.8zM421.5 244.0h0.8v0.8h-0.8zM405.3 246.2h0.8v0.8h-0.8zM399.3 246.8h0.8v0.8h-0.8zM409.9 246.6h0.8v0.8h-0.8zM430.1 243.2h0.8v0.8h-0.8zM415.0 250.8h0.8v0.8h-0.8zM410.1 246.3h0.8v0.8h-0.8zM402.5 245.4h0.8v0.8h-0.8zM426.4 261.3h0.8v0.8h-0.8zM413.7 256.3h0.8v0.8h-0.8zM419.6 252.1h0.8v0.8h-0.8zM414.9 259.9h0.8v0.8h-0.8zM420.5 249.8h0.8v0.8h-0.8zM414.1 257.9h0.8v0.8h-0.8zM411.2 246.3h0.8v0.8h-0.8zM413.7 247.9h0.8v0.8h-0.8zM426.1 253.9h0.8v0.8h-0.8zM415.2 247.6h0.8v0.8h-0.8zM427.3 254.4h0.8v0.8h-0.8zM432.7 257.7h0.8v0.8h-0.8zM414.2 247.5h0.8v0.8h-0.8zM413.7 252.6h0.8v0.8h-0.8zM422.3 254.8h0.8v0.8h-0.8zM428.6 240.7h0.8v0.8h-0.8zM416.2 241.4h0.8v0.8h-0.8zM407.7 247.1h0.8v0.8h-0.8zM410.7 244.5h0.8v0.8h-0.8zM403.8 259.3h0.8v0.8h-0.8zM413.4 258.1h0.8v0.8h-0.8zM407.1 235.1h0.8v0.8h-0.8zM411.2 257.5h0.8v0.8h-0.8zM411.5 254.1h0.8v0.8h-0.8zM407.3 261.1h0.8v0.8h-0.8zM419.4 258.7h0.8v0.8h-0.8zM413.7 260.3h0.8v0.8h-0.8zM416.5 247.9h0.8v0.8h-0.8zM410.8 251.7h0.8v0.8h-0.8zM408.7 243.0h0.8v0.8h-0.8zM417.0 256.3h0.8v0.8h-0.8zM413.6 257.3h0.8v0.8h-0.8zM428.7 242.5h0.8v0.8h-0.8zM418.0 244.6h0.8v0.8h-0.8zM410.8 252.6h0.8v0.8h-0.8zM396.9 255.6h0.8v0.8h-0.8zM422.7 255.2h0.8v0.8h-0.8zM421.1 264.1h0.8v0.8h-0.8zM413.0 259.0h0.8v0.8h-0.8zM427.6 254.8h0.8v0.8h-0.8zM401.6 250.2h0.8v0.8h-0.8zM413.6 240.0h0.8v0.8h-0.8zM415.5 256.7h0.8v0.8h-0.8zM413.9 250.1h0.8v0.8h-0.8zM427.7 247.0h0.8v0.8h-0.8zM408.4 251.6h0.8v0.8h-0.8zM424.9 255.5h0.8v0.8h-0.8zM416.5 247.9h0.8v0.8h-0.8zM425.8 257.6h0.8v0.8h-0.8zM402.0 253.7h0.8v0.8h-0.8zM396.7 261.8h0.8v0.8h-0.8zM420.9 246.9h0.8v0.8h-0.8zM405.6 249.2h0.8v0.8h-0.8zM401.9 255.3h0.8v0.8h-0.8zM411.8 238.9h0.8v0.8h-0.8zM415.8 259.6h0.8v0.8h-0.8zM405.8 248.8h0.8v0.8h-0.8zM430.5 252.6h0.8v0.8h-0.8zM411.5 252.7h0.8v0.8h-0.8zM422.2 244.3h0.8v0.8h-0.8zM415.2 239.9h0.8v0.8h-0.8zM403.2 240.5h0.8v0.8h-0.8zM422.7 253.5h0.8v0.8h-0.8zM421.8 259.9h0.8v0.8h-0.8zM416.3 253.0h0.8v0.8h-0.8zM419.2 254.6h0.8v0.8h-0.8zM407.4 249.4h0.8v0.8h-0.8zM414.7 251.6h0.8v0.8h-0.8zM409.9 250.4h0.8v0.8h-0.8zM418.2 252.6h0.8v0.8h-0.8zM420.7 257.1h0.8v0.8h-0.8zM420.4 258.1h0.8v0.8h-0.8zM422.7 261.1h0.8v0.8h-0.8zM421.0 247.0h0.8v0.8h-0.8zM434.6 259.3h0.8v0.8h-0.8zM426.0 256.5h0.8v0.8h-0.8zM416.3 243.3h0.8v0.8h-0.8zM419.4 248.9h0.8v0.8h-0.8zM412.7 236.4h0.8v0.8h-0.8zM428.4 243.1h0.8v0.8h-0.8zM407.1 254.6h0.8v0.8h-0.8zM420.5 245.8h0.8v0.8h-0.8zM415.9 253.1h0.8v0.8h-0.8zM417.2 255.0h0.8v0.8h-0.8zM422.2 248.8h0.8v0.8h-0.8zM402.9 266.5h0.8v0.8h-0.8zM412.9 244.4h0.8v0.8h-0.8zM422.0 255.5h0.8v0.8h-0.8zM411.0 267.8h0.8v0.8h-0.8zM397.1 260.3h0.8v0.8h-0.8zM415.6 253.5h0.8v0.8h-0.8zM418.5 249.7h0.8v0.8h-0.8zM418.5 242.2h0.8v0.8h-0.8zM412.7 264.3h0.8v0.8h-0.8zM395.3 260.0h0.8v0.8h-0.8zM398.0 245.4h0.8v0.8h-0.8zM423.0 248.5h0.8v0.8h-0.8zM411.3 240.8h0.8v0.8h-0.8zM415.0 250.1h0.8v0.8h-0.8zM410.8 240.4h0.8v0.8h-0.8zM417.2 254.3h0.8v0.8h-0.8zM425.1 255.0h0.8v0.8h-0.8zM428.1 259.8h0.8v0.8h-0.8zM393.3 263.0h0.8v0.8h-0.8zM415.1 244.0h0.8v0.8h-0.8zM419.4 258.1h0.8v0.8h-0.8zM403.5 242.7h0.8v0.8h-0.8zM421.5 247.5h0.8v0.8h-0.8zM427.6 252.9h0.8v0.8h-0.8zM411.5 242.0h0.8v0.8h-0.8zM420.7 239.3h0.8v0.8h-0.8zM405.5 242.1h0.8v0.8h-0.8zM429.6 263.3h0.8v0.8h-0.8zM414.2 248.7h0.8v0.8h-0.8zM421.6 260.1h0.8v0.8h-0.8zM409.5 266.8h0.8v0.8h-0.8zM414.3 259.3h0.8v0.8h-0.8zM397.0 251.0h0.8v0.8h-0.8zM410.3 265.3h0.8v0.8h-0.8zM414.2 242.4h0.8v0.8h-0.8zM431.6 246.5h0.8v0.8h-0.8zM415.9 242.6h0.8v0.8h-0.8zM421.4 252.7h0.8v0.8h-0.8zM413.6 248.5h0.8v0.8h-0.8zM411.4 246.3h0.8v0.8h-0.8zM404.6 259.8h0.8v0.8h-0.8zM423.1 241.6h0.8v0.8h-0.8zM406.6 254.2h0.8v0.8h-0.8zM434.1 249.9h0.8v0.8h-0.8zM413.4 249.6h0.8v0.8h-0.8zM417.9 250.1h0.8v0.8h-0.8zM424.6 258.2h0.8v0.8h-0.8zM420.4 262.4h0.8v0.8h-0.8zM414.1 247.5h0.8v0.8h-0.8zM403.4 234.8h0.8v0.8h-0.8zM418.8 243.8h0.8v0.8h-0.8zM424.5 236.6h0.8v0.8h-0.8zM414.8 248.6h0.8v0.8h-0.8zM407.3 259.2h0.8v0.8h-0.8zM412.7 254.5h0.8v0.8h-0.8zM411.7 252.4h0.8v0.8h-0.8zM412.3 251.9h0.8v0.8h-0.8zM415.1 246.6h0.8v0.8h-0.8zM419.5 250.0h0.8v0.8h-0.8zM408.2 244.0h0.8v0.8h-0.8zM419.5 260.7h0.8v0.8h-0.8zM405.4 248.4h0.8v0.8h-0.8zM419.6 258.7h0.8v0.8h-0.8zM421.7 243.0h0.8v0.8h-0.8zM416.2 257.7h0.8v0.8h-0.8zM417.9 249.8h0.8v0.8h-0.8zM406.4 252.5h0.8v0.8h-0.8zM415.4 251.6h0.8v0.8h-0.8zM428.0 259.7h0.8v0.8h-0.8zM409.6 253.0h0.8v0.8h-0.8zM413.4 252.0h0.8v0.8h-0.8zM429.1 257.8h0.8v0.8h-0.8zM416.3 246.7h0.8v0.8h-0.8zM414.6 253.9h0.8v0.8h-0.8zM411.9 259.1h0.8v0.8h-0.8zM416.1 243.0h0.8v0.8h-0.8zM432.4 231.0h0.8v0.8h-0.8zM413.8 250.5h0.8v0.8h-0.8zM423.9 259.2h0.8v0.8h-0.8zM427.7 262.3h0.8v0.8h-0.8zM418.5 252.1h0.8v0.8h-0.8zM424.1 251.2h0.8v0.8h-0.8zM405.8 248.2h0.8v0.8h-0.8zM421.3 255.6h0.8v0.8h-0.8zM407.1 259.8h0.8v0.8h-0.8zM418.4 240.8h0.8v0.8h-0.8zM419.7 258.4h0.8v0.8h-0.8zM420.2 249.2h0.8v0.8h-0.8zM409.5 259.2h0.8v0.8h-0.8zM417.8 251.3h0.8v0.8h-0.8zM412.7 244.1h0.8v0.8h-0.8zM400.9 248.9h0.8v0.8h-0.8zM424.9 256.7h0.8v0.8h-0.8zM410.5 262.1h0.8v0.8h-0.8zM414.1 244.3h0.8v0.8h-0.8zM423.8 261.1h0.8v0.8h-0.8zM412.8 242.8h0.8v0.8h-0.8zM415.4 234.3h0.8v0.8h-0.8zM416.4 262.1h0.8v0.8h-0.8zM418.1 246.2h0.8v0.8h-0.8zM421.6 247.9h0.8v0.8h-0.8zM426.1 248.8h0.8v0.8h-0.8zM432.3 248.9h0.8v0.8h-0.8zM417.5 244.7h0.8v0.8h-0.8zM405.7 253.8h0.8v0.8h-0.8zM418.8 244.5h0.8v0.8h-0.8zM420.5 248.4h0.8v0.8h-0.8zM411.5 250.8h0.8v0.8h-0.8zM419.1 256.4h0.8v0.8h-0.8zM425.9 254.0h0.8v0.8h-0.8zM410.1 246.5h0.8v0.8h-0.8zM418.9 242.9h0.8v0.8h-0.8zM414.6 248.6h0.8v0.8h-0.8zM415.2 252.6h0.8v0.8h-0.8zM424.3 262.9h0.8v0.8h-0.8zM423.0 258.4h0.8v0.8h-0.8zM407.4 258.6h0.8v0.8h-0.8zM426.4 241.8h0.8v0.8h-0.8zM396.8 263.7h0.8v0.8h-0.8zM416.5 245.7h0.8v0.8h-0.8zM411.3 258.9h0.8v0.8h-0.8zM418.0 248.7h0.8v0.8h-0.8zM425.2 244.8h0.8v0.8h-0.8zM409.1 247.4h0.8v0.8h-0.8zM409.9 256.2h0.8v0.8h-0.8zM414.1 244.0h0.8v0.8h-0.8zM412.3 237.4h0.8v0.8h-0.8zM417.3 252.1h0.8v0.8h-0.8zM420.8 249.7h0.8v0.8h-0.8zM419.1 244.8h0.8v0.8h-0.8zM416.1 252.4h0.8v0.8h-0.8zM406.2 255.5h0.8v0.8h-0.8zM417.1 251.7h0.8v0.8h-0.8zM412.1 265.4h0.8v0.8h-0.8zM416.0 246.0h0.8v0.8h-0.8zM409.1 255.5h0.8v0.8h-0.8zM414.3 245.8h0.8v0.8h-0.8zM410.1 257.9h0.8v0.8h-0.8zM416.6 258.7h0.8v0.8h-0.8zM415.8 243.1h0.8v0.8h-0.8zM422.9 253.6h0.8v0.8h-0.8zM410.7 249.2h0.8v0.8h-0.8zM408.2 257.2h0.8v0.8h-0.8zM412.6 254.7h0.8v0.8h-0.8zM418.0 249.5h0.8v0.8h-0.8zM418.9 249.6h0.8v0.8h-0.8zM406.5 248.4h0.8v0.8h-0.8zM406.5 256.6h0.8v0.8h-0.8zM421.2 247.2h0.8v0.8h-0.8zM420.9 253.1h0.8v0.8h-0.8zM423.8 244.8h0.8v0.8h-0.8zM416.2 244.4h0.8v0.8h-0.8zM410.5 260.9h0.8v0.8h-0.8zM399.8 244.9h0.8v0.8h-0.8zM419.9 256.8h0.8v0.8h-0.8zM409.7 237.1h0.8v0.8h-0.8zM402.2 253.9h0.8v0.8h-0.8zM424.8 257.7h0.8v0.8h-0.8zM410.1 260.8h0.8v0.8h-0.8zM414.4 255.7h0.8v0.8h-0.8zM414.4 262.5h0.8v0.8h-0.8zM411.8 236.3h0.8v0.8h-0.8zM413.4 252.7h0.8v0.8h-0.8zM418.2 246.3h0.8v0.8h-0.8zM414.1 243.4h0.8v0.8h-0.8zM414.1 252.0h0.8v0.8h-0.8zM417.9 262.9h0.8v0.8h-0.8zM399.9 255.0h0.8v0.8h-0.8zM419.4 243.2h0.8v0.8h-0.8zM416.5 251.3h0.8v0.8h-0.8zM407.9 256.4h0.8v0.8h-0.8zM431.2 256.1h0.8v0.8h-0.8zM422.2 258.8h0.8v0.8h-0.8zM414.9 258.2h0.8v0.8h-0.8zM409.5 252.6h0.8v0.8h-0.8zM421.6 260.5h0.8v0.8h-0.8zM413.6 249.3h0.8v0.8h-0.8zM419.7 250.8h0.8v0.8h-0.8zM417.0 257.0h0.8v0.8h-0.8zM409.8 257.5h0.8v0.8h-0.8zM419.0 249.5h0.8v0.8h-0.8zM406.0 246.9h0.8v0.8h-0.8zM415.6 257.9h0.8v0.8h-0.8zM400.2 256.3h0.8v0.8h-0.8zM417.5 243.5h0.8v0.8h-0.8zM422.8 254.1h0.8v0.8h-0.8zM419.4 244.5h0.8v0.8h-0.8zM407.1 257.7h0.8v0.8h-0.8zM427.1 253.9h0.8v0.8h-0.8zM414.4 248.2h0.8v0.8h-0.8zM402.3 258.2h0.8v0.8h-0.8zM415.2 259.9h0.8v0.8h-0.8zM410.2 258.7h0.8v0.8h-0.8zM410.3 255.4h0.8v0.8h-0.8zM426.9 246.4h0.8v0.8h-0.8zM423.2 251.3h0.8v0.8h-0.8zM408.5 252.7h0.8v0.8h-0.8zM421.1 246.4h0.8v0.8h-0.8zM413.8 247.4h0.8v0.8h-0.8zM409.8 249.9h0.8v0.8h-0.8zM422.5 247.9h0.8v0.8h-0.8zM425.8 248.7h0.8v0.8h-0.8zM410.5 258.8h0.8v0.8h-0.8zM427.1 246.8h0.8v0.8h-0.8zM420.6 243.3h0.8v0.8h-0.8zM412.7 248.7h0.8v0.8h-0.8zM421.6 242.6h0.8v0.8h-0.8zM411.9 246.6h0.8v0.8h-0.8zM416.7 242.8h0.8v0.8h-0.8zM405.3 271.0h0.8v0.8h-0.8zM417.6 240.9h0.8v0.8h-0.8zM422.6 242.2h0.8v0.8h-0.8zM401.0 262.9h0.8v0.8h-0.8zM425.9 245.5h0.8v0.8h-0.8zM407.3 254.6h0.8v0.8h-0.8zM432.0 255.5h0.8v0.8h-0.8zM421.2 243.1h0.8v0.8h-0.8zM401.8 254.0h0.8v0.8h-0.8zM424.0 252.3h0.8v0.8h-0.8zM415.9 260.9h0.8v0.8h-0.8zM409.3 258.9h0.8v0.8h-0.8zM422.5 247.0h0.8v0.8h-0.8zM416.9 252.1h0.8v0.8h-0.8zM420.5 244.6h0.8v0.8h-0.8zM414.1 252.0h0.8v0.8h-0.8zM416.2 251.5h0.8v0.8h-0.8zM417.9 250.0h0.8v0.8h-0.8zM412.0 258.5h0.8v0.8h-0.8zM410.9 249.1h0.8v0.8h-0.8zM409.0 243.4h0.8v0.8h-0.8zM419.5 251.1h0.8v0.8h-0.8zM414.9 254.5h0.8v0.8h-0.8zM414.6 256.0h0.8v0.8h-0.8zM430.2 253.8h0.8v0.8h-0.8zM413.9 262.8h0.8v0.8h-0.8zM421.5 239.9h0.8v0.8h-0.8zM426.5 252.8h0.8v0.8h-0.8zM422.7 243.4h0.8v0.8h-0.8zM409.3 246.9h0.8v0.8h-0.8zM420.3 243.6h0.8v0.8h-0.8zM410.4 257.9h0.8v0.8h-0.8zM410.9 252.2h0.8v0.8h-0.8zM408.9 239.6h0.8v0.8h-0.8zM415.3 250.5h0.8v0.8h-0.8zM404.7 258.1h0.8v0.8h-0.8zM422.4 257.4h0.8v0.8h-0.8zM411.9 243.4h0.8v0.8h-0.8zM415.2 252.5h0.8v0.8h-0.8zM414.6 247.3h0.8v0.8h-0.8zM408.1 246.3h0.8v0.8h-0.8zM415.3 248.0h0.8v0.8h-0.8zM429.1 249.4h0.8v0.8h-0.8zM419.5 248.1h0.8v0.8h-0.8zM414.5 244.6h0.8v0.8h-0.8zM412.1 241.0h0.8v0.8h-0.8zM399.6 260.6h0.8v0.8h-0.8zM407.6 254.3h0.8v0.8h-0.8zM415.0 247.4h0.8v0.8h-0.8zM421.7 247.5h0.8v0.8h-0.8zM419.4 248.8h0.8v0.8h-0.8zM423.6 257.9h0.8v0.8h-0.8zM416.5 258.9h0.8v0.8h-0.8zM419.9 262.0h0.8v0.8h-0.8zM401.9 237.6h0.8v0.8h-0.8zM407.2 262.1h0.8v0.8h-0.8zM398.1 256.0h0.8v0.8h-0.8zM399.6 241.6h0.8v0.8h-0.8zM430.8 248.2h0.8v0.8h-0.8zM387.0 237.1h0.8v0.8h-0.8zM390.6 258.3h0.8v0.8h-0.8zM427.0 267.1h0.8v0.8h-0.8zM392.4 241.8h0.8v0.8h-0.8zM386.3 257.7h0.8v0.8h-0.8zM417.4 252.2h0.8v0.8h-0.8zM428.9 285.4h0.8v0.8h-0.8zM420.9 257.5h0.8v0.8h-0.8zM414.3 272.4h0.8v0.8h-0.8zM388.0 259.7h0.8v0.8h-0.8zM406.6 248.5h0.8v0.8h-0.8zM414.7 257.1h0.8v0.8h-0.8zM397.5 284.6h0.8v0.8h-0.8zM406.4 281.2h0.8v0.8h-0.8zM401.4 273.1h0.8v0.8h-0.8zM392.0 260.8h0.8v0.8h-0.8zM412.2 255.1h0.8v0.8h-0.8zM420.9 261.3h0.8v0.8h-0.8zM402.6 241.3h0.8v0.8h-0.8zM398.7 248.9h0.8v0.8h-0.8zM399.1 261.8h0.8v0.8h-0.8zM382.9 273.3h0.8v0.8h-0.8zM399.7 267.0h0.8v0.8h-0.8zM370.8 251.7h0.8v0.8h-0.8zM399.1 253.5h0.8v0.8h-0.8zM393.4 263.1h0.8v0.8h-0.8zM410.2 245.4h0.8v0.8h-0.8zM373.1 268.8h0.8v0.8h-0.8zM398.8 273.5h0.8v0.8h-0.8zM417.4 257.4h0.8v0.8h-0.8zM381.4 253.9h0.8v0.8h-0.8zM392.4 275.8h0.8v0.8h-0.8zM377.3 271.4h0.8v0.8h-0.8zM379.7 251.0h0.8v0.8h-0.8zM381.7 249.3h0.8v0.8h-0.8zM396.9 263.9h0.8v0.8h-0.8zM394.6 268.2h0.8v0.8h-0.8zM431.1 261.0h0.8v0.8h-0.8zM385.8 256.4h0.8v0.8h-0.8zM402.2 253.9h0.8v0.8h-0.8zM421.8 274.6h0.8v0.8h-0.8zM414.2 247.8h0.8v0.8h-0.8zM394.4 271.3h0.8v0.8h-0.8zM406.0 243.4h0.8v0.8h-0.8zM403.7 242.0h0.8v0.8h-0.8zM402.9 242.5h0.8v0.8h-0.8zM389.3 251.7h0.8v0.8h-0.8zM385.2 251.4h0.8v0.8h-0.8zM420.3 269.8h0.8v0.8h-0.8zM414.6 254.4h0.8v0.8h-0.8zM405.7 248.2h0.8v0.8h-0.8zM400.9 247.7h0.8v0.8h-0.8zM381.0 245.2h0.8v0.8h-0.8zM433.9 264.3h0.8v0.8h-0.8zM392.0 257.3h0.8v0.8h-0.8zM396.7 275.5h0.8v0.8h-0.8zM403.3 250.1h0.8v0.8h-0.8zM414.3 263.2h0.8v0.8h-0.8zM393.1 248.2h0.8v0.8h-0.8zM405.9 236.4h0.8v0.8h-0.8zM389.5 272.6h0.8v0.8h-0.8zM417.2 274.1h0.8v0.8h-0.8zM396.8 250.6h0.8v0.8h-0.8zM399.5 252.2h0.8v0.8h-0.8zM423.7 255.7h0.8v0.8h-0.8zM424.8 249.1h0.8v0.8h-0.8zM409.6 281.0h0.8v0.8h-0.8zM392.1 249.8h0.8v0.8h-0.8zM394.4 236.7h0.8v0.8h-0.8zM399.1 250.0h0.8v0.8h-0.8zM370.4 271.7h0.8v0.8h-0.8zM418.5 258.3h0.8v0.8h-0.8zM408.2 268.6h0.8v0.8h-0.8zM394.9 259.4h0.8v0.8h-0.8zM405.9 281.5h0.8v0.8h-0.8zM425.7 261.1h0.8v0.8h-0.8zM382.8 270.9h0.8v0.8h-0.8zM402.8 274.8h0.8v0.8h-0.8zM404.5 261.3h0.8v0.8h-0.8zM413.9 248.8h0.8v0.8h-0.8zM393.4 290.2h0.8v0.8h-0.8zM390.2 271.6h0.8v0.8h-0.8zM414.3 270.0h0.8v0.8h-0.8zM425.0 240.4h0.8v0.8h-0.8zM418.6 230.6h0.8v0.8h-0.8zM404.5 263.4h0.8v0.8h-0.8zM419.7 273.7h0.8v0.8h-0.8zM389.1 255.0h0.8v0.8h-0.8zM401.2 249.3h0.8v0.8h-0.8zM390.9 249.7h0.8v0.8h-0.8zM421.6 277.4h0.8v0.8h-0.8zM415.4 281.9h0.8v0.8h-0.8zM405.1 243.9h0.8v0.8h-0.8zM393.5 261.6h0.8v0.8h-0.8zM419.7 275.5h0.8v0.8h-0.8zM389.7 271.9h0.8v0.8h-0.8zM395.3 267.0h0.8v0.8h-0.8zM417.9 279.1h0.8v0.8h-0.8zM395.4 262.1h0.8v0.8h-0.8zM410.3 253.1h0.8v0.8h-0.8zM405.1 267.0h0.8v0.8h-0.8zM378.0 250.0h0.8v0.8h-0.8zM395.0 233.6h0.8v0.8h-0.8zM388.7 265.9h0.8v0.8h-0.8zM414.2 264.9h0.8v0.8h-0.8zM412.9 250.5h0.8v0.8h-0.8zM428.5 243.4h0.8v0.8h-0.8zM411.6 255.2h0.8v0.8h-0.8zM377.0 271.2h0.8v0.8h-0.8zM399.3 268.6h0.8v0.8h-0.8zM423.4 261.1h0.8v0.8h-0.8zM393.4 255.9h0.8v0.8h-0.8zM402.6 278.6h0.8v0.8h-0.8zM417.0 280.6h0.8v0.8h-0.8zM415.5 248.3h0.8v0.8h-0.8zM418.1 272.1h0.8v0.8h-0.8zM401.7 265.2h0.8v0.8h-0.8zM398.7 241.5h0.8v0.8h-0.8zM402.2 269.3h0.8v0.8h-0.8zM391.2 273.8h0.8v0.8h-0.8zM407.1 274.2h0.8v0.8h-0.8zM391.9 253.1h0.8v0.8h-0.8zM388.0 248.1h0.8v0.8h-0.8zM411.6 260.7h0.8v0.8h-0.8zM396.1 262.9h0.8v0.8h-0.8zM383.3 253.5h0.8v0.8h-0.8zM380.3 238.2h0.8v0.8h-0.8zM382.5 243.7h0.8v0.8h-0.8zM428.2 277.7h0.8v0.8h-0.8zM423.2 250.8h0.8v0.8h-0.8zM413.3 243.2h0.8v0.8h-0.8zM395.2 262.2h0.8v0.8h-0.8zM378.7 261.5h0.8v0.8h-0.8zM413.2 230.3h0.8v0.8h-0.8zM365.6 255.0h0.8v0.8h-0.8zM401.7 260.8h0.8v0.8h-0.8zM386.0 266.7h0.8v0.8h-0.8zM405.5 248.7h0.8v0.8h-0.8zM429.2 262.4h0.8v0.8h-0.8zM415.1 284.4h0.8v0.8h-0.8zM395.9 255.8h0.8v0.8h-0.8zM376.6 255.7h0.8v0.8h-0.8zM410.4 293.3h0.8v0.8h-0.8zM412.4 261.6h0.8v0.8h-0.8zM383.9 247.1h0.8v0.8h-0.8zM374.8 239.8h0.8v0.8h-0.8zM405.3 262.9h0.8v0.8h-0.8zM389.4 255.8h0.8v0.8h-0.8zM391.1 267.4h0.8v0.8h-0.8zM413.5 251.1h0.8v0.8h-0.8zM396.5 241.9h0.8v0.8h-0.8zM396.3 289.0h0.8v0.8h-0.8zM403.4 270.7h0.8v0.8h-0.8zM412.6 279.2h0.8v0.8h-0.8zM398.5 246.3h0.8v0.8h-0.8zM419.8 271.5h0.8v0.8h-0.8zM393.3 274.0h0.8v0.8h-0.8zM403.4 258.2h0.8v0.8h-0.8zM432.2 266.2h0.8v0.8h-0.8zM408.5 254.4h0.8v0.8h-0.8zM406.7 273.4h0.8v0.8h-0.8zM410.7 248.4h0.8v0.8h-0.8zM410.6 257.2h0.8v0.8h-0.8zM408.4 256.2h0.8v0.8h-0.8zM369.6 236.5h0.8v0.8h-0.8zM380.1 286.9h0.8v0.8h-0.8zM414.4 252.5h0.8v0.8h-0.8zM407.5 272.4h0.8v0.8h-0.8zM406.5 240.7h0.8v0.8h-0.8zM418.7 251.5h0.8v0.8h-0.8zM394.7 261.6h0.8v0.8h-0.8zM398.9 287.1h0.8v0.8h-0.8zM401.4 288.6h0.8v0.8h-0.8zM410.6 241.7h0.8v0.8h-0.8zM403.6 259.6h0.8v0.8h-0.8zM426.0 276.6h0.8v0.8h-0.8zM396.8 291.2h0.8v0.8h-0.8zM389.6 263.8h0.8v0.8h-0.8zM428.7 244.8h0.8v0.8h-0.8zM398.2 248.5h0.8v0.8h-0.8zM411.8 264.4h0.8v0.8h-0.8zM403.0 268.0h0.8v0.8h-0.8zM391.3 253.6h0.8v0.8h-0.8zM410.9 286.8h0.8v0.8h-0.8zM403.0 259.7h0.8v0.8h-0.8zM424.1 259.9h0.8v0.8h-0.8zM423.9 262.2h0.8v0.8h-0.8zM421.6 261.4h0.8v0.8h-0.8zM389.2 247.0h0.8v0.8h-0.8zM410.3 285.0h0.8v0.8h-0.8zM432.7 254.4h0.8v0.8h-0.8zM390.3 271.8h0.8v0.8h-0.8zM379.8 271.5h0.8v0.8h-0.8zM409.5 267.6h0.8v0.8h-0.8zM384.7 264.2h0.8v0.8h-0.8zM418.3 258.1h0.8v0.8h-0.8zM419.7 259.2h0.8v0.8h-0.8zM409.0 254.5h0.8v0.8h-0.8zM382.4 256.6h0.8v0.8h-0.8zM411.4 248.3h0.8v0.8h-0.8zM373.0 237.3h0.8v0.8h-0.8zM424.2 255.7h0.8v0.8h-0.8zM391.6 276.1h0.8v0.8h-0.8zM400.9 237.9h0.8v0.8h-0.8zM396.7 246.6h0.8v0.8h-0.8zM400.7 246.1h0.8v0.8h-0.8zM404.7 265.2h0.8v0.8h-0.8zM394.6 256.0h0.8v0.8h-0.8zM401.2 270.4h0.8v0.8h-0.8zM392.3 269.3h0.8v0.8h-0.8zM423.2 256.1h0.8v0.8h-0.8zM388.4 254.5h0.8v0.8h-0.8zM375.8 251.3h0.8v0.8h-0.8zM384.9 256.5h0.8v0.8h-0.8zM397.8 266.1h0.8v0.8h-0.8zM405.4 264.7h0.8v0.8h-0.8zM402.9 262.8h0.8v0.8h-0.8zM385.8 268.1h0.8v0.8h-0.8zM424.0 274.4h0.8v0.8h-0.8zM382.5 264.7h0.8v0.8h-0.8zM378.1 269.4h0.8v0.8h-0.8zM400.4 252.4h0.8v0.8h-0.8zM391.9 255.5h0.8v0.8h-0.8zM403.5 245.4h0.8v0.8h-0.8zM404.5 262.5h0.8v0.8h-0.8zM411.9 258.2h0.8v0.8h-0.8zM403.5 291.2h0.8v0.8h-0.8zM419.5 263.4h0.8v0.8h-0.8zM381.8 267.5h0.8v0.8h-0.8zM401.0 264.2h0.8v0.8h-0.8zM404.2 260.2h0.8v0.8h-0.8zM401.2 278.2h0.8v0.8h-0.8zM409.6 254.9h0.8v0.8h-0.8zM400.0 288.0h0.8v0.8h-0.8zM390.1 251.5h0.8v0.8h-0.8zM408.7 260.9h0.8v0.8h-0.8zM408.4 277.8h0.8v0.8h-0.8zM421.5 264.7h0.8v0.8h-0.8zM404.3 258.0h0.8v0.8h-0.8zM400.0 272.9h0.8v0.8h-0.8zM383.7 244.3h0.8v0.8h-0.8zM396.4 245.4h0.8v0.8h-0.8zM392.1 275.6h0.8v0.8h-0.8zM368.2 266.9h0.8v0.8h-0.8zM383.0 255.5h0.8v0.8h-0.8zM394.6 245.0h0.8v0.8h-0.8zM380.3 259.9h0.8v0.8h-0.8zM397.5 274.2h0.8v0.8h-0.8zM432.8 254.8h0.8v0.8h-0.8zM391.0 254.9h0.8v0.8h-0.8zM411.0 271.9h0.8v0.8h-0.8zM388.6 265.5h0.8v0.8h-0.8zM403.2 274.9h0.8v0.8h-0.8zM397.2 255.9h0.8v0.8h-0.8zM390.2 240.3h0.8v0.8h-0.8zM407.9 268.8h0.8v0.8h-0.8zM421.4 262.6h0.8v0.8h-0.8zM396.4 246.0h0.8v0.8h-0.8zM385.4 248.7h0.8v0.8h-0.8zM409.0 260.1h0.8v0.8h-0.8zM367.5 257.4h0.8v0.8h-0.8zM399.1 244.2h0.8v0.8h-0.8zM403.3 266.3h0.8v0.8h-0.8zM387.3 239.9h0.8v0.8h-0.8zM398.6 262.5h0.8v0.8h-0.8zM399.6 280.5h0.8v0.8h-0.8zM406.0 244.8h0.8v0.8h-0.8zM415.9 249.8h0.8v0.8h-0.8zM414.6 260.2h0.8v0.8h-0.8zM423.1 244.9h0.8v0.8h-0.8zM415.1 264.8h0.8v0.8h-0.8zM389.4 268.7h0.8v0.8h-0.8zM391.6 256.7h0.8v0.8h-0.8zM424.3 262.4h0.8v0.8h-0.8zM427.1 249.7h0.8v0.8h-0.8zM424.4 236.8h0.8v0.8h-0.8zM401.1 254.7h0.8v0.8h-0.8zM395.9 276.0h0.8v0.8h-0.8z"/><path fill="#000" fill-opacity="0.75" d="M390.5 277.4h0.85v0.85h-0.85zM398.1 281.9h0.85v0.85h-0.85zM405.3 266.4h0.85v0.85h-0.85zM403.4 276.7h0.85v0.85h-0.85zM407.1 271.4h0.85v0.85h-0.85zM393.3 276.4h0.85v0.85h-0.85zM406.6 274.6h0.85v0.85h-0.85zM407.6 275.0h0.85v0.85h-0.85zM393.1 271.8h0.85v0.85h-0.85zM408.6 265.6h0.85v0.85h-0.85zM394.6 274.2h0.85v0.85h-0.85zM391.1 274.2h0.85v0.85h-0.85zM396.9 284.3h0.85v0.85h-0.85zM396.4 272.9h0.85v0.85h-0.85zM397.6 278.4h0.85v0.85h-0.85zM391.7 274.7h0.85v0.85h-0.85zM385.8 280.7h0.85v0.85h-0.85zM401.2 279.6h0.85v0.85h-0.85zM389.3 285.6h0.85v0.85h-0.85zM402.4 272.2h0.85v0.85h-0.85zM394.4 274.3h0.85v0.85h-0.85zM389.2 280.1h0.85v0.85h-0.85zM393.0 273.0h0.85v0.85h-0.85zM400.1 274.4h0.85v0.85h-0.85zM393.2 274.9h0.85v0.85h-0.85zM393.7 281.1h0.85v0.85h-0.85zM403.2 270.2h0.85v0.85h-0.85zM396.6 280.4h0.85v0.85h-0.85zM395.0 282.5h0.85v0.85h-0.85zM399.7 276.7h0.85v0.85h-0.85zM383.7 281.9h0.85v0.85h-0.85zM399.0 276.6h0.85v0.85h-0.85zM399.9 276.1h0.85v0.85h-0.85zM393.6 279.3h0.85v0.85h-0.85zM397.3 270.6h0.85v0.85h-0.85zM390.4 277.3h0.85v0.85h-0.85zM399.0 265.5h0.85v0.85h-0.85zM383.8 282.7h0.85v0.85h-0.85zM396.8 286.3h0.85v0.85h-0.85zM387.1 276.5h0.85v0.85h-0.85zM393.0 278.1h0.85v0.85h-0.85zM405.8 278.8h0.85v0.85h-0.85zM390.5 281.6h0.85v0.85h-0.85zM389.1 278.2h0.85v0.85h-0.85zM397.9 277.0h0.85v0.85h-0.85zM391.8 281.6h0.85v0.85h-0.85zM396.4 274.9h0.85v0.85h-0.85zM395.2 271.1h0.85v0.85h-0.85zM401.4 274.9h0.85v0.85h-0.85zM399.7 281.5h0.85v0.85h-0.85zM391.4 275.2h0.85v0.85h-0.85zM396.9 278.3h0.85v0.85h-0.85zM395.7 278.9h0.85v0.85h-0.85zM399.7 267.0h0.85v0.85h-0.85zM392.5 267.9h0.85v0.85h-0.85zM395.0 273.7h0.85v0.85h-0.85zM400.6 274.5h0.85v0.85h-0.85zM396.4 280.0h0.85v0.85h-0.85zM400.6 268.9h0.85v0.85h-0.85zM392.5 277.4h0.85v0.85h-0.85zM407.7 271.1h0.85v0.85h-0.85zM395.8 276.2h0.85v0.85h-0.85zM401.8 273.1h0.85v0.85h-0.85zM398.7 272.6h0.85v0.85h-0.85zM393.4 272.6h0.85v0.85h-0.85zM401.0 271.5h0.85v0.85h-0.85zM400.3 275.5h0.85v0.85h-0.85zM403.0 262.4h0.85v0.85h-0.85zM390.7 271.7h0.85v0.85h-0.85zM395.8 278.4h0.85v0.85h-0.85zM412.9 276.6h0.85v0.85h-0.85zM405.5 274.0h0.85v0.85h-0.85zM394.4 277.7h0.85v0.85h-0.85zM383.0 282.4h0.85v0.85h-0.85zM396.9 277.3h0.85v0.85h-0.85zM390.3 272.3h0.85v0.85h-0.85zM392.8 275.8h0.85v0.85h-0.85zM399.1 272.8h0.85v0.85h-0.85zM399.1 277.0h0.85v0.85h-0.85zM389.5 276.5h0.85v0.85h-0.85zM387.0 275.4h0.85v0.85h-0.85zM402.6 270.4h0.85v0.85h-0.85zM408.7 273.6h0.85v0.85h-0.85zM402.5 273.7h0.85v0.85h-0.85zM402.3 277.7h0.85v0.85h-0.85zM397.5 272.5h0.85v0.85h-0.85zM393.4 283.6h0.85v0.85h-0.85zM395.7 273.3h0.85v0.85h-0.85zM392.4 269.3h0.85v0.85h-0.85zM393.7 277.0h0.85v0.85h-0.85zM393.8 272.7h0.85v0.85h-0.85zM399.5 276.0h0.85v0.85h-0.85zM394.1 276.9h0.85v0.85h-0.85zM390.7 280.0h0.85v0.85h-0.85zM390.6 275.2h0.85v0.85h-0.85zM397.7 272.9h0.85v0.85h-0.85zM389.6 285.3h0.85v0.85h-0.85zM406.5 265.2h0.85v0.85h-0.85zM397.6 269.6h0.85v0.85h-0.85zM398.8 269.1h0.85v0.85h-0.85zM400.5 276.0h0.85v0.85h-0.85zM407.7 276.7h0.85v0.85h-0.85zM393.9 279.5h0.85v0.85h-0.85zM393.9 275.2h0.85v0.85h-0.85zM393.7 268.7h0.85v0.85h-0.85zM400.7 265.6h0.85v0.85h-0.85zM395.4 277.4h0.85v0.85h-0.85zM397.6 268.3h0.85v0.85h-0.85zM392.7 278.7h0.85v0.85h-0.85zM403.8 279.3h0.85v0.85h-0.85zM385.3 279.9h0.85v0.85h-0.85zM393.8 278.8h0.85v0.85h-0.85zM386.1 277.3h0.85v0.85h-0.85zM401.3 271.0h0.85v0.85h-0.85zM394.5 271.6h0.85v0.85h-0.85zM403.9 267.6h0.85v0.85h-0.85zM391.1 275.1h0.85v0.85h-0.85zM394.8 283.9h0.85v0.85h-0.85zM398.6 271.0h0.85v0.85h-0.85zM400.5 275.2h0.85v0.85h-0.85zM398.6 274.1h0.85v0.85h-0.85zM399.8 269.3h0.85v0.85h-0.85zM389.2 275.3h0.85v0.85h-0.85zM389.8 279.6h0.85v0.85h-0.85zM409.2 276.4h0.85v0.85h-0.85zM399.7 275.4h0.85v0.85h-0.85zM392.5 270.8h0.85v0.85h-0.85zM400.3 267.9h0.85v0.85h-0.85zM398.8 273.8h0.85v0.85h-0.85zM401.6 273.7h0.85v0.85h-0.85zM397.5 272.3h0.85v0.85h-0.85zM385.9 276.5h0.85v0.85h-0.85zM401.3 277.8h0.85v0.85h-0.85zM405.6 268.4h0.85v0.85h-0.85zM390.9 279.3h0.85v0.85h-0.85zM394.0 286.0h0.85v0.85h-0.85zM398.8 268.2h0.85v0.85h-0.85zM393.3 282.1h0.85v0.85h-0.85zM385.3 278.7h0.85v0.85h-0.85zM388.0 283.7h0.85v0.85h-0.85zM394.0 271.5h0.85v0.85h-0.85zM386.0 275.0h0.85v0.85h-0.85zM380.6 277.4h0.85v0.85h-0.85zM410.7 271.4h0.85v0.85h-0.85zM395.2 270.7h0.85v0.85h-0.85zM399.0 272.4h0.85v0.85h-0.85zM391.5 281.9h0.85v0.85h-0.85zM399.6 270.5h0.85v0.85h-0.85zM406.2 272.0h0.85v0.85h-0.85zM400.0 274.6h0.85v0.85h-0.85zM404.3 275.2h0.85v0.85h-0.85zM394.6 278.3h0.85v0.85h-0.85zM394.4 276.1h0.85v0.85h-0.85zM407.3 267.7h0.85v0.85h-0.85zM390.3 275.1h0.85v0.85h-0.85zM393.7 281.0h0.85v0.85h-0.85zM386.7 286.9h0.85v0.85h-0.85zM406.9 270.3h0.85v0.85h-0.85zM398.0 273.1h0.85v0.85h-0.85zM401.1 276.3h0.85v0.85h-0.85zM401.6 276.6h0.85v0.85h-0.85zM409.1 270.8h0.85v0.85h-0.85zM401.3 272.9h0.85v0.85h-0.85zM397.1 275.7h0.85v0.85h-0.85zM396.5 276.3h0.85v0.85h-0.85zM391.4 275.7h0.85v0.85h-0.85zM393.0 271.2h0.85v0.85h-0.85zM392.4 274.1h0.85v0.85h-0.85zM395.9 268.8h0.85v0.85h-0.85zM395.2 270.8h0.85v0.85h-0.85zM391.7 277.1h0.85v0.85h-0.85zM403.9 274.0h0.85v0.85h-0.85zM393.7 273.9h0.85v0.85h-0.85zM405.4 266.0h0.85v0.85h-0.85zM404.1 266.8h0.85v0.85h-0.85zM392.8 276.2h0.85v0.85h-0.85zM395.4 281.9h0.85v0.85h-0.85zM400.0 273.8h0.85v0.85h-0.85zM402.9 273.3h0.85v0.85h-0.85zM391.7 280.8h0.85v0.85h-0.85zM406.4 277.4h0.85v0.85h-0.85zM389.4 284.6h0.85v0.85h-0.85zM394.2 278.7h0.85v0.85h-0.85zM404.4 282.3h0.85v0.85h-0.85zM386.6 273.6h0.85v0.85h-0.85zM404.4 274.8h0.85v0.85h-0.85zM394.9 263.6h0.85v0.85h-0.85zM399.7 273.3h0.85v0.85h-0.85zM380.2 290.2h0.85v0.85h-0.85zM380.9 277.0h0.85v0.85h-0.85zM396.8 275.8h0.85v0.85h-0.85zM401.6 272.5h0.85v0.85h-0.85zM391.1 275.0h0.85v0.85h-0.85zM383.5 274.1h0.85v0.85h-0.85zM409.4 268.6h0.85v0.85h-0.85zM396.3 282.6h0.85v0.85h-0.85zM403.6 273.5h0.85v0.85h-0.85zM401.5 272.5h0.85v0.85h-0.85zM391.1 280.5h0.85v0.85h-0.85zM397.7 281.1h0.85v0.85h-0.85zM395.2 273.8h0.85v0.85h-0.85zM399.0 273.5h0.85v0.85h-0.85zM394.9 271.8h0.85v0.85h-0.85zM398.5 275.7h0.85v0.85h-0.85zM408.5 271.5h0.85v0.85h-0.85zM385.7 279.8h0.85v0.85h-0.85zM411.4 269.0h0.85v0.85h-0.85zM391.7 275.6h0.85v0.85h-0.85zM378.6 278.5h0.85v0.85h-0.85zM395.7 269.1h0.85v0.85h-0.85zM400.5 270.3h0.85v0.85h-0.85zM385.1 275.2h0.85v0.85h-0.85zM400.9 281.5h0.85v0.85h-0.85zM404.8 273.4h0.85v0.85h-0.85zM393.6 274.7h0.85v0.85h-0.85zM403.0 271.1h0.85v0.85h-0.85zM399.5 278.0h0.85v0.85h-0.85zM391.1 274.1h0.85v0.85h-0.85zM399.7 274.1h0.85v0.85h-0.85zM396.1 272.9h0.85v0.85h-0.85zM396.4 282.4h0.85v0.85h-0.85zM405.5 265.9h0.85v0.85h-0.85zM397.2 275.1h0.85v0.85h-0.85zM397.1 269.2h0.85v0.85h-0.85zM396.0 275.7h0.85v0.85h-0.85zM392.5 277.3h0.85v0.85h-0.85zM381.3 273.1h0.85v0.85h-0.85zM397.5 276.2h0.85v0.85h-0.85zM395.8 273.3h0.85v0.85h-0.85zM398.0 278.9h0.85v0.85h-0.85zM402.6 272.9h0.85v0.85h-0.85zM393.9 280.0h0.85v0.85h-0.85zM400.3 277.5h0.85v0.85h-0.85zM395.1 271.9h0.85v0.85h-0.85zM398.0 272.0h0.85v0.85h-0.85zM404.2 276.3h0.85v0.85h-0.85zM382.9 281.4h0.85v0.85h-0.85zM405.4 276.7h0.85v0.85h-0.85zM393.8 272.2h0.85v0.85h-0.85zM403.0 277.2h0.85v0.85h-0.85zM397.2 270.1h0.85v0.85h-0.85zM387.1 278.6h0.85v0.85h-0.85zM391.6 273.6h0.85v0.85h-0.85zM399.7 278.3h0.85v0.85h-0.85zM383.7 275.8h0.85v0.85h-0.85zM405.1 272.4h0.85v0.85h-0.85zM394.7 278.0h0.85v0.85h-0.85zM389.6 271.9h0.85v0.85h-0.85zM397.0 281.1h0.85v0.85h-0.85zM403.3 273.0h0.85v0.85h-0.85zM403.3 271.4h0.85v0.85h-0.85zM389.3 270.2h0.85v0.85h-0.85zM398.6 278.0h0.85v0.85h-0.85zM399.2 274.0h0.85v0.85h-0.85zM394.3 280.0h0.85v0.85h-0.85zM396.6 269.1h0.85v0.85h-0.85zM405.6 269.8h0.85v0.85h-0.85zM399.4 274.2h0.85v0.85h-0.85zM403.6 274.0h0.85v0.85h-0.85zM404.7 273.5h0.85v0.85h-0.85zM393.9 273.6h0.85v0.85h-0.85zM401.0 270.4h0.85v0.85h-0.85zM402.8 272.2h0.85v0.85h-0.85zM390.9 273.0h0.85v0.85h-0.85zM395.9 282.3h0.85v0.85h-0.85zM401.8 273.6h0.85v0.85h-0.85zM391.1 284.2h0.85v0.85h-0.85zM395.1 275.3h0.85v0.85h-0.85zM394.1 281.0h0.85v0.85h-0.85zM398.0 272.7h0.85v0.85h-0.85zM398.0 270.5h0.85v0.85h-0.85zM390.1 276.1h0.85v0.85h-0.85zM378.5 284.7h0.85v0.85h-0.85zM409.5 266.8h0.85v0.85h-0.85zM395.9 268.7h0.85v0.85h-0.85zM397.9 275.4h0.85v0.85h-0.85zM401.6 268.2h0.85v0.85h-0.85zM393.0 273.3h0.85v0.85h-0.85zM395.3 284.5h0.85v0.85h-0.85zM395.6 275.0h0.85v0.85h-0.85zM393.6 279.0h0.85v0.85h-0.85zM413.2 275.0h0.85v0.85h-0.85zM406.6 267.8h0.85v0.85h-0.85zM403.6 273.1h0.85v0.85h-0.85zM404.8 276.9h0.85v0.85h-0.85zM401.0 266.9h0.85v0.85h-0.85zM397.7 272.6h0.85v0.85h-0.85zM399.7 274.2h0.85v0.85h-0.85zM403.6 266.5h0.85v0.85h-0.85zM392.1 275.9h0.85v0.85h-0.85zM398.9 272.6h0.85v0.85h-0.85zM396.7 275.1h0.85v0.85h-0.85zM403.5 272.5h0.85v0.85h-0.85zM398.4 267.1h0.85v0.85h-0.85zM380.1 273.6h0.85v0.85h-0.85zM399.1 264.9h0.85v0.85h-0.85zM399.5 273.7h0.85v0.85h-0.85zM396.9 271.9h0.85v0.85h-0.85zM394.2 279.0h0.85v0.85h-0.85zM399.1 274.1h0.85v0.85h-0.85zM393.7 276.6h0.85v0.85h-0.85zM404.5 272.7h0.85v0.85h-0.85zM394.5 270.7h0.85v0.85h-0.85zM397.5 271.0h0.85v0.85h-0.85zM387.7 280.9h0.85v0.85h-0.85zM392.9 267.7h0.85v0.85h-0.85zM392.3 283.6h0.85v0.85h-0.85zM396.2 269.7h0.85v0.85h-0.85zM389.8 279.7h0.85v0.85h-0.85zM399.5 275.0h0.85v0.85h-0.85zM395.6 277.2h0.85v0.85h-0.85zM406.7 274.1h0.85v0.85h-0.85zM395.8 269.5h0.85v0.85h-0.85zM399.7 280.4h0.85v0.85h-0.85zM401.0 268.6h0.85v0.85h-0.85zM398.0 279.8h0.85v0.85h-0.85zM392.8 278.0h0.85v0.85h-0.85zM404.6 279.3h0.85v0.85h-0.85zM386.7 270.6h0.85v0.85h-0.85zM399.2 277.0h0.85v0.85h-0.85zM394.6 275.4h0.85v0.85h-0.85zM394.2 280.4h0.85v0.85h-0.85zM382.7 279.8h0.85v0.85h-0.85zM388.7 274.4h0.85v0.85h-0.85zM387.0 273.9h0.85v0.85h-0.85zM396.7 275.0h0.85v0.85h-0.85zM408.3 270.8h0.85v0.85h-0.85zM399.1 275.7h0.85v0.85h-0.85zM398.5 280.3h0.85v0.85h-0.85zM397.7 275.2h0.85v0.85h-0.85zM396.1 275.1h0.85v0.85h-0.85zM396.5 279.0h0.85v0.85h-0.85zM397.0 275.1h0.85v0.85h-0.85zM396.5 278.0h0.85v0.85h-0.85zM393.8 279.5h0.85v0.85h-0.85zM393.2 278.7h0.85v0.85h-0.85zM409.1 272.4h0.85v0.85h-0.85zM396.3 270.2h0.85v0.85h-0.85zM401.6 273.6h0.85v0.85h-0.85zM402.7 270.6h0.85v0.85h-0.85zM400.2 281.3h0.85v0.85h-0.85zM399.4 272.8h0.85v0.85h-0.85zM388.5 277.1h0.85v0.85h-0.85zM401.1 276.1h0.85v0.85h-0.85zM389.7 272.7h0.85v0.85h-0.85zM390.6 272.4h0.85v0.85h-0.85zM395.1 276.4h0.85v0.85h-0.85zM409.2 272.2h0.85v0.85h-0.85zM406.2 265.5h0.85v0.85h-0.85zM406.7 275.4h0.85v0.85h-0.85zM399.7 277.4h0.85v0.85h-0.85zM400.8 281.5h0.85v0.85h-0.85zM402.0 266.3h0.85v0.85h-0.85zM385.6 284.5h0.85v0.85h-0.85zM396.3 280.4h0.85v0.85h-0.85zM394.7 272.8h0.85v0.85h-0.85zM394.7 276.7h0.85v0.85h-0.85zM398.0 272.0h0.85v0.85h-0.85zM400.3 276.4h0.85v0.85h-0.85zM391.0 271.9h0.85v0.85h-0.85zM384.3 277.1h0.85v0.85h-0.85zM396.9 272.0h0.85v0.85h-0.85zM393.0 275.4h0.85v0.85h-0.85zM397.0 277.1h0.85v0.85h-0.85zM402.2 275.2h0.85v0.85h-0.85zM404.0 268.9h0.85v0.85h-0.85zM400.7 275.3h0.85v0.85h-0.85zM390.2 273.9h0.85v0.85h-0.85zM399.7 274.4h0.85v0.85h-0.85zM388.8 274.8h0.85v0.85h-0.85zM406.6 275.6h0.85v0.85h-0.85zM397.4 280.2h0.85v0.85h-0.85zM391.0 275.8h0.85v0.85h-0.85zM403.0 271.8h0.85v0.85h-0.85zM389.7 279.2h0.85v0.85h-0.85zM407.1 261.7h0.85v0.85h-0.85zM397.8 269.5h0.85v0.85h-0.85zM394.9 269.6h0.85v0.85h-0.85zM413.6 267.5h0.85v0.85h-0.85zM397.1 271.9h0.85v0.85h-0.85zM390.5 274.8h0.85v0.85h-0.85zM398.2 281.6h0.85v0.85h-0.85zM398.7 280.7h0.85v0.85h-0.85zM390.0 277.0h0.85v0.85h-0.85zM394.0 269.2h0.85v0.85h-0.85zM420.8 267.2h0.85v0.85h-0.85zM398.4 271.3h0.85v0.85h-0.85zM393.2 271.7h0.85v0.85h-0.85zM403.4 271.4h0.85v0.85h-0.85zM395.9 275.8h0.85v0.85h-0.85zM389.0 278.0h0.85v0.85h-0.85zM395.8 277.0h0.85v0.85h-0.85zM394.4 275.7h0.85v0.85h-0.85zM400.2 277.9h0.85v0.85h-0.85zM392.4 280.0h0.85v0.85h-0.85zM390.5 275.8h0.85v0.85h-0.85zM397.7 275.2h0.85v0.85h-0.85zM380.8 275.3h0.85v0.85h-0.85zM395.7 278.9h0.85v0.85h-0.85zM392.3 282.3h0.85v0.85h-0.85zM385.3 278.4h0.85v0.85h-0.85zM400.3 274.0h0.85v0.85h-0.85zM398.5 278.2h0.85v0.85h-0.85zM391.7 278.7h0.85v0.85h-0.85zM403.7 272.0h0.85v0.85h-0.85zM382.0 274.1h0.85v0.85h-0.85zM391.4 272.1h0.85v0.85h-0.85zM399.6 270.8h0.85v0.85h-0.85zM412.8 272.8h0.85v0.85h-0.85zM388.5 276.0h0.85v0.85h-0.85zM406.7 274.9h0.85v0.85h-0.85zM390.3 280.9h0.85v0.85h-0.85zM393.8 284.7h0.85v0.85h-0.85zM393.3 278.3h0.85v0.85h-0.85zM400.5 272.0h0.85v0.85h-0.85zM395.9 279.8h0.85v0.85h-0.85zM400.0 273.7h0.85v0.85h-0.85zM399.7 281.2h0.85v0.85h-0.85zM402.8 275.1h0.85v0.85h-0.85zM399.0 267.9h0.85v0.85h-0.85zM397.7 272.6h0.85v0.85h-0.85zM401.6 271.1h0.85v0.85h-0.85zM399.7 269.8h0.85v0.85h-0.85zM402.6 270.3h0.85v0.85h-0.85zM396.7 277.3h0.85v0.85h-0.85zM394.8 275.5h0.85v0.85h-0.85zM403.7 280.2h0.85v0.85h-0.85zM385.3 274.4h0.85v0.85h-0.85zM401.2 277.5h0.85v0.85h-0.85zM393.8 276.1h0.85v0.85h-0.85zM395.6 284.5h0.85v0.85h-0.85zM395.6 270.4h0.85v0.85h-0.85zM386.9 272.4h0.85v0.85h-0.85zM405.2 270.9h0.85v0.85h-0.85zM409.4 274.0h0.85v0.85h-0.85zM399.3 276.8h0.85v0.85h-0.85zM401.9 277.2h0.85v0.85h-0.85zM390.6 274.3h0.85v0.85h-0.85zM393.3 276.3h0.85v0.85h-0.85zM395.2 270.3h0.85v0.85h-0.85zM392.4 283.4h0.85v0.85h-0.85zM410.5 267.6h0.85v0.85h-0.85zM399.3 274.0h0.85v0.85h-0.85zM391.4 279.3h0.85v0.85h-0.85zM396.4 281.8h0.85v0.85h-0.85zM399.8 272.8h0.85v0.85h-0.85zM379.8 279.1h0.85v0.85h-0.85zM402.3 270.4h0.85v0.85h-0.85zM402.5 276.1h0.85v0.85h-0.85zM385.5 277.2h0.85v0.85h-0.85zM398.9 277.4h0.85v0.85h-0.85zM397.8 274.5h0.85v0.85h-0.85zM394.6 274.3h0.85v0.85h-0.85zM396.9 270.5h0.85v0.85h-0.85zM401.0 272.4h0.85v0.85h-0.85zM400.2 271.9h0.85v0.85h-0.85zM399.5 274.6h0.85v0.85h-0.85zM402.6 275.1h0.85v0.85h-0.85zM402.8 272.5h0.85v0.85h-0.85zM396.5 273.9h0.85v0.85h-0.85zM388.8 276.6h0.85v0.85h-0.85zM403.8 276.1h0.85v0.85h-0.85zM391.4 277.6h0.85v0.85h-0.85zM401.7 268.0h0.85v0.85h-0.85zM399.1 275.6h0.85v0.85h-0.85zM401.7 274.6h0.85v0.85h-0.85zM385.7 269.7h0.85v0.85h-0.85zM409.6 269.7h0.85v0.85h-0.85zM405.0 277.7h0.85v0.85h-0.85zM397.4 270.0h0.85v0.85h-0.85zM405.6 272.3h0.85v0.85h-0.85zM400.2 275.9h0.85v0.85h-0.85zM403.0 277.3h0.85v0.85h-0.85zM387.7 271.6h0.85v0.85h-0.85zM397.8 274.6h0.85v0.85h-0.85zM401.8 272.9h0.85v0.85h-0.85zM395.7 283.4h0.85v0.85h-0.85zM405.7 277.1h0.85v0.85h-0.85zM403.5 269.8h0.85v0.85h-0.85zM396.3 274.7h0.85v0.85h-0.85zM389.8 273.3h0.85v0.85h-0.85zM397.9 269.6h0.85v0.85h-0.85zM400.3 275.8h0.85v0.85h-0.85zM395.3 273.9h0.85v0.85h-0.85zM400.7 275.7h0.85v0.85h-0.85zM399.2 269.2h0.85v0.85h-0.85zM386.4 286.1h0.85v0.85h-0.85zM392.7 274.5h0.85v0.85h-0.85zM385.1 274.9h0.85v0.85h-0.85zM392.1 279.4h0.85v0.85h-0.85zM379.9 273.9h0.85v0.85h-0.85zM394.2 273.6h0.85v0.85h-0.85zM391.9 274.4h0.85v0.85h-0.85zM386.7 278.7h0.85v0.85h-0.85zM404.5 273.3h0.85v0.85h-0.85zM393.4 280.9h0.85v0.85h-0.85zM400.0 269.8h0.85v0.85h-0.85zM393.2 273.4h0.85v0.85h-0.85zM396.6 279.9h0.85v0.85h-0.85zM392.3 275.5h0.85v0.85h-0.85zM397.6 269.8h0.85v0.85h-0.85zM393.8 278.2h0.85v0.85h-0.85zM404.1 265.2h0.85v0.85h-0.85zM401.4 272.4h0.85v0.85h-0.85zM405.1 275.1h0.85v0.85h-0.85zM409.5 272.6h0.85v0.85h-0.85zM394.3 272.2h0.85v0.85h-0.85zM387.7 279.6h0.85v0.85h-0.85zM400.2 277.3h0.85v0.85h-0.85zM399.1 268.2h0.85v0.85h-0.85zM394.2 274.6h0.85v0.85h-0.85zM397.9 277.7h0.85v0.85h-0.85zM406.0 273.5h0.85v0.85h-0.85zM383.6 274.4h0.85v0.85h-0.85zM383.1 275.6h0.85v0.85h-0.85zM389.2 277.9h0.85v0.85h-0.85zM395.4 279.8h0.85v0.85h-0.85zM403.8 271.1h0.85v0.85h-0.85zM402.9 273.2h0.85v0.85h-0.85zM399.8 279.5h0.85v0.85h-0.85zM389.5 276.6h0.85v0.85h-0.85zM406.7 269.0h0.85v0.85h-0.85zM398.2 275.0h0.85v0.85h-0.85zM394.2 270.3h0.85v0.85h-0.85zM392.4 272.1h0.85v0.85h-0.85zM403.8 273.9h0.85v0.85h-0.85zM401.4 268.8h0.85v0.85h-0.85zM400.1 274.5h0.85v0.85h-0.85zM403.6 270.1h0.85v0.85h-0.85zM402.1 279.0h0.85v0.85h-0.85zM408.4 267.9h0.85v0.85h-0.85zM389.6 270.9h0.85v0.85h-0.85zM403.0 275.5h0.85v0.85h-0.85zM399.0 270.7h0.85v0.85h-0.85zM404.9 279.1h0.85v0.85h-0.85zM396.6 274.4h0.85v0.85h-0.85zM404.5 274.8h0.85v0.85h-0.85zM405.5 270.8h0.85v0.85h-0.85zM399.0 272.9h0.85v0.85h-0.85zM393.2 274.7h0.85v0.85h-0.85zM395.0 277.4h0.85v0.85h-0.85zM394.9 275.7h0.85v0.85h-0.85zM391.7 271.3h0.85v0.85h-0.85zM406.0 268.3h0.85v0.85h-0.85zM408.5 275.4h0.85v0.85h-0.85zM382.2 276.3h0.85v0.85h-0.85zM394.2 275.7h0.85v0.85h-0.85zM395.7 272.7h0.85v0.85h-0.85zM404.9 272.1h0.85v0.85h-0.85zM403.0 270.4h0.85v0.85h-0.85zM392.4 281.5h0.85v0.85h-0.85zM395.0 270.9h0.85v0.85h-0.85zM395.8 279.4h0.85v0.85h-0.85zM395.8 272.2h0.85v0.85h-0.85zM400.9 277.7h0.85v0.85h-0.85zM395.5 273.9h0.85v0.85h-0.85zM394.5 286.4h0.85v0.85h-0.85zM395.6 282.2h0.85v0.85h-0.85zM395.9 276.8h0.85v0.85h-0.85zM383.8 279.2h0.85v0.85h-0.85zM397.2 273.5h0.85v0.85h-0.85zM394.2 270.1h0.85v0.85h-0.85zM387.3 278.2h0.85v0.85h-0.85zM392.8 275.6h0.85v0.85h-0.85zM395.7 273.1h0.85v0.85h-0.85zM392.2 283.6h0.85v0.85h-0.85zM389.8 274.8h0.85v0.85h-0.85zM395.0 270.7h0.85v0.85h-0.85zM390.7 280.0h0.85v0.85h-0.85zM402.8 273.7h0.85v0.85h-0.85zM417.7 272.4h0.85v0.85h-0.85zM404.8 269.4h0.85v0.85h-0.85zM403.8 279.7h0.85v0.85h-0.85zM394.4 282.8h0.85v0.85h-0.85zM391.7 271.7h0.85v0.85h-0.85zM396.6 271.7h0.85v0.85h-0.85zM401.0 269.3h0.85v0.85h-0.85zM397.4 266.8h0.85v0.85h-0.85zM396.7 279.1h0.85v0.85h-0.85zM395.2 276.6h0.85v0.85h-0.85zM403.9 268.5h0.85v0.85h-0.85zM388.7 277.4h0.85v0.85h-0.85zM398.7 273.3h0.85v0.85h-0.85zM390.6 281.5h0.85v0.85h-0.85zM389.4 275.9h0.85v0.85h-0.85zM396.6 277.8h0.85v0.85h-0.85zM394.0 272.3h0.85v0.85h-0.85zM409.8 267.9h0.85v0.85h-0.85zM402.0 272.8h0.85v0.85h-0.85zM393.8 275.5h0.85v0.85h-0.85zM395.2 276.6h0.85v0.85h-0.85zM380.5 279.3h0.85v0.85h-0.85zM397.3 270.8h0.85v0.85h-0.85zM394.4 285.0h0.85v0.85h-0.85zM408.7 274.2h0.85v0.85h-0.85zM398.4 273.2h0.85v0.85h-0.85zM405.8 270.6h0.85v0.85h-0.85zM391.6 279.1h0.85v0.85h-0.85zM390.7 273.4h0.85v0.85h-0.85zM406.2 265.8h0.85v0.85h-0.85zM415.7 251.6h0.85v0.85h-0.85zM416.6 248.8h0.85v0.85h-0.85zM415.2 250.8h0.85v0.85h-0.85zM421.6 253.1h0.85v0.85h-0.85zM413.6 252.9h0.85v0.85h-0.85zM417.8 251.2h0.85v0.85h-0.85zM415.1 250.9h0.85v0.85h-0.85zM411.3 250.2h0.85v0.85h-0.85zM418.6 253.9h0.85v0.85h-0.85zM421.4 250.7h0.85v0.85h-0.85zM417.7 247.1h0.85v0.85h-0.85zM415.1 249.1h0.85v0.85h-0.85zM418.3 248.4h0.85v0.85h-0.85zM412.8 249.4h0.85v0.85h-0.85zM417.0 252.8h0.85v0.85h-0.85zM413.1 254.5h0.85v0.85h-0.85zM416.3 249.9h0.85v0.85h-0.85zM416.9 251.3h0.85v0.85h-0.85zM418.3 252.0h0.85v0.85h-0.85zM422.3 253.4h0.85v0.85h-0.85zM414.0 252.7h0.85v0.85h-0.85zM418.1 249.6h0.85v0.85h-0.85zM413.6 249.9h0.85v0.85h-0.85zM408.6 252.5h0.85v0.85h-0.85zM415.2 253.5h0.85v0.85h-0.85zM414.2 251.5h0.85v0.85h-0.85zM418.0 253.1h0.85v0.85h-0.85zM416.8 249.5h0.85v0.85h-0.85zM422.4 252.9h0.85v0.85h-0.85zM419.9 254.2h0.85v0.85h-0.85zM420.0 252.1h0.85v0.85h-0.85zM417.3 252.5h0.85v0.85h-0.85zM411.4 252.8h0.85v0.85h-0.85zM413.0 252.1h0.85v0.85h-0.85zM412.9 252.6h0.85v0.85h-0.85zM414.4 255.7h0.85v0.85h-0.85zM416.4 252.2h0.85v0.85h-0.85zM413.2 250.8h0.85v0.85h-0.85zM415.7 250.8h0.85v0.85h-0.85zM414.6 249.8h0.85v0.85h-0.85zM418.1 250.7h0.85v0.85h-0.85zM413.5 252.0h0.85v0.85h-0.85zM413.5 251.0h0.85v0.85h-0.85zM414.4 249.7h0.85v0.85h-0.85zM415.2 249.9h0.85v0.85h-0.85zM412.2 252.0h0.85v0.85h-0.85zM415.0 248.8h0.85v0.85h-0.85zM414.7 251.7h0.85v0.85h-0.85zM417.1 252.0h0.85v0.85h-0.85zM416.6 252.4h0.85v0.85h-0.85zM414.4 250.0h0.85v0.85h-0.85zM417.7 250.6h0.85v0.85h-0.85zM415.9 252.5h0.85v0.85h-0.85zM418.6 253.5h0.85v0.85h-0.85zM413.8 250.7h0.85v0.85h-0.85zM417.5 248.8h0.85v0.85h-0.85zM412.2 252.4h0.85v0.85h-0.85zM414.1 249.7h0.85v0.85h-0.85zM418.2 252.3h0.85v0.85h-0.85zM418.6 250.8h0.85v0.85h-0.85zM415.0 250.8h0.85v0.85h-0.85zM416.8 247.8h0.85v0.85h-0.85zM413.8 252.6h0.85v0.85h-0.85zM413.6 251.2h0.85v0.85h-0.85zM416.2 252.3h0.85v0.85h-0.85zM414.5 249.4h0.85v0.85h-0.85zM423.2 250.1h0.85v0.85h-0.85zM420.9 248.3h0.85v0.85h-0.85zM416.2 251.0h0.85v0.85h-0.85zM421.5 254.9h0.85v0.85h-0.85zM418.8 249.6h0.85v0.85h-0.85zM413.5 250.0h0.85v0.85h-0.85zM414.4 251.8h0.85v0.85h-0.85zM413.6 250.9h0.85v0.85h-0.85zM420.2 253.9h0.85v0.85h-0.85zM410.4 249.7h0.85v0.85h-0.85zM414.8 253.6h0.85v0.85h-0.85zM414.9 254.7h0.85v0.85h-0.85zM417.0 253.9h0.85v0.85h-0.85zM413.3 250.8h0.85v0.85h-0.85zM418.9 252.4h0.85v0.85h-0.85zM410.4 250.9h0.85v0.85h-0.85zM416.4 252.5h0.85v0.85h-0.85zM414.0 254.4h0.85v0.85h-0.85zM416.3 253.9h0.85v0.85h-0.85zM417.1 251.5h0.85v0.85h-0.85zM414.9 249.3h0.85v0.85h-0.85zM418.4 252.7h0.85v0.85h-0.85zM418.6 250.7h0.85v0.85h-0.85zM412.9 250.7h0.85v0.85h-0.85zM415.0 251.3h0.85v0.85h-0.85zM418.8 249.8h0.85v0.85h-0.85zM414.4 252.6h0.85v0.85h-0.85zM418.5 255.2h0.85v0.85h-0.85zM417.4 249.9h0.85v0.85h-0.85zM412.8 250.0h0.85v0.85h-0.85zM416.1 251.8h0.85v0.85h-0.85zM415.7 250.3h0.85v0.85h-0.85zM415.3 251.2h0.85v0.85h-0.85zM417.6 251.5h0.85v0.85h-0.85zM413.5 249.3h0.85v0.85h-0.85zM420.3 251.2h0.85v0.85h-0.85zM415.4 251.3h0.85v0.85h-0.85zM419.2 250.8h0.85v0.85h-0.85zM416.4 250.9h0.85v0.85h-0.85zM417.6 249.6h0.85v0.85h-0.85zM416.5 253.1h0.85v0.85h-0.85zM419.4 252.4h0.85v0.85h-0.85zM416.8 254.1h0.85v0.85h-0.85zM418.0 253.8h0.85v0.85h-0.85zM412.4 249.4h0.85v0.85h-0.85zM418.2 250.9h0.85v0.85h-0.85zM414.6 249.7h0.85v0.85h-0.85zM420.3 249.3h0.85v0.85h-0.85zM416.2 248.9h0.85v0.85h-0.85zM415.4 255.3h0.85v0.85h-0.85zM423.1 250.5h0.85v0.85h-0.85zM412.9 254.2h0.85v0.85h-0.85zM413.4 248.2h0.85v0.85h-0.85zM416.9 249.5h0.85v0.85h-0.85z"/><ellipse cx="389.4" cy="277.4" rx="9" ry="3.8" transform="rotate(-33 389.4 277.4)" fill="#000" fill-opacity="0.9" filter="url(#bl)"/><ellipse cx="380.4" cy="283.6" rx="2.2" ry="1.8" transform="rotate(0 380.4 283.6)" fill="#000" fill-opacity="1.0" filter="url(#bl)"/><line x1="365.85" y1="300.5" x2="365.85" y2="303.1" stroke="#111" stroke-width="0.9"/><line x1="368.85" y1="300.5" x2="368.85" y2="303.1" stroke="#111" stroke-width="0.9"/><line x1="371.65000000000003" y1="300.5" x2="371.65000000000003" y2="303.1" stroke="#111" stroke-width="0.9"/><line x1="374.65000000000003" y1="300.5" x2="374.65000000000003" y2="303.1" stroke="#111" stroke-width="0.9"/><line x1="377.05" y1="300.5" x2="377.05" y2="303.1" stroke="#111" stroke-width="0.9"/><line x1="379.15000000000003" y1="300.5" x2="379.15000000000003" y2="303.1" stroke="#111" stroke-width="0.9"/><line x1="383.85" y1="300.5" x2="383.85" y2="303.1" stroke="#111" stroke-width="0.9"/><line x1="386.25" y1="300.5" x2="386.25" y2="303.1" stroke="#111" stroke-width="0.9"/><line x1="388.15000000000003" y1="300.5" x2="388.15000000000003" y2="303.1" stroke="#111" stroke-width="0.9"/><line x1="390.45000000000005" y1="300.5" x2="390.45000000000005" y2="303.1" stroke="#111" stroke-width="0.9"/><line x1="392.45000000000005" y1="300.5" x2="392.45000000000005" y2="303.1" stroke="#111" stroke-width="0.9"/><line x1="394.45000000000005" y1="300.5" x2="394.45000000000005" y2="303.1" stroke="#111" stroke-width="0.9"/><line x1="397.55" y1="300.5" x2="397.55" y2="303.1" stroke="#111" stroke-width="0.9"/><line x1="399.65000000000003" y1="300.5" x2="399.65000000000003" y2="303.1" stroke="#111" stroke-width="0.9"/><line x1="401.45000000000005" y1="300.5" x2="401.45000000000005" y2="303.1" stroke="#111" stroke-width="0.9"/><line x1="403.15000000000003" y1="300.5" x2="403.15000000000003" y2="303.1" stroke="#111" stroke-width="0.9"/><line x1="404.85" y1="300.5" x2="404.85" y2="303.1" stroke="#111" stroke-width="0.9"/><line x1="406.45000000000005" y1="300.5" x2="406.45000000000005" y2="303.1" stroke="#111" stroke-width="0.9"/><line x1="408.05" y1="300.5" x2="408.05" y2="303.1" stroke="#111" stroke-width="0.9"/><line x1="412.85" y1="300.5" x2="412.85" y2="303.1" stroke="#111" stroke-width="0.9"/><line x1="415.25" y1="300.5" x2="415.25" y2="303.1" stroke="#111" stroke-width="0.9"/><line x1="418.25" y1="300.5" x2="418.25" y2="303.1" stroke="#111" stroke-width="0.9"/><line x1="420.85" y1="300.5" x2="420.85" y2="303.1" stroke="#111" stroke-width="0.9"/><line x1="422.65000000000003" y1="300.5" x2="422.65000000000003" y2="303.1" stroke="#111" stroke-width="0.9"/><line x1="424.35" y1="300.5" x2="424.35" y2="303.1" stroke="#111" stroke-width="0.9"/><line x1="425.85" y1="300.5" x2="425.85" y2="303.1" stroke="#111" stroke-width="0.9"/><line x1="430.35" y1="300.5" x2="430.35" y2="303.1" stroke="#111" stroke-width="0.9"/><line x1="432.95000000000005" y1="300.5" x2="432.95000000000005" y2="303.1" stroke="#111" stroke-width="0.9"/><line x1="381.25" y1="300.5" x2="381.25" y2="303.5" stroke="#111" stroke-width="1.1"/><line x1="409.65000000000003" y1="300.5" x2="409.65000000000003" y2="303.5" stroke="#111" stroke-width="1.1"/><line x1="427.35" y1="300.5" x2="427.35" y2="303.5" stroke="#111" stroke-width="1.1"/><path fill="#000" fill-opacity="0.6" d="M488.6 253.7h0.8v0.8h-0.8zM478.7 251.8h0.8v0.8h-0.8zM501.0 244.5h0.8v0.8h-0.8zM463.8 248.8h0.8v0.8h-0.8zM476.2 239.2h0.8v0.8h-0.8zM488.0 254.5h0.8v0.8h-0.8zM485.3 259.9h0.8v0.8h-0.8zM474.6 242.3h0.8v0.8h-0.8zM456.2 248.8h0.8v0.8h-0.8zM478.2 246.4h0.8v0.8h-0.8zM471.7 247.8h0.8v0.8h-0.8zM489.4 240.4h0.8v0.8h-0.8zM485.0 244.5h0.8v0.8h-0.8zM478.7 246.9h0.8v0.8h-0.8zM493.3 250.4h0.8v0.8h-0.8zM486.1 247.2h0.8v0.8h-0.8zM461.3 254.0h0.8v0.8h-0.8zM479.9 246.7h0.8v0.8h-0.8zM475.7 232.6h0.8v0.8h-0.8zM493.1 261.6h0.8v0.8h-0.8zM484.9 235.7h0.8v0.8h-0.8zM478.5 241.4h0.8v0.8h-0.8zM474.6 239.2h0.8v0.8h-0.8zM475.8 252.5h0.8v0.8h-0.8zM494.2 253.9h0.8v0.8h-0.8zM480.0 244.6h0.8v0.8h-0.8zM477.9 245.7h0.8v0.8h-0.8zM474.6 244.3h0.8v0.8h-0.8zM487.5 243.9h0.8v0.8h-0.8zM472.9 244.8h0.8v0.8h-0.8zM480.8 245.2h0.8v0.8h-0.8zM477.8 251.9h0.8v0.8h-0.8zM479.7 237.2h0.8v0.8h-0.8zM485.0 239.7h0.8v0.8h-0.8zM486.8 252.9h0.8v0.8h-0.8zM484.3 248.5h0.8v0.8h-0.8zM468.2 244.2h0.8v0.8h-0.8zM481.1 251.4h0.8v0.8h-0.8zM470.2 244.5h0.8v0.8h-0.8zM466.5 247.4h0.8v0.8h-0.8zM480.7 246.9h0.8v0.8h-0.8zM494.6 252.2h0.8v0.8h-0.8zM478.3 240.9h0.8v0.8h-0.8zM476.1 252.6h0.8v0.8h-0.8zM488.1 241.5h0.8v0.8h-0.8zM479.0 242.1h0.8v0.8h-0.8zM486.1 247.5h0.8v0.8h-0.8zM473.7 238.2h0.8v0.8h-0.8zM491.5 233.8h0.8v0.8h-0.8zM497.9 241.2h0.8v0.8h-0.8zM487.5 250.7h0.8v0.8h-0.8zM487.4 255.7h0.8v0.8h-0.8zM475.9 245.7h0.8v0.8h-0.8zM488.7 250.7h0.8v0.8h-0.8zM473.3 239.4h0.8v0.8h-0.8zM467.3 248.1h0.8v0.8h-0.8zM475.3 232.5h0.8v0.8h-0.8zM475.1 248.7h0.8v0.8h-0.8zM481.6 244.0h0.8v0.8h-0.8zM481.5 251.5h0.8v0.8h-0.8zM469.4 238.8h0.8v0.8h-0.8zM488.6 252.2h0.8v0.8h-0.8zM467.6 239.6h0.8v0.8h-0.8zM492.8 252.3h0.8v0.8h-0.8zM478.7 254.6h0.8v0.8h-0.8zM492.1 258.0h0.8v0.8h-0.8zM467.7 234.7h0.8v0.8h-0.8zM475.5 245.4h0.8v0.8h-0.8zM476.9 248.0h0.8v0.8h-0.8zM493.1 255.3h0.8v0.8h-0.8zM488.8 245.9h0.8v0.8h-0.8zM494.6 249.8h0.8v0.8h-0.8zM482.2 245.7h0.8v0.8h-0.8zM463.8 264.4h0.8v0.8h-0.8zM479.8 253.6h0.8v0.8h-0.8zM500.1 244.2h0.8v0.8h-0.8zM469.7 254.6h0.8v0.8h-0.8zM482.2 237.7h0.8v0.8h-0.8zM488.6 246.0h0.8v0.8h-0.8zM471.2 249.2h0.8v0.8h-0.8zM470.8 254.2h0.8v0.8h-0.8zM499.5 248.6h0.8v0.8h-0.8zM482.0 245.2h0.8v0.8h-0.8zM487.7 246.1h0.8v0.8h-0.8zM489.2 258.1h0.8v0.8h-0.8zM487.6 237.6h0.8v0.8h-0.8zM485.9 243.6h0.8v0.8h-0.8zM482.8 254.2h0.8v0.8h-0.8zM474.1 247.6h0.8v0.8h-0.8zM493.0 238.7h0.8v0.8h-0.8zM478.3 252.1h0.8v0.8h-0.8zM478.0 254.7h0.8v0.8h-0.8zM471.1 233.0h0.8v0.8h-0.8zM483.4 244.7h0.8v0.8h-0.8zM482.8 254.1h0.8v0.8h-0.8zM489.4 242.9h0.8v0.8h-0.8zM471.4 248.0h0.8v0.8h-0.8zM481.9 233.2h0.8v0.8h-0.8zM487.0 245.5h0.8v0.8h-0.8zM489.8 242.8h0.8v0.8h-0.8zM488.6 236.4h0.8v0.8h-0.8zM463.5 239.0h0.8v0.8h-0.8zM486.2 249.4h0.8v0.8h-0.8zM463.2 247.1h0.8v0.8h-0.8zM486.0 260.3h0.8v0.8h-0.8zM487.0 250.2h0.8v0.8h-0.8zM466.0 249.1h0.8v0.8h-0.8zM462.5 243.4h0.8v0.8h-0.8zM476.7 237.6h0.8v0.8h-0.8zM471.0 244.7h0.8v0.8h-0.8zM485.2 240.4h0.8v0.8h-0.8zM482.7 252.0h0.8v0.8h-0.8zM479.8 262.2h0.8v0.8h-0.8zM477.2 239.6h0.8v0.8h-0.8zM463.1 255.0h0.8v0.8h-0.8zM486.0 244.3h0.8v0.8h-0.8zM482.8 244.8h0.8v0.8h-0.8zM487.8 245.8h0.8v0.8h-0.8zM482.0 245.2h0.8v0.8h-0.8zM484.9 235.2h0.8v0.8h-0.8zM483.5 251.3h0.8v0.8h-0.8zM496.8 239.5h0.8v0.8h-0.8zM481.3 254.0h0.8v0.8h-0.8zM474.1 240.9h0.8v0.8h-0.8zM484.0 263.5h0.8v0.8h-0.8zM489.6 254.0h0.8v0.8h-0.8zM471.4 251.5h0.8v0.8h-0.8zM490.2 235.1h0.8v0.8h-0.8zM480.1 244.2h0.8v0.8h-0.8zM485.7 231.0h0.8v0.8h-0.8zM486.3 245.9h0.8v0.8h-0.8zM461.5 241.2h0.8v0.8h-0.8zM485.8 249.5h0.8v0.8h-0.8zM486.7 231.4h0.8v0.8h-0.8zM481.8 257.4h0.8v0.8h-0.8zM466.2 251.4h0.8v0.8h-0.8zM473.5 250.6h0.8v0.8h-0.8zM480.9 232.0h0.8v0.8h-0.8zM470.6 256.7h0.8v0.8h-0.8zM479.0 256.4h0.8v0.8h-0.8zM483.0 253.5h0.8v0.8h-0.8zM476.5 247.7h0.8v0.8h-0.8zM476.7 253.6h0.8v0.8h-0.8zM474.9 255.3h0.8v0.8h-0.8zM494.0 235.5h0.8v0.8h-0.8zM478.5 250.5h0.8v0.8h-0.8zM495.8 255.7h0.8v0.8h-0.8zM480.8 231.1h0.8v0.8h-0.8zM487.5 240.9h0.8v0.8h-0.8zM481.7 249.3h0.8v0.8h-0.8zM467.4 254.9h0.8v0.8h-0.8zM488.2 250.8h0.8v0.8h-0.8zM485.3 248.9h0.8v0.8h-0.8zM467.5 241.5h0.8v0.8h-0.8zM487.3 243.1h0.8v0.8h-0.8zM480.2 249.0h0.8v0.8h-0.8zM480.8 248.1h0.8v0.8h-0.8zM484.3 245.9h0.8v0.8h-0.8zM470.2 243.6h0.8v0.8h-0.8zM488.5 240.1h0.8v0.8h-0.8zM484.2 248.5h0.8v0.8h-0.8zM479.8 239.3h0.8v0.8h-0.8zM474.4 253.8h0.8v0.8h-0.8zM473.1 248.8h0.8v0.8h-0.8zM481.0 247.6h0.8v0.8h-0.8zM488.6 244.6h0.8v0.8h-0.8zM477.5 240.2h0.8v0.8h-0.8zM480.3 246.3h0.8v0.8h-0.8zM471.8 259.8h0.8v0.8h-0.8zM473.4 244.7h0.8v0.8h-0.8zM468.7 247.2h0.8v0.8h-0.8zM483.2 255.1h0.8v0.8h-0.8zM488.7 241.6h0.8v0.8h-0.8zM494.2 245.0h0.8v0.8h-0.8zM493.8 260.4h0.8v0.8h-0.8zM476.4 236.7h0.8v0.8h-0.8zM484.8 258.1h0.8v0.8h-0.8zM483.5 255.2h0.8v0.8h-0.8zM485.3 253.4h0.8v0.8h-0.8zM491.7 243.4h0.8v0.8h-0.8zM467.4 244.9h0.8v0.8h-0.8zM473.0 235.8h0.8v0.8h-0.8zM478.5 251.9h0.8v0.8h-0.8zM463.6 233.0h0.8v0.8h-0.8zM487.1 238.3h0.8v0.8h-0.8zM476.5 257.3h0.8v0.8h-0.8zM489.9 248.9h0.8v0.8h-0.8zM484.9 249.1h0.8v0.8h-0.8zM467.6 247.4h0.8v0.8h-0.8zM484.0 244.9h0.8v0.8h-0.8zM487.0 253.3h0.8v0.8h-0.8zM480.4 243.8h0.8v0.8h-0.8zM469.5 255.5h0.8v0.8h-0.8zM474.9 248.6h0.8v0.8h-0.8zM493.6 252.4h0.8v0.8h-0.8zM468.7 245.1h0.8v0.8h-0.8zM473.6 231.9h0.8v0.8h-0.8zM472.8 250.8h0.8v0.8h-0.8zM483.0 244.1h0.8v0.8h-0.8zM481.5 236.0h0.8v0.8h-0.8zM473.2 244.4h0.8v0.8h-0.8zM487.0 243.2h0.8v0.8h-0.8zM478.5 248.7h0.8v0.8h-0.8zM493.0 235.2h0.8v0.8h-0.8zM484.7 247.4h0.8v0.8h-0.8zM479.3 248.0h0.8v0.8h-0.8zM462.4 246.1h0.8v0.8h-0.8zM477.9 235.4h0.8v0.8h-0.8zM487.5 244.8h0.8v0.8h-0.8zM476.9 252.3h0.8v0.8h-0.8zM471.8 239.8h0.8v0.8h-0.8zM487.3 253.2h0.8v0.8h-0.8zM497.9 242.0h0.8v0.8h-0.8zM467.1 233.3h0.8v0.8h-0.8zM469.3 246.8h0.8v0.8h-0.8zM477.8 240.2h0.8v0.8h-0.8zM471.0 240.0h0.8v0.8h-0.8zM476.7 255.9h0.8v0.8h-0.8zM485.5 257.5h0.8v0.8h-0.8zM487.2 252.3h0.8v0.8h-0.8zM490.4 249.7h0.8v0.8h-0.8zM493.6 255.4h0.8v0.8h-0.8zM496.1 247.7h0.8v0.8h-0.8zM473.1 267.2h0.8v0.8h-0.8zM477.5 250.3h0.8v0.8h-0.8zM476.6 240.0h0.8v0.8h-0.8zM483.8 236.4h0.8v0.8h-0.8zM478.5 257.8h0.8v0.8h-0.8zM481.0 252.8h0.8v0.8h-0.8zM485.6 249.1h0.8v0.8h-0.8zM480.9 251.0h0.8v0.8h-0.8zM471.4 250.8h0.8v0.8h-0.8zM470.4 239.5h0.8v0.8h-0.8zM474.7 234.5h0.8v0.8h-0.8zM462.5 249.1h0.8v0.8h-0.8zM484.4 251.5h0.8v0.8h-0.8zM499.5 247.3h0.8v0.8h-0.8zM486.6 239.5h0.8v0.8h-0.8zM486.2 236.2h0.8v0.8h-0.8zM497.4 237.7h0.8v0.8h-0.8zM476.3 252.2h0.8v0.8h-0.8zM460.4 257.2h0.8v0.8h-0.8zM471.5 247.5h0.8v0.8h-0.8zM488.6 247.2h0.8v0.8h-0.8zM488.2 241.6h0.8v0.8h-0.8zM493.3 240.2h0.8v0.8h-0.8zM472.3 246.0h0.8v0.8h-0.8zM495.0 239.9h0.8v0.8h-0.8zM479.7 242.8h0.8v0.8h-0.8zM471.6 234.8h0.8v0.8h-0.8zM485.1 251.8h0.8v0.8h-0.8zM473.2 247.8h0.8v0.8h-0.8zM483.9 249.1h0.8v0.8h-0.8zM478.4 246.2h0.8v0.8h-0.8zM482.4 236.8h0.8v0.8h-0.8zM478.6 252.6h0.8v0.8h-0.8zM474.9 257.0h0.8v0.8h-0.8zM477.8 236.5h0.8v0.8h-0.8zM477.3 234.4h0.8v0.8h-0.8zM485.3 232.4h0.8v0.8h-0.8zM480.0 243.9h0.8v0.8h-0.8zM477.2 249.4h0.8v0.8h-0.8zM482.4 241.1h0.8v0.8h-0.8zM487.2 242.0h0.8v0.8h-0.8zM487.9 257.2h0.8v0.8h-0.8zM483.2 253.7h0.8v0.8h-0.8zM468.0 250.6h0.8v0.8h-0.8zM466.6 244.4h0.8v0.8h-0.8zM473.0 239.3h0.8v0.8h-0.8zM471.5 246.0h0.8v0.8h-0.8zM485.5 236.1h0.8v0.8h-0.8zM474.4 230.1h0.8v0.8h-0.8zM466.5 249.8h0.8v0.8h-0.8zM487.7 239.0h0.8v0.8h-0.8zM483.0 239.3h0.8v0.8h-0.8zM489.4 260.7h0.8v0.8h-0.8zM458.0 238.5h0.8v0.8h-0.8zM474.2 241.8h0.8v0.8h-0.8zM493.7 259.2h0.8v0.8h-0.8zM479.8 251.3h0.8v0.8h-0.8zM465.8 243.3h0.8v0.8h-0.8zM477.3 244.6h0.8v0.8h-0.8zM482.5 232.6h0.8v0.8h-0.8zM470.6 264.0h0.8v0.8h-0.8zM464.5 246.4h0.8v0.8h-0.8zM486.3 250.0h0.8v0.8h-0.8zM480.4 232.2h0.8v0.8h-0.8zM475.7 232.6h0.8v0.8h-0.8zM497.3 248.9h0.8v0.8h-0.8zM486.3 247.6h0.8v0.8h-0.8zM476.4 255.9h0.8v0.8h-0.8zM487.7 251.2h0.8v0.8h-0.8zM485.0 252.1h0.8v0.8h-0.8zM477.4 249.5h0.8v0.8h-0.8zM480.6 243.7h0.8v0.8h-0.8zM485.6 264.0h0.8v0.8h-0.8zM461.9 258.0h0.8v0.8h-0.8zM476.0 256.0h0.8v0.8h-0.8zM470.8 244.3h0.8v0.8h-0.8zM489.0 245.2h0.8v0.8h-0.8zM483.0 235.6h0.8v0.8h-0.8zM469.7 260.0h0.8v0.8h-0.8zM481.3 245.1h0.8v0.8h-0.8zM467.6 237.1h0.8v0.8h-0.8zM470.7 245.4h0.8v0.8h-0.8zM478.8 240.7h0.8v0.8h-0.8zM473.9 246.8h0.8v0.8h-0.8zM490.2 234.0h0.8v0.8h-0.8zM467.3 255.4h0.8v0.8h-0.8zM467.2 242.4h0.8v0.8h-0.8zM480.9 261.3h0.8v0.8h-0.8zM479.1 255.0h0.8v0.8h-0.8zM481.1 239.0h0.8v0.8h-0.8zM487.2 258.4h0.8v0.8h-0.8zM478.0 252.8h0.8v0.8h-0.8zM470.5 258.4h0.8v0.8h-0.8zM474.1 239.1h0.8v0.8h-0.8zM473.1 230.9h0.8v0.8h-0.8zM485.8 262.8h0.8v0.8h-0.8zM467.2 244.2h0.8v0.8h-0.8zM483.8 241.1h0.8v0.8h-0.8zM466.0 248.7h0.8v0.8h-0.8zM488.8 246.7h0.8v0.8h-0.8zM470.4 243.3h0.8v0.8h-0.8zM462.7 245.4h0.8v0.8h-0.8zM490.7 255.3h0.8v0.8h-0.8zM479.1 249.5h0.8v0.8h-0.8zM475.3 247.0h0.8v0.8h-0.8zM474.6 247.2h0.8v0.8h-0.8zM475.3 247.5h0.8v0.8h-0.8zM486.0 245.7h0.8v0.8h-0.8zM468.4 250.1h0.8v0.8h-0.8zM477.7 241.6h0.8v0.8h-0.8zM484.9 238.8h0.8v0.8h-0.8zM488.1 250.6h0.8v0.8h-0.8zM473.7 239.9h0.8v0.8h-0.8zM478.8 238.2h0.8v0.8h-0.8zM481.2 242.9h0.8v0.8h-0.8zM470.1 251.2h0.8v0.8h-0.8zM475.6 249.7h0.8v0.8h-0.8zM476.0 243.5h0.8v0.8h-0.8zM484.5 254.0h0.8v0.8h-0.8zM488.7 245.7h0.8v0.8h-0.8zM493.0 243.0h0.8v0.8h-0.8zM467.1 238.5h0.8v0.8h-0.8zM464.1 248.6h0.8v0.8h-0.8zM480.1 245.6h0.8v0.8h-0.8zM482.0 244.9h0.8v0.8h-0.8zM477.6 243.2h0.8v0.8h-0.8zM480.2 236.3h0.8v0.8h-0.8zM491.2 259.0h0.8v0.8h-0.8zM480.2 265.2h0.8v0.8h-0.8zM471.3 253.5h0.8v0.8h-0.8zM465.5 251.0h0.8v0.8h-0.8zM473.3 254.4h0.8v0.8h-0.8zM480.9 253.9h0.8v0.8h-0.8zM485.2 250.3h0.8v0.8h-0.8zM477.4 259.4h0.8v0.8h-0.8zM483.0 250.0h0.8v0.8h-0.8zM492.6 243.7h0.8v0.8h-0.8zM495.3 255.1h0.8v0.8h-0.8zM480.6 233.5h0.8v0.8h-0.8zM490.7 243.2h0.8v0.8h-0.8zM480.7 246.9h0.8v0.8h-0.8zM488.3 251.2h0.8v0.8h-0.8zM463.7 240.3h0.8v0.8h-0.8zM483.0 247.3h0.8v0.8h-0.8zM486.9 250.7h0.8v0.8h-0.8zM494.3 239.7h0.8v0.8h-0.8zM491.4 249.1h0.8v0.8h-0.8zM482.5 251.7h0.8v0.8h-0.8zM476.9 252.0h0.8v0.8h-0.8zM478.0 252.0h0.8v0.8h-0.8zM473.2 255.8h0.8v0.8h-0.8zM466.4 240.3h0.8v0.8h-0.8zM479.5 247.9h0.8v0.8h-0.8zM472.8 242.4h0.8v0.8h-0.8zM482.1 254.8h0.8v0.8h-0.8zM491.3 241.8h0.8v0.8h-0.8zM479.3 243.2h0.8v0.8h-0.8zM466.4 242.1h0.8v0.8h-0.8zM489.9 234.4h0.8v0.8h-0.8zM505.2 254.2h0.8v0.8h-0.8zM495.2 247.4h0.8v0.8h-0.8zM459.5 249.6h0.8v0.8h-0.8zM494.0 241.0h0.8v0.8h-0.8zM491.1 252.3h0.8v0.8h-0.8zM486.8 252.2h0.8v0.8h-0.8zM485.1 251.4h0.8v0.8h-0.8zM490.5 249.5h0.8v0.8h-0.8zM485.5 249.5h0.8v0.8h-0.8zM481.1 238.5h0.8v0.8h-0.8zM464.0 237.2h0.8v0.8h-0.8zM468.9 233.3h0.8v0.8h-0.8zM486.0 243.1h0.8v0.8h-0.8zM491.1 272.5h0.8v0.8h-0.8zM486.7 241.9h0.8v0.8h-0.8zM483.3 244.1h0.8v0.8h-0.8zM482.4 263.6h0.8v0.8h-0.8zM494.0 256.8h0.8v0.8h-0.8zM482.4 261.1h0.8v0.8h-0.8zM487.2 253.5h0.8v0.8h-0.8zM469.6 240.7h0.8v0.8h-0.8zM481.4 244.0h0.8v0.8h-0.8zM473.3 245.0h0.8v0.8h-0.8zM482.6 236.7h0.8v0.8h-0.8zM478.7 261.3h0.8v0.8h-0.8zM478.3 245.9h0.8v0.8h-0.8zM491.1 247.5h0.8v0.8h-0.8zM492.1 248.7h0.8v0.8h-0.8zM490.3 257.4h0.8v0.8h-0.8zM493.5 247.6h0.8v0.8h-0.8zM485.6 279.4h0.8v0.8h-0.8zM469.1 247.6h0.8v0.8h-0.8zM484.1 239.9h0.8v0.8h-0.8zM487.3 244.5h0.8v0.8h-0.8zM486.9 247.5h0.8v0.8h-0.8zM471.7 254.8h0.8v0.8h-0.8zM497.7 253.8h0.8v0.8h-0.8zM482.4 231.2h0.8v0.8h-0.8zM482.8 245.6h0.8v0.8h-0.8zM483.9 254.2h0.8v0.8h-0.8zM486.2 265.4h0.8v0.8h-0.8zM463.2 248.9h0.8v0.8h-0.8zM479.7 258.1h0.8v0.8h-0.8zM479.6 237.6h0.8v0.8h-0.8zM479.4 249.6h0.8v0.8h-0.8zM473.4 239.2h0.8v0.8h-0.8zM482.3 253.4h0.8v0.8h-0.8zM477.9 250.1h0.8v0.8h-0.8zM475.5 243.0h0.8v0.8h-0.8zM481.6 254.2h0.8v0.8h-0.8zM494.0 244.8h0.8v0.8h-0.8zM483.9 262.7h0.8v0.8h-0.8zM487.3 242.8h0.8v0.8h-0.8zM483.6 233.7h0.8v0.8h-0.8zM461.4 239.4h0.8v0.8h-0.8zM473.6 234.4h0.8v0.8h-0.8zM489.0 242.0h0.8v0.8h-0.8zM480.7 246.5h0.8v0.8h-0.8zM478.2 235.9h0.8v0.8h-0.8zM479.7 251.8h0.8v0.8h-0.8zM478.2 245.0h0.8v0.8h-0.8zM482.7 247.9h0.8v0.8h-0.8zM477.0 255.1h0.8v0.8h-0.8zM484.4 258.8h0.8v0.8h-0.8zM465.4 241.5h0.8v0.8h-0.8zM484.0 231.9h0.8v0.8h-0.8zM475.0 256.6h0.8v0.8h-0.8zM482.9 239.8h0.8v0.8h-0.8zM479.0 246.9h0.8v0.8h-0.8zM476.3 243.2h0.8v0.8h-0.8zM474.4 247.8h0.8v0.8h-0.8zM493.9 258.4h0.8v0.8h-0.8zM469.0 265.8h0.8v0.8h-0.8zM478.9 233.9h0.8v0.8h-0.8zM466.9 247.1h0.8v0.8h-0.8zM482.0 240.4h0.8v0.8h-0.8zM472.9 244.1h0.8v0.8h-0.8zM482.3 251.7h0.8v0.8h-0.8zM474.8 248.1h0.8v0.8h-0.8zM483.3 252.8h0.8v0.8h-0.8zM466.9 259.3h0.8v0.8h-0.8zM469.5 244.2h0.8v0.8h-0.8zM475.9 241.8h0.8v0.8h-0.8zM473.2 252.9h0.8v0.8h-0.8zM486.9 248.9h0.8v0.8h-0.8zM468.8 240.5h0.8v0.8h-0.8zM479.5 249.3h0.8v0.8h-0.8zM475.1 243.6h0.8v0.8h-0.8zM503.0 246.4h0.8v0.8h-0.8zM473.4 259.9h0.8v0.8h-0.8zM487.4 235.7h0.8v0.8h-0.8zM486.9 247.4h0.8v0.8h-0.8zM473.0 252.7h0.8v0.8h-0.8zM474.7 243.3h0.8v0.8h-0.8zM480.2 247.7h0.8v0.8h-0.8zM476.2 248.5h0.8v0.8h-0.8zM480.0 247.6h0.8v0.8h-0.8zM483.4 240.4h0.8v0.8h-0.8zM468.0 245.3h0.8v0.8h-0.8zM490.8 248.7h0.8v0.8h-0.8zM482.0 239.6h0.8v0.8h-0.8zM470.0 235.3h0.8v0.8h-0.8zM472.0 242.7h0.8v0.8h-0.8zM466.5 244.9h0.8v0.8h-0.8zM466.3 251.5h0.8v0.8h-0.8zM479.8 230.8h0.8v0.8h-0.8zM475.2 247.9h0.8v0.8h-0.8zM483.3 252.5h0.8v0.8h-0.8zM476.9 244.7h0.8v0.8h-0.8zM478.0 250.6h0.8v0.8h-0.8zM474.0 244.5h0.8v0.8h-0.8zM481.3 242.9h0.8v0.8h-0.8zM470.6 257.5h0.8v0.8h-0.8zM484.4 238.1h0.8v0.8h-0.8zM497.2 239.4h0.8v0.8h-0.8zM472.4 242.8h0.8v0.8h-0.8zM484.7 258.7h0.8v0.8h-0.8zM492.0 250.6h0.8v0.8h-0.8zM480.6 251.6h0.8v0.8h-0.8zM473.2 239.9h0.8v0.8h-0.8zM484.6 247.6h0.8v0.8h-0.8zM482.1 237.2h0.8v0.8h-0.8zM482.2 233.6h0.8v0.8h-0.8zM488.1 246.0h0.8v0.8h-0.8zM474.4 241.9h0.8v0.8h-0.8zM504.2 272.7h0.8v0.8h-0.8zM473.9 257.6h0.8v0.8h-0.8zM454.7 255.6h0.8v0.8h-0.8zM480.2 248.1h0.8v0.8h-0.8zM471.7 234.7h0.8v0.8h-0.8zM482.1 242.1h0.8v0.8h-0.8zM484.4 255.0h0.8v0.8h-0.8zM479.0 250.5h0.8v0.8h-0.8zM481.5 247.9h0.8v0.8h-0.8zM475.5 248.0h0.8v0.8h-0.8zM483.8 246.6h0.8v0.8h-0.8zM476.1 233.4h0.8v0.8h-0.8zM470.7 259.3h0.8v0.8h-0.8zM488.8 248.4h0.8v0.8h-0.8zM482.6 244.6h0.8v0.8h-0.8zM485.9 254.1h0.8v0.8h-0.8zM477.9 248.6h0.8v0.8h-0.8zM488.3 232.4h0.8v0.8h-0.8zM471.9 241.0h0.8v0.8h-0.8zM469.9 242.2h0.8v0.8h-0.8zM472.7 242.5h0.8v0.8h-0.8zM484.2 235.8h0.8v0.8h-0.8zM480.9 257.7h0.8v0.8h-0.8zM481.7 235.4h0.8v0.8h-0.8zM474.8 255.9h0.8v0.8h-0.8zM477.7 240.5h0.8v0.8h-0.8zM486.8 239.8h0.8v0.8h-0.8zM470.3 251.2h0.8v0.8h-0.8zM480.2 240.4h0.8v0.8h-0.8zM484.1 255.4h0.8v0.8h-0.8zM489.4 246.8h0.8v0.8h-0.8zM484.0 250.2h0.8v0.8h-0.8zM467.1 260.2h0.8v0.8h-0.8zM474.3 241.1h0.8v0.8h-0.8zM472.9 237.7h0.8v0.8h-0.8zM489.5 246.0h0.8v0.8h-0.8zM475.0 230.3h0.8v0.8h-0.8zM481.5 245.5h0.8v0.8h-0.8zM471.1 245.1h0.8v0.8h-0.8zM464.2 251.5h0.8v0.8h-0.8zM469.5 250.2h0.8v0.8h-0.8zM470.3 240.3h0.8v0.8h-0.8zM486.9 251.0h0.8v0.8h-0.8zM485.5 260.3h0.8v0.8h-0.8zM477.5 241.6h0.8v0.8h-0.8zM463.8 237.1h0.8v0.8h-0.8zM484.9 238.7h0.8v0.8h-0.8zM472.5 254.1h0.8v0.8h-0.8zM458.7 257.9h0.8v0.8h-0.8zM491.2 230.6h0.8v0.8h-0.8zM484.1 245.8h0.8v0.8h-0.8zM487.9 243.0h0.8v0.8h-0.8zM479.0 258.0h0.8v0.8h-0.8zM474.9 249.5h0.8v0.8h-0.8zM485.5 245.0h0.8v0.8h-0.8zM487.6 250.4h0.8v0.8h-0.8zM487.2 231.3h0.8v0.8h-0.8zM471.1 248.5h0.8v0.8h-0.8zM490.1 258.2h0.8v0.8h-0.8zM480.2 239.5h0.8v0.8h-0.8zM475.7 250.9h0.8v0.8h-0.8zM479.4 233.3h0.8v0.8h-0.8zM479.2 246.4h0.8v0.8h-0.8zM473.6 258.4h0.8v0.8h-0.8zM483.8 255.4h0.8v0.8h-0.8zM480.9 237.6h0.8v0.8h-0.8zM489.4 255.4h0.8v0.8h-0.8zM475.0 234.5h0.8v0.8h-0.8zM487.1 241.1h0.8v0.8h-0.8zM470.0 245.2h0.8v0.8h-0.8zM484.8 239.5h0.8v0.8h-0.8zM480.3 254.5h0.8v0.8h-0.8zM486.5 232.6h0.8v0.8h-0.8zM486.2 261.2h0.8v0.8h-0.8zM488.0 245.2h0.8v0.8h-0.8zM483.2 232.4h0.8v0.8h-0.8zM475.0 241.5h0.8v0.8h-0.8zM498.0 246.0h0.8v0.8h-0.8zM471.6 260.4h0.8v0.8h-0.8zM490.7 231.8h0.8v0.8h-0.8zM478.3 231.4h0.8v0.8h-0.8zM496.1 236.9h0.8v0.8h-0.8zM471.0 264.1h0.8v0.8h-0.8zM484.7 249.0h0.8v0.8h-0.8zM487.4 237.4h0.8v0.8h-0.8zM487.6 243.5h0.8v0.8h-0.8zM484.5 247.9h0.8v0.8h-0.8zM492.0 234.9h0.8v0.8h-0.8zM468.0 251.5h0.8v0.8h-0.8zM500.4 250.6h0.8v0.8h-0.8zM478.6 251.7h0.8v0.8h-0.8zM469.6 246.7h0.8v0.8h-0.8zM465.6 247.0h0.8v0.8h-0.8zM486.3 260.5h0.8v0.8h-0.8zM475.7 253.9h0.8v0.8h-0.8zM491.6 237.0h0.8v0.8h-0.8zM472.5 249.7h0.8v0.8h-0.8zM462.6 243.4h0.8v0.8h-0.8zM486.3 258.3h0.8v0.8h-0.8zM458.5 249.3h0.8v0.8h-0.8zM471.3 251.0h0.8v0.8h-0.8zM479.9 252.0h0.8v0.8h-0.8zM477.4 251.6h0.8v0.8h-0.8zM471.6 237.6h0.8v0.8h-0.8zM478.6 230.9h0.8v0.8h-0.8zM490.7 243.8h0.8v0.8h-0.8zM471.6 238.5h0.8v0.8h-0.8zM471.7 247.0h0.8v0.8h-0.8zM476.9 253.4h0.8v0.8h-0.8zM470.1 245.3h0.8v0.8h-0.8zM467.1 241.9h0.8v0.8h-0.8zM491.7 244.9h0.8v0.8h-0.8zM487.7 245.4h0.8v0.8h-0.8zM470.6 238.4h0.8v0.8h-0.8zM470.3 248.9h0.8v0.8h-0.8zM482.0 271.2h0.8v0.8h-0.8zM494.4 253.2h0.8v0.8h-0.8zM471.6 246.9h0.8v0.8h-0.8zM472.2 266.2h0.8v0.8h-0.8zM473.8 256.0h0.8v0.8h-0.8zM468.4 252.5h0.8v0.8h-0.8zM469.5 241.9h0.8v0.8h-0.8zM481.5 247.1h0.8v0.8h-0.8zM479.5 245.4h0.8v0.8h-0.8zM472.6 245.0h0.8v0.8h-0.8zM479.4 237.9h0.8v0.8h-0.8zM484.9 247.4h0.8v0.8h-0.8zM473.5 257.2h0.8v0.8h-0.8zM490.9 242.7h0.8v0.8h-0.8zM492.6 249.7h0.8v0.8h-0.8zM472.4 255.6h0.8v0.8h-0.8zM484.0 253.9h0.8v0.8h-0.8zM480.4 259.4h0.8v0.8h-0.8zM488.0 243.0h0.8v0.8h-0.8zM467.1 245.6h0.8v0.8h-0.8zM480.6 237.4h0.8v0.8h-0.8zM478.4 258.9h0.8v0.8h-0.8zM475.9 255.7h0.8v0.8h-0.8zM472.0 237.5h0.8v0.8h-0.8zM488.1 244.5h0.8v0.8h-0.8zM481.9 254.8h0.8v0.8h-0.8zM494.0 235.2h0.8v0.8h-0.8zM485.0 247.9h0.8v0.8h-0.8zM481.2 261.4h0.8v0.8h-0.8zM477.9 240.8h0.8v0.8h-0.8zM483.2 238.2h0.8v0.8h-0.8zM482.8 239.5h0.8v0.8h-0.8zM484.4 243.8h0.8v0.8h-0.8zM473.8 250.6h0.8v0.8h-0.8zM486.4 232.0h0.8v0.8h-0.8zM468.9 243.6h0.8v0.8h-0.8zM476.7 257.4h0.8v0.8h-0.8zM493.6 250.1h0.8v0.8h-0.8zM489.4 243.1h0.8v0.8h-0.8zM468.2 248.5h0.8v0.8h-0.8zM464.8 260.0h0.8v0.8h-0.8zM482.2 256.0h0.8v0.8h-0.8zM474.5 231.9h0.8v0.8h-0.8zM478.2 250.2h0.8v0.8h-0.8zM478.1 241.5h0.8v0.8h-0.8zM480.6 244.3h0.8v0.8h-0.8zM492.0 234.6h0.8v0.8h-0.8zM460.9 245.1h0.8v0.8h-0.8zM482.3 232.6h0.8v0.8h-0.8zM479.6 249.7h0.8v0.8h-0.8zM482.9 248.5h0.8v0.8h-0.8zM473.5 233.4h0.8v0.8h-0.8zM488.2 242.9h0.8v0.8h-0.8zM468.2 259.4h0.8v0.8h-0.8zM502.2 247.2h0.8v0.8h-0.8zM466.1 254.2h0.8v0.8h-0.8zM482.8 256.7h0.8v0.8h-0.8zM480.1 231.5h0.8v0.8h-0.8zM478.5 242.2h0.8v0.8h-0.8zM482.5 244.3h0.8v0.8h-0.8zM484.8 235.3h0.8v0.8h-0.8zM475.2 241.4h0.8v0.8h-0.8zM483.5 231.1h0.8v0.8h-0.8zM480.0 266.6h0.8v0.8h-0.8zM464.5 254.9h0.8v0.8h-0.8zM480.8 254.5h0.8v0.8h-0.8zM480.4 248.2h0.8v0.8h-0.8zM483.1 249.9h0.8v0.8h-0.8zM469.6 244.8h0.8v0.8h-0.8zM495.7 258.2h0.8v0.8h-0.8zM472.7 237.7h0.8v0.8h-0.8zM478.5 255.1h0.8v0.8h-0.8zM487.8 240.8h0.8v0.8h-0.8zM459.5 245.5h0.8v0.8h-0.8zM465.6 256.3h0.8v0.8h-0.8zM492.7 251.7h0.8v0.8h-0.8zM485.1 250.8h0.8v0.8h-0.8zM495.8 255.3h0.8v0.8h-0.8zM492.4 235.9h0.8v0.8h-0.8zM475.5 245.9h0.8v0.8h-0.8zM460.7 243.4h0.8v0.8h-0.8zM479.8 245.3h0.8v0.8h-0.8zM501.7 244.1h0.8v0.8h-0.8zM478.2 244.8h0.8v0.8h-0.8zM477.0 233.6h0.8v0.8h-0.8zM489.6 246.1h0.8v0.8h-0.8zM483.0 246.2h0.8v0.8h-0.8zM473.2 232.0h0.8v0.8h-0.8zM477.5 250.5h0.8v0.8h-0.8zM478.9 252.3h0.8v0.8h-0.8zM473.1 243.3h0.8v0.8h-0.8zM481.2 245.0h0.8v0.8h-0.8zM481.4 258.3h0.8v0.8h-0.8zM476.3 247.1h0.8v0.8h-0.8zM474.3 250.6h0.8v0.8h-0.8zM481.9 239.5h0.8v0.8h-0.8zM471.2 235.5h0.8v0.8h-0.8zM477.5 247.2h0.8v0.8h-0.8zM475.6 244.9h0.8v0.8h-0.8zM481.1 266.3h0.8v0.8h-0.8zM490.1 266.0h0.8v0.8h-0.8zM481.1 247.8h0.8v0.8h-0.8zM496.7 249.2h0.8v0.8h-0.8zM485.6 241.5h0.8v0.8h-0.8zM475.2 252.6h0.8v0.8h-0.8zM474.7 240.1h0.8v0.8h-0.8zM467.0 248.4h0.8v0.8h-0.8zM479.1 250.6h0.8v0.8h-0.8zM472.4 235.1h0.8v0.8h-0.8zM489.4 246.1h0.8v0.8h-0.8zM486.7 235.9h0.8v0.8h-0.8zM482.5 254.5h0.8v0.8h-0.8zM491.4 261.3h0.8v0.8h-0.8zM464.2 236.4h0.8v0.8h-0.8zM475.3 239.0h0.8v0.8h-0.8zM478.1 238.9h0.8v0.8h-0.8zM467.2 245.5h0.8v0.8h-0.8zM481.0 239.2h0.8v0.8h-0.8zM480.2 234.6h0.8v0.8h-0.8zM477.0 243.0h0.8v0.8h-0.8zM475.9 245.2h0.8v0.8h-0.8zM468.9 234.2h0.8v0.8h-0.8zM472.7 252.3h0.8v0.8h-0.8zM471.7 237.7h0.8v0.8h-0.8zM497.0 243.6h0.8v0.8h-0.8zM476.6 238.2h0.8v0.8h-0.8zM492.6 250.4h0.8v0.8h-0.8zM482.1 259.7h0.8v0.8h-0.8zM469.6 231.2h0.8v0.8h-0.8zM489.5 249.6h0.8v0.8h-0.8zM475.4 252.8h0.8v0.8h-0.8zM479.1 262.9h0.8v0.8h-0.8zM468.9 249.0h0.8v0.8h-0.8zM488.3 253.6h0.8v0.8h-0.8zM476.7 242.4h0.8v0.8h-0.8zM476.1 251.9h0.8v0.8h-0.8zM476.4 244.7h0.8v0.8h-0.8zM488.7 244.9h0.8v0.8h-0.8zM482.0 244.8h0.8v0.8h-0.8zM471.7 249.1h0.8v0.8h-0.8zM474.3 240.5h0.8v0.8h-0.8zM480.3 265.8h0.8v0.8h-0.8zM473.3 237.6h0.8v0.8h-0.8zM464.3 249.9h0.8v0.8h-0.8zM466.5 245.6h0.8v0.8h-0.8zM464.5 261.4h0.8v0.8h-0.8zM472.7 256.1h0.8v0.8h-0.8zM473.5 261.7h0.8v0.8h-0.8zM464.2 259.8h0.8v0.8h-0.8zM467.8 259.5h0.8v0.8h-0.8zM468.5 271.4h0.8v0.8h-0.8zM459.6 256.0h0.8v0.8h-0.8zM460.6 273.1h0.8v0.8h-0.8zM463.9 249.7h0.8v0.8h-0.8zM466.7 252.5h0.8v0.8h-0.8zM476.7 252.4h0.8v0.8h-0.8zM468.3 262.1h0.8v0.8h-0.8zM475.6 244.5h0.8v0.8h-0.8zM468.6 241.3h0.8v0.8h-0.8zM469.7 265.2h0.8v0.8h-0.8zM463.8 250.4h0.8v0.8h-0.8zM473.7 256.7h0.8v0.8h-0.8zM471.5 248.9h0.8v0.8h-0.8zM465.0 249.6h0.8v0.8h-0.8zM475.9 239.8h0.8v0.8h-0.8zM463.9 266.5h0.8v0.8h-0.8zM466.4 243.3h0.8v0.8h-0.8zM468.2 251.0h0.8v0.8h-0.8zM466.1 257.2h0.8v0.8h-0.8zM471.4 239.8h0.8v0.8h-0.8zM468.0 265.9h0.8v0.8h-0.8zM459.1 252.0h0.8v0.8h-0.8zM460.1 258.7h0.8v0.8h-0.8zM462.0 249.9h0.8v0.8h-0.8zM464.5 256.8h0.8v0.8h-0.8zM459.3 240.6h0.8v0.8h-0.8zM467.9 264.7h0.8v0.8h-0.8zM463.9 256.5h0.8v0.8h-0.8zM468.4 253.8h0.8v0.8h-0.8zM466.7 248.0h0.8v0.8h-0.8zM465.4 263.4h0.8v0.8h-0.8zM469.4 264.1h0.8v0.8h-0.8zM462.6 253.9h0.8v0.8h-0.8zM463.1 241.3h0.8v0.8h-0.8zM472.0 250.4h0.8v0.8h-0.8zM468.2 240.4h0.8v0.8h-0.8zM465.4 251.8h0.8v0.8h-0.8zM464.6 261.8h0.8v0.8h-0.8zM469.5 254.0h0.8v0.8h-0.8zM468.2 248.9h0.8v0.8h-0.8zM462.7 250.4h0.8v0.8h-0.8zM460.9 251.4h0.8v0.8h-0.8zM466.2 262.7h0.8v0.8h-0.8zM464.3 274.2h0.8v0.8h-0.8zM463.8 254.0h0.8v0.8h-0.8zM466.7 247.5h0.8v0.8h-0.8zM466.5 237.3h0.8v0.8h-0.8zM473.3 247.8h0.8v0.8h-0.8zM466.7 236.9h0.8v0.8h-0.8zM470.1 241.6h0.8v0.8h-0.8zM474.7 243.7h0.8v0.8h-0.8zM462.6 258.7h0.8v0.8h-0.8zM474.2 235.5h0.8v0.8h-0.8zM457.1 267.1h0.8v0.8h-0.8zM469.4 239.5h0.8v0.8h-0.8zM464.3 259.0h0.8v0.8h-0.8zM464.6 266.1h0.8v0.8h-0.8zM462.7 254.3h0.8v0.8h-0.8zM473.5 265.9h0.8v0.8h-0.8zM468.2 258.0h0.8v0.8h-0.8zM464.9 252.3h0.8v0.8h-0.8zM463.5 256.3h0.8v0.8h-0.8zM471.7 244.0h0.8v0.8h-0.8zM460.1 253.2h0.8v0.8h-0.8zM478.3 254.8h0.8v0.8h-0.8zM467.6 252.5h0.8v0.8h-0.8zM457.2 246.6h0.8v0.8h-0.8zM475.5 234.3h0.8v0.8h-0.8zM477.1 242.3h0.8v0.8h-0.8zM478.5 276.0h0.8v0.8h-0.8zM475.4 251.6h0.8v0.8h-0.8zM470.2 248.0h0.8v0.8h-0.8zM464.2 254.6h0.8v0.8h-0.8zM448.7 257.8h0.8v0.8h-0.8zM465.0 243.3h0.8v0.8h-0.8zM465.2 258.6h0.8v0.8h-0.8zM462.4 256.0h0.8v0.8h-0.8zM459.1 253.7h0.8v0.8h-0.8zM460.2 259.6h0.8v0.8h-0.8zM460.8 258.3h0.8v0.8h-0.8zM455.4 254.4h0.8v0.8h-0.8zM473.1 245.5h0.8v0.8h-0.8zM467.1 245.2h0.8v0.8h-0.8zM469.6 259.5h0.8v0.8h-0.8zM473.4 264.6h0.8v0.8h-0.8zM474.3 246.4h0.8v0.8h-0.8zM467.5 257.5h0.8v0.8h-0.8zM467.9 241.2h0.8v0.8h-0.8zM478.4 275.4h0.8v0.8h-0.8zM477.3 251.2h0.8v0.8h-0.8zM479.8 243.6h0.8v0.8h-0.8zM469.8 259.9h0.8v0.8h-0.8zM458.5 249.9h0.8v0.8h-0.8zM469.6 258.7h0.8v0.8h-0.8zM453.1 256.1h0.8v0.8h-0.8zM476.0 239.2h0.8v0.8h-0.8zM469.1 261.1h0.8v0.8h-0.8zM461.2 238.7h0.8v0.8h-0.8zM468.3 248.9h0.8v0.8h-0.8zM466.2 251.0h0.8v0.8h-0.8zM466.1 255.6h0.8v0.8h-0.8zM463.7 252.5h0.8v0.8h-0.8zM463.5 245.1h0.8v0.8h-0.8zM468.8 245.4h0.8v0.8h-0.8zM469.9 252.6h0.8v0.8h-0.8zM473.0 258.1h0.8v0.8h-0.8zM455.3 252.6h0.8v0.8h-0.8zM470.6 253.8h0.8v0.8h-0.8zM467.0 262.4h0.8v0.8h-0.8zM470.7 240.9h0.8v0.8h-0.8zM467.3 261.7h0.8v0.8h-0.8zM467.7 241.4h0.8v0.8h-0.8zM471.3 258.2h0.8v0.8h-0.8zM473.4 254.4h0.8v0.8h-0.8zM467.4 260.4h0.8v0.8h-0.8zM460.5 268.1h0.8v0.8h-0.8zM469.1 254.8h0.8v0.8h-0.8zM471.1 259.8h0.8v0.8h-0.8zM454.1 261.1h0.8v0.8h-0.8zM466.2 245.8h0.8v0.8h-0.8zM472.0 261.2h0.8v0.8h-0.8zM469.0 247.3h0.8v0.8h-0.8zM467.4 244.3h0.8v0.8h-0.8zM481.3 246.9h0.8v0.8h-0.8zM471.8 267.3h0.8v0.8h-0.8zM461.8 248.0h0.8v0.8h-0.8zM453.9 250.6h0.8v0.8h-0.8zM459.2 254.2h0.8v0.8h-0.8zM465.5 252.9h0.8v0.8h-0.8zM467.0 248.6h0.8v0.8h-0.8zM467.4 252.2h0.8v0.8h-0.8zM462.7 250.0h0.8v0.8h-0.8zM463.5 241.3h0.8v0.8h-0.8zM466.6 236.2h0.8v0.8h-0.8zM469.8 252.5h0.8v0.8h-0.8zM467.7 263.1h0.8v0.8h-0.8zM472.3 248.9h0.8v0.8h-0.8zM468.8 263.4h0.8v0.8h-0.8zM465.9 256.2h0.8v0.8h-0.8zM469.2 243.6h0.8v0.8h-0.8zM468.4 249.3h0.8v0.8h-0.8zM465.3 256.7h0.8v0.8h-0.8zM470.5 244.8h0.8v0.8h-0.8zM465.3 251.1h0.8v0.8h-0.8zM461.3 256.1h0.8v0.8h-0.8zM465.6 246.5h0.8v0.8h-0.8zM472.2 252.1h0.8v0.8h-0.8zM460.1 252.0h0.8v0.8h-0.8zM465.7 255.4h0.8v0.8h-0.8zM479.7 257.7h0.8v0.8h-0.8zM475.1 251.3h0.8v0.8h-0.8zM469.5 257.2h0.8v0.8h-0.8zM466.2 255.0h0.8v0.8h-0.8zM464.2 259.0h0.8v0.8h-0.8zM461.6 268.1h0.8v0.8h-0.8zM445.4 240.5h0.8v0.8h-0.8zM466.0 256.1h0.8v0.8h-0.8zM467.6 238.4h0.8v0.8h-0.8zM469.2 244.9h0.8v0.8h-0.8zM467.9 249.1h0.8v0.8h-0.8zM465.2 239.2h0.8v0.8h-0.8zM459.3 247.8h0.8v0.8h-0.8zM460.7 255.0h0.8v0.8h-0.8zM458.7 254.8h0.8v0.8h-0.8zM469.9 246.2h0.8v0.8h-0.8zM461.3 249.7h0.8v0.8h-0.8zM471.3 265.2h0.8v0.8h-0.8zM479.2 253.6h0.8v0.8h-0.8zM470.3 254.5h0.8v0.8h-0.8zM466.7 243.2h0.8v0.8h-0.8zM464.7 262.8h0.8v0.8h-0.8zM474.7 247.4h0.8v0.8h-0.8zM457.5 269.7h0.8v0.8h-0.8zM466.9 256.9h0.8v0.8h-0.8zM465.8 236.7h0.8v0.8h-0.8zM468.6 244.2h0.8v0.8h-0.8zM465.1 247.2h0.8v0.8h-0.8zM465.3 274.2h0.8v0.8h-0.8zM475.4 235.4h0.8v0.8h-0.8zM457.9 248.3h0.8v0.8h-0.8zM462.9 259.7h0.8v0.8h-0.8zM475.8 246.3h0.8v0.8h-0.8zM470.0 250.9h0.8v0.8h-0.8zM455.4 263.3h0.8v0.8h-0.8zM476.8 245.5h0.8v0.8h-0.8zM470.4 248.2h0.8v0.8h-0.8zM466.2 248.7h0.8v0.8h-0.8zM466.0 253.2h0.8v0.8h-0.8zM463.3 255.3h0.8v0.8h-0.8zM459.3 260.1h0.8v0.8h-0.8zM461.3 236.2h0.8v0.8h-0.8zM471.5 249.7h0.8v0.8h-0.8zM463.7 261.0h0.8v0.8h-0.8zM466.6 270.2h0.8v0.8h-0.8zM469.2 240.0h0.8v0.8h-0.8zM463.9 246.8h0.8v0.8h-0.8zM465.1 267.8h0.8v0.8h-0.8zM482.4 268.1h0.8v0.8h-0.8zM469.4 257.7h0.8v0.8h-0.8zM467.7 233.1h0.8v0.8h-0.8zM474.8 270.6h0.8v0.8h-0.8zM463.8 252.6h0.8v0.8h-0.8zM462.7 251.0h0.8v0.8h-0.8zM461.8 242.7h0.8v0.8h-0.8zM473.7 235.4h0.8v0.8h-0.8zM472.7 242.6h0.8v0.8h-0.8zM465.3 234.9h0.8v0.8h-0.8zM470.5 243.9h0.8v0.8h-0.8zM481.1 244.5h0.8v0.8h-0.8zM468.2 258.7h0.8v0.8h-0.8zM461.2 245.4h0.8v0.8h-0.8zM460.6 257.8h0.8v0.8h-0.8zM468.5 261.9h0.8v0.8h-0.8zM458.5 244.5h0.8v0.8h-0.8zM466.1 248.8h0.8v0.8h-0.8zM468.6 262.9h0.8v0.8h-0.8zM467.5 245.7h0.8v0.8h-0.8zM466.5 246.4h0.8v0.8h-0.8zM463.0 269.4h0.8v0.8h-0.8zM470.7 269.1h0.8v0.8h-0.8zM465.6 252.2h0.8v0.8h-0.8zM459.5 254.9h0.8v0.8h-0.8zM471.0 259.0h0.8v0.8h-0.8zM460.1 253.8h0.8v0.8h-0.8zM472.1 248.6h0.8v0.8h-0.8zM470.8 248.3h0.8v0.8h-0.8zM466.7 247.6h0.8v0.8h-0.8zM458.2 245.4h0.8v0.8h-0.8zM467.8 250.3h0.8v0.8h-0.8zM466.7 247.6h0.8v0.8h-0.8zM471.8 251.2h0.8v0.8h-0.8zM469.0 248.6h0.8v0.8h-0.8zM474.3 251.9h0.8v0.8h-0.8zM469.3 272.5h0.8v0.8h-0.8zM469.3 238.9h0.8v0.8h-0.8zM462.9 255.7h0.8v0.8h-0.8zM459.2 239.6h0.8v0.8h-0.8zM466.1 238.7h0.8v0.8h-0.8zM473.0 256.7h0.8v0.8h-0.8zM465.0 263.6h0.8v0.8h-0.8zM462.9 242.2h0.8v0.8h-0.8zM472.0 253.0h0.8v0.8h-0.8zM465.5 262.0h0.8v0.8h-0.8zM466.0 258.6h0.8v0.8h-0.8zM468.0 263.2h0.8v0.8h-0.8zM469.9 248.6h0.8v0.8h-0.8zM475.4 249.6h0.8v0.8h-0.8zM476.8 241.5h0.8v0.8h-0.8zM467.1 232.8h0.8v0.8h-0.8zM469.8 264.8h0.8v0.8h-0.8zM464.5 257.0h0.8v0.8h-0.8zM465.5 265.7h0.8v0.8h-0.8zM468.7 256.0h0.8v0.8h-0.8zM473.1 239.2h0.8v0.8h-0.8zM470.8 254.0h0.8v0.8h-0.8zM474.2 253.1h0.8v0.8h-0.8zM470.3 252.3h0.8v0.8h-0.8zM461.1 248.3h0.8v0.8h-0.8zM465.8 241.0h0.8v0.8h-0.8zM466.5 248.6h0.8v0.8h-0.8zM477.3 250.7h0.8v0.8h-0.8zM467.5 253.7h0.8v0.8h-0.8zM470.8 238.5h0.8v0.8h-0.8zM456.8 267.0h0.8v0.8h-0.8zM462.0 244.9h0.8v0.8h-0.8zM473.5 255.5h0.8v0.8h-0.8zM462.2 259.5h0.8v0.8h-0.8zM460.3 267.3h0.8v0.8h-0.8zM465.0 255.8h0.8v0.8h-0.8zM466.8 270.0h0.8v0.8h-0.8zM461.3 252.0h0.8v0.8h-0.8zM479.1 234.6h0.8v0.8h-0.8zM464.0 255.3h0.8v0.8h-0.8zM465.6 256.8h0.8v0.8h-0.8zM473.5 242.7h0.8v0.8h-0.8zM463.1 264.6h0.8v0.8h-0.8zM469.9 261.7h0.8v0.8h-0.8zM462.9 245.1h0.8v0.8h-0.8zM460.3 251.1h0.8v0.8h-0.8zM460.2 259.2h0.8v0.8h-0.8zM462.9 257.5h0.8v0.8h-0.8zM457.8 260.7h0.8v0.8h-0.8zM470.7 261.3h0.8v0.8h-0.8zM468.4 273.4h0.8v0.8h-0.8zM472.4 253.3h0.8v0.8h-0.8zM476.1 249.7h0.8v0.8h-0.8zM467.7 267.5h0.8v0.8h-0.8zM464.2 252.8h0.8v0.8h-0.8zM468.3 254.5h0.8v0.8h-0.8zM465.5 261.9h0.8v0.8h-0.8zM479.2 249.4h0.8v0.8h-0.8zM458.4 248.7h0.8v0.8h-0.8zM458.9 241.5h0.8v0.8h-0.8zM460.9 262.3h0.8v0.8h-0.8zM467.7 259.2h0.8v0.8h-0.8zM466.2 262.0h0.8v0.8h-0.8zM464.5 264.5h0.8v0.8h-0.8zM471.9 254.8h0.8v0.8h-0.8zM458.4 243.0h0.8v0.8h-0.8zM468.3 243.6h0.8v0.8h-0.8zM465.9 251.4h0.8v0.8h-0.8zM474.8 246.8h0.8v0.8h-0.8zM467.6 248.7h0.8v0.8h-0.8zM462.5 256.8h0.8v0.8h-0.8zM472.4 240.1h0.8v0.8h-0.8zM475.5 272.7h0.8v0.8h-0.8zM467.7 257.5h0.8v0.8h-0.8zM460.9 249.3h0.8v0.8h-0.8zM468.6 252.1h0.8v0.8h-0.8zM474.8 245.0h0.8v0.8h-0.8zM465.4 257.6h0.8v0.8h-0.8zM466.4 250.7h0.8v0.8h-0.8zM466.2 256.5h0.8v0.8h-0.8zM455.8 276.0h0.8v0.8h-0.8zM471.1 243.5h0.8v0.8h-0.8zM461.7 242.8h0.8v0.8h-0.8zM469.4 236.3h0.8v0.8h-0.8zM480.9 248.0h0.8v0.8h-0.8zM458.8 271.2h0.8v0.8h-0.8zM466.8 257.3h0.8v0.8h-0.8zM465.8 250.6h0.8v0.8h-0.8zM478.7 235.3h0.8v0.8h-0.8zM468.3 246.3h0.8v0.8h-0.8zM464.9 252.3h0.8v0.8h-0.8zM456.3 258.4h0.8v0.8h-0.8zM468.0 257.8h0.8v0.8h-0.8zM463.4 259.5h0.8v0.8h-0.8zM464.2 259.7h0.8v0.8h-0.8zM474.6 258.4h0.8v0.8h-0.8zM458.6 253.5h0.8v0.8h-0.8zM460.9 270.2h0.8v0.8h-0.8zM468.0 241.5h0.8v0.8h-0.8zM458.1 264.6h0.8v0.8h-0.8zM461.1 256.5h0.8v0.8h-0.8zM465.0 251.6h0.8v0.8h-0.8zM464.3 252.9h0.8v0.8h-0.8zM476.1 245.1h0.8v0.8h-0.8zM469.8 257.1h0.8v0.8h-0.8zM463.0 243.2h0.8v0.8h-0.8zM461.8 258.0h0.8v0.8h-0.8zM467.8 262.0h0.8v0.8h-0.8zM469.0 253.9h0.8v0.8h-0.8zM467.0 254.9h0.8v0.8h-0.8zM467.1 258.8h0.8v0.8h-0.8zM461.9 262.4h0.8v0.8h-0.8zM476.2 252.1h0.8v0.8h-0.8zM470.1 242.4h0.8v0.8h-0.8zM467.5 240.2h0.8v0.8h-0.8zM472.6 253.3h0.8v0.8h-0.8zM473.1 262.9h0.8v0.8h-0.8zM462.7 260.1h0.8v0.8h-0.8zM475.8 272.5h0.8v0.8h-0.8zM466.3 257.7h0.8v0.8h-0.8zM463.2 258.5h0.8v0.8h-0.8zM470.3 265.7h0.8v0.8h-0.8zM466.0 253.4h0.8v0.8h-0.8zM469.7 251.4h0.8v0.8h-0.8zM478.8 233.3h0.8v0.8h-0.8zM457.1 248.4h0.8v0.8h-0.8zM470.9 253.1h0.8v0.8h-0.8zM469.3 239.5h0.8v0.8h-0.8zM470.3 257.7h0.8v0.8h-0.8zM476.3 260.2h0.8v0.8h-0.8zM463.3 246.4h0.8v0.8h-0.8zM460.4 248.6h0.8v0.8h-0.8zM466.3 264.0h0.8v0.8h-0.8zM476.4 253.5h0.8v0.8h-0.8zM470.3 251.4h0.8v0.8h-0.8zM459.4 257.6h0.8v0.8h-0.8zM462.7 238.7h0.8v0.8h-0.8zM462.1 266.1h0.8v0.8h-0.8zM460.2 264.9h0.8v0.8h-0.8zM459.0 252.3h0.8v0.8h-0.8zM469.8 249.4h0.8v0.8h-0.8zM461.3 252.9h0.8v0.8h-0.8zM476.5 258.7h0.8v0.8h-0.8zM468.0 258.0h0.8v0.8h-0.8zM473.7 264.6h0.8v0.8h-0.8zM465.3 245.1h0.8v0.8h-0.8zM461.2 253.5h0.8v0.8h-0.8zM465.2 253.0h0.8v0.8h-0.8zM463.3 274.9h0.8v0.8h-0.8zM462.9 265.5h0.8v0.8h-0.8zM461.9 246.0h0.8v0.8h-0.8zM460.1 243.3h0.8v0.8h-0.8zM457.5 245.6h0.8v0.8h-0.8zM465.5 259.0h0.8v0.8h-0.8zM456.6 256.8h0.8v0.8h-0.8zM466.2 252.9h0.8v0.8h-0.8zM454.4 257.2h0.8v0.8h-0.8zM470.7 263.0h0.8v0.8h-0.8zM465.2 263.8h0.8v0.8h-0.8zM467.3 244.8h0.8v0.8h-0.8zM469.9 261.5h0.8v0.8h-0.8zM468.2 252.6h0.8v0.8h-0.8zM465.5 258.8h0.8v0.8h-0.8zM456.5 255.6h0.8v0.8h-0.8zM459.5 248.3h0.8v0.8h-0.8zM468.1 263.8h0.8v0.8h-0.8zM466.8 244.8h0.8v0.8h-0.8zM482.6 255.7h0.8v0.8h-0.8zM451.3 252.1h0.8v0.8h-0.8zM462.6 247.6h0.8v0.8h-0.8zM473.0 271.7h0.8v0.8h-0.8zM467.5 241.1h0.8v0.8h-0.8zM471.9 253.7h0.8v0.8h-0.8zM464.5 254.7h0.8v0.8h-0.8zM460.2 254.6h0.8v0.8h-0.8zM468.9 263.4h0.8v0.8h-0.8zM478.5 247.4h0.8v0.8h-0.8zM469.1 246.0h0.8v0.8h-0.8zM467.6 263.1h0.8v0.8h-0.8zM470.6 250.3h0.8v0.8h-0.8zM477.3 260.8h0.8v0.8h-0.8zM474.0 253.6h0.8v0.8h-0.8zM474.6 251.6h0.8v0.8h-0.8zM471.9 253.3h0.8v0.8h-0.8zM466.9 239.3h0.8v0.8h-0.8zM472.6 258.0h0.8v0.8h-0.8zM463.3 253.5h0.8v0.8h-0.8zM470.4 258.5h0.8v0.8h-0.8zM454.9 266.0h0.8v0.8h-0.8zM460.9 269.7h0.8v0.8h-0.8zM473.5 254.2h0.8v0.8h-0.8zM468.1 255.4h0.8v0.8h-0.8zM464.5 266.3h0.8v0.8h-0.8zM463.0 248.2h0.8v0.8h-0.8zM465.5 238.9h0.8v0.8h-0.8zM472.9 242.5h0.8v0.8h-0.8zM475.7 261.3h0.8v0.8h-0.8zM478.7 247.7h0.8v0.8h-0.8zM465.1 249.0h0.8v0.8h-0.8zM471.5 245.0h0.8v0.8h-0.8zM465.0 232.5h0.8v0.8h-0.8zM467.2 254.8h0.8v0.8h-0.8zM478.5 245.5h0.8v0.8h-0.8zM472.5 258.0h0.8v0.8h-0.8zM472.0 243.2h0.8v0.8h-0.8zM446.6 248.6h0.8v0.8h-0.8zM472.5 254.4h0.8v0.8h-0.8zM475.4 272.0h0.8v0.8h-0.8zM478.1 270.7h0.8v0.8h-0.8zM499.9 260.8h0.8v0.8h-0.8zM460.4 276.1h0.8v0.8h-0.8zM488.2 285.8h0.8v0.8h-0.8zM492.1 273.6h0.8v0.8h-0.8zM479.4 259.5h0.8v0.8h-0.8zM490.1 269.1h0.8v0.8h-0.8zM481.2 276.5h0.8v0.8h-0.8zM465.0 273.2h0.8v0.8h-0.8zM478.9 289.6h0.8v0.8h-0.8zM483.8 282.8h0.8v0.8h-0.8zM475.2 261.4h0.8v0.8h-0.8zM493.6 271.2h0.8v0.8h-0.8zM471.8 282.4h0.8v0.8h-0.8zM489.9 260.3h0.8v0.8h-0.8zM482.7 289.7h0.8v0.8h-0.8zM486.0 263.2h0.8v0.8h-0.8zM476.7 284.9h0.8v0.8h-0.8zM499.7 279.4h0.8v0.8h-0.8zM470.1 280.5h0.8v0.8h-0.8zM476.8 269.9h0.8v0.8h-0.8zM480.0 282.5h0.8v0.8h-0.8zM490.0 278.5h0.8v0.8h-0.8zM480.6 269.8h0.8v0.8h-0.8zM495.6 269.1h0.8v0.8h-0.8zM482.2 278.3h0.8v0.8h-0.8zM483.2 281.8h0.8v0.8h-0.8zM490.5 279.0h0.8v0.8h-0.8zM507.8 269.6h0.8v0.8h-0.8zM505.6 263.7h0.8v0.8h-0.8zM477.2 254.0h0.8v0.8h-0.8zM478.3 267.5h0.8v0.8h-0.8zM491.9 284.0h0.8v0.8h-0.8zM507.9 269.7h0.8v0.8h-0.8zM495.5 272.4h0.8v0.8h-0.8zM466.7 240.6h0.8v0.8h-0.8zM481.4 258.4h0.8v0.8h-0.8zM493.6 266.4h0.8v0.8h-0.8zM491.4 268.5h0.8v0.8h-0.8zM489.7 266.3h0.8v0.8h-0.8zM488.9 288.5h0.8v0.8h-0.8zM488.6 262.9h0.8v0.8h-0.8zM477.2 275.0h0.8v0.8h-0.8zM493.0 264.0h0.8v0.8h-0.8zM475.9 260.9h0.8v0.8h-0.8zM502.4 276.2h0.8v0.8h-0.8zM488.2 270.4h0.8v0.8h-0.8zM504.0 278.5h0.8v0.8h-0.8zM484.0 283.7h0.8v0.8h-0.8zM490.8 271.6h0.8v0.8h-0.8zM481.3 273.9h0.8v0.8h-0.8zM498.7 262.4h0.8v0.8h-0.8zM468.5 279.4h0.8v0.8h-0.8zM495.4 285.6h0.8v0.8h-0.8zM490.7 261.8h0.8v0.8h-0.8zM493.1 275.3h0.8v0.8h-0.8zM474.9 261.0h0.8v0.8h-0.8zM469.6 274.4h0.8v0.8h-0.8zM472.1 276.8h0.8v0.8h-0.8zM483.4 279.1h0.8v0.8h-0.8zM493.6 266.5h0.8v0.8h-0.8zM481.2 279.9h0.8v0.8h-0.8zM478.6 282.1h0.8v0.8h-0.8zM490.9 281.2h0.8v0.8h-0.8zM479.0 280.2h0.8v0.8h-0.8zM482.8 275.7h0.8v0.8h-0.8zM491.2 269.3h0.8v0.8h-0.8zM484.5 254.6h0.8v0.8h-0.8zM478.1 278.9h0.8v0.8h-0.8zM474.2 256.7h0.8v0.8h-0.8zM470.7 271.5h0.8v0.8h-0.8zM491.6 278.2h0.8v0.8h-0.8zM470.9 277.1h0.8v0.8h-0.8zM472.8 282.7h0.8v0.8h-0.8zM488.8 268.7h0.8v0.8h-0.8zM480.3 273.2h0.8v0.8h-0.8zM479.2 283.3h0.8v0.8h-0.8zM487.9 269.2h0.8v0.8h-0.8zM489.4 262.7h0.8v0.8h-0.8zM486.5 271.2h0.8v0.8h-0.8zM479.3 273.4h0.8v0.8h-0.8zM487.2 262.0h0.8v0.8h-0.8zM488.5 297.9h0.8v0.8h-0.8zM492.8 269.0h0.8v0.8h-0.8zM488.5 287.3h0.8v0.8h-0.8zM474.3 287.3h0.8v0.8h-0.8zM481.4 289.3h0.8v0.8h-0.8zM476.8 282.4h0.8v0.8h-0.8zM479.3 284.1h0.8v0.8h-0.8zM493.7 276.6h0.8v0.8h-0.8zM476.8 282.4h0.8v0.8h-0.8zM488.6 265.0h0.8v0.8h-0.8zM490.4 272.5h0.8v0.8h-0.8zM483.8 265.8h0.8v0.8h-0.8zM487.0 280.9h0.8v0.8h-0.8zM476.7 280.4h0.8v0.8h-0.8zM467.2 274.7h0.8v0.8h-0.8zM487.5 266.1h0.8v0.8h-0.8zM486.5 263.1h0.8v0.8h-0.8zM503.2 277.1h0.8v0.8h-0.8zM495.5 266.3h0.8v0.8h-0.8zM463.0 273.1h0.8v0.8h-0.8zM498.0 272.5h0.8v0.8h-0.8zM496.2 277.1h0.8v0.8h-0.8zM488.1 282.4h0.8v0.8h-0.8zM479.2 270.5h0.8v0.8h-0.8zM495.6 277.6h0.8v0.8h-0.8zM479.7 265.0h0.8v0.8h-0.8zM499.3 247.5h0.8v0.8h-0.8zM493.8 272.6h0.8v0.8h-0.8zM472.4 277.2h0.8v0.8h-0.8zM489.5 292.4h0.8v0.8h-0.8zM487.8 253.3h0.8v0.8h-0.8zM475.9 280.1h0.8v0.8h-0.8zM480.2 273.4h0.8v0.8h-0.8zM484.1 285.5h0.8v0.8h-0.8zM488.1 272.6h0.8v0.8h-0.8zM478.8 282.1h0.8v0.8h-0.8zM478.3 277.2h0.8v0.8h-0.8zM488.9 279.9h0.8v0.8h-0.8zM492.5 276.1h0.8v0.8h-0.8zM503.8 280.2h0.8v0.8h-0.8zM477.7 266.4h0.8v0.8h-0.8zM478.2 284.7h0.8v0.8h-0.8zM474.4 286.6h0.8v0.8h-0.8zM489.0 269.0h0.8v0.8h-0.8zM475.4 273.0h0.8v0.8h-0.8zM492.1 273.2h0.8v0.8h-0.8zM491.8 275.2h0.8v0.8h-0.8zM497.8 269.9h0.8v0.8h-0.8zM483.7 264.6h0.8v0.8h-0.8zM481.9 265.7h0.8v0.8h-0.8zM470.5 272.0h0.8v0.8h-0.8zM491.4 255.5h0.8v0.8h-0.8zM472.8 262.4h0.8v0.8h-0.8zM488.4 278.4h0.8v0.8h-0.8zM488.0 272.3h0.8v0.8h-0.8zM477.6 275.4h0.8v0.8h-0.8zM476.7 271.9h0.8v0.8h-0.8zM488.7 271.8h0.8v0.8h-0.8zM496.3 256.1h0.8v0.8h-0.8zM469.9 282.0h0.8v0.8h-0.8zM479.6 270.0h0.8v0.8h-0.8zM479.7 273.3h0.8v0.8h-0.8zM483.4 276.8h0.8v0.8h-0.8zM493.7 288.9h0.8v0.8h-0.8zM464.9 272.9h0.8v0.8h-0.8zM476.5 275.6h0.8v0.8h-0.8zM475.4 274.4h0.8v0.8h-0.8zM487.5 273.5h0.8v0.8h-0.8zM487.1 279.2h0.8v0.8h-0.8zM474.9 273.4h0.8v0.8h-0.8zM494.8 281.4h0.8v0.8h-0.8zM494.1 267.1h0.8v0.8h-0.8zM478.7 281.8h0.8v0.8h-0.8zM484.9 276.2h0.8v0.8h-0.8zM481.6 281.3h0.8v0.8h-0.8zM486.5 265.8h0.8v0.8h-0.8zM488.4 271.0h0.8v0.8h-0.8zM482.4 278.4h0.8v0.8h-0.8zM486.3 269.2h0.8v0.8h-0.8zM473.9 270.2h0.8v0.8h-0.8zM483.6 264.1h0.8v0.8h-0.8zM479.1 292.8h0.8v0.8h-0.8zM478.9 274.3h0.8v0.8h-0.8zM473.3 271.2h0.8v0.8h-0.8zM487.2 275.2h0.8v0.8h-0.8zM469.0 274.1h0.8v0.8h-0.8zM475.7 282.7h0.8v0.8h-0.8zM483.9 286.7h0.8v0.8h-0.8zM488.3 264.4h0.8v0.8h-0.8zM493.8 269.9h0.8v0.8h-0.8zM483.9 274.6h0.8v0.8h-0.8zM472.7 283.4h0.8v0.8h-0.8zM486.3 265.4h0.8v0.8h-0.8zM472.0 277.6h0.8v0.8h-0.8zM496.3 277.1h0.8v0.8h-0.8zM487.8 270.4h0.8v0.8h-0.8zM495.2 278.3h0.8v0.8h-0.8zM477.4 268.9h0.8v0.8h-0.8zM464.6 283.2h0.8v0.8h-0.8zM489.0 280.0h0.8v0.8h-0.8zM482.8 291.2h0.8v0.8h-0.8zM475.4 267.0h0.8v0.8h-0.8zM500.1 281.3h0.8v0.8h-0.8zM492.0 273.0h0.8v0.8h-0.8zM484.5 275.0h0.8v0.8h-0.8zM488.9 269.0h0.8v0.8h-0.8zM494.7 288.0h0.8v0.8h-0.8zM479.9 266.1h0.8v0.8h-0.8zM486.0 293.8h0.8v0.8h-0.8zM475.9 284.8h0.8v0.8h-0.8zM478.5 267.7h0.8v0.8h-0.8zM495.1 272.5h0.8v0.8h-0.8zM484.5 279.6h0.8v0.8h-0.8zM495.5 275.8h0.8v0.8h-0.8zM499.5 268.4h0.8v0.8h-0.8zM480.0 279.4h0.8v0.8h-0.8zM491.0 259.8h0.8v0.8h-0.8zM482.0 279.5h0.8v0.8h-0.8zM483.4 288.4h0.8v0.8h-0.8zM470.0 275.5h0.8v0.8h-0.8zM476.9 261.0h0.8v0.8h-0.8zM482.7 273.4h0.8v0.8h-0.8zM481.0 268.8h0.8v0.8h-0.8zM492.9 265.5h0.8v0.8h-0.8zM479.0 262.6h0.8v0.8h-0.8zM495.8 262.0h0.8v0.8h-0.8zM501.1 266.5h0.8v0.8h-0.8zM484.4 287.1h0.8v0.8h-0.8zM474.9 284.6h0.8v0.8h-0.8zM472.6 270.2h0.8v0.8h-0.8zM490.1 276.7h0.8v0.8h-0.8zM488.0 276.5h0.8v0.8h-0.8zM499.7 260.9h0.8v0.8h-0.8zM478.4 281.0h0.8v0.8h-0.8zM471.1 268.3h0.8v0.8h-0.8zM507.9 284.8h0.8v0.8h-0.8zM489.7 274.6h0.8v0.8h-0.8zM483.3 266.8h0.8v0.8h-0.8zM476.6 266.0h0.8v0.8h-0.8zM472.9 275.0h0.8v0.8h-0.8zM488.9 266.4h0.8v0.8h-0.8zM486.1 263.2h0.8v0.8h-0.8zM488.4 271.3h0.8v0.8h-0.8zM484.2 275.5h0.8v0.8h-0.8zM497.2 275.7h0.8v0.8h-0.8zM478.7 275.2h0.8v0.8h-0.8zM488.6 278.3h0.8v0.8h-0.8zM494.8 267.3h0.8v0.8h-0.8zM473.6 279.0h0.8v0.8h-0.8zM474.2 277.6h0.8v0.8h-0.8zM510.6 284.1h0.8v0.8h-0.8zM471.0 267.3h0.8v0.8h-0.8zM488.6 271.7h0.8v0.8h-0.8zM491.5 276.0h0.8v0.8h-0.8zM488.0 278.5h0.8v0.8h-0.8zM470.1 283.2h0.8v0.8h-0.8zM471.5 266.8h0.8v0.8h-0.8zM462.1 274.0h0.8v0.8h-0.8zM488.7 271.0h0.8v0.8h-0.8zM473.6 256.4h0.8v0.8h-0.8zM490.2 264.7h0.8v0.8h-0.8zM481.4 275.9h0.8v0.8h-0.8zM484.3 277.3h0.8v0.8h-0.8zM500.6 279.7h0.8v0.8h-0.8zM475.3 273.7h0.8v0.8h-0.8zM482.7 267.1h0.8v0.8h-0.8zM491.1 270.9h0.8v0.8h-0.8zM487.1 279.2h0.8v0.8h-0.8zM504.7 269.1h0.8v0.8h-0.8zM491.7 291.4h0.8v0.8h-0.8zM500.0 276.5h0.8v0.8h-0.8zM477.9 275.3h0.8v0.8h-0.8zM479.0 270.6h0.8v0.8h-0.8zM468.5 271.7h0.8v0.8h-0.8zM465.9 282.0h0.8v0.8h-0.8zM489.8 270.7h0.8v0.8h-0.8zM485.2 275.0h0.8v0.8h-0.8zM482.5 276.4h0.8v0.8h-0.8zM483.2 277.7h0.8v0.8h-0.8zM477.2 274.6h0.8v0.8h-0.8zM500.8 267.5h0.8v0.8h-0.8zM477.2 281.7h0.8v0.8h-0.8zM487.9 275.3h0.8v0.8h-0.8zM486.7 270.7h0.8v0.8h-0.8zM479.9 278.2h0.8v0.8h-0.8zM486.6 279.3h0.8v0.8h-0.8zM489.2 292.2h0.8v0.8h-0.8zM485.7 285.4h0.8v0.8h-0.8zM486.4 292.3h0.8v0.8h-0.8zM494.2 268.0h0.8v0.8h-0.8zM500.0 269.5h0.8v0.8h-0.8zM494.5 268.0h0.8v0.8h-0.8zM488.3 275.4h0.8v0.8h-0.8zM498.5 256.7h0.8v0.8h-0.8zM466.6 282.1h0.8v0.8h-0.8zM492.1 270.0h0.8v0.8h-0.8zM485.8 260.0h0.8v0.8h-0.8zM481.3 268.8h0.8v0.8h-0.8zM493.4 276.2h0.8v0.8h-0.8zM483.4 283.5h0.8v0.8h-0.8zM478.7 280.3h0.8v0.8h-0.8zM482.7 277.9h0.8v0.8h-0.8zM482.1 285.5h0.8v0.8h-0.8zM480.8 290.5h0.8v0.8h-0.8zM492.5 267.4h0.8v0.8h-0.8zM480.7 285.0h0.8v0.8h-0.8zM499.0 264.4h0.8v0.8h-0.8zM486.5 279.2h0.8v0.8h-0.8zM507.6 279.6h0.8v0.8h-0.8zM483.0 281.7h0.8v0.8h-0.8zM485.7 267.2h0.8v0.8h-0.8zM484.5 272.4h0.8v0.8h-0.8zM482.9 274.9h0.8v0.8h-0.8zM488.4 267.9h0.8v0.8h-0.8zM491.4 261.5h0.8v0.8h-0.8zM491.3 278.2h0.8v0.8h-0.8zM489.0 262.2h0.8v0.8h-0.8zM470.8 267.2h0.8v0.8h-0.8zM484.7 274.3h0.8v0.8h-0.8zM456.0 264.8h0.8v0.8h-0.8zM493.5 249.2h0.8v0.8h-0.8zM460.6 258.4h0.8v0.8h-0.8zM474.1 261.1h0.8v0.8h-0.8zM495.9 268.3h0.8v0.8h-0.8zM450.6 274.9h0.8v0.8h-0.8zM479.4 275.8h0.8v0.8h-0.8zM477.6 282.8h0.8v0.8h-0.8zM480.1 258.2h0.8v0.8h-0.8zM460.8 276.8h0.8v0.8h-0.8zM476.0 241.6h0.8v0.8h-0.8zM490.1 281.7h0.8v0.8h-0.8zM448.0 272.1h0.8v0.8h-0.8zM487.4 287.3h0.8v0.8h-0.8zM495.6 254.9h0.8v0.8h-0.8zM484.6 274.4h0.8v0.8h-0.8zM456.9 283.6h0.8v0.8h-0.8zM485.1 275.7h0.8v0.8h-0.8zM465.3 275.6h0.8v0.8h-0.8zM477.3 260.6h0.8v0.8h-0.8zM478.5 269.2h0.8v0.8h-0.8zM456.2 264.7h0.8v0.8h-0.8zM483.2 243.5h0.8v0.8h-0.8zM502.4 298.4h0.8v0.8h-0.8zM487.7 264.7h0.8v0.8h-0.8zM463.1 250.2h0.8v0.8h-0.8zM460.4 276.3h0.8v0.8h-0.8zM465.4 267.2h0.8v0.8h-0.8zM471.7 276.5h0.8v0.8h-0.8zM496.3 276.8h0.8v0.8h-0.8zM487.5 278.8h0.8v0.8h-0.8zM502.5 253.4h0.8v0.8h-0.8zM481.8 256.3h0.8v0.8h-0.8zM478.7 261.9h0.8v0.8h-0.8zM479.7 274.2h0.8v0.8h-0.8zM459.3 230.7h0.8v0.8h-0.8zM481.9 278.7h0.8v0.8h-0.8zM472.3 284.2h0.8v0.8h-0.8zM510.4 265.7h0.8v0.8h-0.8zM474.9 271.6h0.8v0.8h-0.8zM489.0 245.2h0.8v0.8h-0.8zM485.2 237.9h0.8v0.8h-0.8zM462.6 267.8h0.8v0.8h-0.8zM482.5 249.2h0.8v0.8h-0.8zM478.6 281.8h0.8v0.8h-0.8zM454.3 272.2h0.8v0.8h-0.8zM496.3 247.2h0.8v0.8h-0.8zM495.1 270.8h0.8v0.8h-0.8zM473.5 265.2h0.8v0.8h-0.8zM477.4 265.3h0.8v0.8h-0.8zM475.0 255.2h0.8v0.8h-0.8zM491.0 287.3h0.8v0.8h-0.8zM475.2 283.5h0.8v0.8h-0.8zM466.9 248.1h0.8v0.8h-0.8zM487.1 268.1h0.8v0.8h-0.8zM484.5 252.3h0.8v0.8h-0.8zM472.3 278.3h0.8v0.8h-0.8zM500.9 268.3h0.8v0.8h-0.8zM483.5 230.3h0.8v0.8h-0.8zM468.6 282.1h0.8v0.8h-0.8zM505.4 254.1h0.8v0.8h-0.8zM441.5 271.6h0.8v0.8h-0.8zM459.2 259.4h0.8v0.8h-0.8zM469.3 260.0h0.8v0.8h-0.8zM464.1 273.5h0.8v0.8h-0.8zM482.3 247.6h0.8v0.8h-0.8zM455.2 292.3h0.8v0.8h-0.8zM486.1 267.7h0.8v0.8h-0.8zM453.6 293.4h0.8v0.8h-0.8zM463.0 266.6h0.8v0.8h-0.8zM482.7 255.4h0.8v0.8h-0.8zM479.7 258.9h0.8v0.8h-0.8zM448.3 246.7h0.8v0.8h-0.8zM468.9 258.0h0.8v0.8h-0.8zM484.1 286.7h0.8v0.8h-0.8zM474.4 293.7h0.8v0.8h-0.8zM471.6 266.4h0.8v0.8h-0.8zM474.6 242.7h0.8v0.8h-0.8zM476.8 262.2h0.8v0.8h-0.8zM465.9 274.8h0.8v0.8h-0.8zM483.6 260.9h0.8v0.8h-0.8zM465.2 268.9h0.8v0.8h-0.8zM466.3 253.7h0.8v0.8h-0.8zM470.6 277.4h0.8v0.8h-0.8zM473.7 262.8h0.8v0.8h-0.8zM473.0 272.8h0.8v0.8h-0.8zM475.4 275.9h0.8v0.8h-0.8zM475.5 276.1h0.8v0.8h-0.8zM473.5 255.2h0.8v0.8h-0.8zM483.6 262.3h0.8v0.8h-0.8zM471.2 284.0h0.8v0.8h-0.8zM470.6 254.7h0.8v0.8h-0.8zM472.9 284.0h0.8v0.8h-0.8zM458.5 280.4h0.8v0.8h-0.8zM485.0 259.8h0.8v0.8h-0.8zM472.8 255.4h0.8v0.8h-0.8zM448.6 252.8h0.8v0.8h-0.8zM457.6 243.9h0.8v0.8h-0.8zM471.3 272.8h0.8v0.8h-0.8zM464.2 260.7h0.8v0.8h-0.8zM466.5 262.4h0.8v0.8h-0.8zM483.2 281.0h0.8v0.8h-0.8zM486.1 270.0h0.8v0.8h-0.8zM497.2 274.5h0.8v0.8h-0.8zM484.4 272.5h0.8v0.8h-0.8zM489.2 251.5h0.8v0.8h-0.8zM464.8 266.2h0.8v0.8h-0.8zM452.0 261.5h0.8v0.8h-0.8zM472.6 269.3h0.8v0.8h-0.8zM487.3 282.3h0.8v0.8h-0.8zM443.6 267.9h0.8v0.8h-0.8zM482.2 284.1h0.8v0.8h-0.8zM468.5 270.6h0.8v0.8h-0.8zM475.2 252.7h0.8v0.8h-0.8zM480.8 277.8h0.8v0.8h-0.8zM472.2 266.3h0.8v0.8h-0.8zM492.9 262.6h0.8v0.8h-0.8zM472.8 269.0h0.8v0.8h-0.8zM483.6 270.5h0.8v0.8h-0.8zM494.9 271.0h0.8v0.8h-0.8zM460.1 243.7h0.8v0.8h-0.8zM475.9 287.3h0.8v0.8h-0.8zM477.8 259.4h0.8v0.8h-0.8zM481.1 272.1h0.8v0.8h-0.8zM495.0 248.2h0.8v0.8h-0.8zM488.2 267.6h0.8v0.8h-0.8zM488.9 279.4h0.8v0.8h-0.8zM445.4 277.3h0.8v0.8h-0.8zM484.3 254.8h0.8v0.8h-0.8zM475.4 279.0h0.8v0.8h-0.8zM455.7 276.8h0.8v0.8h-0.8zM488.5 288.3h0.8v0.8h-0.8zM465.1 257.0h0.8v0.8h-0.8zM491.4 261.4h0.8v0.8h-0.8zM483.0 230.7h0.8v0.8h-0.8zM453.6 271.7h0.8v0.8h-0.8zM484.2 254.4h0.8v0.8h-0.8zM445.6 272.4h0.8v0.8h-0.8zM480.4 253.0h0.8v0.8h-0.8zM479.0 257.5h0.8v0.8h-0.8zM462.5 274.4h0.8v0.8h-0.8zM477.1 265.6h0.8v0.8h-0.8zM459.4 255.8h0.8v0.8h-0.8zM473.1 257.2h0.8v0.8h-0.8zM482.0 265.5h0.8v0.8h-0.8zM473.9 262.9h0.8v0.8h-0.8zM482.9 278.5h0.8v0.8h-0.8zM461.6 277.7h0.8v0.8h-0.8zM489.9 275.5h0.8v0.8h-0.8zM469.1 267.9h0.8v0.8h-0.8zM507.1 247.5h0.8v0.8h-0.8zM489.0 261.7h0.8v0.8h-0.8zM500.8 266.9h0.8v0.8h-0.8zM489.1 256.9h0.8v0.8h-0.8zM469.9 286.4h0.8v0.8h-0.8zM458.9 258.2h0.8v0.8h-0.8zM473.4 248.5h0.8v0.8h-0.8zM486.0 248.8h0.8v0.8h-0.8zM477.7 261.9h0.8v0.8h-0.8zM445.6 267.1h0.8v0.8h-0.8zM454.9 265.5h0.8v0.8h-0.8zM443.7 258.0h0.8v0.8h-0.8zM488.7 268.7h0.8v0.8h-0.8zM493.0 286.6h0.8v0.8h-0.8zM487.5 262.5h0.8v0.8h-0.8zM475.3 273.4h0.8v0.8h-0.8zM459.3 251.3h0.8v0.8h-0.8zM476.9 288.2h0.8v0.8h-0.8zM461.1 268.4h0.8v0.8h-0.8zM466.9 274.6h0.8v0.8h-0.8zM482.0 264.6h0.8v0.8h-0.8zM490.0 261.7h0.8v0.8h-0.8zM453.2 292.9h0.8v0.8h-0.8zM475.4 269.2h0.8v0.8h-0.8zM488.2 254.3h0.8v0.8h-0.8zM470.3 255.1h0.8v0.8h-0.8zM485.2 270.4h0.8v0.8h-0.8zM479.8 247.7h0.8v0.8h-0.8zM465.3 245.9h0.8v0.8h-0.8zM457.5 255.2h0.8v0.8h-0.8zM481.2 271.6h0.8v0.8h-0.8zM451.3 273.4h0.8v0.8h-0.8zM482.1 286.1h0.8v0.8h-0.8zM489.2 245.1h0.8v0.8h-0.8zM484.0 268.1h0.8v0.8h-0.8zM481.6 255.3h0.8v0.8h-0.8zM497.5 266.3h0.8v0.8h-0.8zM468.7 241.0h0.8v0.8h-0.8zM473.3 246.8h0.8v0.8h-0.8zM455.9 286.7h0.8v0.8h-0.8zM476.0 278.0h0.8v0.8h-0.8zM492.9 274.8h0.8v0.8h-0.8zM470.9 249.4h0.8v0.8h-0.8zM474.6 266.6h0.8v0.8h-0.8zM474.9 261.0h0.8v0.8h-0.8zM479.0 245.8h0.8v0.8h-0.8zM492.1 249.3h0.8v0.8h-0.8zM478.7 253.3h0.8v0.8h-0.8zM496.4 257.6h0.8v0.8h-0.8zM463.8 260.0h0.8v0.8h-0.8zM489.6 248.5h0.8v0.8h-0.8zM458.4 257.9h0.8v0.8h-0.8zM490.3 295.2h0.8v0.8h-0.8zM474.5 277.4h0.8v0.8h-0.8zM475.2 240.2h0.8v0.8h-0.8zM470.8 273.2h0.8v0.8h-0.8zM461.0 261.0h0.8v0.8h-0.8zM467.5 270.2h0.8v0.8h-0.8zM458.4 287.2h0.8v0.8h-0.8zM472.8 259.4h0.8v0.8h-0.8zM484.2 275.2h0.8v0.8h-0.8zM480.2 269.6h0.8v0.8h-0.8zM479.6 248.8h0.8v0.8h-0.8zM488.3 276.6h0.8v0.8h-0.8zM465.7 241.5h0.8v0.8h-0.8zM468.3 267.4h0.8v0.8h-0.8zM497.3 267.9h0.8v0.8h-0.8zM477.9 268.2h0.8v0.8h-0.8zM455.1 260.1h0.8v0.8h-0.8zM479.0 274.2h0.8v0.8h-0.8zM488.8 287.1h0.8v0.8h-0.8zM467.1 259.1h0.8v0.8h-0.8zM470.5 271.6h0.8v0.8h-0.8zM505.9 267.4h0.8v0.8h-0.8zM479.4 252.6h0.8v0.8h-0.8zM458.6 288.8h0.8v0.8h-0.8zM475.8 284.0h0.8v0.8h-0.8zM488.9 258.3h0.8v0.8h-0.8zM480.6 252.8h0.8v0.8h-0.8zM486.2 262.9h0.8v0.8h-0.8zM488.4 281.7h0.8v0.8h-0.8zM468.5 275.7h0.8v0.8h-0.8zM483.3 257.8h0.8v0.8h-0.8zM481.0 281.6h0.8v0.8h-0.8zM479.4 278.0h0.8v0.8h-0.8zM482.1 281.9h0.8v0.8h-0.8zM475.2 260.5h0.8v0.8h-0.8zM486.2 234.1h0.8v0.8h-0.8zM469.6 285.6h0.8v0.8h-0.8zM466.3 289.9h0.8v0.8h-0.8zM500.4 258.2h0.8v0.8h-0.8zM466.2 270.2h0.8v0.8h-0.8zM490.2 288.5h0.8v0.8h-0.8zM499.3 255.4h0.8v0.8h-0.8z"/><path fill="#000" fill-opacity="0.75" d="M463.3 278.2h0.85v0.85h-0.85zM468.9 267.7h0.85v0.85h-0.85zM464.8 275.5h0.85v0.85h-0.85zM466.8 278.3h0.85v0.85h-0.85zM470.9 269.7h0.85v0.85h-0.85zM463.6 277.6h0.85v0.85h-0.85zM478.1 266.4h0.85v0.85h-0.85zM467.2 268.7h0.85v0.85h-0.85zM466.0 270.6h0.85v0.85h-0.85zM468.4 272.5h0.85v0.85h-0.85zM468.1 273.9h0.85v0.85h-0.85zM463.5 284.4h0.85v0.85h-0.85zM472.9 264.5h0.85v0.85h-0.85zM467.1 269.2h0.85v0.85h-0.85zM465.8 276.7h0.85v0.85h-0.85zM460.0 281.2h0.85v0.85h-0.85zM460.8 285.0h0.85v0.85h-0.85zM472.1 269.2h0.85v0.85h-0.85zM455.6 281.7h0.85v0.85h-0.85zM469.3 272.8h0.85v0.85h-0.85zM467.3 274.4h0.85v0.85h-0.85zM466.8 269.4h0.85v0.85h-0.85zM463.4 274.2h0.85v0.85h-0.85zM457.9 279.5h0.85v0.85h-0.85zM463.9 272.9h0.85v0.85h-0.85zM469.3 267.0h0.85v0.85h-0.85zM459.7 283.3h0.85v0.85h-0.85zM468.4 269.9h0.85v0.85h-0.85zM468.7 276.2h0.85v0.85h-0.85zM460.7 280.0h0.85v0.85h-0.85zM467.8 268.8h0.85v0.85h-0.85zM469.5 275.1h0.85v0.85h-0.85zM466.2 270.9h0.85v0.85h-0.85zM470.8 264.8h0.85v0.85h-0.85zM464.1 273.5h0.85v0.85h-0.85zM462.7 275.5h0.85v0.85h-0.85zM470.3 265.1h0.85v0.85h-0.85zM461.9 274.7h0.85v0.85h-0.85zM471.0 265.7h0.85v0.85h-0.85zM464.7 280.9h0.85v0.85h-0.85zM462.7 277.6h0.85v0.85h-0.85zM465.7 274.9h0.85v0.85h-0.85zM468.2 268.2h0.85v0.85h-0.85zM465.8 277.4h0.85v0.85h-0.85zM468.2 273.8h0.85v0.85h-0.85zM464.7 276.8h0.85v0.85h-0.85zM461.2 277.7h0.85v0.85h-0.85zM461.5 279.8h0.85v0.85h-0.85zM469.4 272.8h0.85v0.85h-0.85zM461.4 277.8h0.85v0.85h-0.85zM461.6 278.8h0.85v0.85h-0.85zM459.3 279.3h0.85v0.85h-0.85zM456.6 284.6h0.85v0.85h-0.85zM470.0 268.5h0.85v0.85h-0.85zM471.0 265.0h0.85v0.85h-0.85zM463.0 278.9h0.85v0.85h-0.85zM463.3 275.5h0.85v0.85h-0.85zM465.4 278.9h0.85v0.85h-0.85zM460.1 275.3h0.85v0.85h-0.85zM462.3 278.2h0.85v0.85h-0.85zM457.1 278.3h0.85v0.85h-0.85zM463.8 281.6h0.85v0.85h-0.85zM459.1 277.5h0.85v0.85h-0.85zM459.4 281.5h0.85v0.85h-0.85zM461.5 277.2h0.85v0.85h-0.85zM456.8 283.1h0.85v0.85h-0.85zM456.0 281.3h0.85v0.85h-0.85zM461.5 275.4h0.85v0.85h-0.85zM464.7 277.1h0.85v0.85h-0.85zM453.9 283.3h0.85v0.85h-0.85zM461.0 279.2h0.85v0.85h-0.85zM461.6 276.2h0.85v0.85h-0.85zM458.8 278.9h0.85v0.85h-0.85zM458.5 279.8h0.85v0.85h-0.85zM475.7 264.5h0.85v0.85h-0.85zM463.9 282.7h0.85v0.85h-0.85zM457.9 281.6h0.85v0.85h-0.85zM468.3 272.5h0.85v0.85h-0.85zM467.5 269.0h0.85v0.85h-0.85zM471.8 265.8h0.85v0.85h-0.85zM465.6 273.8h0.85v0.85h-0.85zM461.8 281.1h0.85v0.85h-0.85zM462.6 284.1h0.85v0.85h-0.85zM458.8 276.5h0.85v0.85h-0.85zM470.0 277.2h0.85v0.85h-0.85zM471.9 266.4h0.85v0.85h-0.85zM469.0 269.5h0.85v0.85h-0.85zM461.6 275.4h0.85v0.85h-0.85zM472.1 263.7h0.85v0.85h-0.85zM468.9 271.2h0.85v0.85h-0.85zM457.2 283.9h0.85v0.85h-0.85zM463.6 276.2h0.85v0.85h-0.85zM466.8 271.9h0.85v0.85h-0.85zM460.9 277.8h0.85v0.85h-0.85zM455.3 289.5h0.85v0.85h-0.85zM460.4 282.2h0.85v0.85h-0.85zM470.9 266.9h0.85v0.85h-0.85zM467.6 273.0h0.85v0.85h-0.85zM461.6 277.3h0.85v0.85h-0.85zM458.3 283.0h0.85v0.85h-0.85zM458.4 284.3h0.85v0.85h-0.85zM458.3 278.2h0.85v0.85h-0.85zM459.2 279.5h0.85v0.85h-0.85zM467.9 276.4h0.85v0.85h-0.85zM458.2 284.1h0.85v0.85h-0.85zM466.1 277.1h0.85v0.85h-0.85zM458.4 277.1h0.85v0.85h-0.85zM471.9 269.3h0.85v0.85h-0.85zM464.0 276.4h0.85v0.85h-0.85zM465.2 275.6h0.85v0.85h-0.85zM466.7 274.1h0.85v0.85h-0.85zM460.3 277.5h0.85v0.85h-0.85zM461.3 279.3h0.85v0.85h-0.85zM459.1 282.6h0.85v0.85h-0.85zM462.5 277.2h0.85v0.85h-0.85zM472.3 273.5h0.85v0.85h-0.85zM460.8 275.5h0.85v0.85h-0.85zM454.5 283.1h0.85v0.85h-0.85zM468.4 267.3h0.85v0.85h-0.85zM456.6 284.0h0.85v0.85h-0.85zM457.6 283.1h0.85v0.85h-0.85zM465.2 276.0h0.85v0.85h-0.85zM468.5 265.3h0.85v0.85h-0.85zM461.8 272.2h0.85v0.85h-0.85zM456.7 284.8h0.85v0.85h-0.85zM461.9 277.2h0.85v0.85h-0.85zM459.8 285.5h0.85v0.85h-0.85zM465.7 272.8h0.85v0.85h-0.85zM470.0 274.5h0.85v0.85h-0.85zM460.5 280.0h0.85v0.85h-0.85zM470.9 268.0h0.85v0.85h-0.85zM462.7 279.9h0.85v0.85h-0.85zM462.1 276.8h0.85v0.85h-0.85zM459.7 278.3h0.85v0.85h-0.85zM461.1 279.5h0.85v0.85h-0.85zM457.5 281.9h0.85v0.85h-0.85zM462.3 280.9h0.85v0.85h-0.85zM472.5 268.7h0.85v0.85h-0.85zM471.0 275.5h0.85v0.85h-0.85zM456.2 283.8h0.85v0.85h-0.85zM461.7 283.1h0.85v0.85h-0.85zM473.8 266.5h0.85v0.85h-0.85zM470.0 267.9h0.85v0.85h-0.85zM469.5 274.7h0.85v0.85h-0.85zM461.0 280.9h0.85v0.85h-0.85zM465.6 277.9h0.85v0.85h-0.85zM462.5 269.0h0.85v0.85h-0.85zM465.8 274.6h0.85v0.85h-0.85zM464.2 268.9h0.85v0.85h-0.85zM458.0 279.7h0.85v0.85h-0.85zM457.7 283.3h0.85v0.85h-0.85zM466.2 273.2h0.85v0.85h-0.85zM466.9 271.9h0.85v0.85h-0.85zM465.4 281.1h0.85v0.85h-0.85zM472.0 269.8h0.85v0.85h-0.85zM452.9 285.3h0.85v0.85h-0.85zM456.2 285.9h0.85v0.85h-0.85zM458.9 284.8h0.85v0.85h-0.85zM459.4 281.9h0.85v0.85h-0.85zM461.6 283.3h0.85v0.85h-0.85zM461.0 278.6h0.85v0.85h-0.85zM461.3 278.4h0.85v0.85h-0.85zM466.0 273.3h0.85v0.85h-0.85zM458.2 281.9h0.85v0.85h-0.85zM461.7 282.5h0.85v0.85h-0.85zM459.3 282.8h0.85v0.85h-0.85zM472.3 271.3h0.85v0.85h-0.85zM466.2 271.2h0.85v0.85h-0.85zM463.2 275.8h0.85v0.85h-0.85zM457.7 282.3h0.85v0.85h-0.85zM465.1 278.5h0.85v0.85h-0.85zM466.5 271.1h0.85v0.85h-0.85zM453.0 285.4h0.85v0.85h-0.85zM462.4 272.4h0.85v0.85h-0.85zM471.6 271.6h0.85v0.85h-0.85zM468.4 270.4h0.85v0.85h-0.85zM460.1 277.3h0.85v0.85h-0.85zM470.1 267.4h0.85v0.85h-0.85zM458.8 280.9h0.85v0.85h-0.85zM463.9 278.1h0.85v0.85h-0.85zM464.6 270.8h0.85v0.85h-0.85zM460.5 281.6h0.85v0.85h-0.85zM468.0 266.5h0.85v0.85h-0.85zM470.1 265.7h0.85v0.85h-0.85zM460.9 284.7h0.85v0.85h-0.85zM468.4 270.6h0.85v0.85h-0.85zM465.5 273.8h0.85v0.85h-0.85zM459.3 283.9h0.85v0.85h-0.85zM468.0 276.0h0.85v0.85h-0.85zM463.8 279.6h0.85v0.85h-0.85zM459.3 282.0h0.85v0.85h-0.85zM462.7 277.8h0.85v0.85h-0.85zM464.5 280.6h0.85v0.85h-0.85zM466.5 273.8h0.85v0.85h-0.85zM469.3 266.6h0.85v0.85h-0.85zM463.9 272.7h0.85v0.85h-0.85zM473.4 271.6h0.85v0.85h-0.85zM464.2 272.8h0.85v0.85h-0.85zM458.9 281.5h0.85v0.85h-0.85zM471.6 271.7h0.85v0.85h-0.85zM468.3 272.1h0.85v0.85h-0.85zM470.3 270.0h0.85v0.85h-0.85zM469.0 269.6h0.85v0.85h-0.85zM466.1 277.4h0.85v0.85h-0.85zM472.1 267.1h0.85v0.85h-0.85zM461.7 283.6h0.85v0.85h-0.85zM459.7 280.1h0.85v0.85h-0.85zM463.1 278.5h0.85v0.85h-0.85zM465.0 278.0h0.85v0.85h-0.85zM457.1 282.1h0.85v0.85h-0.85zM469.7 270.5h0.85v0.85h-0.85zM460.2 283.2h0.85v0.85h-0.85zM470.5 267.6h0.85v0.85h-0.85zM466.9 272.5h0.85v0.85h-0.85zM469.2 267.1h0.85v0.85h-0.85zM457.5 282.9h0.85v0.85h-0.85zM461.7 280.9h0.85v0.85h-0.85zM467.4 277.8h0.85v0.85h-0.85zM462.1 276.4h0.85v0.85h-0.85zM465.5 272.5h0.85v0.85h-0.85zM471.7 268.7h0.85v0.85h-0.85zM461.1 282.4h0.85v0.85h-0.85zM470.7 269.0h0.85v0.85h-0.85zM468.5 276.2h0.85v0.85h-0.85zM468.4 271.3h0.85v0.85h-0.85zM471.7 265.2h0.85v0.85h-0.85zM463.0 280.2h0.85v0.85h-0.85zM460.7 283.9h0.85v0.85h-0.85zM461.9 279.7h0.85v0.85h-0.85zM467.9 273.7h0.85v0.85h-0.85zM470.2 270.7h0.85v0.85h-0.85zM456.9 283.0h0.85v0.85h-0.85zM464.9 271.9h0.85v0.85h-0.85zM472.0 268.2h0.85v0.85h-0.85zM462.9 276.4h0.85v0.85h-0.85zM469.3 270.6h0.85v0.85h-0.85zM460.4 278.5h0.85v0.85h-0.85zM462.5 273.2h0.85v0.85h-0.85zM459.7 283.7h0.85v0.85h-0.85zM466.8 267.9h0.85v0.85h-0.85zM469.2 272.9h0.85v0.85h-0.85zM455.1 287.1h0.85v0.85h-0.85zM461.2 278.7h0.85v0.85h-0.85zM462.9 275.5h0.85v0.85h-0.85zM466.2 273.3h0.85v0.85h-0.85zM456.1 279.6h0.85v0.85h-0.85zM469.2 270.1h0.85v0.85h-0.85zM470.1 268.3h0.85v0.85h-0.85zM465.7 276.7h0.85v0.85h-0.85zM459.8 284.7h0.85v0.85h-0.85zM457.4 278.0h0.85v0.85h-0.85zM464.2 277.4h0.85v0.85h-0.85zM458.5 280.6h0.85v0.85h-0.85zM458.1 285.1h0.85v0.85h-0.85zM460.9 285.4h0.85v0.85h-0.85zM470.4 268.6h0.85v0.85h-0.85zM458.5 282.8h0.85v0.85h-0.85zM461.2 276.1h0.85v0.85h-0.85zM462.4 279.8h0.85v0.85h-0.85zM468.0 271.7h0.85v0.85h-0.85zM458.5 280.6h0.85v0.85h-0.85zM462.5 276.0h0.85v0.85h-0.85zM455.1 284.7h0.85v0.85h-0.85zM455.0 281.4h0.85v0.85h-0.85zM462.5 278.7h0.85v0.85h-0.85zM470.4 270.7h0.85v0.85h-0.85zM460.1 277.4h0.85v0.85h-0.85zM463.6 272.9h0.85v0.85h-0.85zM469.5 269.7h0.85v0.85h-0.85zM459.5 282.7h0.85v0.85h-0.85zM467.8 265.9h0.85v0.85h-0.85zM462.1 276.5h0.85v0.85h-0.85zM468.2 269.9h0.85v0.85h-0.85zM473.1 265.9h0.85v0.85h-0.85zM460.4 278.1h0.85v0.85h-0.85zM464.0 279.6h0.85v0.85h-0.85zM461.3 283.1h0.85v0.85h-0.85zM460.8 277.2h0.85v0.85h-0.85zM459.3 279.1h0.85v0.85h-0.85zM466.4 271.3h0.85v0.85h-0.85zM466.3 272.5h0.85v0.85h-0.85zM464.8 273.2h0.85v0.85h-0.85zM457.9 283.5h0.85v0.85h-0.85zM457.9 282.3h0.85v0.85h-0.85zM470.7 268.5h0.85v0.85h-0.85zM460.9 281.1h0.85v0.85h-0.85zM466.3 282.3h0.85v0.85h-0.85zM464.7 274.5h0.85v0.85h-0.85zM470.7 272.2h0.85v0.85h-0.85zM459.8 282.4h0.85v0.85h-0.85zM464.3 278.0h0.85v0.85h-0.85zM467.8 273.1h0.85v0.85h-0.85zM462.6 277.0h0.85v0.85h-0.85zM462.9 279.2h0.85v0.85h-0.85zM465.5 269.3h0.85v0.85h-0.85zM465.0 273.2h0.85v0.85h-0.85zM468.2 267.9h0.85v0.85h-0.85zM456.3 284.5h0.85v0.85h-0.85zM463.3 276.5h0.85v0.85h-0.85zM465.6 275.7h0.85v0.85h-0.85zM458.9 281.3h0.85v0.85h-0.85zM463.8 276.5h0.85v0.85h-0.85zM466.1 271.0h0.85v0.85h-0.85zM462.6 282.4h0.85v0.85h-0.85zM465.9 270.8h0.85v0.85h-0.85zM471.0 271.1h0.85v0.85h-0.85zM470.3 268.9h0.85v0.85h-0.85zM472.4 265.0h0.85v0.85h-0.85zM458.8 279.8h0.85v0.85h-0.85zM460.6 282.4h0.85v0.85h-0.85zM459.5 280.5h0.85v0.85h-0.85zM465.7 277.0h0.85v0.85h-0.85zM466.8 276.5h0.85v0.85h-0.85zM467.4 264.2h0.85v0.85h-0.85zM469.3 269.4h0.85v0.85h-0.85zM454.0 281.8h0.85v0.85h-0.85zM464.3 281.6h0.85v0.85h-0.85zM463.8 275.4h0.85v0.85h-0.85zM462.1 273.3h0.85v0.85h-0.85zM474.1 270.5h0.85v0.85h-0.85zM459.9 280.1h0.85v0.85h-0.85zM468.2 270.6h0.85v0.85h-0.85zM464.2 276.6h0.85v0.85h-0.85zM455.9 285.6h0.85v0.85h-0.85zM460.0 288.4h0.85v0.85h-0.85zM467.7 274.7h0.85v0.85h-0.85zM470.4 265.6h0.85v0.85h-0.85zM459.9 287.1h0.85v0.85h-0.85zM466.4 274.2h0.85v0.85h-0.85zM468.0 272.6h0.85v0.85h-0.85zM470.3 266.6h0.85v0.85h-0.85zM458.4 276.7h0.85v0.85h-0.85zM460.0 282.4h0.85v0.85h-0.85zM460.3 283.4h0.85v0.85h-0.85zM459.6 279.2h0.85v0.85h-0.85zM459.7 280.7h0.85v0.85h-0.85zM457.8 284.0h0.85v0.85h-0.85zM469.4 273.5h0.85v0.85h-0.85zM468.8 267.6h0.85v0.85h-0.85zM461.1 278.5h0.85v0.85h-0.85zM458.3 284.9h0.85v0.85h-0.85zM459.5 282.0h0.85v0.85h-0.85zM466.9 276.3h0.85v0.85h-0.85zM463.6 272.4h0.85v0.85h-0.85zM467.1 271.3h0.85v0.85h-0.85zM456.7 282.1h0.85v0.85h-0.85zM462.4 280.3h0.85v0.85h-0.85zM466.0 269.5h0.85v0.85h-0.85zM469.5 271.2h0.85v0.85h-0.85zM470.4 271.9h0.85v0.85h-0.85zM468.6 268.5h0.85v0.85h-0.85zM474.5 263.8h0.85v0.85h-0.85zM467.6 272.8h0.85v0.85h-0.85zM459.6 283.2h0.85v0.85h-0.85zM471.7 268.5h0.85v0.85h-0.85zM471.2 268.8h0.85v0.85h-0.85zM466.1 279.8h0.85v0.85h-0.85zM458.1 279.0h0.85v0.85h-0.85zM470.6 269.1h0.85v0.85h-0.85zM455.2 280.3h0.85v0.85h-0.85zM467.1 272.8h0.85v0.85h-0.85zM466.9 274.3h0.85v0.85h-0.85zM469.6 268.3h0.85v0.85h-0.85zM466.3 270.2h0.85v0.85h-0.85zM466.3 271.3h0.85v0.85h-0.85zM469.4 269.5h0.85v0.85h-0.85zM466.1 273.6h0.85v0.85h-0.85zM463.7 280.4h0.85v0.85h-0.85zM468.6 272.1h0.85v0.85h-0.85zM455.8 280.2h0.85v0.85h-0.85zM464.6 280.1h0.85v0.85h-0.85zM464.5 274.5h0.85v0.85h-0.85zM462.5 282.6h0.85v0.85h-0.85zM461.9 275.3h0.85v0.85h-0.85zM459.7 283.9h0.85v0.85h-0.85zM470.9 268.7h0.85v0.85h-0.85zM461.9 281.0h0.85v0.85h-0.85zM461.7 273.1h0.85v0.85h-0.85zM467.0 275.9h0.85v0.85h-0.85zM458.5 285.1h0.85v0.85h-0.85zM481.3 239.2h0.85v0.85h-0.85zM482.5 250.8h0.85v0.85h-0.85zM480.0 233.8h0.85v0.85h-0.85zM482.4 243.4h0.85v0.85h-0.85zM484.1 238.3h0.85v0.85h-0.85zM483.1 238.0h0.85v0.85h-0.85zM491.6 241.3h0.85v0.85h-0.85zM485.9 244.5h0.85v0.85h-0.85zM480.2 232.5h0.85v0.85h-0.85zM482.5 247.3h0.85v0.85h-0.85zM488.3 236.1h0.85v0.85h-0.85zM478.7 244.3h0.85v0.85h-0.85zM488.7 233.3h0.85v0.85h-0.85zM490.9 235.0h0.85v0.85h-0.85zM487.3 238.1h0.85v0.85h-0.85zM482.6 235.9h0.85v0.85h-0.85zM487.0 242.6h0.85v0.85h-0.85zM487.5 237.7h0.85v0.85h-0.85zM480.4 251.0h0.85v0.85h-0.85zM491.4 238.2h0.85v0.85h-0.85zM479.1 247.4h0.85v0.85h-0.85zM484.6 239.6h0.85v0.85h-0.85zM487.7 241.2h0.85v0.85h-0.85zM484.5 250.1h0.85v0.85h-0.85zM475.9 242.8h0.85v0.85h-0.85zM479.8 239.7h0.85v0.85h-0.85zM483.3 240.7h0.85v0.85h-0.85zM473.7 243.0h0.85v0.85h-0.85zM494.1 237.0h0.85v0.85h-0.85zM487.9 242.7h0.85v0.85h-0.85zM485.3 236.5h0.85v0.85h-0.85zM486.8 240.7h0.85v0.85h-0.85zM490.3 243.8h0.85v0.85h-0.85zM490.6 241.9h0.85v0.85h-0.85zM484.8 235.9h0.85v0.85h-0.85zM494.9 246.6h0.85v0.85h-0.85zM484.5 237.2h0.85v0.85h-0.85zM486.5 246.7h0.85v0.85h-0.85zM486.3 244.4h0.85v0.85h-0.85zM485.2 241.2h0.85v0.85h-0.85zM478.6 239.9h0.85v0.85h-0.85zM484.3 238.9h0.85v0.85h-0.85zM483.0 240.9h0.85v0.85h-0.85zM481.5 238.2h0.85v0.85h-0.85zM478.4 251.9h0.85v0.85h-0.85zM480.2 232.7h0.85v0.85h-0.85zM481.7 237.0h0.85v0.85h-0.85zM491.2 244.8h0.85v0.85h-0.85zM482.4 242.3h0.85v0.85h-0.85zM479.2 230.4h0.85v0.85h-0.85zM485.5 242.4h0.85v0.85h-0.85zM481.1 239.2h0.85v0.85h-0.85zM470.7 238.5h0.85v0.85h-0.85zM488.6 240.2h0.85v0.85h-0.85zM484.8 242.4h0.85v0.85h-0.85zM475.0 232.2h0.85v0.85h-0.85zM478.5 240.6h0.85v0.85h-0.85zM487.9 238.2h0.85v0.85h-0.85zM488.4 250.3h0.85v0.85h-0.85zM476.9 232.3h0.85v0.85h-0.85zM488.7 247.0h0.85v0.85h-0.85zM485.8 241.2h0.85v0.85h-0.85zM487.1 242.8h0.85v0.85h-0.85zM478.5 243.3h0.85v0.85h-0.85zM488.4 237.0h0.85v0.85h-0.85zM480.1 236.6h0.85v0.85h-0.85zM481.5 242.1h0.85v0.85h-0.85zM487.4 239.4h0.85v0.85h-0.85zM482.2 233.8h0.85v0.85h-0.85zM481.6 241.1h0.85v0.85h-0.85zM484.8 258.5h0.85v0.85h-0.85zM480.2 236.3h0.85v0.85h-0.85zM479.0 237.8h0.85v0.85h-0.85zM482.8 244.8h0.85v0.85h-0.85zM475.5 244.2h0.85v0.85h-0.85zM486.9 236.4h0.85v0.85h-0.85zM481.1 240.3h0.85v0.85h-0.85zM486.3 238.4h0.85v0.85h-0.85zM483.4 239.3h0.85v0.85h-0.85zM479.3 240.7h0.85v0.85h-0.85zM486.6 239.5h0.85v0.85h-0.85zM479.1 239.3h0.85v0.85h-0.85zM483.6 241.0h0.85v0.85h-0.85zM482.2 243.8h0.85v0.85h-0.85zM488.8 243.8h0.85v0.85h-0.85zM485.1 245.9h0.85v0.85h-0.85zM483.9 238.3h0.85v0.85h-0.85zM477.8 239.4h0.85v0.85h-0.85zM489.4 234.1h0.85v0.85h-0.85zM487.4 232.3h0.85v0.85h-0.85zM485.3 249.2h0.85v0.85h-0.85zM484.2 232.9h0.85v0.85h-0.85zM485.3 238.5h0.85v0.85h-0.85zM487.5 236.4h0.85v0.85h-0.85zM476.5 236.7h0.85v0.85h-0.85zM486.6 244.8h0.85v0.85h-0.85zM485.2 239.4h0.85v0.85h-0.85zM487.0 238.2h0.85v0.85h-0.85zM482.1 240.5h0.85v0.85h-0.85zM488.8 236.5h0.85v0.85h-0.85zM486.2 235.8h0.85v0.85h-0.85zM480.8 240.2h0.85v0.85h-0.85zM478.2 234.6h0.85v0.85h-0.85zM478.8 236.0h0.85v0.85h-0.85zM480.0 251.9h0.85v0.85h-0.85zM486.7 239.7h0.85v0.85h-0.85zM486.0 235.9h0.85v0.85h-0.85zM488.6 237.1h0.85v0.85h-0.85zM478.3 235.8h0.85v0.85h-0.85zM477.4 231.6h0.85v0.85h-0.85zM487.1 236.4h0.85v0.85h-0.85zM487.0 236.2h0.85v0.85h-0.85zM483.0 236.3h0.85v0.85h-0.85zM481.6 235.7h0.85v0.85h-0.85zM490.6 239.0h0.85v0.85h-0.85zM475.5 248.4h0.85v0.85h-0.85zM489.5 245.3h0.85v0.85h-0.85zM483.6 238.4h0.85v0.85h-0.85zM481.9 239.9h0.85v0.85h-0.85zM486.1 239.2h0.85v0.85h-0.85zM480.4 234.1h0.85v0.85h-0.85zM491.3 248.3h0.85v0.85h-0.85zM478.6 235.8h0.85v0.85h-0.85zM483.8 242.4h0.85v0.85h-0.85zM483.5 240.5h0.85v0.85h-0.85zM485.6 245.4h0.85v0.85h-0.85zM478.3 245.2h0.85v0.85h-0.85zM485.9 242.2h0.85v0.85h-0.85zM477.4 238.0h0.85v0.85h-0.85zM482.9 242.7h0.85v0.85h-0.85zM487.0 243.0h0.85v0.85h-0.85zM478.3 246.0h0.85v0.85h-0.85zM484.3 244.3h0.85v0.85h-0.85zM484.0 235.5h0.85v0.85h-0.85zM495.5 242.8h0.85v0.85h-0.85zM487.3 236.8h0.85v0.85h-0.85zM483.0 245.2h0.85v0.85h-0.85zM486.0 248.6h0.85v0.85h-0.85zM489.3 233.5h0.85v0.85h-0.85zM477.3 245.5h0.85v0.85h-0.85zM486.6 237.9h0.85v0.85h-0.85zM482.7 236.3h0.85v0.85h-0.85zM491.9 238.4h0.85v0.85h-0.85zM477.9 244.1h0.85v0.85h-0.85zM483.6 241.2h0.85v0.85h-0.85zM482.3 239.1h0.85v0.85h-0.85zM475.7 242.1h0.85v0.85h-0.85zM481.0 237.2h0.85v0.85h-0.85zM485.4 246.1h0.85v0.85h-0.85zM474.5 238.6h0.85v0.85h-0.85zM486.4 244.7h0.85v0.85h-0.85zM480.0 241.0h0.85v0.85h-0.85zM485.7 244.2h0.85v0.85h-0.85zM481.3 238.3h0.85v0.85h-0.85zM481.7 245.3h0.85v0.85h-0.85zM488.7 236.9h0.85v0.85h-0.85zM483.4 240.4h0.85v0.85h-0.85zM480.0 238.7h0.85v0.85h-0.85zM487.8 243.4h0.85v0.85h-0.85zM481.0 235.8h0.85v0.85h-0.85zM483.5 231.5h0.85v0.85h-0.85zM485.3 239.9h0.85v0.85h-0.85zM478.1 238.1h0.85v0.85h-0.85zM481.1 237.9h0.85v0.85h-0.85zM480.1 246.5h0.85v0.85h-0.85zM479.7 243.3h0.85v0.85h-0.85zM484.9 246.9h0.85v0.85h-0.85zM483.7 239.3h0.85v0.85h-0.85zM494.5 238.2h0.85v0.85h-0.85zM482.6 233.4h0.85v0.85h-0.85zM483.4 247.8h0.85v0.85h-0.85zM480.7 241.6h0.85v0.85h-0.85zM488.5 244.3h0.85v0.85h-0.85zM482.2 230.1h0.85v0.85h-0.85zM485.8 242.3h0.85v0.85h-0.85zM482.5 237.0h0.85v0.85h-0.85zM491.7 231.0h0.85v0.85h-0.85zM481.7 236.1h0.85v0.85h-0.85zM477.1 235.7h0.85v0.85h-0.85zM480.5 245.8h0.85v0.85h-0.85zM476.3 232.1h0.85v0.85h-0.85zM485.1 231.2h0.85v0.85h-0.85zM475.2 236.0h0.85v0.85h-0.85zM478.7 234.2h0.85v0.85h-0.85zM483.3 241.7h0.85v0.85h-0.85zM481.1 237.9h0.85v0.85h-0.85zM487.1 238.5h0.85v0.85h-0.85zM487.2 236.2h0.85v0.85h-0.85zM486.1 246.0h0.85v0.85h-0.85zM477.9 255.0h0.85v0.85h-0.85zM482.5 237.5h0.85v0.85h-0.85zM483.3 241.7h0.85v0.85h-0.85zM478.7 239.5h0.85v0.85h-0.85zM481.4 246.8h0.85v0.85h-0.85zM476.4 242.7h0.85v0.85h-0.85zM482.6 235.4h0.85v0.85h-0.85zM484.6 238.1h0.85v0.85h-0.85zM484.1 240.6h0.85v0.85h-0.85zM489.2 237.2h0.85v0.85h-0.85zM492.0 245.7h0.85v0.85h-0.85zM490.8 240.4h0.85v0.85h-0.85zM485.2 234.0h0.85v0.85h-0.85zM489.8 233.3h0.85v0.85h-0.85zM480.5 239.3h0.85v0.85h-0.85zM485.0 241.1h0.85v0.85h-0.85zM478.9 237.5h0.85v0.85h-0.85zM486.1 245.5h0.85v0.85h-0.85zM487.3 241.5h0.85v0.85h-0.85zM482.8 236.5h0.85v0.85h-0.85zM481.7 238.8h0.85v0.85h-0.85zM486.3 236.7h0.85v0.85h-0.85zM493.0 234.1h0.85v0.85h-0.85zM487.5 238.3h0.85v0.85h-0.85zM483.4 237.3h0.85v0.85h-0.85zM490.7 237.8h0.85v0.85h-0.85zM486.4 239.9h0.85v0.85h-0.85zM487.3 242.4h0.85v0.85h-0.85zM491.2 235.5h0.85v0.85h-0.85zM480.4 248.1h0.85v0.85h-0.85zM489.6 239.7h0.85v0.85h-0.85zM482.7 240.6h0.85v0.85h-0.85zM489.7 235.3h0.85v0.85h-0.85zM490.3 239.0h0.85v0.85h-0.85zM482.4 237.3h0.85v0.85h-0.85zM474.8 241.0h0.85v0.85h-0.85zM478.2 236.4h0.85v0.85h-0.85zM480.0 240.5h0.85v0.85h-0.85zM487.1 239.5h0.85v0.85h-0.85zM484.8 241.5h0.85v0.85h-0.85zM491.0 242.3h0.85v0.85h-0.85zM490.9 239.0h0.85v0.85h-0.85zM485.5 236.0h0.85v0.85h-0.85zM486.6 234.9h0.85v0.85h-0.85zM486.0 236.0h0.85v0.85h-0.85zM482.4 245.7h0.85v0.85h-0.85zM484.6 243.4h0.85v0.85h-0.85zM490.4 238.4h0.85v0.85h-0.85zM481.1 244.2h0.85v0.85h-0.85zM479.0 235.5h0.85v0.85h-0.85zM489.0 235.7h0.85v0.85h-0.85zM488.9 237.7h0.85v0.85h-0.85zM483.0 239.7h0.85v0.85h-0.85zM481.8 244.9h0.85v0.85h-0.85zM488.8 239.7h0.85v0.85h-0.85zM486.6 242.1h0.85v0.85h-0.85zM491.3 231.1h0.85v0.85h-0.85zM488.5 244.1h0.85v0.85h-0.85zM482.6 239.4h0.85v0.85h-0.85zM482.5 245.8h0.85v0.85h-0.85zM479.0 242.5h0.85v0.85h-0.85zM489.6 242.3h0.85v0.85h-0.85zM481.9 237.0h0.85v0.85h-0.85zM474.7 234.0h0.85v0.85h-0.85zM488.8 234.4h0.85v0.85h-0.85zM476.8 238.1h0.85v0.85h-0.85zM477.4 241.7h0.85v0.85h-0.85zM480.1 244.3h0.85v0.85h-0.85zM483.5 232.0h0.85v0.85h-0.85zM480.6 236.0h0.85v0.85h-0.85zM480.3 245.7h0.85v0.85h-0.85zM479.6 241.2h0.85v0.85h-0.85zM481.4 242.4h0.85v0.85h-0.85zM477.7 231.2h0.85v0.85h-0.85zM486.2 246.7h0.85v0.85h-0.85zM477.9 237.7h0.85v0.85h-0.85zM481.7 234.5h0.85v0.85h-0.85zM488.2 239.6h0.85v0.85h-0.85zM477.9 238.2h0.85v0.85h-0.85zM489.8 235.7h0.85v0.85h-0.85zM481.7 235.1h0.85v0.85h-0.85zM484.7 236.5h0.85v0.85h-0.85zM487.9 235.0h0.85v0.85h-0.85zM477.6 241.7h0.85v0.85h-0.85zM470.1 234.4h0.85v0.85h-0.85zM485.2 240.6h0.85v0.85h-0.85zM481.4 237.0h0.85v0.85h-0.85zM486.3 258.6h0.85v0.85h-0.85zM480.4 238.4h0.85v0.85h-0.85zM482.0 242.2h0.85v0.85h-0.85zM484.0 242.2h0.85v0.85h-0.85zM491.1 237.9h0.85v0.85h-0.85zM482.7 241.3h0.85v0.85h-0.85zM493.2 237.5h0.85v0.85h-0.85zM491.4 245.5h0.85v0.85h-0.85zM472.0 234.2h0.85v0.85h-0.85zM479.7 241.4h0.85v0.85h-0.85zM489.8 239.6h0.85v0.85h-0.85zM484.7 250.6h0.85v0.85h-0.85zM485.5 250.5h0.85v0.85h-0.85zM480.1 247.9h0.85v0.85h-0.85zM480.3 236.9h0.85v0.85h-0.85zM483.8 243.3h0.85v0.85h-0.85zM487.0 242.0h0.85v0.85h-0.85zM480.7 248.6h0.85v0.85h-0.85zM489.2 239.5h0.85v0.85h-0.85zM481.5 239.1h0.85v0.85h-0.85zM483.0 235.7h0.85v0.85h-0.85zM483.9 235.9h0.85v0.85h-0.85zM486.8 236.0h0.85v0.85h-0.85zM486.1 241.0h0.85v0.85h-0.85zM484.7 242.1h0.85v0.85h-0.85zM479.5 252.7h0.85v0.85h-0.85zM480.9 243.1h0.85v0.85h-0.85zM484.1 237.1h0.85v0.85h-0.85zM491.6 245.1h0.85v0.85h-0.85zM482.8 242.3h0.85v0.85h-0.85zM487.0 247.5h0.85v0.85h-0.85zM488.4 238.5h0.85v0.85h-0.85zM482.9 233.3h0.85v0.85h-0.85zM485.1 243.8h0.85v0.85h-0.85zM482.3 242.8h0.85v0.85h-0.85zM484.6 236.9h0.85v0.85h-0.85zM478.6 245.1h0.85v0.85h-0.85zM495.1 242.2h0.85v0.85h-0.85zM479.3 234.0h0.85v0.85h-0.85zM485.1 242.7h0.85v0.85h-0.85zM492.1 240.2h0.85v0.85h-0.85zM484.6 241.3h0.85v0.85h-0.85zM482.4 237.8h0.85v0.85h-0.85zM488.6 230.3h0.85v0.85h-0.85zM483.5 242.2h0.85v0.85h-0.85zM476.8 238.5h0.85v0.85h-0.85zM490.7 241.3h0.85v0.85h-0.85zM487.1 243.0h0.85v0.85h-0.85zM485.0 241.2h0.85v0.85h-0.85zM480.4 238.2h0.85v0.85h-0.85zM492.1 232.9h0.85v0.85h-0.85zM483.3 232.7h0.85v0.85h-0.85zM481.7 235.3h0.85v0.85h-0.85zM478.6 240.6h0.85v0.85h-0.85zM479.9 242.1h0.85v0.85h-0.85zM483.5 241.3h0.85v0.85h-0.85zM484.9 245.6h0.85v0.85h-0.85zM484.7 230.3h0.85v0.85h-0.85zM490.6 234.4h0.85v0.85h-0.85zM483.6 241.0h0.85v0.85h-0.85zM480.1 239.8h0.85v0.85h-0.85zM490.6 230.5h0.85v0.85h-0.85zM476.7 237.0h0.85v0.85h-0.85zM483.3 232.7h0.85v0.85h-0.85zM473.9 244.1h0.85v0.85h-0.85zM485.7 232.4h0.85v0.85h-0.85zM486.5 239.0h0.85v0.85h-0.85zM484.7 232.3h0.85v0.85h-0.85zM483.1 241.8h0.85v0.85h-0.85zM476.3 233.8h0.85v0.85h-0.85zM488.3 249.8h0.85v0.85h-0.85zM486.9 239.0h0.85v0.85h-0.85zM479.3 237.2h0.85v0.85h-0.85zM482.9 241.6h0.85v0.85h-0.85zM482.9 252.3h0.85v0.85h-0.85zM478.9 239.3h0.85v0.85h-0.85zM488.3 241.4h0.85v0.85h-0.85zM471.9 230.7h0.85v0.85h-0.85zM490.0 242.4h0.85v0.85h-0.85zM495.3 243.5h0.85v0.85h-0.85zM486.1 247.3h0.85v0.85h-0.85zM482.1 236.5h0.85v0.85h-0.85zM479.6 240.6h0.85v0.85h-0.85zM486.0 244.2h0.85v0.85h-0.85zM490.4 242.6h0.85v0.85h-0.85zM489.5 238.0h0.85v0.85h-0.85zM479.8 243.2h0.85v0.85h-0.85zM488.5 246.3h0.85v0.85h-0.85zM483.3 236.8h0.85v0.85h-0.85zM482.4 241.2h0.85v0.85h-0.85zM483.8 238.3h0.85v0.85h-0.85zM485.2 237.8h0.85v0.85h-0.85zM485.5 236.2h0.85v0.85h-0.85zM477.2 237.7h0.85v0.85h-0.85zM492.4 235.0h0.85v0.85h-0.85zM488.1 246.4h0.85v0.85h-0.85zM481.6 240.7h0.85v0.85h-0.85zM474.0 242.3h0.85v0.85h-0.85zM490.8 240.3h0.85v0.85h-0.85zM475.3 236.3h0.85v0.85h-0.85zM480.8 239.9h0.85v0.85h-0.85zM485.3 237.1h0.85v0.85h-0.85zM482.7 235.0h0.85v0.85h-0.85zM486.6 240.4h0.85v0.85h-0.85zM485.6 236.7h0.85v0.85h-0.85zM486.2 237.7h0.85v0.85h-0.85zM485.4 238.5h0.85v0.85h-0.85zM481.1 233.5h0.85v0.85h-0.85zM475.8 232.1h0.85v0.85h-0.85zM486.1 256.5h0.85v0.85h-0.85zM476.8 235.0h0.85v0.85h-0.85zM484.0 258.1h0.85v0.85h-0.85zM483.1 233.1h0.85v0.85h-0.85zM485.9 250.3h0.85v0.85h-0.85zM471.7 233.1h0.85v0.85h-0.85zM489.5 233.2h0.85v0.85h-0.85zM483.6 236.0h0.85v0.85h-0.85zM487.4 231.6h0.85v0.85h-0.85zM485.4 240.4h0.85v0.85h-0.85zM486.5 241.6h0.85v0.85h-0.85zM482.6 234.3h0.85v0.85h-0.85zM486.4 238.1h0.85v0.85h-0.85zM484.7 245.1h0.85v0.85h-0.85zM483.6 248.2h0.85v0.85h-0.85zM487.7 231.4h0.85v0.85h-0.85zM481.5 245.7h0.85v0.85h-0.85zM481.8 245.6h0.85v0.85h-0.85zM481.6 238.6h0.85v0.85h-0.85zM488.6 230.9h0.85v0.85h-0.85zM484.4 236.9h0.85v0.85h-0.85zM484.8 248.4h0.85v0.85h-0.85zM486.2 232.1h0.85v0.85h-0.85zM488.3 236.9h0.85v0.85h-0.85zM484.8 245.4h0.85v0.85h-0.85zM482.7 244.4h0.85v0.85h-0.85zM484.8 234.5h0.85v0.85h-0.85zM482.7 232.1h0.85v0.85h-0.85zM489.3 240.1h0.85v0.85h-0.85zM488.3 233.4h0.85v0.85h-0.85zM487.8 232.9h0.85v0.85h-0.85zM485.3 239.2h0.85v0.85h-0.85zM481.4 240.9h0.85v0.85h-0.85zM484.2 234.7h0.85v0.85h-0.85zM480.8 232.3h0.85v0.85h-0.85zM490.1 240.1h0.85v0.85h-0.85zM482.4 242.9h0.85v0.85h-0.85zM480.3 233.1h0.85v0.85h-0.85zM485.6 247.7h0.85v0.85h-0.85zM485.4 240.1h0.85v0.85h-0.85zM491.7 231.1h0.85v0.85h-0.85zM497.5 233.4h0.85v0.85h-0.85zM483.7 232.1h0.85v0.85h-0.85zM478.7 238.0h0.85v0.85h-0.85zM494.8 234.3h0.85v0.85h-0.85zM481.3 240.7h0.85v0.85h-0.85zM479.6 237.9h0.85v0.85h-0.85zM482.7 237.7h0.85v0.85h-0.85zM481.8 238.6h0.85v0.85h-0.85zM476.1 236.9h0.85v0.85h-0.85zM481.8 233.8h0.85v0.85h-0.85zM489.6 249.9h0.85v0.85h-0.85zM487.6 234.6h0.85v0.85h-0.85zM490.3 241.9h0.85v0.85h-0.85zM480.5 242.5h0.85v0.85h-0.85zM481.5 242.3h0.85v0.85h-0.85zM488.1 245.4h0.85v0.85h-0.85zM479.4 238.6h0.85v0.85h-0.85zM484.1 232.7h0.85v0.85h-0.85zM485.9 242.9h0.85v0.85h-0.85zM478.0 236.3h0.85v0.85h-0.85zM479.2 232.5h0.85v0.85h-0.85zM479.4 246.6h0.85v0.85h-0.85zM481.1 237.2h0.85v0.85h-0.85zM488.4 244.7h0.85v0.85h-0.85zM481.3 237.0h0.85v0.85h-0.85zM481.5 249.7h0.85v0.85h-0.85zM483.3 245.5h0.85v0.85h-0.85zM483.3 238.9h0.85v0.85h-0.85zM486.3 241.6h0.85v0.85h-0.85zM486.3 241.0h0.85v0.85h-0.85zM486.7 239.0h0.85v0.85h-0.85zM485.9 232.3h0.85v0.85h-0.85zM489.0 232.8h0.85v0.85h-0.85zM490.2 244.7h0.85v0.85h-0.85zM483.8 237.7h0.85v0.85h-0.85zM487.5 237.6h0.85v0.85h-0.85zM478.8 240.7h0.85v0.85h-0.85zM478.7 236.8h0.85v0.85h-0.85zM491.9 243.6h0.85v0.85h-0.85zM482.1 238.9h0.85v0.85h-0.85zM481.2 239.2h0.85v0.85h-0.85zM477.7 242.9h0.85v0.85h-0.85zM484.1 236.0h0.85v0.85h-0.85zM481.3 253.3h0.85v0.85h-0.85zM482.1 236.7h0.85v0.85h-0.85zM481.5 236.6h0.85v0.85h-0.85zM489.8 242.9h0.85v0.85h-0.85zM485.9 241.2h0.85v0.85h-0.85zM490.7 243.1h0.85v0.85h-0.85zM485.0 240.7h0.85v0.85h-0.85zM484.9 239.4h0.85v0.85h-0.85zM486.6 239.5h0.85v0.85h-0.85zM488.4 240.9h0.85v0.85h-0.85zM482.8 242.5h0.85v0.85h-0.85zM484.9 236.9h0.85v0.85h-0.85zM482.4 237.0h0.85v0.85h-0.85zM482.7 236.9h0.85v0.85h-0.85zM488.4 254.9h0.85v0.85h-0.85zM483.6 245.2h0.85v0.85h-0.85zM482.0 238.4h0.85v0.85h-0.85zM480.8 232.0h0.85v0.85h-0.85zM480.3 236.5h0.85v0.85h-0.85zM484.7 237.5h0.85v0.85h-0.85zM478.8 237.3h0.85v0.85h-0.85zM490.7 234.5h0.85v0.85h-0.85zM484.3 244.6h0.85v0.85h-0.85zM480.5 236.2h0.85v0.85h-0.85zM496.8 245.9h0.85v0.85h-0.85zM481.7 240.1h0.85v0.85h-0.85zM484.5 240.0h0.85v0.85h-0.85zM486.1 237.6h0.85v0.85h-0.85zM474.3 234.1h0.85v0.85h-0.85zM484.7 231.9h0.85v0.85h-0.85zM482.6 247.3h0.85v0.85h-0.85zM485.1 235.7h0.85v0.85h-0.85zM484.7 244.9h0.85v0.85h-0.85zM476.5 232.6h0.85v0.85h-0.85zM481.1 236.9h0.85v0.85h-0.85zM483.7 236.1h0.85v0.85h-0.85zM484.5 239.7h0.85v0.85h-0.85zM478.9 235.9h0.85v0.85h-0.85zM478.6 240.8h0.85v0.85h-0.85zM485.2 242.7h0.85v0.85h-0.85zM480.2 236.4h0.85v0.85h-0.85zM474.3 239.3h0.85v0.85h-0.85zM476.9 241.1h0.85v0.85h-0.85zM488.8 241.6h0.85v0.85h-0.85zM486.8 240.5h0.85v0.85h-0.85zM485.7 244.3h0.85v0.85h-0.85zM489.6 250.0h0.85v0.85h-0.85zM482.9 243.7h0.85v0.85h-0.85zM487.9 241.5h0.85v0.85h-0.85zM485.2 232.5h0.85v0.85h-0.85zM488.8 234.5h0.85v0.85h-0.85zM481.2 234.7h0.85v0.85h-0.85zM486.5 234.1h0.85v0.85h-0.85zM486.1 242.3h0.85v0.85h-0.85zM484.5 237.4h0.85v0.85h-0.85zM486.7 246.2h0.85v0.85h-0.85zM482.0 233.6h0.85v0.85h-0.85zM481.4 234.6h0.85v0.85h-0.85zM483.0 238.4h0.85v0.85h-0.85zM473.9 247.0h0.85v0.85h-0.85zM480.5 237.0h0.85v0.85h-0.85zM479.6 240.5h0.85v0.85h-0.85zM485.0 247.3h0.85v0.85h-0.85zM482.8 244.1h0.85v0.85h-0.85zM485.4 234.3h0.85v0.85h-0.85zM488.4 236.0h0.85v0.85h-0.85zM485.6 237.1h0.85v0.85h-0.85zM483.1 240.1h0.85v0.85h-0.85zM489.9 230.3h0.85v0.85h-0.85zM479.1 239.8h0.85v0.85h-0.85zM488.3 238.2h0.85v0.85h-0.85zM483.2 242.1h0.85v0.85h-0.85zM491.0 234.4h0.85v0.85h-0.85zM477.0 237.7h0.85v0.85h-0.85zM487.4 232.2h0.85v0.85h-0.85zM489.0 244.3h0.85v0.85h-0.85zM487.5 234.7h0.85v0.85h-0.85zM478.4 242.7h0.85v0.85h-0.85zM485.2 242.9h0.85v0.85h-0.85zM489.0 244.6h0.85v0.85h-0.85zM482.8 239.2h0.85v0.85h-0.85zM486.0 243.2h0.85v0.85h-0.85zM483.2 236.5h0.85v0.85h-0.85zM479.8 244.7h0.85v0.85h-0.85zM485.6 236.2h0.85v0.85h-0.85zM478.5 236.5h0.85v0.85h-0.85zM478.4 236.8h0.85v0.85h-0.85zM481.6 242.0h0.85v0.85h-0.85zM481.4 231.9h0.85v0.85h-0.85zM487.3 238.1h0.85v0.85h-0.85zM476.7 234.6h0.85v0.85h-0.85zM483.9 239.0h0.85v0.85h-0.85zM476.0 238.6h0.85v0.85h-0.85zM485.3 244.5h0.85v0.85h-0.85zM488.9 238.6h0.85v0.85h-0.85zM478.3 237.3h0.85v0.85h-0.85zM486.9 234.3h0.85v0.85h-0.85zM489.6 234.1h0.85v0.85h-0.85zM479.1 243.7h0.85v0.85h-0.85zM483.6 241.0h0.85v0.85h-0.85zM482.7 239.4h0.85v0.85h-0.85zM481.5 249.3h0.85v0.85h-0.85zM486.9 238.6h0.85v0.85h-0.85zM486.1 243.7h0.85v0.85h-0.85zM481.7 240.2h0.85v0.85h-0.85zM484.9 236.2h0.85v0.85h-0.85zM480.6 238.2h0.85v0.85h-0.85zM482.7 237.1h0.85v0.85h-0.85zM475.5 239.6h0.85v0.85h-0.85zM486.9 239.6h0.85v0.85h-0.85zM491.6 243.8h0.85v0.85h-0.85zM482.5 235.7h0.85v0.85h-0.85zM486.2 237.3h0.85v0.85h-0.85zM476.9 239.9h0.85v0.85h-0.85zM482.7 238.0h0.85v0.85h-0.85zM486.7 240.3h0.85v0.85h-0.85zM492.9 235.3h0.85v0.85h-0.85zM483.6 240.9h0.85v0.85h-0.85zM482.1 236.5h0.85v0.85h-0.85zM491.7 231.5h0.85v0.85h-0.85zM478.9 245.3h0.85v0.85h-0.85zM490.8 239.9h0.85v0.85h-0.85zM472.1 244.6h0.85v0.85h-0.85zM485.1 233.4h0.85v0.85h-0.85zM482.5 232.2h0.85v0.85h-0.85zM483.6 238.8h0.85v0.85h-0.85zM484.6 243.4h0.85v0.85h-0.85zM478.9 232.6h0.85v0.85h-0.85zM482.4 236.9h0.85v0.85h-0.85zM483.9 246.5h0.85v0.85h-0.85zM484.2 233.5h0.85v0.85h-0.85zM482.7 234.6h0.85v0.85h-0.85zM483.0 242.3h0.85v0.85h-0.85zM479.1 243.0h0.85v0.85h-0.85zM491.9 247.3h0.85v0.85h-0.85zM491.2 239.7h0.85v0.85h-0.85zM478.1 249.9h0.85v0.85h-0.85zM483.8 240.5h0.85v0.85h-0.85zM482.5 234.3h0.85v0.85h-0.85zM486.8 231.8h0.85v0.85h-0.85zM478.0 242.2h0.85v0.85h-0.85zM482.4 234.8h0.85v0.85h-0.85zM486.2 246.8h0.85v0.85h-0.85zM482.8 238.5h0.85v0.85h-0.85zM486.5 244.2h0.85v0.85h-0.85zM488.6 242.8h0.85v0.85h-0.85zM481.1 242.1h0.85v0.85h-0.85zM484.1 230.2h0.85v0.85h-0.85zM489.5 242.3h0.85v0.85h-0.85zM490.1 238.9h0.85v0.85h-0.85zM487.2 238.9h0.85v0.85h-0.85zM484.8 244.1h0.85v0.85h-0.85zM484.3 242.5h0.85v0.85h-0.85zM483.9 245.7h0.85v0.85h-0.85zM486.9 230.5h0.85v0.85h-0.85zM491.3 241.6h0.85v0.85h-0.85zM481.8 236.0h0.85v0.85h-0.85zM492.8 239.7h0.85v0.85h-0.85zM486.3 242.4h0.85v0.85h-0.85zM481.4 248.5h0.85v0.85h-0.85zM493.3 235.1h0.85v0.85h-0.85zM489.0 230.6h0.85v0.85h-0.85zM482.6 239.6h0.85v0.85h-0.85zM484.3 242.3h0.85v0.85h-0.85zM485.8 241.2h0.85v0.85h-0.85zM483.5 240.9h0.85v0.85h-0.85zM481.6 249.6h0.85v0.85h-0.85zM484.3 245.8h0.85v0.85h-0.85zM484.5 238.5h0.85v0.85h-0.85zM483.3 232.4h0.85v0.85h-0.85zM493.1 241.4h0.85v0.85h-0.85zM484.6 236.8h0.85v0.85h-0.85zM489.7 237.5h0.85v0.85h-0.85zM482.0 236.4h0.85v0.85h-0.85zM490.8 240.9h0.85v0.85h-0.85zM483.4 235.9h0.85v0.85h-0.85zM489.7 240.8h0.85v0.85h-0.85zM482.6 244.0h0.85v0.85h-0.85zM487.9 234.0h0.85v0.85h-0.85zM489.1 245.0h0.85v0.85h-0.85zM483.0 232.2h0.85v0.85h-0.85zM488.8 237.5h0.85v0.85h-0.85zM483.2 237.7h0.85v0.85h-0.85zM482.9 243.7h0.85v0.85h-0.85zM479.3 242.1h0.85v0.85h-0.85zM489.1 244.8h0.85v0.85h-0.85zM487.2 240.7h0.85v0.85h-0.85zM483.2 238.6h0.85v0.85h-0.85zM480.2 248.1h0.85v0.85h-0.85zM483.6 233.9h0.85v0.85h-0.85zM487.7 247.2h0.85v0.85h-0.85zM485.3 237.6h0.85v0.85h-0.85zM479.2 242.6h0.85v0.85h-0.85zM483.0 235.8h0.85v0.85h-0.85zM486.7 232.5h0.85v0.85h-0.85zM481.4 231.8h0.85v0.85h-0.85zM483.0 243.4h0.85v0.85h-0.85zM478.4 246.4h0.85v0.85h-0.85zM481.1 236.7h0.85v0.85h-0.85zM488.4 235.4h0.85v0.85h-0.85zM490.4 238.2h0.85v0.85h-0.85zM483.7 234.2h0.85v0.85h-0.85zM489.1 238.9h0.85v0.85h-0.85zM482.0 234.3h0.85v0.85h-0.85zM481.3 238.8h0.85v0.85h-0.85zM481.0 243.4h0.85v0.85h-0.85zM483.9 236.0h0.85v0.85h-0.85zM486.1 246.7h0.85v0.85h-0.85zM475.1 241.1h0.85v0.85h-0.85zM488.8 240.0h0.85v0.85h-0.85zM487.7 231.2h0.85v0.85h-0.85zM480.9 244.5h0.85v0.85h-0.85zM483.7 239.6h0.85v0.85h-0.85zM486.8 241.2h0.85v0.85h-0.85zM486.0 236.7h0.85v0.85h-0.85zM482.8 246.1h0.85v0.85h-0.85zM482.0 231.7h0.85v0.85h-0.85zM482.6 243.9h0.85v0.85h-0.85zM491.9 240.0h0.85v0.85h-0.85zM481.4 242.4h0.85v0.85h-0.85zM485.4 245.4h0.85v0.85h-0.85zM486.3 243.2h0.85v0.85h-0.85zM486.3 241.4h0.85v0.85h-0.85zM480.2 238.4h0.85v0.85h-0.85zM491.0 246.2h0.85v0.85h-0.85zM488.3 241.3h0.85v0.85h-0.85zM483.6 241.1h0.85v0.85h-0.85zM482.7 244.9h0.85v0.85h-0.85zM482.8 235.3h0.85v0.85h-0.85zM477.2 247.4h0.85v0.85h-0.85zM480.9 234.8h0.85v0.85h-0.85zM485.9 248.6h0.85v0.85h-0.85zM487.0 237.5h0.85v0.85h-0.85zM486.6 235.0h0.85v0.85h-0.85zM483.1 239.4h0.85v0.85h-0.85zM484.2 243.3h0.85v0.85h-0.85zM486.5 249.1h0.85v0.85h-0.85zM487.7 237.8h0.85v0.85h-0.85zM485.2 234.8h0.85v0.85h-0.85zM481.5 237.5h0.85v0.85h-0.85zM488.5 235.7h0.85v0.85h-0.85zM477.5 234.0h0.85v0.85h-0.85zM479.0 238.3h0.85v0.85h-0.85zM482.9 233.2h0.85v0.85h-0.85zM480.8 237.1h0.85v0.85h-0.85zM485.8 242.4h0.85v0.85h-0.85zM489.8 237.9h0.85v0.85h-0.85zM486.9 239.7h0.85v0.85h-0.85zM479.5 236.0h0.85v0.85h-0.85zM493.5 238.4h0.85v0.85h-0.85zM491.2 243.6h0.85v0.85h-0.85zM491.3 238.3h0.85v0.85h-0.85zM488.2 237.7h0.85v0.85h-0.85zM479.4 233.2h0.85v0.85h-0.85zM486.1 230.9h0.85v0.85h-0.85zM485.8 234.7h0.85v0.85h-0.85zM485.7 232.1h0.85v0.85h-0.85zM487.8 238.1h0.85v0.85h-0.85zM477.7 231.8h0.85v0.85h-0.85zM484.5 230.8h0.85v0.85h-0.85zM485.6 241.8h0.85v0.85h-0.85zM481.4 246.5h0.85v0.85h-0.85zM490.4 240.9h0.85v0.85h-0.85zM486.2 241.7h0.85v0.85h-0.85zM483.1 246.1h0.85v0.85h-0.85zM484.3 241.6h0.85v0.85h-0.85zM487.7 233.5h0.85v0.85h-0.85zM490.1 235.0h0.85v0.85h-0.85zM486.9 243.1h0.85v0.85h-0.85zM485.0 245.2h0.85v0.85h-0.85zM482.1 249.9h0.85v0.85h-0.85zM486.3 237.1h0.85v0.85h-0.85zM495.3 239.2h0.85v0.85h-0.85zM477.3 246.6h0.85v0.85h-0.85zM490.8 236.3h0.85v0.85h-0.85zM480.0 245.1h0.85v0.85h-0.85zM484.5 234.3h0.85v0.85h-0.85zM482.2 239.6h0.85v0.85h-0.85zM488.4 247.4h0.85v0.85h-0.85zM481.6 247.2h0.85v0.85h-0.85zM477.8 243.0h0.85v0.85h-0.85zM483.6 241.5h0.85v0.85h-0.85zM482.4 235.6h0.85v0.85h-0.85zM485.4 245.1h0.85v0.85h-0.85zM474.8 239.5h0.85v0.85h-0.85zM482.5 233.7h0.85v0.85h-0.85zM478.5 242.0h0.85v0.85h-0.85zM486.6 242.6h0.85v0.85h-0.85zM475.8 231.3h0.85v0.85h-0.85zM481.6 237.0h0.85v0.85h-0.85zM491.7 237.3h0.85v0.85h-0.85zM484.8 244.4h0.85v0.85h-0.85zM491.3 241.2h0.85v0.85h-0.85zM485.7 249.3h0.85v0.85h-0.85zM481.0 237.6h0.85v0.85h-0.85zM489.8 240.9h0.85v0.85h-0.85zM489.4 239.8h0.85v0.85h-0.85zM484.4 236.3h0.85v0.85h-0.85zM479.0 241.9h0.85v0.85h-0.85zM485.8 242.2h0.85v0.85h-0.85zM482.0 237.1h0.85v0.85h-0.85zM485.8 242.4h0.85v0.85h-0.85zM492.7 234.7h0.85v0.85h-0.85zM488.4 243.9h0.85v0.85h-0.85zM483.1 240.0h0.85v0.85h-0.85zM484.0 247.2h0.85v0.85h-0.85zM495.1 240.9h0.85v0.85h-0.85zM483.1 244.2h0.85v0.85h-0.85zM486.3 238.3h0.85v0.85h-0.85zM487.4 243.8h0.85v0.85h-0.85zM482.6 243.7h0.85v0.85h-0.85zM474.7 232.6h0.85v0.85h-0.85zM482.9 240.1h0.85v0.85h-0.85zM478.0 247.0h0.85v0.85h-0.85zM482.6 240.1h0.85v0.85h-0.85zM484.1 243.2h0.85v0.85h-0.85zM481.8 243.1h0.85v0.85h-0.85zM480.7 231.5h0.85v0.85h-0.85zM486.4 240.1h0.85v0.85h-0.85zM484.7 235.9h0.85v0.85h-0.85zM483.4 237.2h0.85v0.85h-0.85zM482.6 235.8h0.85v0.85h-0.85zM488.6 230.3h0.85v0.85h-0.85zM477.1 241.1h0.85v0.85h-0.85zM492.8 235.3h0.85v0.85h-0.85zM480.4 233.2h0.85v0.85h-0.85zM479.9 245.8h0.85v0.85h-0.85zM487.1 244.0h0.85v0.85h-0.85zM485.7 240.5h0.85v0.85h-0.85zM481.8 234.2h0.85v0.85h-0.85zM486.9 252.2h0.85v0.85h-0.85zM482.7 245.9h0.85v0.85h-0.85zM481.2 239.5h0.85v0.85h-0.85zM491.5 238.9h0.85v0.85h-0.85zM486.9 236.3h0.85v0.85h-0.85zM492.2 232.8h0.85v0.85h-0.85zM486.6 238.0h0.85v0.85h-0.85zM485.1 241.2h0.85v0.85h-0.85zM489.8 243.8h0.85v0.85h-0.85zM488.7 241.2h0.85v0.85h-0.85zM479.7 246.3h0.85v0.85h-0.85zM490.8 241.8h0.85v0.85h-0.85zM487.6 238.0h0.85v0.85h-0.85zM478.1 244.4h0.85v0.85h-0.85zM481.1 249.3h0.85v0.85h-0.85zM487.2 239.2h0.85v0.85h-0.85zM481.6 239.8h0.85v0.85h-0.85zM479.9 237.3h0.85v0.85h-0.85zM491.0 237.7h0.85v0.85h-0.85zM492.1 238.8h0.85v0.85h-0.85zM486.0 234.4h0.85v0.85h-0.85zM483.0 236.9h0.85v0.85h-0.85zM478.3 249.4h0.85v0.85h-0.85zM486.7 238.8h0.85v0.85h-0.85zM479.6 239.4h0.85v0.85h-0.85zM479.7 234.2h0.85v0.85h-0.85zM483.4 250.5h0.85v0.85h-0.85zM476.8 242.2h0.85v0.85h-0.85zM478.2 238.6h0.85v0.85h-0.85zM484.5 235.3h0.85v0.85h-0.85zM491.8 242.1h0.85v0.85h-0.85zM481.5 230.7h0.85v0.85h-0.85zM485.0 235.8h0.85v0.85h-0.85zM488.6 233.8h0.85v0.85h-0.85zM489.3 236.9h0.85v0.85h-0.85zM485.0 237.8h0.85v0.85h-0.85zM486.9 245.3h0.85v0.85h-0.85zM481.9 234.5h0.85v0.85h-0.85zM492.3 244.3h0.85v0.85h-0.85zM492.4 244.3h0.85v0.85h-0.85zM484.8 247.8h0.85v0.85h-0.85zM481.4 237.0h0.85v0.85h-0.85zM482.5 242.9h0.85v0.85h-0.85zM480.6 238.3h0.85v0.85h-0.85zM480.6 238.0h0.85v0.85h-0.85zM489.0 245.1h0.85v0.85h-0.85zM483.3 252.6h0.85v0.85h-0.85zM481.2 241.7h0.85v0.85h-0.85zM479.1 245.8h0.85v0.85h-0.85zM477.1 254.6h0.85v0.85h-0.85zM483.7 240.7h0.85v0.85h-0.85zM489.6 239.4h0.85v0.85h-0.85zM481.5 236.1h0.85v0.85h-0.85zM480.2 242.1h0.85v0.85h-0.85zM482.2 241.9h0.85v0.85h-0.85zM477.8 237.0h0.85v0.85h-0.85zM493.0 241.2h0.85v0.85h-0.85zM483.8 245.5h0.85v0.85h-0.85zM485.4 247.3h0.85v0.85h-0.85zM479.2 243.3h0.85v0.85h-0.85zM479.7 242.8h0.85v0.85h-0.85zM494.7 247.3h0.85v0.85h-0.85zM480.5 241.5h0.85v0.85h-0.85zM486.1 235.5h0.85v0.85h-0.85zM485.2 233.7h0.85v0.85h-0.85z"/><ellipse cx="458.5" cy="283.4" rx="2.6" ry="2.2" transform="rotate(0 458.5 283.4)" fill="#000" fill-opacity="1.0" filter="url(#bl)"/><ellipse cx="464.2" cy="274.1" rx="5.5" ry="3" transform="rotate(-50 464.2 274.1)" fill="#000" fill-opacity="0.95" filter="url(#bl)"/><line x1="441.85" y1="300.5" x2="441.85" y2="303.1" stroke="#111" stroke-width="0.9"/><line x1="444.85" y1="300.5" x2="444.85" y2="303.1" stroke="#111" stroke-width="0.9"/><line x1="447.65000000000003" y1="300.5" x2="447.65000000000003" y2="303.1" stroke="#111" stroke-width="0.9"/><line x1="450.65000000000003" y1="300.5" x2="450.65000000000003" y2="303.1" stroke="#111" stroke-width="0.9"/><line x1="453.05" y1="300.5" x2="453.05" y2="303.1" stroke="#111" stroke-width="0.9"/><line x1="455.15000000000003" y1="300.5" x2="455.15000000000003" y2="303.1" stroke="#111" stroke-width="0.9"/><line x1="459.85" y1="300.5" x2="459.85" y2="303.1" stroke="#111" stroke-width="0.9"/><line x1="462.25" y1="300.5" x2="462.25" y2="303.1" stroke="#111" stroke-width="0.9"/><line x1="464.15000000000003" y1="300.5" x2="464.15000000000003" y2="303.1" stroke="#111" stroke-width="0.9"/><line x1="466.45000000000005" y1="300.5" x2="466.45000000000005" y2="303.1" stroke="#111" stroke-width="0.9"/><line x1="468.45000000000005" y1="300.5" x2="468.45000000000005" y2="303.1" stroke="#111" stroke-width="0.9"/><line x1="470.45000000000005" y1="300.5" x2="470.45000000000005" y2="303.1" stroke="#111" stroke-width="0.9"/><line x1="473.55" y1="300.5" x2="473.55" y2="303.1" stroke="#111" stroke-width="0.9"/><line x1="475.65000000000003" y1="300.5" x2="475.65000000000003" y2="303.1" stroke="#111" stroke-width="0.9"/><line x1="477.45000000000005" y1="300.5" x2="477.45000000000005" y2="303.1" stroke="#111" stroke-width="0.9"/><line x1="479.15000000000003" y1="300.5" x2="479.15000000000003" y2="303.1" stroke="#111" stroke-width="0.9"/><line x1="480.85" y1="300.5" x2="480.85" y2="303.1" stroke="#111" stroke-width="0.9"/><line x1="482.45000000000005" y1="300.5" x2="482.45000000000005" y2="303.1" stroke="#111" stroke-width="0.9"/><line x1="484.05" y1="300.5" x2="484.05" y2="303.1" stroke="#111" stroke-width="0.9"/><line x1="488.85" y1="300.5" x2="488.85" y2="303.1" stroke="#111" stroke-width="0.9"/><line x1="491.25" y1="300.5" x2="491.25" y2="303.1" stroke="#111" stroke-width="0.9"/><line x1="494.25" y1="300.5" x2="494.25" y2="303.1" stroke="#111" stroke-width="0.9"/><line x1="496.85" y1="300.5" x2="496.85" y2="303.1" stroke="#111" stroke-width="0.9"/><line x1="498.65000000000003" y1="300.5" x2="498.65000000000003" y2="303.1" stroke="#111" stroke-width="0.9"/><line x1="500.35" y1="300.5" x2="500.35" y2="303.1" stroke="#111" stroke-width="0.9"/><line x1="501.85" y1="300.5" x2="501.85" y2="303.1" stroke="#111" stroke-width="0.9"/><line x1="506.35" y1="300.5" x2="506.35" y2="303.1" stroke="#111" stroke-width="0.9"/><line x1="508.95000000000005" y1="300.5" x2="508.95000000000005" y2="303.1" stroke="#111" stroke-width="0.9"/><line x1="457.25" y1="300.5" x2="457.25" y2="303.5" stroke="#111" stroke-width="1.1"/><line x1="485.65000000000003" y1="300.5" x2="485.65000000000003" y2="303.5" stroke="#111" stroke-width="1.1"/><line x1="503.35" y1="300.5" x2="503.35" y2="303.5" stroke="#111" stroke-width="1.1"/><line x1="209.2" y1="235.9" x2="212.1" y2="235.9" stroke="#111" stroke-width="1"/><line x1="209.2" y1="252.5" x2="212.1" y2="252.5" stroke="#111" stroke-width="1"/><line x1="209.2" y1="272.6" x2="212.1" y2="272.6" stroke="#111" stroke-width="1"/><line x1="209.2" y1="295.6" x2="212.1" y2="295.6" stroke="#111" stroke-width="1"/><rect x="209.6" y="283.2" width="2.6" height="2.2" fill="#111"/><line x1="210.3" y1="231" x2="212.1" y2="231" stroke="#111" stroke-width="0.8"/><line x1="210.3" y1="232.6" x2="212.1" y2="232.6" stroke="#111" stroke-width="0.8"/><line x1="210.3" y1="233.8" x2="212.1" y2="233.8" stroke="#111" stroke-width="0.8"/><line x1="210.3" y1="234.9" x2="212.1" y2="234.9" stroke="#111" stroke-width="0.8"/><line x1="210.3" y1="241.5" x2="212.1" y2="241.5" stroke="#111" stroke-width="0.8"/><line x1="210.3" y1="244.8" x2="212.1" y2="244.8" stroke="#111" stroke-width="0.8"/><line x1="210.3" y1="247" x2="212.1" y2="247" stroke="#111" stroke-width="0.8"/><line x1="210.3" y1="248.8" x2="212.1" y2="248.8" stroke="#111" stroke-width="0.8"/><line x1="210.3" y1="250.2" x2="212.1" y2="250.2" stroke="#111" stroke-width="0.8"/><line x1="210.3" y1="251.4" x2="212.1" y2="251.4" stroke="#111" stroke-width="0.8"/><line x1="210.3" y1="257" x2="212.1" y2="257" stroke="#111" stroke-width="0.8"/><line x1="210.3" y1="260.5" x2="212.1" y2="260.5" stroke="#111" stroke-width="0.8"/><line x1="210.3" y1="263" x2="212.1" y2="263" stroke="#111" stroke-width="0.8"/><line x1="210.3" y1="265" x2="212.1" y2="265" stroke="#111" stroke-width="0.8"/><line x1="210.3" y1="266.7" x2="212.1" y2="266.7" stroke="#111" stroke-width="0.8"/><line x1="210.3" y1="268.2" x2="212.1" y2="268.2" stroke="#111" stroke-width="0.8"/><line x1="210.3" y1="269.5" x2="212.1" y2="269.5" stroke="#111" stroke-width="0.8"/><line x1="210.3" y1="270.7" x2="212.1" y2="270.7" stroke="#111" stroke-width="0.8"/><line x1="210.3" y1="277" x2="212.1" y2="277" stroke="#111" stroke-width="0.8"/><line x1="210.3" y1="280" x2="212.1" y2="280" stroke="#111" stroke-width="0.8"/><line x1="210.3" y1="282" x2="212.1" y2="282" stroke="#111" stroke-width="0.8"/><line x1="210.3" y1="287.5" x2="212.1" y2="287.5" stroke="#111" stroke-width="0.8"/><line x1="210.3" y1="290" x2="212.1" y2="290" stroke="#111" stroke-width="0.8"/><line x1="210.3" y1="292" x2="212.1" y2="292" stroke="#111" stroke-width="0.8"/><line x1="210.3" y1="293.8" x2="212.1" y2="293.8" stroke="#111" stroke-width="0.8"/><line x1="210.3" y1="298.5" x2="212.1" y2="298.5" stroke="#111" stroke-width="0.8"/>
<text transform="translate(13.77,28.90) scale(0.884,1)" font-size="11.78" fill="#1a1a1a" stroke="#1a1a1a" stroke-width="0.1">A</text>
<text transform="translate(157.06,29.10) scale(0.820,1)" font-size="12.36" fill="#1a1a1a" stroke="#1a1a1a" stroke-width="0.1">B</text>
<text transform="translate(314.87,29.60) scale(0.794,1)" font-size="13.33" fill="#1a1a1a" stroke="#1a1a1a" stroke-width="0.1">C</text>
<text transform="translate(12.36,203.70) scale(1.024,1)" font-size="12.36" fill="#1a1a1a" stroke="#1a1a1a" stroke-width="0.1">D</text>
<text transform="translate(177.21,203.80) scale(0.749,1)" font-size="12.80" fill="#1a1a1a" stroke="#1a1a1a" stroke-width="0.1">E</text>
<text transform="translate(14.69,395.90) scale(0.836,1)" font-size="11.78" fill="#1a1a1a" stroke="#1a1a1a" stroke-width="0.1">F</text>
<text transform="translate(257.46,396.40) scale(0.843,1)" font-size="12.90" fill="#1a1a1a" stroke="#1a1a1a" stroke-width="0.1">G</text>
<text transform="translate(226.49,29.90) scale(0.885,1)" font-size="9.75" fill="#1a1a1a" stroke="#1a1a1a" stroke-width="0.1">OSU-CLL</text>
<text transform="translate(397.49,29.90) scale(0.885,1)" font-size="9.75" fill="#1a1a1a" stroke="#1a1a1a" stroke-width="0.1">OSU-CLL</text>
<text transform="translate(82.49,204.60) scale(0.876,1)" font-size="9.75" fill="#1a1a1a" stroke="#1a1a1a" stroke-width="0.1">OSU-CLL</text>
<text transform="translate(75.49,396.60) scale(0.912,1)" font-size="9.46" fill="#1a1a1a" stroke="#1a1a1a" stroke-width="0.1">OSU-CLL</text>
<text transform="translate(338.49,396.60) scale(0.912,1)" font-size="9.46" fill="#1a1a1a" stroke="#1a1a1a" stroke-width="0.1">OSU-CLL</text>
<line x1="43.2" y1="38" x2="43.2" y2="138.2" stroke="#1a1a1a" stroke-width="1.5"/>
<line x1="42.5" y1="137.75" x2="138.8" y2="137.75" stroke="#1a1a1a" stroke-width="1.5"/>
<line x1="39.6" y1="137.4" x2="43.2" y2="137.4" stroke="#1a1a1a" stroke-width="1"/>
<text transform="translate(32.15,140.20) scale(1.000,1)" font-size="8.03" fill="#1a1a1a" stroke="#1a1a1a" stroke-width="0.1">0</text>
<line x1="39.6" y1="113.325" x2="43.2" y2="113.325" stroke="#1a1a1a" stroke-width="1"/>
<text transform="translate(27.69,116.12) scale(1.000,1)" font-size="8.03" fill="#1a1a1a" stroke="#1a1a1a" stroke-width="0.1">20</text>
<line x1="39.6" y1="89.25" x2="43.2" y2="89.25" stroke="#1a1a1a" stroke-width="1"/>
<text transform="translate(27.69,92.05) scale(1.000,1)" font-size="8.03" fill="#1a1a1a" stroke="#1a1a1a" stroke-width="0.1">40</text>
<line x1="39.6" y1="65.175" x2="43.2" y2="65.175" stroke="#1a1a1a" stroke-width="1"/>
<text transform="translate(27.69,67.97) scale(1.000,1)" font-size="8.03" fill="#1a1a1a" stroke="#1a1a1a" stroke-width="0.1">60</text>
<line x1="39.6" y1="41.099999999999994" x2="43.2" y2="41.099999999999994" stroke="#1a1a1a" stroke-width="1"/>
<text transform="translate(27.69,43.90) scale(1.000,1)" font-size="8.03" fill="#1a1a1a" stroke="#1a1a1a" stroke-width="0.1">80</text>
<text transform="translate(20.70,114.32) rotate(-90) scale(0.900,1)" font-size="9.75" fill="#1a1a1a" stroke="#1a1a1a" stroke-width="0.1">HDAC6 MFIR</text>
<line x1="62.5" y1="137.75" x2="62.5" y2="140.8" stroke="#1a1a1a" stroke-width="1.1"/>
<line x1="91.2" y1="137.75" x2="91.2" y2="140.8" stroke="#1a1a1a" stroke-width="1.1"/>
<line x1="120.2" y1="137.75" x2="120.2" y2="140.8" stroke="#1a1a1a" stroke-width="1.1"/>
<text transform="translate(62.6,147.2) rotate(-45) scale(0.88,1)" x="0" y="0" font-size="8.5" text-anchor="end" fill="#1a1a1a" stroke="#1a1a1a" stroke-width="0.1">Normal</text>
<text transform="translate(69.8,154.5) rotate(-45) scale(0.88,1)" x="0" y="0" font-size="8.5" text-anchor="end" fill="#1a1a1a" stroke="#1a1a1a" stroke-width="0.1">B cells</text>
<text transform="translate(93.5,147.5) rotate(-45) scale(0.88,1)" x="0" y="0" font-size="8.5" text-anchor="end" fill="#1a1a1a" stroke="#1a1a1a" stroke-width="0.1">Mec2</text>
<text transform="translate(123.6,147.0) rotate(-45) scale(0.88,1)" x="0" y="0" font-size="8.5" text-anchor="end" fill="#1a1a1a" stroke="#1a1a1a" stroke-width="0.1">OSU-CLL</text>
<line x1="63" y1="43.4" x2="122.5" y2="43.4" stroke="#1a1a1a" stroke-width="1.1"/>
<circle cx="89.15" cy="40.20" r="1.12" fill="#1a1a1a"/>
<circle cx="92.50" cy="40.20" r="1.12" fill="#1a1a1a"/>
<circle cx="95.85" cy="40.20" r="1.12" fill="#1a1a1a"/>
<line x1="63" y1="57.5" x2="92" y2="57.5" stroke="#1a1a1a" stroke-width="1.1"/>
<circle cx="75.78" cy="54.60" r="1.12" fill="#1a1a1a"/>
<circle cx="79.12" cy="54.60" r="1.12" fill="#1a1a1a"/>
<line x1="62.7" y1="119.2" x2="62.7" y2="130.4" stroke="#1a1a1a" stroke-width="1"/>
<line x1="58.1" y1="119.2" x2="67.3" y2="119.2" stroke="#1a1a1a" stroke-width="1"/>
<line x1="58.1" y1="130.4" x2="67.3" y2="130.4" stroke="#1a1a1a" stroke-width="1"/>
<line x1="53" y1="125.2" x2="72" y2="125.2" stroke="#1a1a1a" stroke-width="1.2"/>
<circle cx="55.4" cy="118.2" r="1.9" fill="none" stroke="#d40000" stroke-width="1.1"/>
<circle cx="60.4" cy="121.2" r="1.9" fill="none" stroke="#d40000" stroke-width="1.1"/>
<circle cx="65" cy="122.1" r="1.9" fill="none" stroke="#d40000" stroke-width="1.1"/>
<circle cx="70" cy="120.6" r="1.9" fill="none" stroke="#d40000" stroke-width="1.1"/>
<circle cx="56.9" cy="128.2" r="1.9" fill="none" stroke="#d40000" stroke-width="1.1"/>
<circle cx="62.8" cy="132.7" r="1.9" fill="none" stroke="#d40000" stroke-width="1.1"/>
<circle cx="68.5" cy="131.9" r="1.9" fill="none" stroke="#d40000" stroke-width="1.1"/>
<line x1="90.8" y1="65" x2="90.8" y2="105.5" stroke="#1a1a1a" stroke-width="1"/>
<line x1="86.2" y1="65" x2="95.39999999999999" y2="65" stroke="#1a1a1a" stroke-width="1"/>
<line x1="86.2" y1="105.5" x2="95.39999999999999" y2="105.5" stroke="#1a1a1a" stroke-width="1"/>
<line x1="81" y1="85.5" x2="100.5" y2="85.5" stroke="#1a1a1a" stroke-width="1.2"/>
<circle cx="90.8" cy="65.2" r="1.9" fill="none" stroke="#d40000" stroke-width="1.3"/>
<circle cx="90.8" cy="87.8" r="1.9" fill="none" stroke="#d40000" stroke-width="1.3"/>
<circle cx="90.8" cy="104.8" r="1.9" fill="none" stroke="#d40000" stroke-width="1.3"/>
<line x1="120.2" y1="62.3" x2="120.2" y2="89.4" stroke="#1a1a1a" stroke-width="1"/>
<line x1="115.60000000000001" y1="62.3" x2="124.8" y2="62.3" stroke="#1a1a1a" stroke-width="1"/>
<line x1="115.60000000000001" y1="89.4" x2="124.8" y2="89.4" stroke="#1a1a1a" stroke-width="1"/>
<line x1="110.8" y1="76" x2="129.5" y2="76" stroke="#1a1a1a" stroke-width="1.2"/>
<polygon points="120.2,62.0 118.2,65.6 122.2,65.6" fill="#f4d0d0" stroke="#d40000" stroke-width="1.3" stroke-linejoin="round"/>
<polygon points="120.2,72.8 118.2,76.39999999999999 122.2,76.39999999999999" fill="#f4d0d0" stroke="#d40000" stroke-width="1.3" stroke-linejoin="round"/>
<polygon points="120.2,88.0 118.2,91.6 122.2,91.6" fill="#fff" stroke="#d40000" stroke-width="1.3" stroke-linejoin="round"/>
<line x1="197.5" y1="38.5" x2="197.5" y2="138.3" stroke="#1a1a1a" stroke-width="1.5"/>
<line x1="196.8" y1="137.8" x2="293.4" y2="137.8" stroke="#1a1a1a" stroke-width="1.5"/>
<line x1="194.2" y1="137.6" x2="197.5" y2="137.6" stroke="#1a1a1a" stroke-width="1"/>
<text transform="translate(187.09,140.30) scale(1.000,1)" font-size="7.74" fill="#1a1a1a" stroke="#1a1a1a" stroke-width="0.1">0</text>
<line x1="194.2" y1="113.425" x2="197.5" y2="113.425" stroke="#1a1a1a" stroke-width="1"/>
<text transform="translate(169.59,117.72) scale(1.112,1)" font-size="7.31" fill="#1a1a1a" stroke="#1a1a1a" stroke-width="0.1">2×10</text>
<text transform="translate(187.58,113.52) scale(1.293,1)" font-size="5.02" fill="#1a1a1a" stroke="#1a1a1a" stroke-width="0.1">6</text>
<line x1="194.2" y1="89.25" x2="197.5" y2="89.25" stroke="#1a1a1a" stroke-width="1"/>
<text transform="translate(169.82,93.55) scale(1.098,1)" font-size="7.31" fill="#1a1a1a" stroke="#1a1a1a" stroke-width="0.1">4×10</text>
<text transform="translate(187.58,89.35) scale(1.293,1)" font-size="5.02" fill="#1a1a1a" stroke="#1a1a1a" stroke-width="0.1">6</text>
<line x1="194.2" y1="65.075" x2="197.5" y2="65.075" stroke="#1a1a1a" stroke-width="1"/>
<text transform="translate(169.59,69.38) scale(1.112,1)" font-size="7.31" fill="#1a1a1a" stroke="#1a1a1a" stroke-width="0.1">6×10</text>
<text transform="translate(187.58,65.17) scale(1.293,1)" font-size="5.02" fill="#1a1a1a" stroke="#1a1a1a" stroke-width="0.1">6</text>
<line x1="194.2" y1="40.900000000000006" x2="197.5" y2="40.900000000000006" stroke="#1a1a1a" stroke-width="1"/>
<text transform="translate(169.66,45.20) scale(1.108,1)" font-size="7.31" fill="#1a1a1a" stroke="#1a1a1a" stroke-width="0.1">8×10</text>
<text transform="translate(187.58,41.00) scale(1.293,1)" font-size="5.02" fill="#1a1a1a" stroke="#1a1a1a" stroke-width="0.1">6</text>
<text transform="translate(162.60,122.05) rotate(-90) scale(0.924,1)" font-size="10.21" fill="#1a1a1a" stroke="#1a1a1a" stroke-width="0.1">Viable cell count</text>
<line x1="213.25" y1="137.6" x2="213.25" y2="140.4" stroke="#1a1a1a" stroke-width="1"/>
<text transform="translate(211.53,151.55) scale(1.000,1)" font-size="7.60" fill="#1a1a1a" stroke="#1a1a1a" stroke-width="0.1">0</text>
<line x1="246.25" y1="137.6" x2="246.25" y2="140.4" stroke="#1a1a1a" stroke-width="1"/>
<text transform="translate(242.51,151.55) scale(1.000,1)" font-size="7.60" fill="#1a1a1a" stroke="#1a1a1a" stroke-width="0.1">48</text>
<line x1="278" y1="137.6" x2="278" y2="140.4" stroke="#1a1a1a" stroke-width="1"/>
<text transform="translate(274.17,151.55) scale(1.000,1)" font-size="7.60" fill="#1a1a1a" stroke="#1a1a1a" stroke-width="0.1">72</text>
<text transform="translate(219.89,165.10) scale(0.947,1)" font-size="9.79" fill="#1a1a1a" stroke="#1a1a1a" stroke-width="0.1">Time (hours)</text>
<polyline points="213.25,132.00 246.25,93.75 278.00,68.00" fill="none" stroke="#d40000" stroke-width="1.4" stroke-linejoin="round"/>
<polyline points="213.25,132.50 246.25,127.00 278.00,130.00" fill="none" stroke="#0a66d4" stroke-width="1.4" stroke-linejoin="round"/>
<line x1="246.25" y1="92" x2="246.25" y2="95.5" stroke="#1a1a1a" stroke-width="1"/>
<line x1="244.25" y1="92" x2="248.25" y2="92" stroke="#1a1a1a" stroke-width="1"/>
<line x1="244.25" y1="95.5" x2="248.25" y2="95.5" stroke="#1a1a1a" stroke-width="1"/>
<line x1="278" y1="62.5" x2="278" y2="73" stroke="#1a1a1a" stroke-width="1"/>
<line x1="276" y1="62.5" x2="280" y2="62.5" stroke="#1a1a1a" stroke-width="1"/>
<line x1="276" y1="73" x2="280" y2="73" stroke="#1a1a1a" stroke-width="1"/>
<line x1="213.25" y1="130.5" x2="213.25" y2="134" stroke="#1a1a1a" stroke-width="1"/>
<line x1="211.25" y1="130.5" x2="215.25" y2="130.5" stroke="#1a1a1a" stroke-width="1"/>
<line x1="211.25" y1="134" x2="215.25" y2="134" stroke="#1a1a1a" stroke-width="1"/>
<line x1="246.25" y1="125.5" x2="246.25" y2="128.5" stroke="#1a1a1a" stroke-width="1"/>
<line x1="244.25" y1="125.5" x2="248.25" y2="125.5" stroke="#1a1a1a" stroke-width="1"/>
<line x1="244.25" y1="128.5" x2="248.25" y2="128.5" stroke="#1a1a1a" stroke-width="1"/>
<rect x="211.55" y="130.3" width="3.4" height="3.4" fill="none" stroke="#d40000" stroke-width="1"/>
<rect x="244.55" y="92.05" width="3.4" height="3.4" fill="none" stroke="#d40000" stroke-width="1"/>
<rect x="276.3" y="66.3" width="3.4" height="3.4" fill="none" stroke="#d40000" stroke-width="1"/>
<circle cx="213.25" cy="132.5" r="1.7" fill="none" stroke="#0a66d4" stroke-width="1"/>
<circle cx="246.25" cy="127" r="1.7" fill="none" stroke="#0a66d4" stroke-width="1"/>
<circle cx="278" cy="130" r="1.7" fill="none" stroke="#0a66d4" stroke-width="1"/>
<line x1="193.8" y1="175.2" x2="213.8" y2="175.2" stroke="#d40000" stroke-width="1.4"/>
<rect x="202.0" y="173.39999999999998" width="3.6" height="3.6" fill="#fff" stroke="#d40000" stroke-width="1"/>
<text transform="translate(217.43,178.10) scale(0.834,1)" font-size="8.32" fill="#1a1a1a" stroke="#1a1a1a" stroke-width="0.1">DMSO</text>
<line x1="247.8" y1="175.2" x2="268.6" y2="175.2" stroke="#0a66d4" stroke-width="1.4"/>
<circle cx="258.2" cy="175.2" r="1.9" fill="#fff" stroke="#0a66d4" stroke-width="1"/>
<text transform="translate(272.28,177.80) scale(0.866,1)" font-size="7.89" fill="#1a1a1a" stroke="#1a1a1a" stroke-width="0.1">ACY738</text>
<line x1="344.5" y1="38.8" x2="344.5" y2="138.2" stroke="#1a1a1a" stroke-width="1.5"/>
<line x1="343.8" y1="137.7" x2="488.8" y2="137.7" stroke="#1a1a1a" stroke-width="1.5"/>
<line x1="341.2" y1="137.5" x2="344.5" y2="137.5" stroke="#1a1a1a" stroke-width="1"/>
<text transform="translate(334.02,140.25) scale(1.000,1)" font-size="7.89" fill="#1a1a1a" stroke="#1a1a1a" stroke-width="0.1">0</text>
<line x1="341.2" y1="113.5625" x2="344.5" y2="113.5625" stroke="#1a1a1a" stroke-width="1"/>
<text transform="translate(329.64,116.31) scale(1.000,1)" font-size="7.89" fill="#1a1a1a" stroke="#1a1a1a" stroke-width="0.1">10</text>
<line x1="341.2" y1="89.625" x2="344.5" y2="89.625" stroke="#1a1a1a" stroke-width="1"/>
<text transform="translate(329.64,92.38) scale(1.000,1)" font-size="7.89" fill="#1a1a1a" stroke="#1a1a1a" stroke-width="0.1">20</text>
<line x1="341.2" y1="65.6875" x2="344.5" y2="65.6875" stroke="#1a1a1a" stroke-width="1"/>
<text transform="translate(329.64,68.44) scale(1.000,1)" font-size="7.89" fill="#1a1a1a" stroke="#1a1a1a" stroke-width="0.1">30</text>
<line x1="341.2" y1="41.75" x2="344.5" y2="41.75" stroke="#1a1a1a" stroke-width="1"/>
<text transform="translate(329.64,44.50) scale(1.000,1)" font-size="7.89" fill="#1a1a1a" stroke="#1a1a1a" stroke-width="0.1">40</text>
<text transform="translate(322.60,111.82) rotate(-90) scale(0.860,1)" font-size="10.76" fill="#1a1a1a" stroke="#1a1a1a" stroke-width="0.1">% total cells</text>
<rect x="353.00" y="123.14" width="9.60" height="14.36" fill="#d40000"/>
<rect x="366.00" y="118.83" width="9.60" height="18.67" fill="#0a66d4"/>
<line x1="357.8" y1="121.2225" x2="357.8" y2="125.0525" stroke="#1a1a1a" stroke-width="1"/>
<line x1="356.0" y1="121.2225" x2="359.6" y2="121.2225" stroke="#1a1a1a" stroke-width="1"/>
<line x1="356.0" y1="125.0525" x2="359.6" y2="125.0525" stroke="#1a1a1a" stroke-width="1"/>
<line x1="370.8" y1="115.47749999999999" x2="370.8" y2="122.17999999999999" stroke="#1a1a1a" stroke-width="1"/>
<line x1="369.0" y1="115.47749999999999" x2="372.6" y2="115.47749999999999" stroke="#1a1a1a" stroke-width="1"/>
<line x1="369.0" y1="122.17999999999999" x2="372.6" y2="122.17999999999999" stroke="#1a1a1a" stroke-width="1"/>
<line x1="364.3" y1="137.7" x2="364.3" y2="140.8" stroke="#1a1a1a" stroke-width="1.1"/>
<text transform="translate(359.09,151.90) scale(1.000,1)" font-size="7.74" fill="#1a1a1a" stroke="#1a1a1a" stroke-width="0.1">G0</text>
<rect x="387.50" y="97.28" width="9.60" height="40.22" fill="#d40000"/>
<rect x="400.50" y="66.88" width="9.60" height="70.62" fill="#0a66d4"/>
<line x1="392.3" y1="94.4125" x2="392.3" y2="100.1575" stroke="#1a1a1a" stroke-width="1"/>
<line x1="390.5" y1="94.4125" x2="394.1" y2="94.4125" stroke="#1a1a1a" stroke-width="1"/>
<line x1="390.5" y1="100.1575" x2="394.1" y2="100.1575" stroke="#1a1a1a" stroke-width="1"/>
<line x1="405.3" y1="61.37875" x2="405.3" y2="72.39" stroke="#1a1a1a" stroke-width="1"/>
<line x1="403.5" y1="61.37875" x2="407.1" y2="61.37875" stroke="#1a1a1a" stroke-width="1"/>
<line x1="403.5" y1="72.39" x2="407.1" y2="72.39" stroke="#1a1a1a" stroke-width="1"/>
<line x1="398.8" y1="137.7" x2="398.8" y2="140.8" stroke="#1a1a1a" stroke-width="1.1"/>
<text transform="translate(393.63,151.90) scale(1.000,1)" font-size="7.74" fill="#1a1a1a" stroke="#1a1a1a" stroke-width="0.1">G1</text>
<rect x="422.20" y="116.44" width="9.60" height="21.06" fill="#d40000"/>
<rect x="435.20" y="115.24" width="9.60" height="22.26" fill="#0a66d4"/>
<line x1="427.0" y1="114.759375" x2="427.0" y2="118.110625" stroke="#1a1a1a" stroke-width="1"/>
<line x1="425.2" y1="114.759375" x2="428.8" y2="114.759375" stroke="#1a1a1a" stroke-width="1"/>
<line x1="425.2" y1="118.110625" x2="428.8" y2="118.110625" stroke="#1a1a1a" stroke-width="1"/>
<line x1="440.0" y1="113.801875" x2="440.0" y2="116.674375" stroke="#1a1a1a" stroke-width="1"/>
<line x1="438.2" y1="113.801875" x2="441.8" y2="113.801875" stroke="#1a1a1a" stroke-width="1"/>
<line x1="438.2" y1="116.674375" x2="441.8" y2="116.674375" stroke="#1a1a1a" stroke-width="1"/>
<line x1="433.5" y1="137.7" x2="433.5" y2="140.8" stroke="#1a1a1a" stroke-width="1.1"/>
<text transform="translate(430.93,151.90) scale(1.000,1)" font-size="7.74" fill="#1a1a1a" stroke="#1a1a1a" stroke-width="0.1">S</text>
<rect x="457.00" y="51.33" width="9.60" height="86.17" fill="#d40000"/>
<rect x="470.00" y="63.29" width="9.60" height="74.21" fill="#0a66d4"/>
<line x1="461.8" y1="50.128125" x2="461.8" y2="52.521874999999994" stroke="#1a1a1a" stroke-width="1"/>
<line x1="460.0" y1="50.128125" x2="463.6" y2="50.128125" stroke="#1a1a1a" stroke-width="1"/>
<line x1="460.0" y1="52.521874999999994" x2="463.6" y2="52.521874999999994" stroke="#1a1a1a" stroke-width="1"/>
<line x1="474.8" y1="60.900000000000006" x2="474.8" y2="65.6875" stroke="#1a1a1a" stroke-width="1"/>
<line x1="473.0" y1="60.900000000000006" x2="476.6" y2="60.900000000000006" stroke="#1a1a1a" stroke-width="1"/>
<line x1="473.0" y1="65.6875" x2="476.6" y2="65.6875" stroke="#1a1a1a" stroke-width="1"/>
<line x1="468.3" y1="137.7" x2="468.3" y2="140.8" stroke="#1a1a1a" stroke-width="1.1"/>
<text transform="translate(459.32,151.90) scale(1.000,1)" font-size="7.45" fill="#1a1a1a" stroke="#1a1a1a" stroke-width="0.1">G2/M</text>
<line x1="392.4" y1="55.4" x2="404.3" y2="55.4" stroke="#1a1a1a" stroke-width="1.1"/>
<circle cx="396.50" cy="52.40" r="1.12" fill="#1a1a1a"/>
<circle cx="400.00" cy="52.40" r="1.12" fill="#1a1a1a"/>
<line x1="462.7" y1="45.7" x2="474.4" y2="45.7" stroke="#1a1a1a" stroke-width="1.1"/>
<circle cx="468.50" cy="42.70" r="1.12" fill="#1a1a1a"/>
<text transform="translate(383.14,165.50) scale(0.910,1)" font-size="10.21" fill="#1a1a1a" stroke="#1a1a1a" stroke-width="0.1">Cell</text>
<text transform="translate(403.20,165.50) scale(0.922,1)" font-size="10.21" fill="#1a1a1a" stroke="#1a1a1a" stroke-width="0.1">cycle stage</text>
<rect x="376.10" y="173.00" width="5.00" height="4.70" fill="#d40000"/>
<text transform="translate(383.78,177.90) scale(0.968,1)" font-size="7.74" fill="#1a1a1a" stroke="#1a1a1a" stroke-width="0.1">DMSO</text>
<rect x="418.60" y="173.00" width="5.00" height="4.70" fill="#0a66d4"/>
<text transform="translate(426.48,177.90) scale(0.931,1)" font-size="7.74" fill="#1a1a1a" stroke="#1a1a1a" stroke-width="0.1">ACY738</text>
<line x1="42.9" y1="210.2" x2="42.9" y2="291.1" stroke="#1a1a1a" stroke-width="1.5"/>
<line x1="42.2" y1="290.4" x2="159.6" y2="290.4" stroke="#1a1a1a" stroke-width="1.5"/>
<line x1="39.6" y1="290.4" x2="42.9" y2="290.4" stroke="#1a1a1a" stroke-width="1"/>
<text transform="translate(31.55,293.20) scale(1.000,1)" font-size="8.03" fill="#1a1a1a" stroke="#1a1a1a" stroke-width="0.1">0</text>
<line x1="39.6" y1="271.25" x2="42.9" y2="271.25" stroke="#1a1a1a" stroke-width="1"/>
<text transform="translate(27.09,274.05) scale(1.000,1)" font-size="8.03" fill="#1a1a1a" stroke="#1a1a1a" stroke-width="0.1">20</text>
<line x1="39.6" y1="252.1" x2="42.9" y2="252.1" stroke="#1a1a1a" stroke-width="1"/>
<text transform="translate(27.09,254.90) scale(1.000,1)" font-size="8.03" fill="#1a1a1a" stroke="#1a1a1a" stroke-width="0.1">40</text>
<line x1="39.6" y1="232.95" x2="42.9" y2="232.95" stroke="#1a1a1a" stroke-width="1"/>
<text transform="translate(27.09,235.75) scale(1.000,1)" font-size="8.03" fill="#1a1a1a" stroke="#1a1a1a" stroke-width="0.1">60</text>
<line x1="39.6" y1="213.8" x2="42.9" y2="213.8" stroke="#1a1a1a" stroke-width="1"/>
<text transform="translate(27.09,216.60) scale(1.000,1)" font-size="8.03" fill="#1a1a1a" stroke="#1a1a1a" stroke-width="0.1">80</text>
<text transform="translate(21.50,276.83) rotate(-90) scale(0.916,1)" font-size="10.34" fill="#1a1a1a" stroke="#1a1a1a" stroke-width="0.1">% total cells</text>
<rect x="45.70" y="228.16" width="5" height="62.24" fill="#572767" stroke="#43155a" stroke-width="0.6"/>
<line x1="48.199999999999996" y1="219.54500000000002" x2="48.199999999999996" y2="236.78" stroke="#1a1a1a" stroke-width="0.9"/>
<line x1="46.9" y1="219.54500000000002" x2="49.49999999999999" y2="219.54500000000002" stroke="#1a1a1a" stroke-width="0.9"/>
<line x1="46.9" y1="236.78" x2="49.49999999999999" y2="236.78" stroke="#1a1a1a" stroke-width="0.9"/>
<rect x="52.10" y="279.87" width="5.00" height="10.53" fill="#d40000"/>
<line x1="54.599999999999994" y1="274.1225" x2="54.599999999999994" y2="285.61249999999995" stroke="#1a1a1a" stroke-width="0.9"/>
<line x1="53.3" y1="274.1225" x2="55.89999999999999" y2="274.1225" stroke="#1a1a1a" stroke-width="0.9"/>
<line x1="53.3" y1="285.61249999999995" x2="55.89999999999999" y2="285.61249999999995" stroke="#1a1a1a" stroke-width="0.9"/>
<rect x="58.50" y="270.29" width="5.00" height="20.11" fill="#0a66d4"/>
<line x1="61.0" y1="268.3775" x2="61.0" y2="272.2075" stroke="#1a1a1a" stroke-width="0.9"/>
<line x1="59.7" y1="268.3775" x2="62.3" y2="268.3775" stroke="#1a1a1a" stroke-width="0.9"/>
<line x1="59.7" y1="272.2075" x2="62.3" y2="272.2075" stroke="#1a1a1a" stroke-width="0.9"/>
<rect x="64.90" y="289.44" width="5.00" height="0.96" fill="#5aa832"/>
<line x1="67.4" y1="289.15524999999997" x2="67.4" y2="289.72974999999997" stroke="#1a1a1a" stroke-width="0.9"/>
<line x1="66.10000000000001" y1="289.15524999999997" x2="68.7" y2="289.15524999999997" stroke="#1a1a1a" stroke-width="0.9"/>
<line x1="66.10000000000001" y1="289.72974999999997" x2="68.7" y2="289.72974999999997" stroke="#1a1a1a" stroke-width="0.9"/>
<line x1="57.3" y1="290.4" x2="57.3" y2="293" stroke="#1a1a1a" stroke-width="1"/>
<rect x="74.60" y="228.64" width="5" height="61.76" fill="#572767" stroke="#43155a" stroke-width="0.6"/>
<line x1="77.10000000000001" y1="227.87525" x2="77.10000000000001" y2="229.40725" stroke="#1a1a1a" stroke-width="0.9"/>
<line x1="75.80000000000001" y1="227.87525" x2="78.4" y2="227.87525" stroke="#1a1a1a" stroke-width="0.9"/>
<line x1="75.80000000000001" y1="229.40725" x2="78.4" y2="229.40725" stroke="#1a1a1a" stroke-width="0.9"/>
<rect x="81.00" y="283.22" width="5.00" height="7.18" fill="#d40000"/>
<line x1="83.50000000000001" y1="279.38874999999996" x2="83.50000000000001" y2="287.04875" stroke="#1a1a1a" stroke-width="0.9"/>
<line x1="82.20000000000002" y1="279.38874999999996" x2="84.80000000000001" y2="279.38874999999996" stroke="#1a1a1a" stroke-width="0.9"/>
<line x1="82.20000000000002" y1="287.04875" x2="84.80000000000001" y2="287.04875" stroke="#1a1a1a" stroke-width="0.9"/>
<rect x="87.40" y="266.18" width="5.00" height="24.22" fill="#0a66d4"/>
<line x1="89.9" y1="265.6965" x2="89.9" y2="266.654" stroke="#1a1a1a" stroke-width="0.9"/>
<line x1="88.60000000000001" y1="265.6965" x2="91.2" y2="265.6965" stroke="#1a1a1a" stroke-width="0.9"/>
<line x1="88.60000000000001" y1="266.654" x2="91.2" y2="266.654" stroke="#1a1a1a" stroke-width="0.9"/>
<rect x="93.80" y="288.96" width="5.00" height="1.44" fill="#5aa832"/>
<line x1="96.30000000000001" y1="286.57" x2="96.30000000000001" y2="290.4" stroke="#1a1a1a" stroke-width="0.9"/>
<line x1="95.00000000000001" y1="286.57" x2="97.60000000000001" y2="286.57" stroke="#1a1a1a" stroke-width="0.9"/>
<line x1="95.00000000000001" y1="290.4" x2="97.60000000000001" y2="290.4" stroke="#1a1a1a" stroke-width="0.9"/>
<line x1="86.2" y1="290.4" x2="86.2" y2="293" stroke="#1a1a1a" stroke-width="1"/>
<rect x="102.80" y="237.26" width="5" height="53.14" fill="#572767" stroke="#43155a" stroke-width="0.6"/>
<line x1="105.30000000000001" y1="231.035" x2="105.30000000000001" y2="243.48250000000002" stroke="#1a1a1a" stroke-width="0.9"/>
<line x1="104.00000000000001" y1="231.035" x2="106.60000000000001" y2="231.035" stroke="#1a1a1a" stroke-width="0.9"/>
<line x1="104.00000000000001" y1="243.48250000000002" x2="106.60000000000001" y2="243.48250000000002" stroke="#1a1a1a" stroke-width="0.9"/>
<rect x="109.20" y="277.00" width="5.00" height="13.40" fill="#d40000"/>
<line x1="111.70000000000002" y1="270.77125" x2="111.70000000000002" y2="283.21875" stroke="#1a1a1a" stroke-width="0.9"/>
<line x1="110.40000000000002" y1="270.77125" x2="113.00000000000001" y2="270.77125" stroke="#1a1a1a" stroke-width="0.9"/>
<line x1="110.40000000000002" y1="283.21875" x2="113.00000000000001" y2="283.21875" stroke="#1a1a1a" stroke-width="0.9"/>
<rect x="115.60" y="263.59" width="5.00" height="26.81" fill="#0a66d4"/>
<line x1="118.10000000000001" y1="261.19624999999996" x2="118.10000000000001" y2="265.98375" stroke="#1a1a1a" stroke-width="0.9"/>
<line x1="116.80000000000001" y1="261.19624999999996" x2="119.4" y2="261.19624999999996" stroke="#1a1a1a" stroke-width="0.9"/>
<line x1="116.80000000000001" y1="265.98375" x2="119.4" y2="265.98375" stroke="#1a1a1a" stroke-width="0.9"/>
<rect x="122.00" y="289.44" width="5.00" height="0.96" fill="#5aa832"/>
<line x1="124.50000000000001" y1="288.96375" x2="124.50000000000001" y2="289.92125" stroke="#1a1a1a" stroke-width="0.9"/>
<line x1="123.20000000000002" y1="288.96375" x2="125.80000000000001" y2="288.96375" stroke="#1a1a1a" stroke-width="0.9"/>
<line x1="123.20000000000002" y1="289.92125" x2="125.80000000000001" y2="289.92125" stroke="#1a1a1a" stroke-width="0.9"/>
<line x1="114.4" y1="290.4" x2="114.4" y2="293" stroke="#1a1a1a" stroke-width="1"/>
<rect x="132.30" y="262.92" width="5" height="27.48" fill="#572767" stroke="#43155a" stroke-width="0.6"/>
<line x1="134.8" y1="258.611" x2="134.8" y2="267.2285" stroke="#1a1a1a" stroke-width="0.9"/>
<line x1="133.5" y1="258.611" x2="136.10000000000002" y2="258.611" stroke="#1a1a1a" stroke-width="0.9"/>
<line x1="133.5" y1="267.2285" x2="136.10000000000002" y2="267.2285" stroke="#1a1a1a" stroke-width="0.9"/>
<rect x="138.70" y="279.01" width="5.00" height="11.39" fill="#d40000"/>
<line x1="141.20000000000002" y1="273.26075" x2="141.20000000000002" y2="284.75075" stroke="#1a1a1a" stroke-width="0.9"/>
<line x1="139.9" y1="273.26075" x2="142.50000000000003" y2="273.26075" stroke="#1a1a1a" stroke-width="0.9"/>
<line x1="139.9" y1="284.75075" x2="142.50000000000003" y2="284.75075" stroke="#1a1a1a" stroke-width="0.9"/>
<rect x="145.10" y="239.65" width="5.00" height="50.75" fill="#0a66d4"/>
<line x1="147.60000000000002" y1="235.8225" x2="147.60000000000002" y2="243.48250000000002" stroke="#1a1a1a" stroke-width="0.9"/>
<line x1="146.3" y1="235.8225" x2="148.90000000000003" y2="235.8225" stroke="#1a1a1a" stroke-width="0.9"/>
<line x1="146.3" y1="243.48250000000002" x2="148.90000000000003" y2="243.48250000000002" stroke="#1a1a1a" stroke-width="0.9"/>
<rect x="151.50" y="284.94" width="5.00" height="5.46" fill="#5aa832"/>
<line x1="154.0" y1="279.48449999999997" x2="154.0" y2="290.4" stroke="#1a1a1a" stroke-width="0.9"/>
<line x1="152.7" y1="279.48449999999997" x2="155.3" y2="279.48449999999997" stroke="#1a1a1a" stroke-width="0.9"/>
<line x1="152.7" y1="290.4" x2="155.3" y2="290.4" stroke="#1a1a1a" stroke-width="0.9"/>
<line x1="143.9" y1="290.4" x2="143.9" y2="293" stroke="#1a1a1a" stroke-width="1"/>
<circle cx="133.00" cy="254.70" r="1.064" fill="#4a1a5c"/>
<circle cx="136.50" cy="254.70" r="1.064" fill="#4a1a5c"/>
<circle cx="143.90" cy="231.40" r="1.064" fill="#0a66d4"/>
<circle cx="147.25" cy="231.40" r="1.064" fill="#0a66d4"/>
<circle cx="150.60" cy="231.40" r="1.064" fill="#0a66d4"/>
<text transform="translate(45.53,304.10) scale(1.000,1)" font-size="7.89" fill="#1a1a1a" stroke="#1a1a1a" stroke-width="0.1">DMSO</text>
<text transform="translate(80.72,304.10) scale(1.000,1)" font-size="7.89" fill="#1a1a1a" stroke="#1a1a1a" stroke-width="0.1">0.5</text>
<text transform="translate(112.67,304.10) scale(1.000,1)" font-size="8.00" fill="#1a1a1a" stroke="#1a1a1a" stroke-width="0.1">1</text>
<text transform="translate(141.58,304.10) scale(1.000,1)" font-size="8.00" fill="#1a1a1a" stroke="#1a1a1a" stroke-width="0.1">5</text>
<text transform="translate(73.68,318.30) scale(0.932,1)" font-size="9.66" fill="#1a1a1a" stroke="#1a1a1a" stroke-width="0.1">ACY738 (um)</text>
<rect x="62.40" y="326.30" width="4.30" height="4.00" fill="#4a1a5c"/>
<text transform="translate(69.76,331.00) scale(0.941,1)" font-size="7.59" fill="#1a1a1a" stroke="#1a1a1a" stroke-width="0.1">Viable (Q4)</text>
<rect x="62.40" y="338.05" width="4.30" height="4.00" fill="#d40000"/>
<text transform="translate(69.19,342.75) scale(0.968,1)" font-size="7.59" fill="#1a1a1a" stroke="#1a1a1a" stroke-width="0.1">Early Apoptosis (Q3)</text>
<rect x="62.40" y="349.80" width="4.30" height="4.00" fill="#0a66d4"/>
<text transform="translate(69.19,354.50) scale(0.974,1)" font-size="7.59" fill="#1a1a1a" stroke="#1a1a1a" stroke-width="0.1">Late Apoptosis (Q2)</text>
<rect x="62.40" y="361.55" width="4.30" height="4.00" fill="#5aa832"/>
<text transform="translate(69.20,366.25) scale(0.965,1)" font-size="7.59" fill="#1a1a1a" stroke="#1a1a1a" stroke-width="0.1">Non Viable (Q1)</text>
<line x1="43" y1="414.8" x2="43" y2="504.9" stroke="#1a1a1a" stroke-width="1.5"/>
<line x1="42.3" y1="504.2" x2="146.3" y2="504.2" stroke="#1a1a1a" stroke-width="1.5"/>
<line x1="39.6" y1="504.0" x2="43" y2="504.0" stroke="#1a1a1a" stroke-width="1"/>
<text transform="translate(27.69,506.80) scale(1.000,1)" font-size="8.03" fill="#1a1a1a" stroke="#1a1a1a" stroke-width="0.1">40</text>
<line x1="39.6" y1="482.5" x2="43" y2="482.5" stroke="#1a1a1a" stroke-width="1"/>
<text transform="translate(27.69,485.30) scale(1.000,1)" font-size="8.03" fill="#1a1a1a" stroke="#1a1a1a" stroke-width="0.1">60</text>
<line x1="39.6" y1="461.0" x2="43" y2="461.0" stroke="#1a1a1a" stroke-width="1"/>
<text transform="translate(27.69,463.80) scale(1.000,1)" font-size="8.03" fill="#1a1a1a" stroke="#1a1a1a" stroke-width="0.1">80</text>
<line x1="39.6" y1="439.5" x2="43" y2="439.5" stroke="#1a1a1a" stroke-width="1"/>
<text transform="translate(23.21,442.30) scale(1.000,1)" font-size="8.03" fill="#1a1a1a" stroke="#1a1a1a" stroke-width="0.1">100</text>
<line x1="39.6" y1="418.0" x2="43" y2="418.0" stroke="#1a1a1a" stroke-width="1"/>
<text transform="translate(23.21,420.80) scale(1.000,1)" font-size="8.03" fill="#1a1a1a" stroke="#1a1a1a" stroke-width="0.1">120</text>
<text transform="translate(16.00,480.63) rotate(-90) scale(0.939,1)" font-size="10.07" fill="#1a1a1a" stroke="#1a1a1a" stroke-width="0.1">% change</text>
<line x1="60" y1="504.2" x2="60" y2="507.4" stroke="#1a1a1a" stroke-width="1.1"/>
<text transform="translate(48.03,518.05) scale(1.000,1)" font-size="7.89" fill="#1a1a1a" stroke="#1a1a1a" stroke-width="0.1">DMSO</text>
<line x1="94.5" y1="504.2" x2="94.5" y2="507.4" stroke="#1a1a1a" stroke-width="1.1"/>
<text transform="translate(89.05,518.05) scale(1.000,1)" font-size="7.89" fill="#1a1a1a" stroke="#1a1a1a" stroke-width="0.1">0.1</text>
<line x1="129.2" y1="504.2" x2="129.2" y2="507.4" stroke="#1a1a1a" stroke-width="1.1"/>
<text transform="translate(126.87,518.05) scale(1.000,1)" font-size="8.00" fill="#1a1a1a" stroke="#1a1a1a" stroke-width="0.1">1</text>
<text transform="translate(67.68,532.00) scale(0.988,1)" font-size="9.10" fill="#1a1a1a" stroke="#1a1a1a" stroke-width="0.1">ACY738 (uM)</text>
<line x1="58.8" y1="408.3" x2="127.5" y2="408.3" stroke="#5aa832" stroke-width="1.1"/>
<circle cx="91.20" cy="405.30" r="1.064" fill="#5aa832"/>
<circle cx="94.70" cy="405.30" r="1.064" fill="#5aa832"/>
<line x1="58.8" y1="414.2" x2="127.5" y2="414.2" stroke="#bdbdbd" stroke-width="1.1"/>
<circle cx="92.95" cy="411.20" r="1.064" fill="#bdbdbd"/>
<line x1="58.8" y1="420.3" x2="127.5" y2="420.3" stroke="#d40000" stroke-width="1.1"/>
<circle cx="91.20" cy="417.30" r="1.064" fill="#d40000"/>
<circle cx="94.70" cy="417.30" r="1.064" fill="#d40000"/>
<line x1="58.8" y1="426.4" x2="127.5" y2="426.4" stroke="#0a66d4" stroke-width="1.1"/>
<circle cx="89.45" cy="423.40" r="1.064" fill="#0a66d4"/>
<circle cx="92.95" cy="423.40" r="1.064" fill="#0a66d4"/>
<circle cx="96.45" cy="423.40" r="1.064" fill="#0a66d4"/>
<line x1="58.8" y1="432.4" x2="127.5" y2="432.4" stroke="#5a3577" stroke-width="1.1"/>
<circle cx="89.45" cy="429.40" r="1.064" fill="#5a3577"/>
<circle cx="92.95" cy="429.40" r="1.064" fill="#5a3577"/>
<circle cx="96.45" cy="429.40" r="1.064" fill="#5a3577"/>
<polyline points="60.00,439.50 94.50,450.57 129.20,451.65" fill="none" stroke="#c8c8c8" stroke-width="1.5" stroke-linejoin="round"/>
<polyline points="60.00,439.50 94.50,453.05 129.20,471.75" fill="none" stroke="#d40000" stroke-width="1.5" stroke-linejoin="round"/>
<polyline points="60.00,439.50 94.50,452.51 129.20,470.03" fill="none" stroke="#5aa832" stroke-width="1.5" stroke-linejoin="round"/>
<polyline points="60.00,439.50 94.50,454.33 129.20,473.69" fill="none" stroke="#0a66d4" stroke-width="1.5" stroke-linejoin="round"/>
<polyline points="60.00,439.50 94.50,458.53 129.20,477.56" fill="none" stroke="#5a3577" stroke-width="1.5" stroke-linejoin="round"/>
<line x1="94.5" y1="448.96" x2="94.5" y2="452.185" stroke="#c8c8c8" stroke-width="1"/>
<line x1="92.7" y1="448.96" x2="96.3" y2="448.96" stroke="#c8c8c8" stroke-width="1"/>
<line x1="92.7" y1="452.185" x2="96.3" y2="452.185" stroke="#c8c8c8" stroke-width="1"/>
<line x1="129.2" y1="448.4225" x2="129.2" y2="454.8725" stroke="#c8c8c8" stroke-width="1"/>
<line x1="127.39999999999999" y1="448.4225" x2="131.0" y2="448.4225" stroke="#c8c8c8" stroke-width="1"/>
<line x1="127.39999999999999" y1="454.8725" x2="131.0" y2="454.8725" stroke="#c8c8c8" stroke-width="1"/>
<line x1="94.5" y1="444.445" x2="94.5" y2="461.645" stroke="#d40000" stroke-width="1"/>
<line x1="92.7" y1="444.445" x2="96.3" y2="444.445" stroke="#d40000" stroke-width="1"/>
<line x1="92.7" y1="461.645" x2="96.3" y2="461.645" stroke="#d40000" stroke-width="1"/>
<line x1="129.2" y1="464.225" x2="129.2" y2="479.275" stroke="#d40000" stroke-width="1"/>
<line x1="127.39999999999999" y1="464.225" x2="131.0" y2="464.225" stroke="#d40000" stroke-width="1"/>
<line x1="127.39999999999999" y1="479.275" x2="131.0" y2="479.275" stroke="#d40000" stroke-width="1"/>
<line x1="94.5" y1="451.4325" x2="94.5" y2="453.5825" stroke="#5aa832" stroke-width="1"/>
<line x1="92.7" y1="451.4325" x2="96.3" y2="451.4325" stroke="#5aa832" stroke-width="1"/>
<line x1="92.7" y1="453.5825" x2="96.3" y2="453.5825" stroke="#5aa832" stroke-width="1"/>
<line x1="129.2" y1="461.5375" x2="129.2" y2="478.5225" stroke="#5aa832" stroke-width="1"/>
<line x1="127.39999999999999" y1="461.5375" x2="131.0" y2="461.5375" stroke="#5aa832" stroke-width="1"/>
<line x1="127.39999999999999" y1="478.5225" x2="131.0" y2="478.5225" stroke="#5aa832" stroke-width="1"/>
<line x1="94.5" y1="452.185" x2="94.5" y2="456.485" stroke="#0a66d4" stroke-width="1"/>
<line x1="92.7" y1="452.185" x2="96.3" y2="452.185" stroke="#0a66d4" stroke-width="1"/>
<line x1="92.7" y1="456.485" x2="96.3" y2="456.485" stroke="#0a66d4" stroke-width="1"/>
<line x1="129.2" y1="471.32" x2="129.2" y2="476.05" stroke="#0a66d4" stroke-width="1"/>
<line x1="127.39999999999999" y1="471.32" x2="131.0" y2="471.32" stroke="#0a66d4" stroke-width="1"/>
<line x1="127.39999999999999" y1="476.05" x2="131.0" y2="476.05" stroke="#0a66d4" stroke-width="1"/>
<line x1="94.5" y1="456.3775" x2="94.5" y2="460.6775" stroke="#5a3577" stroke-width="1"/>
<line x1="92.7" y1="456.3775" x2="96.3" y2="456.3775" stroke="#5a3577" stroke-width="1"/>
<line x1="92.7" y1="460.6775" x2="96.3" y2="460.6775" stroke="#5a3577" stroke-width="1"/>
<line x1="129.2" y1="469.4925" x2="129.2" y2="485.6175" stroke="#5a3577" stroke-width="1"/>
<line x1="127.39999999999999" y1="469.4925" x2="131.0" y2="469.4925" stroke="#5a3577" stroke-width="1"/>
<line x1="127.39999999999999" y1="485.6175" x2="131.0" y2="485.6175" stroke="#5a3577" stroke-width="1"/>
<polygon points="60.00,441.50 58.00,437.97 62.00,437.97" fill="#fff" stroke="#c8c8c8" stroke-width="1"/>
<polygon points="94.50,452.57 92.50,449.04 96.50,449.04" fill="#fff" stroke="#c8c8c8" stroke-width="1"/>
<polygon points="129.20,453.65 127.20,450.12 131.20,450.12" fill="#fff" stroke="#c8c8c8" stroke-width="1"/>
<polygon points="60.00,437.50 58.00,441.03 62.00,441.03" fill="#fff" stroke="#d40000" stroke-width="1"/>
<polygon points="94.50,451.05 92.50,454.57 96.50,454.57" fill="#fff" stroke="#d40000" stroke-width="1"/>
<polygon points="129.20,469.75 127.20,473.28 131.20,473.28" fill="#fff" stroke="#d40000" stroke-width="1"/>
<polygon points="60.00,437.30 57.80,439.50 60.00,441.70 62.20,439.50" fill="#5aa832" stroke="#5aa832" stroke-width="0.8"/>
<polygon points="94.50,450.31 92.30,452.51 94.50,454.71 96.70,452.51" fill="#5aa832" stroke="#5aa832" stroke-width="0.8"/>
<polygon points="129.20,467.83 127.00,470.03 129.20,472.23 131.40,470.03" fill="#5aa832" stroke="#5aa832" stroke-width="0.8"/>
<rect x="58.20" y="437.70" width="3.6" height="3.6" fill="#fff" stroke="#0a66d4" stroke-width="1"/>
<rect x="92.70" y="452.53" width="3.6" height="3.6" fill="#fff" stroke="#0a66d4" stroke-width="1"/>
<rect x="127.40" y="471.88" width="3.6" height="3.6" fill="#fff" stroke="#0a66d4" stroke-width="1"/>
<circle cx="60.00" cy="439.50" r="1.8" fill="#fff" stroke="#5a3577" stroke-width="1"/>
<circle cx="94.50" cy="458.53" r="1.8" fill="#fff" stroke="#5a3577" stroke-width="1"/>
<circle cx="129.20" cy="477.56" r="1.8" fill="#fff" stroke="#5a3577" stroke-width="1"/>
<line x1="149.3" y1="437.2" x2="168.6" y2="437.2" stroke="#5a3577" stroke-width="1.4"/>
<circle cx="158.70" cy="437.20" r="1.8" fill="#fff" stroke="#5a3577" stroke-width="1"/>
<text transform="translate(170.85,439.00) scale(0.973,1)" font-size="7.17" fill="#1a1a1a" stroke="#1a1a1a" stroke-width="0.1">p-BTK Y223</text>
<line x1="149.3" y1="448.4" x2="168.6" y2="448.4" stroke="#0a66d4" stroke-width="1.4"/>
<rect x="156.90" y="446.60" width="3.6" height="3.6" fill="#fff" stroke="#0a66d4" stroke-width="1"/>
<text transform="translate(170.84,450.80) scale(1.017,1)" font-size="7.03" fill="#1a1a1a" stroke="#1a1a1a" stroke-width="0.1">p-AKT S473</text>
<line x1="149.3" y1="460.4" x2="168.6" y2="460.4" stroke="#d40000" stroke-width="1.4"/>
<polygon points="158.70,458.40 156.70,461.93 160.70,461.93" fill="#fff" stroke="#d40000" stroke-width="1"/>
<text transform="translate(170.83,462.50) scale(1.040,1)" font-size="6.90" fill="#1a1a1a" stroke="#1a1a1a" stroke-width="0.1">p-SYK Y525/526</text>
<line x1="149.3" y1="472.5" x2="168.6" y2="472.5" stroke="#c8c8c8" stroke-width="1.4"/>
<polygon points="158.70,474.50 156.70,470.97 160.70,470.97" fill="#fff" stroke="#c8c8c8" stroke-width="1"/>
<text transform="translate(170.84,474.40) scale(1.032,1)" font-size="6.90" fill="#1a1a1a" stroke="#1a1a1a" stroke-width="0.1">p-ERK T202/Y204</text>
<line x1="149.3" y1="483.7" x2="168.6" y2="483.7" stroke="#5aa832" stroke-width="1.4"/>
<polygon points="158.70,481.50 156.50,483.70 158.70,485.90 160.90,483.70" fill="#5aa832" stroke="#5aa832" stroke-width="0.8"/>
<text transform="translate(170.82,486.00) scale(1.067,1)" font-size="6.90" fill="#1a1a1a" stroke="#1a1a1a" stroke-width="0.1">p-IKK-α/β S176/180</text>
<line x1="291.8" y1="407.5" x2="291.8" y2="504.9" stroke="#1a1a1a" stroke-width="1.5"/>
<line x1="291.1" y1="504.3" x2="422.6" y2="504.3" stroke="#1a1a1a" stroke-width="1.5"/>
<line x1="288.5" y1="504.8" x2="291.8" y2="504.8" stroke="#1a1a1a" stroke-width="1"/>
<text transform="translate(277.34,507.55) scale(1.000,1)" font-size="7.89" fill="#1a1a1a" stroke="#1a1a1a" stroke-width="0.1">40</text>
<line x1="288.5" y1="481.3" x2="291.8" y2="481.3" stroke="#1a1a1a" stroke-width="1"/>
<text transform="translate(277.34,484.05) scale(1.000,1)" font-size="7.89" fill="#1a1a1a" stroke="#1a1a1a" stroke-width="0.1">60</text>
<line x1="288.5" y1="457.8" x2="291.8" y2="457.8" stroke="#1a1a1a" stroke-width="1"/>
<text transform="translate(277.34,460.55) scale(1.000,1)" font-size="7.89" fill="#1a1a1a" stroke="#1a1a1a" stroke-width="0.1">80</text>
<line x1="288.5" y1="434.3" x2="291.8" y2="434.3" stroke="#1a1a1a" stroke-width="1"/>
<text transform="translate(272.95,437.05) scale(1.000,1)" font-size="7.89" fill="#1a1a1a" stroke="#1a1a1a" stroke-width="0.1">100</text>
<line x1="288.5" y1="410.8" x2="291.8" y2="410.8" stroke="#1a1a1a" stroke-width="1"/>
<text transform="translate(272.95,413.55) scale(1.000,1)" font-size="7.89" fill="#1a1a1a" stroke="#1a1a1a" stroke-width="0.1">120</text>
<text transform="translate(265.00,477.43) rotate(-90) scale(0.952,1)" font-size="9.93" fill="#1a1a1a" stroke="#1a1a1a" stroke-width="0.1">% change</text>
<line x1="312" y1="504.3" x2="312" y2="507.4" stroke="#1a1a1a" stroke-width="1.1"/>
<text transform="translate(300.03,518.25) scale(1.000,1)" font-size="7.89" fill="#1a1a1a" stroke="#1a1a1a" stroke-width="0.1">DMSO</text>
<line x1="342.2" y1="504.3" x2="342.2" y2="507.4" stroke="#1a1a1a" stroke-width="1.1"/>
<text transform="translate(336.72,518.25) scale(1.000,1)" font-size="7.89" fill="#1a1a1a" stroke="#1a1a1a" stroke-width="0.1">0.5</text>
<line x1="372.5" y1="504.3" x2="372.5" y2="507.4" stroke="#1a1a1a" stroke-width="1.1"/>
<text transform="translate(370.17,518.25) scale(1.000,1)" font-size="8.00" fill="#1a1a1a" stroke="#1a1a1a" stroke-width="0.1">1</text>
<line x1="402.5" y1="504.3" x2="402.5" y2="507.4" stroke="#1a1a1a" stroke-width="1.1"/>
<text transform="translate(400.28,518.25) scale(1.000,1)" font-size="8.00" fill="#1a1a1a" stroke="#1a1a1a" stroke-width="0.1">5</text>
<text transform="translate(330.08,532.00) scale(0.981,1)" font-size="9.10" fill="#1a1a1a" stroke="#1a1a1a" stroke-width="0.1">ACY738 (um)</text>
<polyline points="312.00,434.30 342.20,443.82 372.50,442.64 402.50,454.75" fill="none" stroke="#d40000" stroke-width="1.8" stroke-linejoin="round"/>
<polyline points="312.00,434.30 342.20,454.04 372.50,461.32 402.50,482.12" fill="none" stroke="#0a66d4" stroke-width="1.8" stroke-linejoin="round"/>
<line x1="312" y1="430.54" x2="312" y2="438.06" stroke="#0a66d4" stroke-width="1.1"/>
<line x1="309.9" y1="430.54" x2="314.1" y2="430.54" stroke="#0a66d4" stroke-width="1.1"/>
<line x1="309.9" y1="438.06" x2="314.1" y2="438.06" stroke="#0a66d4" stroke-width="1.1"/>
<line x1="342.2" y1="452.395" x2="342.2" y2="455.685" stroke="#0a66d4" stroke-width="1.1"/>
<line x1="340.09999999999997" y1="452.395" x2="344.3" y2="452.395" stroke="#0a66d4" stroke-width="1.1"/>
<line x1="340.09999999999997" y1="455.685" x2="344.3" y2="455.685" stroke="#0a66d4" stroke-width="1.1"/>
<line x1="372.5" y1="456.7425" x2="372.5" y2="465.9075" stroke="#0a66d4" stroke-width="1.1"/>
<line x1="370.4" y1="456.7425" x2="374.6" y2="456.7425" stroke="#0a66d4" stroke-width="1.1"/>
<line x1="370.4" y1="465.9075" x2="374.6" y2="465.9075" stroke="#0a66d4" stroke-width="1.1"/>
<line x1="402.5" y1="480.4775" x2="402.5" y2="483.76750000000004" stroke="#0a66d4" stroke-width="1.1"/>
<line x1="400.4" y1="480.4775" x2="404.6" y2="480.4775" stroke="#0a66d4" stroke-width="1.1"/>
<line x1="400.4" y1="483.76750000000004" x2="404.6" y2="483.76750000000004" stroke="#0a66d4" stroke-width="1.1"/>
<line x1="372.5" y1="441.115" x2="372.5" y2="444.17" stroke="#d40000" stroke-width="1.1"/>
<line x1="370.4" y1="441.115" x2="374.6" y2="441.115" stroke="#d40000" stroke-width="1.1"/>
<line x1="370.4" y1="444.17" x2="374.6" y2="444.17" stroke="#d40000" stroke-width="1.1"/>
<line x1="402.5" y1="453.1" x2="402.5" y2="456.39000000000004" stroke="#d40000" stroke-width="1.1"/>
<line x1="400.4" y1="453.1" x2="404.6" y2="453.1" stroke="#d40000" stroke-width="1.1"/>
<line x1="400.4" y1="456.39000000000004" x2="404.6" y2="456.39000000000004" stroke="#d40000" stroke-width="1.1"/>
<circle cx="312.00" cy="434.30" r="1.6" fill="#fff" stroke="#d40000" stroke-width="1.4"/>
<circle cx="342.20" cy="443.82" r="1.6" fill="#fff" stroke="#d40000" stroke-width="1.4"/>
<circle cx="372.50" cy="442.64" r="1.6" fill="#fff" stroke="#d40000" stroke-width="1.4"/>
<circle cx="402.50" cy="454.75" r="1.6" fill="#fff" stroke="#d40000" stroke-width="1.4"/>
<circle cx="312.00" cy="434.30" r="1.6" fill="#fff" stroke="#0a66d4" stroke-width="1.4"/>
<circle cx="342.20" cy="454.04" r="1.6" fill="#fff" stroke="#0a66d4" stroke-width="1.4"/>
<circle cx="372.50" cy="461.32" r="1.6" fill="#fff" stroke="#0a66d4" stroke-width="1.4"/>
<circle cx="402.50" cy="482.12" r="1.6" fill="#fff" stroke="#0a66d4" stroke-width="1.4"/>
<circle cx="342.90" cy="437.80" r="1.12" fill="#d40000"/>
<circle cx="372.70" cy="436.00" r="1.12" fill="#d40000"/>
<circle cx="400.90" cy="447.80" r="1.12" fill="#d40000"/>
<circle cx="404.50" cy="447.80" r="1.12" fill="#d40000"/>
<circle cx="340.35" cy="460.90" r="1.12" fill="#0a66d4"/>
<circle cx="343.95" cy="460.90" r="1.12" fill="#0a66d4"/>
<circle cx="371.20" cy="471.30" r="1.12" fill="#0a66d4"/>
<circle cx="374.80" cy="471.30" r="1.12" fill="#0a66d4"/>
<circle cx="399.95" cy="489.70" r="1.12" fill="#0a66d4"/>
<circle cx="403.55" cy="489.70" r="1.12" fill="#0a66d4"/>
<circle cx="407.15" cy="489.70" r="1.12" fill="#0a66d4"/>
<line x1="294.9" y1="484.9" x2="314.9" y2="484.9" stroke="#d40000" stroke-width="1.5"/>
<circle cx="304.50" cy="484.90" r="1.6" fill="#fff" stroke="#d40000" stroke-width="1.6"/>
<text transform="translate(317.63,487.50) scale(0.925,1)" font-size="7.53" fill="#1a1a1a" stroke="#1a1a1a" stroke-width="0.1">BCL-2</text>
<line x1="294.9" y1="496.5" x2="314.9" y2="496.5" stroke="#0a66d4" stroke-width="1.5"/>
<circle cx="304.50" cy="496.50" r="1.6" fill="#fff" stroke="#0a66d4" stroke-width="1.6"/>
<text transform="translate(317.63,499.10) scale(0.972,1)" font-size="7.17" fill="#1a1a1a" stroke="#1a1a1a" stroke-width="0.1">MCL-1</text>
<text transform="translate(185.10,277.55) rotate(-90) scale(0.987,1)" font-size="9.38" fill="#1a1a1a" stroke="#1a1a1a" stroke-width="0.1">Viable</text>
<text transform="translate(236.57,224.00) scale(0.926,1)" font-size="8.24" fill="#1a1a1a" stroke="#1a1a1a" stroke-width="0.1">DMSO</text>
<line x1="245.5" y1="228.85" x2="245.5" y2="300.5" stroke="#666" stroke-width="0.9"/>
<line x1="212.1" y1="265.2" x2="284.1" y2="265.2" stroke="#666" stroke-width="0.9"/>
<rect x="212.1" y="228.85" width="71.75" height="71.65" fill="none" stroke="#1a1a1a" stroke-width="1.5"/>
<text transform="translate(213.12,238.55) scale(1.000,1)" font-size="6.88" fill="#1a1a1a" stroke="#1a1a1a" stroke-width="0.25" font-weight="bold">Q1</text>
<text transform="translate(212.98,246.60) scale(1.000,1)" font-size="6.74" fill="#1a1a1a" stroke="#1a1a1a" stroke-width="0.25" font-weight="bold">1.36</text>
<text transform="translate(267.11,238.55) scale(1.000,1)" font-size="6.88" fill="#1a1a1a" stroke="#1a1a1a" stroke-width="0.25" font-weight="bold">Q2</text>
<text transform="translate(263.13,246.60) scale(1.000,1)" font-size="6.74" fill="#1a1a1a" stroke="#1a1a1a" stroke-width="0.25" font-weight="bold">19.6</text>
<text transform="translate(213.12,288.30) scale(1.000,1)" font-size="6.88" fill="#1a1a1a" stroke="#1a1a1a" stroke-width="0.25" font-weight="bold">Q4</text>
<text transform="translate(213.11,296.20) scale(1.000,1)" font-size="6.74" fill="#1a1a1a" stroke="#1a1a1a" stroke-width="0.25" font-weight="bold">70.9</text>
<text transform="translate(267.07,288.30) scale(1.000,1)" font-size="6.88" fill="#1a1a1a" stroke="#1a1a1a" stroke-width="0.25" font-weight="bold">Q3</text>
<text transform="translate(263.08,296.20) scale(1.000,1)" font-size="6.74" fill="#1a1a1a" stroke="#1a1a1a" stroke-width="0.25" font-weight="bold">8.15</text>
<text transform="translate(228.48,314.40) scale(1.000,1)" font-size="7.60" fill="#1a1a1a" stroke="#1a1a1a" stroke-width="0.1">0</text>
<text transform="translate(254.63,314.50) scale(1.003,1)" font-size="7.60" fill="#1a1a1a" stroke="#1a1a1a" stroke-width="0.1">10</text>
<text transform="translate(263.89,310.90) scale(1.001,1)" font-size="4.95" fill="#1a1a1a" stroke="#1a1a1a" stroke-width="0.15">4</text>
<text transform="translate(270.75,314.50) scale(0.963,1)" font-size="7.60" fill="#1a1a1a" stroke="#1a1a1a" stroke-width="0.1">10</text>
<text transform="translate(279.29,310.90) scale(1.064,1)" font-size="4.95" fill="#1a1a1a" stroke="#1a1a1a" stroke-width="0.15">5</text>
<text transform="translate(298.09,224.00) scale(0.930,1)" font-size="8.24" fill="#1a1a1a" stroke="#1a1a1a" stroke-width="0.1">0.5uM ACY738</text>
<line x1="321.5" y1="228.85" x2="321.5" y2="300.5" stroke="#666" stroke-width="0.9"/>
<line x1="287.85" y1="265.2" x2="359.85" y2="265.2" stroke="#666" stroke-width="0.9"/>
<rect x="287.85" y="228.85" width="72.0" height="71.65" fill="none" stroke="#1a1a1a" stroke-width="1.5"/>
<text transform="translate(288.87,238.55) scale(1.000,1)" font-size="6.88" fill="#1a1a1a" stroke="#1a1a1a" stroke-width="0.25" font-weight="bold">Q1</text>
<text transform="translate(288.72,246.60) scale(1.000,1)" font-size="6.84" fill="#1a1a1a" stroke="#1a1a1a" stroke-width="0.25" font-weight="bold">1.15</text>
<text transform="translate(342.86,238.55) scale(1.000,1)" font-size="6.88" fill="#1a1a1a" stroke="#1a1a1a" stroke-width="0.25" font-weight="bold">Q2</text>
<text transform="translate(338.83,246.60) scale(1.000,1)" font-size="6.74" fill="#1a1a1a" stroke="#1a1a1a" stroke-width="0.25" font-weight="bold">25.1</text>
<text transform="translate(288.87,288.30) scale(1.000,1)" font-size="6.88" fill="#1a1a1a" stroke="#1a1a1a" stroke-width="0.25" font-weight="bold">Q4</text>
<text transform="translate(288.90,296.20) scale(1.000,1)" font-size="6.74" fill="#1a1a1a" stroke="#1a1a1a" stroke-width="0.25" font-weight="bold">63.1</text>
<text transform="translate(342.82,288.30) scale(1.000,1)" font-size="6.88" fill="#1a1a1a" stroke="#1a1a1a" stroke-width="0.25" font-weight="bold">Q3</text>
<text transform="translate(338.93,296.20) scale(1.000,1)" font-size="6.74" fill="#1a1a1a" stroke="#1a1a1a" stroke-width="0.25" font-weight="bold">10.7</text>
<text transform="translate(304.23,314.40) scale(1.000,1)" font-size="7.60" fill="#1a1a1a" stroke="#1a1a1a" stroke-width="0.1">0</text>
<text transform="translate(330.38,314.50) scale(1.003,1)" font-size="7.60" fill="#1a1a1a" stroke="#1a1a1a" stroke-width="0.1">10</text>
<text transform="translate(339.64,310.90) scale(1.001,1)" font-size="4.95" fill="#1a1a1a" stroke="#1a1a1a" stroke-width="0.15">4</text>
<text transform="translate(346.50,314.50) scale(0.963,1)" font-size="7.60" fill="#1a1a1a" stroke="#1a1a1a" stroke-width="0.1">10</text>
<text transform="translate(355.04,310.90) scale(1.064,1)" font-size="4.95" fill="#1a1a1a" stroke="#1a1a1a" stroke-width="0.15">5</text>
<text transform="translate(377.32,224.00) scale(0.935,1)" font-size="8.24" fill="#1a1a1a" stroke="#1a1a1a" stroke-width="0.1">1uM ACY738</text>
<line x1="397.5" y1="228.85" x2="397.5" y2="300.5" stroke="#666" stroke-width="0.9"/>
<line x1="363.85" y1="265.2" x2="435.85" y2="265.2" stroke="#666" stroke-width="0.9"/>
<rect x="363.85" y="228.85" width="72.0" height="71.65" fill="none" stroke="#1a1a1a" stroke-width="1.5"/>
<text transform="translate(364.87,238.55) scale(1.000,1)" font-size="6.88" fill="#1a1a1a" stroke="#1a1a1a" stroke-width="0.25" font-weight="bold">Q1</text>
<text transform="translate(364.88,246.60) scale(1.000,1)" font-size="6.74" fill="#1a1a1a" stroke="#1a1a1a" stroke-width="0.25" font-weight="bold">0.96</text>
<text transform="translate(418.86,238.55) scale(1.000,1)" font-size="6.88" fill="#1a1a1a" stroke="#1a1a1a" stroke-width="0.25" font-weight="bold">Q2</text>
<text transform="translate(414.68,246.60) scale(1.000,1)" font-size="6.74" fill="#1a1a1a" stroke="#1a1a1a" stroke-width="0.25" font-weight="bold">30.4</text>
<text transform="translate(364.87,288.30) scale(1.000,1)" font-size="6.88" fill="#1a1a1a" stroke="#1a1a1a" stroke-width="0.25" font-weight="bold">Q4</text>
<text transform="translate(365.05,296.20) scale(1.000,1)" font-size="6.74" fill="#1a1a1a" stroke="#1a1a1a" stroke-width="0.25" font-weight="bold">49.2</text>
<text transform="translate(418.82,288.30) scale(1.000,1)" font-size="6.88" fill="#1a1a1a" stroke="#1a1a1a" stroke-width="0.25" font-weight="bold">Q3</text>
<text transform="translate(414.68,296.20) scale(1.000,1)" font-size="6.74" fill="#1a1a1a" stroke="#1a1a1a" stroke-width="0.25" font-weight="bold">19.4</text>
<text transform="translate(380.23,314.40) scale(1.000,1)" font-size="7.60" fill="#1a1a1a" stroke="#1a1a1a" stroke-width="0.1">0</text>
<text transform="translate(406.38,314.50) scale(1.003,1)" font-size="7.60" fill="#1a1a1a" stroke="#1a1a1a" stroke-width="0.1">10</text>
<text transform="translate(415.64,310.90) scale(1.001,1)" font-size="4.95" fill="#1a1a1a" stroke="#1a1a1a" stroke-width="0.15">4</text>
<text transform="translate(422.50,314.50) scale(0.963,1)" font-size="7.60" fill="#1a1a1a" stroke="#1a1a1a" stroke-width="0.1">10</text>
<text transform="translate(431.04,310.90) scale(1.064,1)" font-size="4.95" fill="#1a1a1a" stroke="#1a1a1a" stroke-width="0.15">5</text>
<text transform="translate(453.59,224.00) scale(0.929,1)" font-size="8.24" fill="#1a1a1a" stroke="#1a1a1a" stroke-width="0.1">5uM ACY738</text>
<line x1="474.1" y1="228.85" x2="474.1" y2="300.5" stroke="#666" stroke-width="0.9"/>
<line x1="439.85" y1="265.2" x2="511.85" y2="265.2" stroke="#666" stroke-width="0.9"/>
<rect x="439.85" y="228.85" width="72.0" height="71.65" fill="none" stroke="#1a1a1a" stroke-width="1.5"/>
<text transform="translate(440.87,238.55) scale(1.000,1)" font-size="6.88" fill="#1a1a1a" stroke="#1a1a1a" stroke-width="0.25" font-weight="bold">Q1</text>
<text transform="translate(440.73,246.60) scale(1.000,1)" font-size="6.74" fill="#1a1a1a" stroke="#1a1a1a" stroke-width="0.25" font-weight="bold">11.9</text>
<text transform="translate(494.86,238.55) scale(1.000,1)" font-size="6.88" fill="#1a1a1a" stroke="#1a1a1a" stroke-width="0.25" font-weight="bold">Q2</text>
<text transform="translate(490.83,246.60) scale(1.000,1)" font-size="6.74" fill="#1a1a1a" stroke="#1a1a1a" stroke-width="0.25" font-weight="bold">49.5</text>
<text transform="translate(440.87,288.30) scale(1.000,1)" font-size="6.88" fill="#1a1a1a" stroke="#1a1a1a" stroke-width="0.25" font-weight="bold">Q4</text>
<text transform="translate(441.00,296.20) scale(1.000,1)" font-size="6.74" fill="#1a1a1a" stroke="#1a1a1a" stroke-width="0.25" font-weight="bold">33.4</text>
<text transform="translate(494.82,288.30) scale(1.000,1)" font-size="6.88" fill="#1a1a1a" stroke="#1a1a1a" stroke-width="0.25" font-weight="bold">Q3</text>
<text transform="translate(490.88,296.20) scale(1.000,1)" font-size="6.74" fill="#1a1a1a" stroke="#1a1a1a" stroke-width="0.25" font-weight="bold">5.19</text>
<text transform="translate(456.23,314.40) scale(1.000,1)" font-size="7.60" fill="#1a1a1a" stroke="#1a1a1a" stroke-width="0.1">0</text>
<text transform="translate(482.38,314.50) scale(1.003,1)" font-size="7.60" fill="#1a1a1a" stroke="#1a1a1a" stroke-width="0.1">10</text>
<text transform="translate(491.64,310.90) scale(1.001,1)" font-size="4.95" fill="#1a1a1a" stroke="#1a1a1a" stroke-width="0.15">4</text>
<text transform="translate(498.50,314.50) scale(0.963,1)" font-size="7.60" fill="#1a1a1a" stroke="#1a1a1a" stroke-width="0.1">10</text>
<text transform="translate(507.04,310.90) scale(1.064,1)" font-size="4.95" fill="#1a1a1a" stroke="#1a1a1a" stroke-width="0.15">5</text>
<text transform="translate(194.67,239.85) scale(1.000,1)" font-size="7.03" fill="#1a1a1a" stroke="#1a1a1a" stroke-width="0.1">10</text>
<text transform="translate(202.57,236.50) scale(1.303,1)" font-size="4.36" fill="#1a1a1a" stroke="#1a1a1a" stroke-width="0.15">5</text>
<text transform="translate(194.67,256.55) scale(1.000,1)" font-size="7.03" fill="#1a1a1a" stroke="#1a1a1a" stroke-width="0.1">10</text>
<text transform="translate(202.68,253.40) scale(1.225,1)" font-size="4.36" fill="#1a1a1a" stroke="#1a1a1a" stroke-width="0.15">4</text>
<text transform="translate(194.67,276.95) scale(1.000,1)" font-size="7.03" fill="#1a1a1a" stroke="#1a1a1a" stroke-width="0.1">10</text>
<text transform="translate(202.59,273.70) scale(1.322,1)" font-size="4.30" fill="#1a1a1a" stroke="#1a1a1a" stroke-width="0.15">3</text>
<text transform="translate(202.19,287.60) scale(1.000,1)" font-size="7.17" fill="#1a1a1a" stroke="#1a1a1a" stroke-width="0.1">0</text>
<text transform="translate(192.31,299.70) scale(1.000,1)" font-size="7.03" fill="#1a1a1a" stroke="#1a1a1a" stroke-width="0.1">-10</text>
<text transform="translate(202.59,296.30) scale(1.322,1)" font-size="4.30" fill="#1a1a1a" stroke="#1a1a1a" stroke-width="0.15">3</text>
<text transform="translate(225.18,327.00) scale(1.021,1)" font-size="9.10" fill="#1a1a1a" stroke="#1a1a1a" stroke-width="0.1">Annexin V</text>
<line x1="270.8" y1="324.3" x2="508.8" y2="324.3" stroke="#1a1a1a" stroke-width="1.2"/>
<rect x="0" y="0" width="520" height="1" fill="#3c3c3c"/>
<rect x="0" y="1" width="520" height="1" fill="#9a9a9a"/>
<rect x="0" y="0" width="1" height="541" fill="#3c3c3c"/>
<rect x="1" y="0" width="1" height="541" fill="#6a6a6a"/>
<rect x="519" y="0" width="1" height="541" fill="#0a0a0a"/>
<rect x="518" y="0" width="1" height="541" fill="#8a8a8a"/>
<rect x="0" y="540" width="520" height="1" fill="#0a0a0a"/>
<rect x="0" y="539" width="520" height="1" fill="#8a8a8a"/>
</svg>
</body></html>
